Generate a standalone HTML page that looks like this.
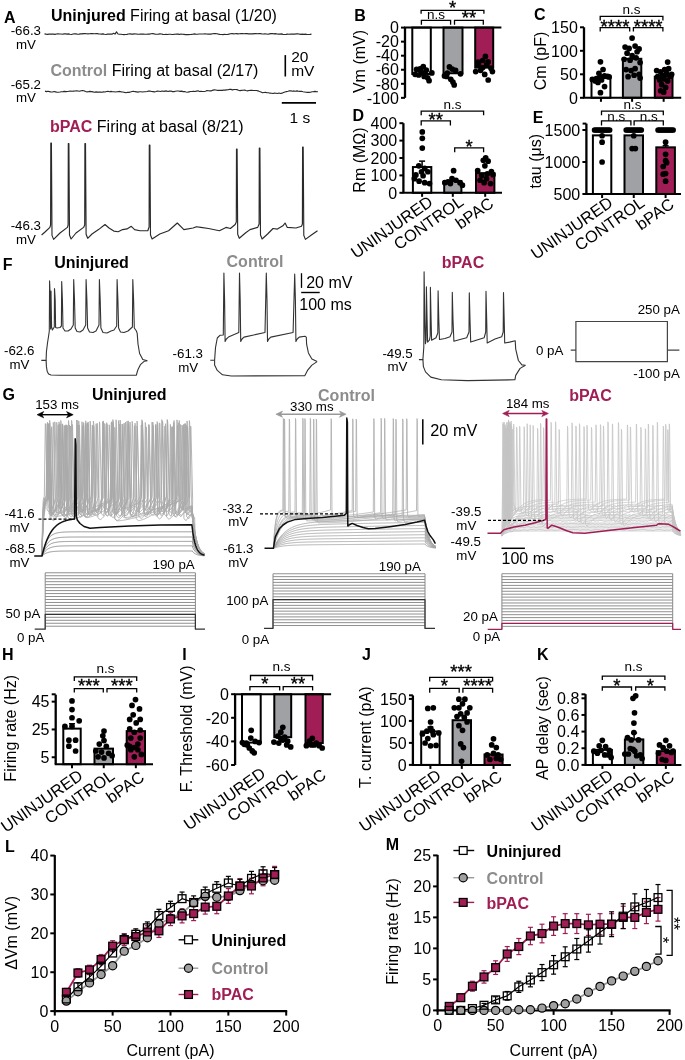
<!DOCTYPE html>
<html><head><meta charset="utf-8"><style>
html,body{margin:0;padding:0;background:#fff;width:685px;height:1060px;overflow:hidden}
svg{display:block;font-family:"Liberation Sans", sans-serif;will-change:transform}
</style></head><body>
<svg width="685" height="1060" viewBox="0 0 685 1060">
<text x="4" y="22.6" font-size="16" font-weight="bold" fill="#000" text-anchor="start">A</text>
<text x="51" y="20.9" font-size="16"><tspan font-weight="bold">Uninjured</tspan> Firing at basal (1/20)</text>
<text x="50.4" y="75.9" font-size="16"><tspan font-weight="bold" fill="#8c8c8c">Control</tspan> Firing at basal (2/17)</text>
<text x="50" y="131.8" font-size="16"><tspan font-weight="bold" fill="#a01e55">bPAC</tspan> Firing at basal (8/21)</text>
<text x="41" y="35" font-size="13.3" fill="#000" text-anchor="end">-66.3</text>
<text x="36" y="48.8" font-size="13.3" fill="#000" text-anchor="end">mV</text>
<text x="41" y="88.8" font-size="13.3" fill="#000" text-anchor="end">-65.2</text>
<text x="36" y="102.4" font-size="13.3" fill="#000" text-anchor="end">mV</text>
<text x="41" y="230.3" font-size="13.3" fill="#000" text-anchor="end">-46.3</text>
<text x="36" y="243.8" font-size="13.3" fill="#000" text-anchor="end">mV</text>
<path d="M44.5 33.84 L46 34.16 L47.5 34.33 L49 34.09 L50.5 34.09 L52 34.06 L53.5 34.18 L55 34.36 L56.5 33.99 L58 33.7 L59.5 34.05 L61 34.02 L62.5 34.23 L64 33.84 L65.5 33.88 L67 34.1 L68.5 33.91 L70 34.28 L71.5 34.51 L73 34.06 L74.5 33.74 L76 33.87 L77.5 34.25 L79 34.12 L80.5 33.92 L82 33.92 L83.5 33.64 L85 33.58 L86.5 33.7 L88 33.81 L89.5 33.71 L91 33.64 L92.5 33.58 L94 33.71 L95.5 33.68 L97 33.47 L98.5 33.9 L100 34 L101.5 34.13 L103 33.9 L104.5 34.3 L106 34.49 L107.5 34.11 L109 33.99 L110.5 34.18 L112 34.18 L113.5 33.35 L115 34.08 L116.5 31.82 L118 33.99 L119.5 34.25 L121 34.26 L122.5 34.48 L124 34.61 L125.5 34.46 L127 34.42 L128.5 33.99 L130 33.85 L131.5 34.13 L133 34.06 L134.5 33.84 L136 33.96 L137.5 34.14 L139 34.25 L140.5 34.12 L142 34.07 L143.5 34.08 L145 34.28 L146.5 34.24 L148 34.13 L149.5 34.11 L151 33.78 L152.5 33.56 L154 33.86 L155.5 34.27 L157 34.28 L158.5 34.15 L160 33.91 L161.5 33.97 L163 34.34 L164.5 34.46 L166 34.38 L167.5 34.55 L169 34.23 L170.5 34.2 L172 34.49 L173.5 34.42 L175 34.3 L176.5 34.08 L178 34.12 L179.5 34.43 L181 33.99 L182.5 34.22 L184 34.41 L185.5 34.59 L187 34.61 L188.5 34.67 L190 34.51 L191.5 34.43 L193 34.28 L194.5 33.92 L196 34.23 L197.5 34.24 L199 33.99 L200.5 34.02 L202 34.04 L203.5 33.96 L205 33.89 L206.5 33.98 L208 34.1 L209.5 34.18 L211 34.13 L212.5 33.79 L214 33.69 L215.5 33.59 L217 33.8 L218.5 34.14 L220 34.34 L221.5 34.48 L223 34.58 L224.5 34.27 L226 34.46 L227.5 34.47 L229 34.07 L230.5 33.74 L232 33.51 L233.5 33.86 L235 33.76 L236.5 33.59 L238 33.83 L239.5 33.8 L241 33.59 L242.5 33.5 L244 33.7 L245.5 33.59 L247 33.58 L248.5 33.89 L250 33.92 L251.5 33.85 L253 33.91 L254.5 33.63 L256 33.69 L257.5 33.76 L259 33.64 L260.5 33.51 L262 33.96 L263.5 34.01 L265 33.83 L266.5 33.99 L268 34.24 L269.5 33.87 L271 33.6 L272.5 33.5 L274 33.83 L275.5 33.68 L277 33.95 L278.5 34.12 L280 34.14 L281.5 33.93 L283 34.32 L284.5 34.46 L286 34.36 L287.5 34.09 L289 34.2 L290.5 34.09 L292 34.15 L293.5 34.01 L295 34.13 L296.5 33.81 L298 33.76 L299.5 34.19 L301 34.42 L302.5 34.19 L304 34.41 L305.5 34.19 L307 34.47 L308.5 34.53 L310 34.34 L311.5 34.1" fill="none" stroke="#2a2a2a" stroke-width="1.15" stroke-linejoin="round"/>
<path d="M45 91.16 L46.5 91.63 L48 91.21 L49.5 91.61 L51 92.02 L52.5 91.96 L54 91.56 L55.5 91.9 L57 92.24 L58.5 92.23 L60 92.05 L61.5 91.8 L63 91.61 L64.5 91.34 L66 91.57 L67.5 91.52 L69 91.26 L70.5 90.99 L72 91.28 L73.5 91.09 L75 91.05 L76.5 90.77 L78 91.02 L79.5 91.24 L81 90.7 L82.5 90.61 L84 90.77 L85.5 91.51 L87 91.85 L88.5 91.66 L90 91.4 L91.5 91.63 L93 91.92 L94.5 92.22 L96 91.89 L97.5 92.15 L99 92.15 L100.5 91.97 L102 92.3 L103.5 91.85 L105 91.98 L106.5 91.49 L108 91.23 L109.5 91.71 L111 91.42 L112.5 91.71 L114 91.76 L115.5 92.02 L117 91.78 L118.5 91.6 L120 91.44 L121.5 91.87 L123 91.98 L124.5 92.43 L126 92.73 L127.5 92.3 L129 92.37 L130.5 91.97 L132 91.56 L133.5 91.24 L135 91.68 L136.5 91.89 L138 92.07 L139.5 91.76 L141 91.8 L142.5 91.99 L144 91.76 L145.5 91.77 L147 91.47 L148.5 91.13 L150 91.05 L151.5 91.54 L153 91.56 L154.5 91.83 L156 91.53 L157.5 91.11 L159 91.26 L160.5 91.47 L162 90.97 L163.5 91.31 L165 91.06 L166.5 90.92 L168 91.5 L169.5 91.13 L171 91.05 L172.5 91.65 L174 91.57 L175.5 91.23 L177 91.04 L178.5 90.98 L180 91.38 L181.5 91.09 L183 91.61 L184.5 91.5 L186 91.95 L187.5 92.22 L189 91.85 L190.5 91.55 L192 91.54 L193.5 91.2 L195 91.46 L196.5 91.09 L198 90.8 L199.5 91.47 L201 91.33 L202.5 91.5 L204 91.48 L205.5 91.24 L207 90.57 L208.5 90.77 L210 90.86 L211.5 90.82 L213 90.14 L214.5 89.84 L216 90 L217.5 90.43 L219 90.34 L220.5 90.41 L222 90.43 L223.5 90.08 L225 90.1 L226.5 89.89 L228 89.7 L229.5 89.41 L231 89.39 L232.5 89.89 L234 89.53 L235.5 89.52 L237 89.65 L238.5 90.21 L240 90.68 L241.5 90.42 L243 90.26 L244.5 90.14 L246 90.53 L247.5 90.84 L249 90.53 L250.5 90.34 L252 90.4 L253.5 90.47 L255 90.54 L256.5 90.51 L258 90.84 L259.5 91.49 L261 92.01 L262.5 92.78 L264 92.55 L265.5 92.39 L267 92.79 L268.5 92.75 L270 93.18 L271.5 93.21 L273 93.56 L274.5 93.17 L276 93.21 L277.5 93.5 L279 93.06 L280.5 93.54 L282 93.17 L283.5 92.56 L285 92.05 L286.5 91.57 L288 91.21 L289.5 90.76 L291 90.82 L292.5 91.22 L294 90.94 L295.5 91.28 L297 90.84 L298.5 91.23 L300 91.41 L301.5 91.3 L303 91.75 L304.5 91.98 L306 92.23 L307.5 92.35 L309 92.35 L310.5 92.29 L312 91.8 L313.5 91.68 L315 91.35 L316.5 91.62 L318 91.76" fill="none" stroke="#2a2a2a" stroke-width="1.15" stroke-linejoin="round"/>
<line x1="285.3" y1="55.1" x2="285.3" y2="76.5" stroke="#000" stroke-width="1.6"/>
<text x="291.2" y="62.1" font-size="15.5" fill="#000" text-anchor="start">20</text>
<text x="291.2" y="75.6" font-size="15.5" fill="#000" text-anchor="start">mV</text>
<line x1="281.8" y1="102.8" x2="316" y2="102.8" stroke="#000" stroke-width="1.8"/>
<text x="289.6" y="122.9" font-size="15.5" fill="#000" text-anchor="start">1 s</text>
<path d="M41.6 235 L45 232 L49.9 227.4 L50.6 225 L50.8 143 L51.4 143 L52 235.4 L53.6 239.4 L60 233 L67.4 227.4 L68.1 225 L68.3 143.5 L68.9 143.5 L69.5 235 L71.1 239 L76 233 L83.6 227.4 L84.7 225 L84.9 143.5 L85.5 143.5 L86.1 234.3 L87.7 238.3 L92 234 L98.5 229.6 L105 224.5 L109 228 L113.8 231.1 L118.2 231.7 L122.6 229.6 L127 228.9 L131.3 226.3 L134.6 229.6 L140 230.7 L147.8 230.7 L149.1 227 L149.3 145 L149.9 145 L150.5 235 L152.1 239 L159.8 234 L168.6 230.7 L177.3 223 L183.9 229.6 L193.1 228 L196.4 226.7 L200.8 227.4 L208.5 228.5 L219.4 230.7 L226 227.4 L230.4 228.5 L235.2 224.5 L236.3 222 L236.5 149 L237.1 149 L237.7 234.3 L239.3 238.3 L245.7 232.8 L250 229.6 L257.7 227.4 L259.1 224 L259.3 148 L259.9 148 L260.5 235 L262.1 239 L267.6 234 L273 228.5 L277.4 229.1 L282.9 225.8 L285.1 223 L287.3 227.4 L296 228 L301.5 226.3 L302.4 224 L302.6 147 L303.2 147 L303.8 235.4 L305.4 239.4 L311.4 235 L317.5 230.7" fill="none" stroke="#2a2a2a" stroke-width="1.15" stroke-linejoin="round"/>
<text x="354.2" y="20.8" font-size="16" font-weight="bold" fill="#000" text-anchor="start">B</text>
<rect x="412.3" y="27.6" width="18.5" height="46.37" fill="#fff" stroke="#000" stroke-width="2"/>
<circle cx="416.55" cy="69.47" r="2.85" fill="#000" stroke="none" stroke-width="0"/>
<circle cx="420.05" cy="68.77" r="2.85" fill="#000" stroke="none" stroke-width="0"/>
<circle cx="423.25" cy="66.66" r="2.85" fill="#000" stroke="none" stroke-width="0"/>
<circle cx="426.25" cy="70.17" r="2.85" fill="#000" stroke="none" stroke-width="0"/>
<circle cx="431.85" cy="72.91" r="2.85" fill="#000" stroke="none" stroke-width="0"/>
<circle cx="415.15" cy="74.32" r="2.85" fill="#000" stroke="none" stroke-width="0"/>
<circle cx="418.65" cy="75.02" r="2.85" fill="#000" stroke="none" stroke-width="0"/>
<circle cx="422.15" cy="72.91" r="2.85" fill="#000" stroke="none" stroke-width="0"/>
<circle cx="424.15" cy="76.42" r="2.85" fill="#000" stroke="none" stroke-width="0"/>
<circle cx="427.65" cy="77.83" r="2.85" fill="#000" stroke="none" stroke-width="0"/>
<circle cx="429.05" cy="80.64" r="2.85" fill="#000" stroke="none" stroke-width="0"/>
<circle cx="420.75" cy="70.87" r="2.85" fill="#000" stroke="none" stroke-width="0"/>
<rect x="443.5" y="27.6" width="19" height="45.66" fill="#a0a1a5" stroke="#000" stroke-width="2"/>
<circle cx="444.5" cy="75.93" r="2.85" fill="#000" stroke="none" stroke-width="0"/>
<circle cx="447.3" cy="73.12" r="2.85" fill="#000" stroke="none" stroke-width="0"/>
<circle cx="449.4" cy="66.94" r="2.85" fill="#000" stroke="none" stroke-width="0"/>
<circle cx="452.2" cy="69.05" r="2.85" fill="#000" stroke="none" stroke-width="0"/>
<circle cx="455.6" cy="70.45" r="2.85" fill="#000" stroke="none" stroke-width="0"/>
<circle cx="460.5" cy="73.82" r="2.85" fill="#000" stroke="none" stroke-width="0"/>
<circle cx="450.8" cy="79.37" r="2.85" fill="#000" stroke="none" stroke-width="0"/>
<circle cx="454.2" cy="84.92" r="2.85" fill="#000" stroke="none" stroke-width="0"/>
<circle cx="452.9" cy="82.11" r="2.85" fill="#000" stroke="none" stroke-width="0"/>
<circle cx="446.6" cy="76.42" r="2.85" fill="#000" stroke="none" stroke-width="0"/>
<rect x="475.2" y="27.6" width="18" height="40.04" fill="#a01e55" stroke="#000" stroke-width="2"/>
<circle cx="485.4" cy="56.4" r="2.85" fill="#000" stroke="none" stroke-width="0"/>
<circle cx="482.7" cy="60.48" r="2.85" fill="#000" stroke="none" stroke-width="0"/>
<circle cx="488.2" cy="61.88" r="2.85" fill="#000" stroke="none" stroke-width="0"/>
<circle cx="478.5" cy="64.69" r="2.85" fill="#000" stroke="none" stroke-width="0"/>
<circle cx="491" cy="68.2" r="2.85" fill="#000" stroke="none" stroke-width="0"/>
<circle cx="475.7" cy="71.58" r="2.85" fill="#000" stroke="none" stroke-width="0"/>
<circle cx="480.6" cy="70.31" r="2.85" fill="#000" stroke="none" stroke-width="0"/>
<circle cx="484.7" cy="74.39" r="2.85" fill="#000" stroke="none" stroke-width="0"/>
<circle cx="488.2" cy="80.01" r="2.85" fill="#000" stroke="none" stroke-width="0"/>
<circle cx="492.4" cy="71.58" r="2.85" fill="#000" stroke="none" stroke-width="0"/>
<circle cx="482.7" cy="67.5" r="2.85" fill="#000" stroke="none" stroke-width="0"/>
<circle cx="478.2" cy="62.02" r="2.85" fill="#000" stroke="none" stroke-width="0"/>
<circle cx="486.7" cy="64.83" r="2.85" fill="#000" stroke="none" stroke-width="0"/>
<line x1="405" y1="27.6" x2="405" y2="97.85" stroke="#000" stroke-width="2.3"/>
<line x1="401" y1="27.6" x2="405" y2="27.6" stroke="#000" stroke-width="2"/>
<text x="398.8" y="33.3" font-size="16" fill="#000" text-anchor="end">0</text>
<line x1="401" y1="41.65" x2="405" y2="41.65" stroke="#000" stroke-width="2"/>
<text x="398.8" y="47.35" font-size="16" fill="#000" text-anchor="end">-20</text>
<line x1="401" y1="55.7" x2="405" y2="55.7" stroke="#000" stroke-width="2"/>
<text x="398.8" y="61.4" font-size="16" fill="#000" text-anchor="end">-40</text>
<line x1="401" y1="69.75" x2="405" y2="69.75" stroke="#000" stroke-width="2"/>
<text x="398.8" y="75.45" font-size="16" fill="#000" text-anchor="end">-60</text>
<line x1="401" y1="83.8" x2="405" y2="83.8" stroke="#000" stroke-width="2"/>
<text x="398.8" y="89.5" font-size="16" fill="#000" text-anchor="end">-80</text>
<line x1="401" y1="97.85" x2="405" y2="97.85" stroke="#000" stroke-width="2"/>
<text x="398.8" y="103.55" font-size="16" fill="#000" text-anchor="end">-100</text>
<line x1="404" y1="27.6" x2="501.4" y2="27.6" stroke="#000" stroke-width="2"/>
<text x="364.5" y="61.5" font-size="16" fill="#000" text-anchor="middle" transform="rotate(-90 364.5 61.5)">Vm (mV)</text>
<path d="M421.1 13.8 L421.1 10.3 L483.9 10.3 L483.9 13.8" fill="none" stroke="#000" stroke-width="1.3"/>
<text x="452.5" y="14" font-size="18.5" fill="#000" text-anchor="middle" stroke="#000" stroke-width="0.35">*</text>
<path d="M421.4 24.8 L421.4 20.4 L450.6 20.4 L450.6 24.8" fill="none" stroke="#000" stroke-width="1.3"/>
<text x="436" y="18.5" font-size="13.5" fill="#000" text-anchor="middle">n.s</text>
<path d="M454.5 24.8 L454.5 20.4 L483.3 20.4 L483.3 24.8" fill="none" stroke="#000" stroke-width="1.3"/>
<text x="468.9" y="24.1" font-size="18.5" fill="#000" text-anchor="middle" stroke="#000" stroke-width="0.35">**</text>
<text x="534.1" y="20.3" font-size="16" font-weight="bold" fill="#000" text-anchor="start">C</text>
<rect x="591.5" y="78.06" width="18.9" height="19.74" fill="#fff" stroke="#000" stroke-width="2"/>
<circle cx="600.45" cy="61.8" r="2.85" fill="#000" stroke="none" stroke-width="0"/>
<circle cx="603.05" cy="69.51" r="2.85" fill="#000" stroke="none" stroke-width="0"/>
<circle cx="598.95" cy="73.36" r="2.85" fill="#000" stroke="none" stroke-width="0"/>
<circle cx="592.35" cy="79.47" r="2.85" fill="#000" stroke="none" stroke-width="0"/>
<circle cx="596.35" cy="78.53" r="2.85" fill="#000" stroke="none" stroke-width="0"/>
<circle cx="600.45" cy="76.88" r="2.85" fill="#000" stroke="none" stroke-width="0"/>
<circle cx="604.55" cy="75.8" r="2.85" fill="#000" stroke="none" stroke-width="0"/>
<circle cx="609.15" cy="76.88" r="2.85" fill="#000" stroke="none" stroke-width="0"/>
<circle cx="607.65" cy="76.41" r="2.85" fill="#000" stroke="none" stroke-width="0"/>
<circle cx="597.95" cy="82.48" r="2.85" fill="#000" stroke="none" stroke-width="0"/>
<circle cx="604.55" cy="86.61" r="2.85" fill="#000" stroke="none" stroke-width="0"/>
<circle cx="600.45" cy="92.68" r="2.85" fill="#000" stroke="none" stroke-width="0"/>
<circle cx="595.35" cy="80.88" r="2.85" fill="#000" stroke="none" stroke-width="0"/>
<circle cx="601.55" cy="79.94" r="2.85" fill="#000" stroke="none" stroke-width="0"/>
<rect x="622.9" y="58.79" width="18.4" height="39.01" fill="#a0a1a5" stroke="#000" stroke-width="2"/>
<circle cx="632.1" cy="38.11" r="2.85" fill="#000" stroke="none" stroke-width="0"/>
<circle cx="625.1" cy="47.04" r="2.85" fill="#000" stroke="none" stroke-width="0"/>
<circle cx="629.1" cy="48.45" r="2.85" fill="#000" stroke="none" stroke-width="0"/>
<circle cx="635.1" cy="46.1" r="2.85" fill="#000" stroke="none" stroke-width="0"/>
<circle cx="639.1" cy="48.92" r="2.85" fill="#000" stroke="none" stroke-width="0"/>
<circle cx="627.1" cy="53.15" r="2.85" fill="#000" stroke="none" stroke-width="0"/>
<circle cx="632.1" cy="55.5" r="2.85" fill="#000" stroke="none" stroke-width="0"/>
<circle cx="637.1" cy="51.74" r="2.85" fill="#000" stroke="none" stroke-width="0"/>
<circle cx="624.1" cy="59.26" r="2.85" fill="#000" stroke="none" stroke-width="0"/>
<circle cx="630.1" cy="60.2" r="2.85" fill="#000" stroke="none" stroke-width="0"/>
<circle cx="636.1" cy="57.85" r="2.85" fill="#000" stroke="none" stroke-width="0"/>
<circle cx="640.1" cy="62.55" r="2.85" fill="#000" stroke="none" stroke-width="0"/>
<circle cx="626.1" cy="69.6" r="2.85" fill="#000" stroke="none" stroke-width="0"/>
<circle cx="631.1" cy="70.54" r="2.85" fill="#000" stroke="none" stroke-width="0"/>
<circle cx="635.1" cy="68.66" r="2.85" fill="#000" stroke="none" stroke-width="0"/>
<circle cx="639.1" cy="74.3" r="2.85" fill="#000" stroke="none" stroke-width="0"/>
<circle cx="628.1" cy="76.65" r="2.85" fill="#000" stroke="none" stroke-width="0"/>
<circle cx="634.1" cy="75.24" r="2.85" fill="#000" stroke="none" stroke-width="0"/>
<circle cx="640.1" cy="78.06" r="2.85" fill="#000" stroke="none" stroke-width="0"/>
<rect x="654.8" y="76.65" width="17.7" height="21.15" fill="#a01e55" stroke="#000" stroke-width="2"/>
<circle cx="656.65" cy="70.54" r="2.85" fill="#000" stroke="none" stroke-width="0"/>
<circle cx="660.65" cy="71.95" r="2.85" fill="#000" stroke="none" stroke-width="0"/>
<circle cx="664.65" cy="69.6" r="2.85" fill="#000" stroke="none" stroke-width="0"/>
<circle cx="668.65" cy="68.66" r="2.85" fill="#000" stroke="none" stroke-width="0"/>
<circle cx="671.65" cy="74.3" r="2.85" fill="#000" stroke="none" stroke-width="0"/>
<circle cx="657.65" cy="76.65" r="2.85" fill="#000" stroke="none" stroke-width="0"/>
<circle cx="662.65" cy="75.24" r="2.85" fill="#000" stroke="none" stroke-width="0"/>
<circle cx="666.65" cy="73.36" r="2.85" fill="#000" stroke="none" stroke-width="0"/>
<circle cx="670.65" cy="76.18" r="2.85" fill="#000" stroke="none" stroke-width="0"/>
<circle cx="659.65" cy="79.94" r="2.85" fill="#000" stroke="none" stroke-width="0"/>
<circle cx="663.65" cy="79" r="2.85" fill="#000" stroke="none" stroke-width="0"/>
<circle cx="667.65" cy="80.88" r="2.85" fill="#000" stroke="none" stroke-width="0"/>
<circle cx="661.65" cy="84.64" r="2.85" fill="#000" stroke="none" stroke-width="0"/>
<circle cx="665.65" cy="87.46" r="2.85" fill="#000" stroke="none" stroke-width="0"/>
<circle cx="660.65" cy="90.75" r="2.85" fill="#000" stroke="none" stroke-width="0"/>
<circle cx="663.65" cy="92.16" r="2.85" fill="#000" stroke="none" stroke-width="0"/>
<circle cx="667.65" cy="62.08" r="2.85" fill="#000" stroke="none" stroke-width="0"/>
<line x1="584" y1="27.3" x2="584" y2="97.8" stroke="#000" stroke-width="2.3"/>
<line x1="580" y1="97.8" x2="584" y2="97.8" stroke="#000" stroke-width="2"/>
<text x="577.8" y="103.5" font-size="16" fill="#000" text-anchor="end">0</text>
<line x1="580" y1="74.3" x2="584" y2="74.3" stroke="#000" stroke-width="2"/>
<text x="577.8" y="80" font-size="16" fill="#000" text-anchor="end">50</text>
<line x1="580" y1="50.8" x2="584" y2="50.8" stroke="#000" stroke-width="2"/>
<text x="577.8" y="56.5" font-size="16" fill="#000" text-anchor="end">100</text>
<line x1="580" y1="27.3" x2="584" y2="27.3" stroke="#000" stroke-width="2"/>
<text x="577.8" y="33" font-size="16" fill="#000" text-anchor="end">150</text>
<line x1="583" y1="97.8" x2="681.2" y2="97.8" stroke="#000" stroke-width="2"/>
<line x1="600.95" y1="97.8" x2="600.95" y2="101.8" stroke="#000" stroke-width="2"/>
<line x1="632.1" y1="97.8" x2="632.1" y2="101.8" stroke="#000" stroke-width="2"/>
<line x1="663.65" y1="97.8" x2="663.65" y2="101.8" stroke="#000" stroke-width="2"/>
<text x="546" y="61" font-size="16" fill="#000" text-anchor="middle" transform="rotate(-90 546 61)">Cm (pF)</text>
<path d="M600.2 20.4 L600.2 16.4 L662.9 16.4 L662.9 20.4" fill="none" stroke="#000" stroke-width="1.3"/>
<text x="631.55" y="14.2" font-size="13.5" fill="#000" text-anchor="middle">n.s</text>
<path d="M600.2 31.6 L600.2 27.6 L629.7 27.6 L629.7 31.6" fill="none" stroke="#000" stroke-width="1.3"/>
<text x="614.95" y="32.7" font-size="18.5" fill="#000" text-anchor="middle" stroke="#000" stroke-width="0.35">****</text>
<path d="M633.4 31.6 L633.4 27.6 L662.9 27.6 L662.9 31.6" fill="none" stroke="#000" stroke-width="1.3"/>
<text x="648.15" y="32.7" font-size="18.5" fill="#000" text-anchor="middle" stroke="#000" stroke-width="0.35">****</text>
<text x="352.6" y="120.8" font-size="16" font-weight="bold" fill="#000" text-anchor="start">D</text>
<rect x="412.9" y="167.05" width="18.4" height="25.75" fill="#fff" stroke="#000" stroke-width="2"/>
<line x1="422.1" y1="167.05" x2="422.1" y2="161.13" stroke="#000" stroke-width="1.5"/>
<line x1="419.1" y1="161.13" x2="425.1" y2="161.13" stroke="#000" stroke-width="1.5"/>
<circle cx="422.3" cy="131.9" r="2.85" fill="#000" stroke="none" stroke-width="0"/>
<circle cx="422.3" cy="138.34" r="2.85" fill="#000" stroke="none" stroke-width="0"/>
<circle cx="422.3" cy="148.08" r="2.85" fill="#000" stroke="none" stroke-width="0"/>
<circle cx="418.8" cy="165.83" r="2.85" fill="#000" stroke="none" stroke-width="0"/>
<circle cx="424.7" cy="168.44" r="2.85" fill="#000" stroke="none" stroke-width="0"/>
<circle cx="427.9" cy="171.75" r="2.85" fill="#000" stroke="none" stroke-width="0"/>
<circle cx="415.9" cy="174.88" r="2.85" fill="#000" stroke="none" stroke-width="0"/>
<circle cx="414.3" cy="178.71" r="2.85" fill="#000" stroke="none" stroke-width="0"/>
<circle cx="419.1" cy="181.14" r="2.85" fill="#000" stroke="none" stroke-width="0"/>
<circle cx="424.7" cy="182.71" r="2.85" fill="#000" stroke="none" stroke-width="0"/>
<circle cx="429.5" cy="183.58" r="2.85" fill="#000" stroke="none" stroke-width="0"/>
<circle cx="421.5" cy="171.75" r="2.85" fill="#000" stroke="none" stroke-width="0"/>
<circle cx="423.1" cy="175.75" r="2.85" fill="#000" stroke="none" stroke-width="0"/>
<rect x="444.2" y="181.14" width="17.2" height="11.66" fill="#a0a1a5" stroke="#000" stroke-width="2"/>
<circle cx="453.6" cy="170.7" r="2.85" fill="#000" stroke="none" stroke-width="0"/>
<circle cx="448" cy="181.84" r="2.85" fill="#000" stroke="none" stroke-width="0"/>
<circle cx="452" cy="178.71" r="2.85" fill="#000" stroke="none" stroke-width="0"/>
<circle cx="456" cy="180.27" r="2.85" fill="#000" stroke="none" stroke-width="0"/>
<circle cx="460" cy="182.71" r="2.85" fill="#000" stroke="none" stroke-width="0"/>
<circle cx="462.4" cy="185.14" r="2.85" fill="#000" stroke="none" stroke-width="0"/>
<circle cx="444.8" cy="182.71" r="2.85" fill="#000" stroke="none" stroke-width="0"/>
<circle cx="450.4" cy="183.58" r="2.85" fill="#000" stroke="none" stroke-width="0"/>
<rect x="476" y="173.14" width="18.4" height="19.66" fill="#a01e55" stroke="#000" stroke-width="2"/>
<circle cx="485.7" cy="157.83" r="2.85" fill="#000" stroke="none" stroke-width="0"/>
<circle cx="483.3" cy="160.26" r="2.85" fill="#000" stroke="none" stroke-width="0"/>
<circle cx="488.1" cy="161.13" r="2.85" fill="#000" stroke="none" stroke-width="0"/>
<circle cx="477.7" cy="170.7" r="2.85" fill="#000" stroke="none" stroke-width="0"/>
<circle cx="484.9" cy="165.83" r="2.85" fill="#000" stroke="none" stroke-width="0"/>
<circle cx="491.4" cy="171.57" r="2.85" fill="#000" stroke="none" stroke-width="0"/>
<circle cx="493" cy="174.7" r="2.85" fill="#000" stroke="none" stroke-width="0"/>
<circle cx="481.7" cy="175.57" r="2.85" fill="#000" stroke="none" stroke-width="0"/>
<circle cx="486.5" cy="178.71" r="2.85" fill="#000" stroke="none" stroke-width="0"/>
<circle cx="490.5" cy="183.58" r="2.85" fill="#000" stroke="none" stroke-width="0"/>
<circle cx="484.1" cy="182.71" r="2.85" fill="#000" stroke="none" stroke-width="0"/>
<circle cx="480.1" cy="180.27" r="2.85" fill="#000" stroke="none" stroke-width="0"/>
<circle cx="487.3" cy="173.83" r="2.85" fill="#000" stroke="none" stroke-width="0"/>
<line x1="403.4" y1="123.2" x2="403.4" y2="192.8" stroke="#000" stroke-width="2.3"/>
<line x1="399.4" y1="192.8" x2="403.4" y2="192.8" stroke="#000" stroke-width="2"/>
<text x="397.2" y="198.5" font-size="16" fill="#000" text-anchor="end">0</text>
<line x1="399.4" y1="175.4" x2="403.4" y2="175.4" stroke="#000" stroke-width="2"/>
<text x="397.2" y="181.1" font-size="16" fill="#000" text-anchor="end">100</text>
<line x1="399.4" y1="158" x2="403.4" y2="158" stroke="#000" stroke-width="2"/>
<text x="397.2" y="163.7" font-size="16" fill="#000" text-anchor="end">200</text>
<line x1="399.4" y1="140.6" x2="403.4" y2="140.6" stroke="#000" stroke-width="2"/>
<text x="397.2" y="146.3" font-size="16" fill="#000" text-anchor="end">300</text>
<line x1="399.4" y1="123.2" x2="403.4" y2="123.2" stroke="#000" stroke-width="2"/>
<text x="397.2" y="128.9" font-size="16" fill="#000" text-anchor="end">400</text>
<line x1="402.4" y1="192.8" x2="502" y2="192.8" stroke="#000" stroke-width="2"/>
<line x1="422.1" y1="192.8" x2="422.1" y2="196.8" stroke="#000" stroke-width="2"/>
<line x1="452.8" y1="192.8" x2="452.8" y2="196.8" stroke="#000" stroke-width="2"/>
<line x1="485.2" y1="192.8" x2="485.2" y2="196.8" stroke="#000" stroke-width="2"/>
<text x="434.1" y="204.3" font-size="16.5" fill="#000" text-anchor="end" transform="rotate(-35 434.1 204.3)">UNINJURED</text>
<text x="464.8" y="204.3" font-size="16.5" fill="#000" text-anchor="end" transform="rotate(-35 464.8 204.3)">CONTROL</text>
<text x="494.9" y="205.8" font-size="16.5" fill="#000" text-anchor="end" transform="rotate(-35 494.9 205.8)">bPAC</text>
<text x="364.5" y="160" font-size="16" fill="#000" text-anchor="middle" transform="rotate(-90 364.5 160)">Rm (MΩ)</text>
<path d="M421.2 115.2 L421.2 111.2 L483.6 111.2 L483.6 115.2" fill="none" stroke="#000" stroke-width="1.3"/>
<text x="452.4" y="108.8" font-size="13.5" fill="#000" text-anchor="middle">n.s</text>
<path d="M421.2 125.4 L421.2 120.9 L450.4 120.9 L450.4 125.4" fill="none" stroke="#000" stroke-width="1.3"/>
<text x="435.8" y="126.4" font-size="18.5" fill="#000" text-anchor="middle" stroke="#000" stroke-width="0.35">**</text>
<path d="M454.7 152.2 L454.7 147.9 L483.6 147.9 L483.6 152.2" fill="none" stroke="#000" stroke-width="1.3"/>
<text x="469.15" y="153.3" font-size="18.5" fill="#000" text-anchor="middle" stroke="#000" stroke-width="0.35">*</text>
<text x="532.8" y="122.5" font-size="16" font-weight="bold" fill="#000" text-anchor="start">E</text>
<rect x="592.9" y="135.38" width="18.4" height="58.62" fill="#fff" stroke="#000" stroke-width="2"/>
<circle cx="594.6" cy="130" r="2.85" fill="#000" stroke="none" stroke-width="0"/>
<circle cx="596.27" cy="130" r="2.85" fill="#000" stroke="none" stroke-width="0"/>
<circle cx="597.93" cy="130" r="2.85" fill="#000" stroke="none" stroke-width="0"/>
<circle cx="599.6" cy="130" r="2.85" fill="#000" stroke="none" stroke-width="0"/>
<circle cx="601.27" cy="130" r="2.85" fill="#000" stroke="none" stroke-width="0"/>
<circle cx="602.93" cy="130" r="2.85" fill="#000" stroke="none" stroke-width="0"/>
<circle cx="604.6" cy="130" r="2.85" fill="#000" stroke="none" stroke-width="0"/>
<circle cx="606.27" cy="130" r="2.85" fill="#000" stroke="none" stroke-width="0"/>
<circle cx="607.93" cy="130" r="2.85" fill="#000" stroke="none" stroke-width="0"/>
<circle cx="609.6" cy="130" r="2.85" fill="#000" stroke="none" stroke-width="0"/>
<circle cx="602.1" cy="135.76" r="2.85" fill="#000" stroke="none" stroke-width="0"/>
<circle cx="602.1" cy="142.16" r="2.85" fill="#000" stroke="none" stroke-width="0"/>
<circle cx="602.1" cy="162" r="2.85" fill="#000" stroke="none" stroke-width="0"/>
<rect x="624.5" y="135.38" width="18.5" height="58.62" fill="#a0a1a5" stroke="#000" stroke-width="2"/>
<circle cx="626.25" cy="130" r="2.85" fill="#000" stroke="none" stroke-width="0"/>
<circle cx="627.92" cy="130" r="2.85" fill="#000" stroke="none" stroke-width="0"/>
<circle cx="629.58" cy="130" r="2.85" fill="#000" stroke="none" stroke-width="0"/>
<circle cx="631.25" cy="130" r="2.85" fill="#000" stroke="none" stroke-width="0"/>
<circle cx="632.92" cy="130" r="2.85" fill="#000" stroke="none" stroke-width="0"/>
<circle cx="634.58" cy="130" r="2.85" fill="#000" stroke="none" stroke-width="0"/>
<circle cx="636.25" cy="130" r="2.85" fill="#000" stroke="none" stroke-width="0"/>
<circle cx="637.92" cy="130" r="2.85" fill="#000" stroke="none" stroke-width="0"/>
<circle cx="639.58" cy="130" r="2.85" fill="#000" stroke="none" stroke-width="0"/>
<circle cx="641.25" cy="130" r="2.85" fill="#000" stroke="none" stroke-width="0"/>
<circle cx="633.75" cy="135.76" r="2.85" fill="#000" stroke="none" stroke-width="0"/>
<circle cx="632.15" cy="148.56" r="2.85" fill="#000" stroke="none" stroke-width="0"/>
<circle cx="635.35" cy="148.56" r="2.85" fill="#000" stroke="none" stroke-width="0"/>
<rect x="656.3" y="147.34" width="18.6" height="46.66" fill="#a01e55" stroke="#000" stroke-width="2"/>
<line x1="665.6" y1="147.34" x2="665.6" y2="145.74" stroke="#000" stroke-width="1.5"/>
<line x1="662.6" y1="145.74" x2="668.6" y2="145.74" stroke="#000" stroke-width="1.5"/>
<circle cx="658.1" cy="130" r="2.85" fill="#000" stroke="none" stroke-width="0"/>
<circle cx="659.77" cy="130" r="2.85" fill="#000" stroke="none" stroke-width="0"/>
<circle cx="661.43" cy="130" r="2.85" fill="#000" stroke="none" stroke-width="0"/>
<circle cx="663.1" cy="130" r="2.85" fill="#000" stroke="none" stroke-width="0"/>
<circle cx="664.77" cy="130" r="2.85" fill="#000" stroke="none" stroke-width="0"/>
<circle cx="666.43" cy="130" r="2.85" fill="#000" stroke="none" stroke-width="0"/>
<circle cx="668.1" cy="130" r="2.85" fill="#000" stroke="none" stroke-width="0"/>
<circle cx="669.77" cy="130" r="2.85" fill="#000" stroke="none" stroke-width="0"/>
<circle cx="671.43" cy="130" r="2.85" fill="#000" stroke="none" stroke-width="0"/>
<circle cx="673.1" cy="130" r="2.85" fill="#000" stroke="none" stroke-width="0"/>
<circle cx="665.6" cy="142.16" r="2.85" fill="#000" stroke="none" stroke-width="0"/>
<circle cx="665.6" cy="154.32" r="2.85" fill="#000" stroke="none" stroke-width="0"/>
<circle cx="665.6" cy="160.72" r="2.85" fill="#000" stroke="none" stroke-width="0"/>
<circle cx="663.2" cy="166.48" r="2.85" fill="#000" stroke="none" stroke-width="0"/>
<circle cx="665.6" cy="173.52" r="2.85" fill="#000" stroke="none" stroke-width="0"/>
<circle cx="663.2" cy="174.16" r="2.85" fill="#000" stroke="none" stroke-width="0"/>
<circle cx="665.6" cy="181.2" r="2.85" fill="#000" stroke="none" stroke-width="0"/>
<circle cx="666.6" cy="162.64" r="2.85" fill="#000" stroke="none" stroke-width="0"/>
<line x1="586.4" y1="123.6" x2="586.4" y2="194" stroke="#000" stroke-width="2.3"/>
<line x1="582.4" y1="194" x2="586.4" y2="194" stroke="#000" stroke-width="2"/>
<text x="580.2" y="199.7" font-size="16" fill="#000" text-anchor="end">500</text>
<line x1="582.4" y1="162" x2="586.4" y2="162" stroke="#000" stroke-width="2"/>
<text x="580.2" y="167.7" font-size="16" fill="#000" text-anchor="end">1000</text>
<line x1="582.4" y1="130" x2="586.4" y2="130" stroke="#000" stroke-width="2"/>
<text x="580.2" y="135.7" font-size="16" fill="#000" text-anchor="end">1500</text>
<line x1="585.4" y1="194" x2="681" y2="194" stroke="#000" stroke-width="2"/>
<line x1="602.1" y1="194" x2="602.1" y2="198" stroke="#000" stroke-width="2"/>
<line x1="633.75" y1="194" x2="633.75" y2="198" stroke="#000" stroke-width="2"/>
<line x1="665.6" y1="194" x2="665.6" y2="198" stroke="#000" stroke-width="2"/>
<text x="614.1" y="205.2" font-size="16.5" fill="#000" text-anchor="end" transform="rotate(-35 614.1 205.2)">UNINJURED</text>
<text x="645.75" y="205.2" font-size="16.5" fill="#000" text-anchor="end" transform="rotate(-35 645.75 205.2)">CONTROL</text>
<text x="675.3" y="206.7" font-size="16.5" fill="#000" text-anchor="end" transform="rotate(-35 675.3 206.7)">bPAC</text>
<text x="541" y="161.2" font-size="16" fill="#000" text-anchor="middle" transform="rotate(-90 541 161.2)">tau (μs)</text>
<path d="M601.5 115.2 L601.5 111.2 L663.3 111.2 L663.3 115.2" fill="none" stroke="#000" stroke-width="1.3"/>
<text x="632.4" y="108.8" font-size="13.5" fill="#000" text-anchor="middle">n.s</text>
<path d="M601.5 125.4 L601.5 120.9 L630.9 120.9 L630.9 125.4" fill="none" stroke="#000" stroke-width="1.3"/>
<text x="616.2" y="120.5" font-size="13.5" fill="#000" text-anchor="middle">n.s</text>
<path d="M634.1 125.4 L634.1 120.9 L663.3 120.9 L663.3 125.4" fill="none" stroke="#000" stroke-width="1.3"/>
<text x="648.7" y="120.5" font-size="13.5" fill="#000" text-anchor="middle">n.s</text>
<text x="2.7" y="269.5" font-size="16" font-weight="bold" fill="#000" text-anchor="start">F</text>
<text x="91.5" y="268.2" font-size="16" font-weight="bold" fill="#000" text-anchor="middle">Uninjured</text>
<text x="255" y="266.8" font-size="16" font-weight="bold" fill="#8c8c8c" text-anchor="middle">Control</text>
<text x="463" y="267.8" font-size="16" font-weight="bold" fill="#a01e55" text-anchor="middle">bPAC</text>
<text x="34.3" y="355.1" font-size="13.3" fill="#000" text-anchor="end">-62.6</text>
<text x="29.4" y="368.5" font-size="13.3" fill="#000" text-anchor="end">mV</text>
<text x="202.9" y="358.2" font-size="13.3" fill="#000" text-anchor="end">-61.3</text>
<text x="198.1" y="371.6" font-size="13.3" fill="#000" text-anchor="end">mV</text>
<text x="412.7" y="357.6" font-size="13.3" fill="#000" text-anchor="end">-49.5</text>
<text x="407.5" y="370.9" font-size="13.3" fill="#000" text-anchor="end">mV</text>
<path d="M41.3 360.4 L46.1 360.4 L46.4 352 L47.5 343 L48.6 336 L49.3 331 L49.6 280.9 L50.3 300 L50.6 329 L51 291 L51.6 327 L52.4 330 L54.3 327 L54.5 288.5 L55.2 300 L55.6 327.5 L57 328 L60 327.5 L61.4 326 L61.7 281.6 L62.4 300 L63 328 L65 331 L68 331 L71 329 L73.3 325 L73.7 279.6 L74.5 300 L75.2 328 L77 331.5 L80 332 L83 330 L85.7 325 L86.1 279.6 L86.9 300 L87.6 328 L89.5 332 L93 332.5 L96 331 L99 325 L99.4 279.6 L100.2 300 L100.9 328 L103 332.5 L107 333 L111 331 L114 330 L116.7 326 L117.1 279.6 L117.9 300 L118.6 328 L120.5 332 L124 332.5 L128 331 L132.4 327 L132.8 279.6 L133.6 300 L134.3 328 L136.4 331 L137.2 333.4 L138 344 L139.6 353.5 L142.8 359.5 L147.3 360.7" fill="none" stroke="#333" stroke-width="1.1" stroke-linejoin="round"/>
<path d="M46.1 360.4 L46.4 366.4 L47.2 371.5 L48.6 374 L51 375 L60 375.2 L136.4 375.2 L137.2 372 L138 369.6 L140.4 364.7 L144.4 361.2 L147.3 360.7" fill="none" stroke="#333" stroke-width="1.1" stroke-linejoin="round"/>
<path d="M210.3 360.2 L214.6 360.2 L215.5 347.6 L217.3 338 L219.9 335.3 L223.3 335 L223.9 273.1 L224.6 300 L225.1 341.5 L226.4 339 L228.4 337.1 L238.8 332.5 L239.5 273.1 L240.2 300 L240.7 341.5 L242 339 L244 337.1 L265 332.5 L266.3 273.1 L267 300 L267.5 341.5 L268.8 339 L270.8 337.1 L293.1 332.5 L294.7 274 L295.4 300 L295.9 341.5 L297.2 339 L299.2 337.1 L304.9 336.2 L306.3 337.1 L306.6 344.1 L308.4 352.9 L311.9 359 L317.1 361.6" fill="none" stroke="#333" stroke-width="1.1" stroke-linejoin="round"/>
<path d="M214.6 360.2 L214.6 365.1 L217.3 370.4 L222.5 374.8 L231.3 376 L304.9 375.6 L307.5 370.4 L311.9 365.1 L317.1 361.6" fill="none" stroke="#333" stroke-width="1.1" stroke-linejoin="round"/>
<line x1="301.5" y1="273.2" x2="301.5" y2="287.9" stroke="#000" stroke-width="1.3"/>
<text x="306.2" y="287.9" font-size="16" fill="#000" text-anchor="start">20 mV</text>
<line x1="301.2" y1="292.5" x2="319.7" y2="292.5" stroke="#000" stroke-width="1.4"/>
<text x="299.3" y="310.2" font-size="16" fill="#000" text-anchor="start">100 ms</text>
<path d="M418.9 359.6 L422.9 359.6 L423.8 347.3 L424.1 271.7 L424.8 320 L425.4 343.8 L426.1 340 L426.4 286.9 L427.1 320 L427.6 342.1 L429.5 340 L430.2 336 L430.4 287.4 L431.1 320 L431.6 340.3 L436 337.7 L437.8 333 L438.1 290.9 L438.8 320 L439.5 339.5 L445 338.5 L450 336.8 L452 332 L452.3 292.2 L453 320 L453.9 341.2 L460 339.5 L466.7 337.7 L469 332 L469.3 292.7 L470 320 L470.7 342.1 L477 340 L484.2 337.7 L485.7 332 L486 291.3 L486.7 320 L487.2 343 L495 339 L501.7 336.8 L503.2 332 L503.5 292.5 L504.2 320 L504.7 343 L509.6 342.1 L515.2 340.7 L515.7 349.1 L518.4 360.5 L521.9 364.9 L525.4 365.2" fill="none" stroke="#333" stroke-width="1.1" stroke-linejoin="round"/>
<path d="M422.9 359.6 L423.4 366.6 L425.5 371.9 L430.8 377.1 L441.3 379.8 L467.6 380.6 L514.9 379.8 L515.7 375.4 L520.1 368.4 L525.4 365.2" fill="none" stroke="#333" stroke-width="1.1" stroke-linejoin="round"/>
<path d="M570.7 350.2 L575.9 350.2 L575.9 321.5 L667.4 321.5 L667.4 350.2 L679.4 350.2 M575.9 350.2 L575.9 361.6 L667.4 361.6 L667.4 350.2" fill="none" stroke="#444" stroke-width="1.2"/>
<text x="679.8" y="313.6" font-size="13.3" fill="#000" text-anchor="end">250 pA</text>
<text x="536" y="355.4" font-size="13.3" fill="#000" text-anchor="start">0 pA</text>
<text x="679.8" y="378.1" font-size="13.3" fill="#000" text-anchor="end">-100 pA</text>
<text x="2.4" y="400.4" font-size="16" font-weight="bold" fill="#000" text-anchor="start">G</text>
<text x="129.3" y="400.1" font-size="16" font-weight="bold" fill="#000" text-anchor="middle">Uninjured</text>
<text x="346.5" y="400.9" font-size="16" font-weight="bold" fill="#8c8c8c" text-anchor="middle">Control</text>
<text x="590.5" y="400.5" font-size="16" font-weight="bold" fill="#a01e55" text-anchor="middle">bPAC</text>
<line x1="40.1" y1="414.7" x2="70.2" y2="414.7" stroke="#000" stroke-width="1.4"/>
<path d="M37.1 414.7 L43.7 411.6 L41.85 414.7 L43.7 417.8 Z" fill="#000" stroke="#000" stroke-width="0.6"/>
<path d="M73.2 414.7 L66.6 411.6 L68.45 414.7 L66.6 417.8 Z" fill="#000" stroke="#000" stroke-width="0.6"/>
<text x="57" y="408.9" font-size="13.3" fill="#000" text-anchor="middle">153 ms</text>
<line x1="278.9" y1="414.2" x2="343.1" y2="414.2" stroke="#999" stroke-width="1.4"/>
<path d="M275.9 414.2 L282.5 411.1 L280.65 414.2 L282.5 417.3 Z" fill="#999" stroke="#999" stroke-width="0.6"/>
<path d="M346.1 414.2 L339.5 411.1 L341.35 414.2 L339.5 417.3 Z" fill="#999" stroke="#999" stroke-width="0.6"/>
<text x="311.8" y="411.1" font-size="13.3" fill="#000" text-anchor="middle">330 ms</text>
<line x1="505.6" y1="413.5" x2="545.4" y2="413.5" stroke="#a01e55" stroke-width="1.4"/>
<path d="M502.6 413.5 L509.2 410.4 L507.35 413.5 L509.2 416.6 Z" fill="#a01e55" stroke="#a01e55" stroke-width="0.6"/>
<path d="M548.4 413.5 L541.8 410.4 L543.65 413.5 L541.8 416.6 Z" fill="#a01e55" stroke="#a01e55" stroke-width="0.6"/>
<text x="527.7" y="407.9" font-size="13.3" fill="#000" text-anchor="middle">184 ms</text>
<path d="M42 556 L42.6 539.35 L43.2 527.61 L43.8 519.34 L44.4 513.52 L45 509.41 L45.6 506.52 L46.2 504.48 L46.8 503.05 L47.4 502.03 L48 501.32 L48.6 500.82 L49.2 500.46 L49.8 500.22 L50.4 500.04 L50.57 500 L51.57 426.75 L51.87 428.75 L53.57 502 L53.32 514.3 L55.57 516.3 L56.17 516.28 L56.77 516.25 L57.37 516.21 L57.97 516.16 L58.57 516.1 L59.17 516.04 L59.77 515.97 L60.37 515.89 L60.97 515.82 L61.57 515.73 L62.17 515.65 L62.77 515.56 L63.37 515.46 L63.97 515.36 L64.57 515.26 L65.17 515.15 L65.77 515.05 L66.37 514.93 L66.97 514.82 L67.57 514.7 L68.17 514.58 L68.77 514.45 L69.37 514.33 L69.97 514.2 L70.57 514.06 L71.17 513.93 L71.77 513.79 L72.37 513.65 L72.97 513.51 L73.57 513.36 L74.17 513.21 L74.77 513.06 L75.37 512.91 L75.97 512.75 L76.57 512.6 L77.17 512.44 L77.77 512.27 L78.37 512.11 L78.97 511.94 L79.57 511.77 L80.17 511.6 L80.77 511.43 L81.37 511.26 L81.97 511.08 L82.57 510.9 L83.17 510.72 L83.77 510.54 L84.37 510.35 L84.97 510.16 L85.57 509.97 L86.17 509.78 L86.77 509.59 L87.37 509.4 L87.97 509.2 L88.57 509 L89.17 508.8 L89.77 508.6 L90.37 508.4 L90.97 508.19 L91.57 507.99 L92.17 507.78 L92.77 507.57 L93.37 507.35 L93.97 507.14 L94.57 506.92 L95.17 506.71 L95.77 506.49 L96.37 506.27 L96.97 506.05 L97.57 505.82 L98.17 505.6 L98.77 505.37 L99.37 505.14 L99.97 504.91 L100.57 504.68 L101.17 504.45 L101.77 504.21 L102.37 503.98 L102.97 503.74 L103.57 503.5 L104.17 503.26 L104.77 503.02 L105.37 502.77 L105.97 502.53 L106.57 502.28 L107.17 502.03 L107.77 501.78 L108.37 501.53 L108.97 501.28 L109.57 501.02 L110.17 500.77 L110.77 500.51 L111.37 500.25 L111.96 500 L112.96 424.01 L113.26 426.01 L114.96 502 L114.71 518.87 L116.96 520.87 L117.56 520.85 L118.16 520.82 L118.76 520.77 L119.36 520.72 L119.96 520.66 L120.56 520.59 L121.16 520.52 L121.76 520.44 L122.36 520.36 L122.96 520.27 L123.56 520.18 L124.16 520.09 L124.76 519.99 L125.36 519.88 L125.96 519.78 L126.56 519.66 L127.16 519.55 L127.76 519.43 L128.36 519.31 L128.96 519.18 L129.56 519.06 L130.16 518.92 L130.76 518.79 L131.36 518.65 L131.96 518.51 L132.56 518.37 L133.16 518.22 L133.76 518.08 L134.36 517.92 L134.96 517.77 L135.56 517.61 L136.16 517.46 L136.76 517.29 L137.36 517.13 L137.96 516.96 L138.56 516.8 L139.16 516.63 L139.76 516.45 L140.36 516.28 L140.96 516.1 L141.56 515.92 L142.16 515.74 L142.76 515.55 L143.36 515.36 L143.96 515.18 L144.56 514.99 L145.16 514.79 L145.76 514.6 L146.36 514.4 L146.96 514.2 L147.56 514 L148.16 513.8 L148.76 513.59 L149.36 513.38 L149.96 513.18 L150.56 512.96 L151.16 512.75 L151.76 512.54 L152.36 512.32 L152.96 512.1 L153.56 511.88 L154.16 511.66 L154.76 511.44 L155.36 511.21 L155.96 510.98 L156.56 510.75 L157.16 510.52 L157.76 510.29 L158.36 510.06 L158.96 509.82 L159.56 509.58 L160.16 509.34 L160.76 509.1 L161.36 508.86 L161.96 508.62 L162.56 508.37 L163.16 508.12 L163.76 507.87 L164.36 507.62 L164.96 507.37 L165.56 507.12 L166.16 506.86 L166.76 506.6 L167.36 506.35 L167.96 506.09 L168.56 505.82 L169.16 505.56 L169.76 505.3 L170.36 505.03 L170.96 504.76 L171.56 504.49 L172.16 504.22 L172.76 503.95 L173.36 503.68 L173.96 503.4 L174.56 503.12 L175.16 502.85 L175.76 502.57 L176.36 502.29 L176.96 502 L177.56 501.72 L178.16 501.44 L178.76 501.15 L179.36 500.86 L179.96 500.57 L180.56 500.28 L181.13 500 L182.13 425.11 L182.43 427.11 L184.13 502 L183.88 518.66 L186.13 520.66 L186.73 519.58 L187.33 518.58 L187.93 517.64 L188.53 516.76 L189.13 515.94 L189.73 515.17 L190.33 514.45 L190.93 513.77 L191.53 513.14 L192.6 519.11 L193.2 524.25 L193.8 528.67 L194.4 532.48 L195 535.76 L195.6 538.58 L196.2 541 L196.8 543.09 L197.4 544.89 L198 546.44 L198.6 547.77 L199.2 548.92 L199.8 549.9 L200.4 550.75 L201 551.48 L201.6 552.11 L202.2 552.65 L202.8 553.12 L203.4 553.52 L204 553.87 L204.6 554.16" fill="none" stroke="#a9a9a9" stroke-width="0.85" stroke-linejoin="round"/>
<path d="M42 556 L42.6 535.39 L43.2 522.28 L43.8 513.93 L44.4 508.62 L45 505.24 L45.6 503.09 L46.2 501.72 L46.8 500.84 L47.4 500.29 L48 499.94 L48.6 499.71 L48.64 499.7 L49.64 420.34 L49.94 422.34 L51.64 501.7 L51.39 513.04 L53.64 515.04 L54.24 514.99 L54.84 514.91 L55.44 514.8 L56.04 514.67 L56.64 514.52 L57.24 514.36 L57.84 514.19 L58.44 514 L59.04 513.79 L59.64 513.58 L60.24 513.36 L60.84 513.12 L61.44 512.87 L62.04 512.62 L62.64 512.36 L63.24 512.08 L63.84 511.8 L64.44 511.51 L65.04 511.21 L65.64 510.91 L66.24 510.59 L66.84 510.27 L67.44 509.94 L68.04 509.61 L68.64 509.26 L69.24 508.91 L69.84 508.56 L70.44 508.19 L71.04 507.82 L71.64 507.45 L72.24 507.06 L72.84 506.68 L73.44 506.28 L74.04 505.88 L74.64 505.47 L75.24 505.06 L75.84 504.64 L76.44 504.22 L77.04 503.79 L77.64 503.35 L78.24 502.91 L78.84 502.46 L79.44 502.01 L80.04 501.55 L80.64 501.09 L81.24 500.62 L81.84 500.15 L82.41 499.7 L83.41 424.54 L83.71 426.54 L85.41 501.7 L85.16 515.47 L87.41 517.47 L88.01 517.43 L88.61 517.34 L89.21 517.23 L89.81 517.1 L90.41 516.95 L91.01 516.79 L91.61 516.61 L92.21 516.42 L92.81 516.22 L93.41 516.01 L94.01 515.78 L94.61 515.55 L95.21 515.3 L95.81 515.05 L96.41 514.78 L97.01 514.51 L97.61 514.23 L98.21 513.94 L98.81 513.64 L99.41 513.33 L100.01 513.02 L100.61 512.7 L101.21 512.37 L101.81 512.03 L102.41 511.69 L103.01 511.34 L103.61 510.98 L104.21 510.61 L104.81 510.24 L105.41 509.87 L106.01 509.48 L106.61 509.09 L107.21 508.7 L107.81 508.3 L108.41 507.89 L109.01 507.47 L109.61 507.05 L110.21 506.63 L110.81 506.2 L111.41 505.76 L112.01 505.32 L112.61 504.87 L113.21 504.42 L113.81 503.96 L114.41 503.5 L115.01 503.03 L115.61 502.56 L116.21 502.08 L116.81 501.59 L117.41 501.11 L118.01 500.61 L118.61 500.11 L119.1 499.7 L120.1 420 L120.4 422 L122.1 501.7 L121.85 515.63 L124.1 517.63 L124.7 517.61 L125.3 517.57 L125.9 517.51 L126.5 517.45 L127.1 517.38 L127.7 517.3 L128.3 517.22 L128.9 517.12 L129.5 517.03 L130.1 516.92 L130.7 516.81 L131.3 516.7 L131.9 516.58 L132.5 516.46 L133.1 516.33 L133.7 516.2 L134.3 516.06 L134.9 515.92 L135.5 515.78 L136.1 515.63 L136.7 515.48 L137.3 515.32 L137.9 515.17 L138.5 515 L139.1 514.84 L139.7 514.67 L140.3 514.5 L140.9 514.32 L141.5 514.14 L142.1 513.96 L142.7 513.77 L143.3 513.59 L143.9 513.39 L144.5 513.2 L145.1 513 L145.7 512.8 L146.3 512.6 L146.9 512.4 L147.5 512.19 L148.1 511.98 L148.7 511.76 L149.3 511.55 L149.9 511.33 L150.5 511.11 L151.1 510.89 L151.7 510.66 L152.3 510.43 L152.9 510.2 L153.5 509.97 L154.1 509.73 L154.7 509.49 L155.3 509.25 L155.9 509.01 L156.5 508.76 L157.1 508.52 L157.7 508.27 L158.3 508.02 L158.9 507.76 L159.5 507.51 L160.1 507.25 L160.7 506.99 L161.3 506.72 L161.9 506.46 L162.5 506.19 L163.1 505.92 L163.7 505.65 L164.3 505.38 L164.9 505.1 L165.5 504.83 L166.1 504.55 L166.7 504.26 L167.3 503.98 L167.9 503.7 L168.5 503.41 L169.1 503.12 L169.7 502.83 L170.3 502.54 L170.9 502.24 L171.5 501.94 L172.1 501.64 L172.7 501.34 L173.3 501.04 L173.9 500.74 L174.5 500.43 L175.1 500.12 L175.7 499.81 L175.92 499.7 L176.92 419.87 L177.22 421.87 L178.92 501.7 L178.67 514.73 L180.92 516.73 L181.52 515.89 L182.12 515.1 L182.72 514.37 L183.32 513.68 L183.92 513.04 L184.52 512.43 L185.12 511.87 L185.72 511.34 L186.32 510.85 L186.92 510.39 L187.52 509.96 L188.12 509.56 L188.72 509.18 L189.32 508.82 L189.92 508.49 L190.52 508.18 L191.12 507.9 L191.72 507.62 L192.6 514.36 L193.2 520.16 L193.8 525.15 L194.4 529.45 L195 533.15 L195.6 536.33 L196.2 539.07 L196.8 541.43 L197.4 543.46 L198 545.21 L198.6 546.71 L199.2 548 L199.8 549.12 L200.4 550.08 L201 550.9 L201.6 551.61 L202.2 552.22 L202.8 552.75 L203.4 553.2 L204 553.59 L204.6 553.93" fill="none" stroke="#a9a9a9" stroke-width="0.85" stroke-linejoin="round"/>
<path d="M42 556 L42.6 534.36 L43.2 520.94 L43.8 512.61 L44.4 507.45 L45 504.25 L45.6 502.26 L46.2 501.03 L46.8 500.26 L47.4 499.79 L48 499.5 L48.28 499.4 L49.28 423.35 L49.58 425.35 L51.28 501.4 L51.03 518.6 L53.28 520.6 L53.88 520.36 L54.48 519.92 L55.08 519.35 L55.68 518.67 L56.28 517.9 L56.88 517.05 L57.48 516.13 L58.08 515.14 L58.68 514.08 L59.28 512.97 L59.88 511.79 L60.48 510.57 L61.08 509.29 L61.68 507.95 L62.28 506.58 L62.88 505.15 L63.48 503.68 L64.08 502.16 L64.68 500.61 L65.13 499.4 L66.13 424.85 L66.43 426.85 L68.13 501.4 L67.88 517.18 L70.13 519.18 L70.73 519.15 L71.33 519.09 L71.93 519.01 L72.53 518.91 L73.13 518.8 L73.73 518.69 L74.33 518.56 L74.93 518.42 L75.53 518.27 L76.13 518.11 L76.73 517.95 L77.33 517.78 L77.93 517.6 L78.53 517.41 L79.13 517.22 L79.73 517.02 L80.33 516.81 L80.93 516.6 L81.53 516.38 L82.13 516.15 L82.73 515.92 L83.33 515.69 L83.93 515.45 L84.53 515.2 L85.13 514.95 L85.73 514.69 L86.33 514.43 L86.93 514.16 L87.53 513.89 L88.13 513.62 L88.73 513.34 L89.33 513.05 L89.93 512.76 L90.53 512.47 L91.13 512.17 L91.73 511.87 L92.33 511.56 L92.93 511.25 L93.53 510.93 L94.13 510.61 L94.73 510.29 L95.33 509.96 L95.93 509.63 L96.53 509.3 L97.13 508.96 L97.73 508.61 L98.33 508.27 L98.93 507.92 L99.53 507.56 L100.13 507.21 L100.73 506.85 L101.33 506.48 L101.93 506.11 L102.53 505.74 L103.13 505.37 L103.73 504.99 L104.33 504.6 L104.93 504.22 L105.53 503.83 L106.13 503.44 L106.73 503.04 L107.33 502.65 L107.93 502.24 L108.53 501.84 L109.13 501.43 L109.73 501.02 L110.33 500.6 L110.93 500.19 L111.53 499.77 L112.05 499.4 L113.05 422.85 L113.35 424.85 L115.05 501.4 L114.8 518.5 L117.05 520.5 L117.65 520.35 L118.25 520.08 L118.85 519.73 L119.45 519.31 L120.05 518.84 L120.65 518.31 L121.25 517.74 L121.85 517.13 L122.45 516.48 L123.05 515.8 L123.65 515.07 L124.25 514.32 L124.85 513.53 L125.45 512.71 L126.05 511.86 L126.65 510.98 L127.25 510.07 L127.85 509.14 L128.45 508.18 L129.05 507.2 L129.65 506.19 L130.25 505.15 L130.85 504.09 L131.45 503.01 L132.05 501.91 L132.65 500.78 L133.25 499.63 L133.37 499.4 L134.37 425.76 L134.67 427.76 L136.37 501.4 L136.12 518.63 L138.37 520.63 L138.97 520.58 L139.57 520.48 L140.17 520.36 L140.77 520.21 L141.37 520.04 L141.97 519.86 L142.57 519.66 L143.17 519.45 L143.77 519.22 L144.37 518.98 L144.97 518.72 L145.57 518.46 L146.17 518.18 L146.77 517.89 L147.37 517.6 L147.97 517.29 L148.57 516.97 L149.17 516.64 L149.77 516.3 L150.37 515.96 L150.97 515.6 L151.57 515.24 L152.17 514.87 L152.77 514.49 L153.37 514.1 L153.97 513.71 L154.57 513.3 L155.17 512.89 L155.77 512.48 L156.37 512.05 L156.97 511.62 L157.57 511.18 L158.17 510.73 L158.77 510.28 L159.37 509.82 L159.97 509.35 L160.57 508.88 L161.17 508.4 L161.77 507.91 L162.37 507.42 L162.97 506.92 L163.57 506.42 L164.17 505.91 L164.77 505.39 L165.37 504.87 L165.97 504.34 L166.57 503.81 L167.17 503.27 L167.77 502.72 L168.37 502.17 L168.97 501.62 L169.57 501.06 L170.17 500.49 L170.77 499.92 L171.31 499.4 L172.31 426.98 L172.61 428.98 L174.31 501.4 L174.06 515.29 L176.31 517.29 L176.91 516.39 L177.51 515.55 L178.11 514.77 L178.71 514.04 L179.31 513.35 L179.91 512.71 L180.51 512.11 L181.11 511.55 L181.71 511.02 L182.31 510.53 L182.91 510.07 L183.51 509.64 L184.11 509.24 L184.71 508.86 L185.31 508.51 L185.91 508.18 L186.51 507.87 L187.11 507.58 L187.71 507.31 L188.31 507.06 L188.91 506.82 L189.51 506.6 L190.11 506.4 L190.71 506.2 L191.31 506.02 L191.91 505.85 L192.6 512.84 L193.2 518.85 L193.8 524.03 L194.4 528.48 L195 532.31 L195.6 535.61 L196.2 538.45 L196.8 540.9 L197.4 543 L198 544.81 L198.6 546.37 L199.2 547.71 L199.8 548.87 L200.4 549.86 L201 550.71 L201.6 551.45 L202.2 552.08 L202.8 552.63 L203.4 553.1 L204 553.5 L204.6 553.85" fill="none" stroke="#a9a9a9" stroke-width="0.85" stroke-linejoin="round"/>
<path d="M42 556 L42.6 535.03 L43.2 521.74 L43.8 513.31 L44.4 507.97 L45 504.58 L45.6 502.43 L46.2 501.07 L46.8 500.21 L47.4 499.66 L48 499.32 L48.58 499.1 L49.58 423.06 L49.88 425.06 L51.58 501.1 L51.33 509.17 L53.58 511.17 L54.18 510.99 L54.78 510.67 L55.38 510.26 L55.98 509.76 L56.58 509.2 L57.18 508.58 L57.78 507.91 L58.38 507.19 L58.98 506.42 L59.58 505.6 L60.18 504.75 L60.78 503.85 L61.38 502.92 L61.98 501.95 L62.58 500.94 L63.18 499.9 L63.63 499.1 L64.63 425.94 L64.93 427.94 L66.63 501.1 L66.38 510.02 L68.63 512.02 L69.23 511.95 L69.83 511.8 L70.43 511.61 L71.03 511.39 L71.63 511.14 L72.23 510.86 L72.83 510.56 L73.43 510.24 L74.03 509.89 L74.63 509.53 L75.23 509.14 L75.83 508.74 L76.43 508.32 L77.03 507.89 L77.63 507.44 L78.23 506.97 L78.83 506.49 L79.43 505.99 L80.03 505.49 L80.63 504.96 L81.23 504.43 L81.83 503.88 L82.43 503.32 L83.03 502.74 L83.63 502.16 L84.23 501.56 L84.83 500.95 L85.43 500.33 L86.03 499.69 L86.59 499.1 L87.59 422.93 L87.89 424.93 L89.59 501.1 L89.34 510.03 L91.59 512.03 L92.19 511.96 L92.79 511.84 L93.39 511.69 L93.99 511.5 L94.59 511.29 L95.19 511.06 L95.79 510.81 L96.39 510.54 L96.99 510.25 L97.59 509.95 L98.19 509.63 L98.79 509.3 L99.39 508.95 L99.99 508.59 L100.59 508.21 L101.19 507.82 L101.79 507.42 L102.39 507.01 L102.99 506.59 L103.59 506.15 L104.19 505.71 L104.79 505.25 L105.39 504.78 L105.99 504.31 L106.59 503.82 L107.19 503.32 L107.79 502.82 L108.39 502.3 L108.99 501.77 L109.59 501.24 L110.19 500.69 L110.79 500.14 L111.39 499.58 L111.89 499.1 L112.89 425.26 L113.19 427.26 L114.89 501.1 L114.64 507.91 L116.89 509.91 L117.49 509.87 L118.09 509.81 L118.69 509.73 L119.29 509.64 L119.89 509.53 L120.49 509.41 L121.09 509.29 L121.69 509.15 L122.29 509 L122.89 508.85 L123.49 508.69 L124.09 508.52 L124.69 508.34 L125.29 508.16 L125.89 507.97 L126.49 507.77 L127.09 507.57 L127.69 507.36 L128.29 507.14 L128.89 506.92 L129.49 506.69 L130.09 506.46 L130.69 506.22 L131.29 505.98 L131.89 505.73 L132.49 505.48 L133.09 505.22 L133.69 504.96 L134.29 504.69 L134.89 504.42 L135.49 504.14 L136.09 503.86 L136.69 503.58 L137.29 503.29 L137.89 502.99 L138.49 502.7 L139.09 502.39 L139.69 502.09 L140.29 501.78 L140.89 501.46 L141.49 501.14 L142.09 500.82 L142.69 500.49 L143.29 500.16 L143.89 499.83 L144.49 499.49 L145.09 499.15 L145.18 499.1 L146.18 426.88 L146.48 428.88 L148.18 501.1 L147.93 507.73 L150.18 509.73 L150.78 509.71 L151.38 509.66 L151.98 509.59 L152.58 509.52 L153.18 509.43 L153.78 509.33 L154.38 509.23 L154.98 509.12 L155.58 509 L156.18 508.87 L156.78 508.74 L157.38 508.6 L157.98 508.46 L158.58 508.31 L159.18 508.15 L159.78 507.99 L160.38 507.83 L160.98 507.66 L161.58 507.48 L162.18 507.3 L162.78 507.12 L163.38 506.93 L163.98 506.73 L164.58 506.53 L165.18 506.33 L165.78 506.13 L166.38 505.92 L166.98 505.7 L167.58 505.48 L168.18 505.26 L168.78 505.04 L169.38 504.81 L169.98 504.57 L170.58 504.34 L171.18 504.1 L171.78 503.86 L172.38 503.61 L172.98 503.36 L173.58 503.1 L174.18 502.85 L174.78 502.59 L175.38 502.33 L175.98 502.06 L176.58 501.79 L177.18 501.52 L177.78 501.24 L178.38 500.96 L178.98 500.68 L179.58 500.4 L180.18 500.11 L180.78 499.82 L181.38 499.53 L181.98 499.23 L182.25 499.1 L183.25 425.53 L183.55 427.53 L185.25 501.1 L185 511.84 L187.25 513.84 L187.85 513.15 L188.45 512.5 L189.05 511.9 L189.65 511.33 L190.25 510.8 L190.85 510.3 L191.45 509.84 L192.6 516.27 L193.2 521.8 L193.8 526.57 L194.4 530.67 L195 534.19 L195.6 537.23 L196.2 539.85 L196.8 542.1 L197.4 544.03 L198 545.7 L198.6 547.13 L199.2 548.37 L199.8 549.43 L200.4 550.35 L201 551.13 L201.6 551.81 L202.2 552.4 L202.8 552.9 L203.4 553.33 L204 553.7 L204.6 554.02" fill="none" stroke="#a9a9a9" stroke-width="0.85" stroke-linejoin="round"/>
<path d="M42 556 L42.6 530.59 L43.2 516.39 L43.8 508.46 L44.4 504.03 L45 501.55 L45.6 500.16 L46.2 499.39 L46.8 498.96 L47.15 498.8 L48.15 424.12 L48.45 426.12 L50.15 500.8 L49.9 517.68 L52.15 519.68 L52.75 519.49 L53.35 519.15 L53.95 518.71 L54.55 518.19 L55.15 517.6 L55.75 516.95 L56.35 516.24 L56.95 515.47 L57.55 514.66 L58.15 513.8 L58.75 512.9 L59.35 511.95 L59.95 510.97 L60.55 509.94 L61.15 508.88 L61.75 507.78 L62.35 506.65 L62.95 505.48 L63.55 504.28 L64.15 503.05 L64.75 501.79 L65.35 500.5 L65.95 499.18 L66.12 498.8 L67.12 425.24 L67.42 427.24 L69.12 500.8 L68.87 514.75 L71.12 516.75 L71.72 516.48 L72.32 515.99 L72.92 515.34 L73.52 514.58 L74.12 513.72 L74.72 512.77 L75.32 511.73 L75.92 510.62 L76.52 509.43 L77.12 508.18 L77.72 506.86 L78.32 505.48 L78.92 504.04 L79.52 502.55 L80.12 501 L80.72 499.4 L80.94 498.8 L81.94 421.72 L82.24 423.72 L83.94 500.8 L83.69 515.65 L85.94 517.65 L86.54 517.56 L87.14 517.38 L87.74 517.15 L88.34 516.87 L88.94 516.56 L89.54 516.22 L90.14 515.84 L90.74 515.44 L91.34 515.02 L91.94 514.56 L92.54 514.09 L93.14 513.59 L93.74 513.07 L94.34 512.54 L94.94 511.98 L95.54 511.4 L96.14 510.8 L96.74 510.19 L97.34 509.56 L97.94 508.91 L98.54 508.25 L99.14 507.57 L99.74 506.88 L100.34 506.16 L100.94 505.44 L101.54 504.7 L102.14 503.94 L102.74 503.18 L103.34 502.39 L103.94 501.6 L104.54 500.79 L105.14 499.96 L105.74 499.13 L105.98 498.8 L106.98 424.24 L107.28 426.24 L108.98 500.8 L108.73 513.57 L110.98 515.57 L111.58 515.35 L112.18 514.95 L112.78 514.42 L113.38 513.81 L113.98 513.1 L114.58 512.33 L115.18 511.48 L115.78 510.58 L116.38 509.61 L116.98 508.59 L117.58 507.52 L118.18 506.4 L118.78 505.23 L119.38 504.01 L119.98 502.75 L120.58 501.44 L121.18 500.1 L121.74 498.8 L122.74 424.08 L123.04 426.08 L124.74 500.8 L124.49 517.02 L126.74 519.02 L127.34 518.92 L127.94 518.74 L128.54 518.5 L129.14 518.23 L129.74 517.91 L130.34 517.57 L130.94 517.19 L131.54 516.78 L132.14 516.35 L132.74 515.89 L133.34 515.41 L133.94 514.91 L134.54 514.39 L135.14 513.84 L135.74 513.28 L136.34 512.7 L136.94 512.1 L137.54 511.48 L138.14 510.84 L138.74 510.19 L139.34 509.52 L139.94 508.83 L140.54 508.13 L141.14 507.41 L141.74 506.67 L142.34 505.93 L142.94 505.16 L143.54 504.39 L144.14 503.6 L144.74 502.79 L145.34 501.97 L145.94 501.14 L146.54 500.3 L147.14 499.44 L147.58 498.8 L148.58 424.75 L148.88 426.75 L150.58 500.8 L150.33 513.21 L152.58 515.21 L153.18 515.15 L153.78 515.03 L154.38 514.87 L154.98 514.69 L155.58 514.48 L156.18 514.25 L156.78 514 L157.38 513.73 L157.98 513.44 L158.58 513.14 L159.18 512.82 L159.78 512.49 L160.38 512.14 L160.98 511.78 L161.58 511.41 L162.18 511.02 L162.78 510.62 L163.38 510.21 L163.98 509.79 L164.58 509.35 L165.18 508.91 L165.78 508.45 L166.38 507.99 L166.98 507.51 L167.58 507.02 L168.18 506.53 L168.78 506.02 L169.38 505.5 L169.98 504.98 L170.58 504.45 L171.18 503.9 L171.78 503.35 L172.38 502.79 L172.98 502.22 L173.58 501.64 L174.18 501.06 L174.78 500.46 L175.38 499.86 L175.98 499.25 L176.42 498.8 L177.42 425.26 L177.72 427.26 L179.42 500.8 L179.17 513.49 L181.42 515.49 L182.02 514.67 L182.62 513.9 L183.22 513.19 L183.82 512.52 L184.42 511.89 L185.02 511.3 L185.62 510.76 L186.22 510.24 L186.82 509.76 L187.42 509.31 L188.02 508.89 L188.62 508.5 L189.22 508.13 L189.82 507.79 L190.42 507.47 L191.02 507.17 L191.62 506.88 L192.6 513.73 L193.2 519.61 L193.8 524.68 L194.4 529.04 L195 532.8 L195.6 536.03 L196.2 538.81 L196.8 541.21 L197.4 543.27 L198 545.04 L198.6 546.57 L199.2 547.88 L199.8 549.01 L200.4 549.99 L201 550.82 L201.6 551.54 L202.2 552.16 L202.8 552.7 L203.4 553.16 L204 553.55 L204.6 553.9" fill="none" stroke="#a9a9a9" stroke-width="0.85" stroke-linejoin="round"/>
<path d="M42 556 L42.6 532.38 L43.2 518.4 L43.8 510.12 L44.4 505.22 L45 502.32 L45.6 500.6 L46.2 499.58 L46.8 498.98 L47.4 498.63 L47.72 498.5 L48.72 423.58 L49.02 425.58 L50.72 500.5 L50.47 512.45 L52.72 514.45 L53.32 514.06 L53.92 513.34 L54.52 512.4 L55.12 511.29 L55.72 510.04 L56.32 508.65 L56.92 507.13 L57.52 505.51 L58.12 503.78 L58.72 501.96 L59.32 500.04 L59.78 498.5 L60.78 420.42 L61.08 422.42 L62.78 500.5 L62.53 507.71 L64.78 509.71 L65.38 509.59 L65.98 509.35 L66.58 509.05 L67.18 508.7 L67.78 508.29 L68.38 507.85 L68.98 507.36 L69.58 506.84 L70.18 506.28 L70.78 505.7 L71.38 505.08 L71.98 504.44 L72.58 503.76 L73.18 503.06 L73.78 502.34 L74.38 501.59 L74.98 500.81 L75.58 500.02 L76.18 499.2 L76.68 498.5 L77.68 425.37 L77.98 427.37 L79.68 500.5 L79.43 510.14 L81.68 512.14 L82.28 511.63 L82.88 510.7 L83.48 509.5 L84.08 508.08 L84.68 506.47 L85.28 504.68 L85.88 502.74 L86.48 500.66 L87.07 498.5 L88.07 421.88 L88.37 423.88 L90.07 500.5 L89.82 508.66 L92.07 510.66 L92.67 510.58 L93.27 510.45 L93.87 510.28 L94.47 510.08 L95.07 509.84 L95.67 509.59 L96.27 509.31 L96.87 509.01 L97.47 508.7 L98.07 508.36 L98.67 508.01 L99.27 507.64 L99.87 507.26 L100.47 506.86 L101.07 506.44 L101.67 506.01 L102.27 505.57 L102.87 505.12 L103.47 504.65 L104.07 504.17 L104.67 503.68 L105.27 503.17 L105.87 502.65 L106.47 502.13 L107.07 501.59 L107.67 501.04 L108.27 500.48 L108.87 499.91 L109.47 499.33 L110.07 498.74 L110.31 498.5 L111.31 423.01 L111.61 425.01 L113.31 500.5 L113.06 511.6 L115.31 513.6 L115.91 513.35 L116.51 512.89 L117.11 512.29 L117.71 511.58 L118.31 510.78 L118.91 509.89 L119.51 508.92 L120.11 507.89 L120.71 506.78 L121.31 505.61 L121.91 504.39 L122.51 503.1 L123.11 501.76 L123.71 500.37 L124.31 498.93 L124.48 498.5 L125.48 422.18 L125.78 424.18 L127.48 500.5 L127.23 509.58 L129.48 511.58 L130.08 511.42 L130.68 511.13 L131.28 510.76 L131.88 510.32 L132.48 509.82 L133.08 509.27 L133.68 508.66 L134.28 508.02 L134.88 507.33 L135.48 506.6 L136.08 505.84 L136.68 505.04 L137.28 504.2 L137.88 503.33 L138.48 502.44 L139.08 501.51 L139.68 500.55 L140.28 499.56 L140.88 498.54 L140.91 498.5 L141.91 419.78 L142.21 421.78 L143.91 500.5 L143.66 512.05 L145.91 514.05 L146.51 513.92 L147.11 513.69 L147.71 513.4 L148.31 513.04 L148.91 512.64 L149.51 512.2 L150.11 511.72 L150.71 511.21 L151.31 510.66 L151.91 510.07 L152.51 509.46 L153.11 508.82 L153.71 508.16 L154.31 507.47 L154.91 506.75 L155.51 506.01 L156.11 505.24 L156.71 504.45 L157.31 503.64 L157.91 502.81 L158.51 501.95 L159.11 501.08 L159.71 500.19 L160.31 499.27 L160.8 498.5 L161.8 419.64 L162.1 421.64 L163.8 500.5 L163.55 509.94 L165.8 511.94 L166.4 511.82 L167 511.59 L167.6 511.31 L168.2 510.97 L168.8 510.58 L169.4 510.15 L170 509.69 L170.6 509.19 L171.2 508.66 L171.8 508.1 L172.4 507.51 L173 506.89 L173.6 506.24 L174.2 505.57 L174.8 504.88 L175.4 504.16 L176 503.42 L176.6 502.66 L177.2 501.88 L177.8 501.07 L178.4 500.25 L179 499.4 L179.6 498.54 L179.63 498.5 L180.63 424.48 L180.93 426.48 L182.63 500.5 L182.38 508.12 L184.63 510.12 L185.23 509.63 L185.83 509.17 L186.43 508.74 L187.03 508.34 L187.63 507.96 L188.23 507.61 L188.83 507.28 L189.43 506.97 L190.03 506.68 L190.63 506.41 L191.23 506.16 L191.83 505.92 L192.6 512.9 L193.2 518.9 L193.8 524.07 L194.4 528.52 L195 532.35 L195.6 535.64 L196.2 538.48 L196.8 540.92 L197.4 543.02 L198 544.83 L198.6 546.38 L199.2 547.72 L199.8 548.88 L200.4 549.87 L201 550.72 L201.6 551.46 L202.2 552.09 L202.8 552.63 L203.4 553.1 L204 553.51 L204.6 553.85" fill="none" stroke="#a9a9a9" stroke-width="0.85" stroke-linejoin="round"/>
<path d="M42 556 L42.6 534.47 L43.2 520.91 L43.8 512.36 L44.4 506.98 L45 503.59 L45.6 501.45 L46.2 500.1 L46.8 499.25 L47.4 498.72 L48 498.38 L48.49 498.2 L49.49 427.41 L49.79 429.41 L51.49 500.2 L51.24 514.96 L53.49 516.96 L54.09 516.56 L54.69 515.82 L55.29 514.86 L55.89 513.72 L56.49 512.44 L57.09 511.01 L57.69 509.47 L58.29 507.8 L58.89 506.03 L59.49 504.16 L60.09 502.19 L60.69 500.13 L61.24 498.2 L62.24 424.49 L62.54 426.49 L64.24 500.2 L63.99 516.34 L66.24 518.34 L66.84 517.51 L67.44 515.98 L68.04 514 L68.64 511.66 L69.24 509.01 L69.84 506.07 L70.44 502.88 L71.04 499.45 L71.25 498.2 L72.25 424.43 L72.55 426.43 L74.25 500.2 L74 514.15 L76.25 516.15 L76.85 515.89 L77.45 515.42 L78.05 514.8 L78.65 514.07 L79.25 513.24 L79.85 512.33 L80.45 511.33 L81.05 510.27 L81.65 509.13 L82.25 507.93 L82.85 506.66 L83.45 505.34 L84.05 503.96 L84.65 502.52 L85.25 501.04 L85.85 499.5 L86.34 498.2 L87.34 423.98 L87.64 425.98 L89.34 500.2 L89.09 513.43 L91.34 515.43 L91.94 514.32 L92.54 512.28 L93.14 509.65 L93.74 506.54 L94.34 503 L94.94 499.09 L95.07 498.2 L96.07 423.82 L96.37 425.82 L98.07 500.2 L97.82 517.64 L100.07 519.64 L100.67 519.44 L101.27 519.08 L101.87 518.61 L102.47 518.06 L103.07 517.44 L103.67 516.74 L104.27 515.99 L104.87 515.18 L105.47 514.32 L106.07 513.41 L106.67 512.46 L107.27 511.45 L107.87 510.41 L108.47 509.32 L109.07 508.2 L109.67 507.04 L110.27 505.84 L110.87 504.6 L111.47 503.33 L112.07 502.03 L112.67 500.69 L113.27 499.32 L113.75 498.2 L114.75 427.32 L115.05 429.32 L116.75 500.2 L116.5 515.83 L118.75 517.83 L119.35 517.47 L119.95 516.81 L120.55 515.96 L121.15 514.95 L121.75 513.8 L122.35 512.53 L122.95 511.16 L123.55 509.68 L124.15 508.1 L124.75 506.44 L125.35 504.68 L125.95 502.85 L126.55 500.94 L127.15 498.95 L127.37 498.2 L128.37 424.55 L128.67 426.55 L130.37 500.2 L130.12 514.39 L132.37 516.39 L132.97 516.29 L133.57 516.11 L134.17 515.87 L134.77 515.6 L135.37 515.28 L135.97 514.93 L136.57 514.56 L137.17 514.15 L137.77 513.72 L138.37 513.26 L138.97 512.78 L139.57 512.28 L140.17 511.75 L140.77 511.21 L141.37 510.64 L141.97 510.06 L142.57 509.46 L143.17 508.83 L143.77 508.2 L144.37 507.54 L144.97 506.87 L145.57 506.18 L146.17 505.48 L146.77 504.76 L147.37 504.02 L147.97 503.28 L148.57 502.51 L149.17 501.73 L149.77 500.94 L150.37 500.14 L150.97 499.32 L151.57 498.48 L151.78 498.2 L152.78 422.09 L153.08 424.09 L154.78 500.2 L154.53 514.06 L156.78 516.06 L157.38 515.61 L157.98 514.78 L158.58 513.71 L159.18 512.45 L159.78 511.02 L160.38 509.43 L160.98 507.71 L161.58 505.86 L162.18 503.88 L162.78 501.8 L163.38 499.61 L163.75 498.2 L164.75 426.25 L165.05 428.25 L166.75 500.2 L166.5 517.03 L168.75 519.03 L169.35 518.87 L169.95 518.57 L170.55 518.18 L171.15 517.71 L171.75 517.19 L172.35 516.61 L172.95 515.98 L173.55 515.3 L174.15 514.58 L174.75 513.82 L175.35 513.02 L175.95 512.18 L176.55 511.3 L177.15 510.39 L177.75 509.45 L178.35 508.48 L178.95 507.47 L179.55 506.44 L180.15 505.37 L180.75 504.28 L181.35 503.16 L181.95 502.01 L182.55 500.84 L183.15 499.64 L183.75 498.42 L183.85 498.2 L184.85 423.72 L185.15 425.72 L186.85 500.2 L186.6 516.63 L188.85 518.63 L189.45 517.57 L190.05 516.58 L190.65 515.65 L191.25 514.78 L191.85 513.97 L192.6 519.82 L193.2 524.86 L193.8 529.2 L194.4 532.93 L195 536.15 L195.6 538.91 L196.2 541.29 L196.8 543.34 L197.4 545.1 L198 546.62 L198.6 547.93 L199.2 549.05 L199.8 550.02 L200.4 550.85 L201 551.57 L201.6 552.19 L202.2 552.72 L202.8 553.18 L203.4 553.57 L204 553.91 L204.6 554.2" fill="none" stroke="#a9a9a9" stroke-width="0.85" stroke-linejoin="round"/>
<path d="M42 556 L42.6 533.63 L43.2 519.82 L43.8 511.28 L44.4 506.01 L45 502.76 L45.6 500.75 L46.2 499.51 L46.8 498.74 L47.4 498.27 L48 497.98 L48.22 497.9 L49.22 424.43 L49.52 426.43 L51.22 499.9 L50.97 512.13 L53.22 514.13 L53.82 513.39 L54.42 512.04 L55.02 510.29 L55.62 508.21 L56.22 505.86 L56.82 503.25 L57.42 500.42 L57.93 497.9 L58.93 424.23 L59.23 426.23 L60.93 499.9 L60.68 513.33 L62.93 515.33 L63.53 514.72 L64.13 513.61 L64.73 512.17 L65.33 510.46 L65.93 508.53 L66.53 506.39 L67.13 504.07 L67.73 501.57 L68.33 498.91 L68.55 497.9 L69.55 424.98 L69.85 426.98 L71.55 499.9 L71.3 514.39 L73.55 516.39 L74.15 516 L74.75 515.29 L75.35 514.37 L75.95 513.28 L76.55 512.04 L77.15 510.68 L77.75 509.19 L78.35 507.6 L78.95 505.9 L79.55 504.1 L80.15 502.21 L80.75 500.24 L81.35 498.17 L81.42 497.9 L82.42 425.85 L82.72 427.85 L84.42 499.9 L84.17 515.31 L86.42 517.31 L87.02 516.5 L87.62 515.02 L88.22 513.1 L88.82 510.83 L89.42 508.25 L90.02 505.4 L90.62 502.3 L91.22 498.97 L91.41 497.9 L92.41 425.73 L92.71 427.73 L94.41 499.9 L94.16 513.81 L96.41 515.81 L97.01 515.61 L97.61 515.23 L98.21 514.74 L98.81 514.16 L99.41 513.5 L100.01 512.77 L100.61 511.98 L101.21 511.14 L101.81 510.23 L102.41 509.28 L103.01 508.27 L103.61 507.22 L104.21 506.12 L104.81 504.98 L105.41 503.8 L106.01 502.58 L106.61 501.32 L107.21 500.03 L107.81 498.69 L108.16 497.9 L109.16 424.81 L109.46 426.81 L111.16 499.9 L110.91 515.76 L113.16 517.76 L113.76 517.12 L114.36 515.93 L114.96 514.4 L115.56 512.59 L116.16 510.53 L116.76 508.26 L117.36 505.78 L117.96 503.12 L118.56 500.3 L119.04 497.9 L120.04 425.92 L120.34 427.92 L122.04 499.9 L121.79 513.82 L124.04 515.82 L124.64 515.62 L125.24 515.26 L125.84 514.79 L126.44 514.23 L127.04 513.59 L127.64 512.89 L128.24 512.13 L128.84 511.31 L129.44 510.43 L130.04 509.51 L130.64 508.54 L131.24 507.52 L131.84 506.46 L132.44 505.36 L133.04 504.22 L133.64 503.04 L134.24 501.83 L134.84 500.58 L135.44 499.29 L136.04 497.96 L136.07 497.9 L137.07 426.01 L137.37 428.01 L139.07 499.9 L138.82 516.42 L141.07 518.42 L141.67 518.23 L142.27 517.88 L142.87 517.42 L143.47 516.88 L144.07 516.27 L144.67 515.59 L145.27 514.85 L145.87 514.06 L146.47 513.22 L147.07 512.33 L147.67 511.39 L148.27 510.41 L148.87 509.39 L149.47 508.33 L150.07 507.23 L150.67 506.09 L151.27 504.92 L151.87 503.71 L152.47 502.47 L153.07 501.19 L153.67 499.88 L154.27 498.54 L154.55 497.9 L155.55 425.08 L155.85 427.08 L157.55 499.9 L157.3 516.95 L159.55 518.95 L160.15 518.67 L160.75 518.15 L161.35 517.47 L161.95 516.67 L162.55 515.76 L163.15 514.75 L163.75 513.66 L164.35 512.48 L164.95 511.23 L165.55 509.91 L166.15 508.52 L166.75 507.07 L167.35 505.55 L167.95 503.98 L168.55 502.34 L169.15 500.66 L169.75 498.91 L170.1 497.9 L171.1 426.69 L171.4 428.69 L173.1 499.9 L172.85 514.66 L175.1 516.66 L175.7 516.26 L176.3 515.51 L176.9 514.55 L177.5 513.41 L178.1 512.12 L178.7 510.69 L179.3 509.14 L179.9 507.47 L180.5 505.69 L181.1 503.81 L181.7 501.84 L182.3 499.77 L182.82 497.9 L183.82 424.13 L184.12 426.13 L185.82 499.9 L185.57 512.9 L187.82 514.9 L188.42 514.07 L189.02 513.28 L189.62 512.55 L190.22 511.86 L190.82 511.22 L191.42 510.62 L192.6 516.94 L193.2 522.38 L193.8 527.06 L194.4 531.09 L195 534.56 L195.6 537.55 L196.2 540.12 L196.8 542.33 L197.4 544.23 L198 545.87 L198.6 547.28 L199.2 548.5 L199.8 549.54 L200.4 550.44 L201 551.22 L201.6 551.88 L202.2 552.46 L202.8 552.95 L203.4 553.37 L204 553.74 L204.6 554.06" fill="none" stroke="#a9a9a9" stroke-width="0.85" stroke-linejoin="round"/>
<path d="M42 556 L42.6 532.89 L43.2 518.87 L43.8 510.36 L44.4 505.19 L45 502.05 L45.6 500.15 L46.2 498.99 L46.8 498.29 L47.4 497.86 L48 497.6 L48.01 497.6 L49.01 425.23 L49.31 427.23 L51.01 499.6 L50.76 510.89 L53.01 512.89 L53.61 512.25 L54.21 511.08 L54.81 509.56 L55.41 507.77 L56.01 505.73 L56.61 503.48 L57.21 501.04 L57.81 498.41 L57.99 497.6 L58.99 421.87 L59.29 423.87 L60.99 499.6 L60.74 512.95 L62.99 514.95 L63.59 512.14 L64.19 507 L64.79 500.35 L65.01 497.6 L66.01 424.81 L66.31 426.81 L68.01 499.6 L67.76 511.84 L70.01 513.84 L70.61 513.45 L71.21 512.73 L71.81 511.81 L72.41 510.71 L73.01 509.46 L73.61 508.08 L74.21 506.58 L74.81 504.97 L75.41 503.26 L76.01 501.44 L76.61 499.54 L77.19 497.6 L78.19 425.03 L78.49 427.03 L80.19 499.6 L79.94 513.9 L82.19 515.9 L82.79 515.44 L83.39 514.59 L83.99 513.5 L84.59 512.2 L85.19 510.73 L85.79 509.1 L86.39 507.33 L86.99 505.43 L87.59 503.4 L88.19 501.26 L88.79 499.01 L89.15 497.6 L90.15 421.16 L90.45 423.16 L92.15 499.6 L91.9 513.11 L94.15 515.11 L94.75 514.72 L95.35 514 L95.95 513.08 L96.55 511.98 L97.15 510.74 L97.75 509.37 L98.35 507.88 L98.95 506.27 L99.55 504.57 L100.15 502.76 L100.75 500.87 L101.35 498.88 L101.73 497.6 L102.73 422.27 L103.03 424.27 L104.73 499.6 L104.48 511.02 L106.73 513.02 L107.33 511.99 L107.93 510.12 L108.53 507.69 L109.13 504.81 L109.73 501.55 L110.33 497.94 L110.38 497.6 L111.38 421.71 L111.68 423.71 L113.38 499.6 L113.13 512.33 L115.38 514.33 L115.98 514.18 L116.58 513.89 L117.18 513.52 L117.78 513.08 L118.38 512.59 L118.98 512.04 L119.58 511.44 L120.18 510.8 L120.78 510.11 L121.38 509.39 L121.98 508.63 L122.58 507.83 L123.18 507 L123.78 506.14 L124.38 505.25 L124.98 504.33 L125.58 503.37 L126.18 502.39 L126.78 501.38 L127.38 500.35 L127.98 499.28 L128.58 498.2 L128.9 497.6 L129.9 422 L130.2 424 L131.9 499.6 L131.65 511.72 L133.9 513.72 L134.5 513.34 L135.1 512.67 L135.7 511.79 L136.3 510.75 L136.9 509.58 L137.5 508.28 L138.1 506.86 L138.7 505.34 L139.3 503.72 L139.9 502.01 L140.5 500.21 L141.1 498.33 L141.33 497.6 L142.33 421.12 L142.63 423.12 L144.33 499.6 L144.08 513.07 L146.33 515.07 L146.93 514.83 L147.53 514.38 L148.13 513.79 L148.73 513.1 L149.33 512.32 L149.93 511.45 L150.53 510.51 L151.13 509.5 L151.73 508.42 L152.33 507.28 L152.93 506.08 L153.53 504.83 L154.13 503.52 L154.73 502.16 L155.33 500.76 L155.93 499.3 L156.53 497.8 L156.61 497.6 L157.61 423.19 L157.91 425.19 L159.61 499.6 L159.36 513.81 L161.61 515.81 L162.21 515.41 L162.81 514.69 L163.41 513.76 L164.01 512.66 L164.61 511.41 L165.21 510.02 L165.81 508.52 L166.41 506.9 L167.01 505.18 L167.61 503.36 L168.21 501.45 L168.81 499.45 L169.34 497.6 L170.34 424.45 L170.64 426.45 L172.34 499.6 L172.09 511.94 L174.34 513.94 L174.94 513.76 L175.54 513.43 L176.14 513.01 L176.74 512.5 L177.34 511.93 L177.94 511.3 L178.54 510.62 L179.14 509.88 L179.74 509.1 L180.34 508.27 L180.94 507.4 L181.54 506.49 L182.14 505.54 L182.74 504.55 L183.34 503.53 L183.94 502.47 L184.54 501.38 L185.14 500.25 L185.74 499.1 L186.34 497.91 L186.49 497.6 L187.49 426.33 L187.79 428.33 L189.49 499.6 L189.24 510.75 L191.49 512.75 L192.6 518.78 L193.2 523.96 L193.8 528.42 L194.4 532.26 L195 535.57 L195.6 538.42 L196.2 540.87 L196.8 542.97 L197.4 544.79 L198 546.35 L198.6 547.69 L199.2 548.85 L199.8 549.85 L200.4 550.7 L201 551.44 L201.6 552.08 L202.2 552.62 L202.8 553.09 L203.4 553.5 L204 553.85 L204.6 554.15" fill="none" stroke="#a9a9a9" stroke-width="0.85" stroke-linejoin="round"/>
<path d="M42 556 L42.6 526.39 L43.2 511.62 L43.8 504.25 L44.4 500.57 L45 498.73 L45.6 497.81 L46.2 497.36 L46.32 497.3 L47.32 425.14 L47.62 427.14 L49.32 499.3 L49.07 513.92 L51.32 515.92 L51.92 506.15 L52.24 497.3 L53.24 422.47 L53.54 424.47 L55.24 499.3 L54.99 511.42 L57.24 513.42 L57.84 512.55 L58.44 510.95 L59.04 508.88 L59.64 506.43 L60.24 503.65 L60.84 500.57 L61.43 497.3 L62.43 423.83 L62.73 425.83 L64.43 499.3 L64.18 513.53 L66.43 515.53 L67.03 513.86 L67.63 510.79 L68.23 506.83 L68.83 502.13 L69.37 497.3 L70.37 426 L70.67 428 L72.37 499.3 L72.12 515.55 L74.37 517.55 L74.97 517.26 L75.57 516.73 L76.17 516.04 L76.77 515.23 L77.37 514.3 L77.97 513.28 L78.57 512.17 L79.17 510.98 L79.77 509.71 L80.37 508.37 L80.97 506.96 L81.57 505.48 L82.17 503.94 L82.77 502.34 L83.37 500.68 L83.97 498.97 L84.54 497.3 L85.54 423.91 L85.84 425.91 L87.54 499.3 L87.29 512.47 L89.54 514.47 L90.14 513.09 L90.74 510.57 L91.34 507.31 L91.94 503.46 L92.54 499.08 L92.77 497.3 L93.77 425.62 L94.07 427.62 L95.77 499.3 L95.52 510.72 L97.77 512.72 L98.37 511.94 L98.97 510.51 L99.57 508.67 L100.17 506.48 L100.77 504.01 L101.37 501.27 L101.97 498.29 L102.16 497.3 L103.16 420.9 L103.46 422.9 L105.16 499.3 L104.91 513.54 L107.16 515.54 L107.76 515.33 L108.36 514.93 L108.96 514.42 L109.56 513.82 L110.16 513.14 L110.76 512.38 L111.36 511.56 L111.96 510.68 L112.56 509.74 L113.16 508.74 L113.76 507.7 L114.36 506.6 L114.96 505.46 L115.56 504.28 L116.16 503.05 L116.76 501.78 L117.36 500.47 L117.96 499.12 L118.56 497.74 L118.74 497.3 L119.74 423.95 L120.04 425.95 L121.74 499.3 L121.49 511.41 L123.74 513.41 L124.34 512.4 L124.94 510.56 L125.54 508.16 L126.14 505.33 L126.74 502.11 L127.34 498.56 L127.54 497.3 L128.54 424.03 L128.84 426.03 L130.54 499.3 L130.29 515.17 L132.54 517.17 L133.14 516.94 L133.74 516.52 L134.34 515.97 L134.94 515.33 L135.54 514.6 L136.14 513.79 L136.74 512.91 L137.34 511.97 L137.94 510.97 L138.54 509.9 L139.14 508.79 L139.74 507.62 L140.34 506.4 L140.94 505.13 L141.54 503.82 L142.14 502.47 L142.74 501.07 L143.34 499.62 L143.94 498.14 L144.28 497.3 L145.28 422.51 L145.58 424.51 L147.28 499.3 L147.03 512.87 L149.28 514.87 L149.88 514.42 L150.48 513.59 L151.08 512.53 L151.68 511.26 L152.28 509.83 L152.88 508.24 L153.48 506.52 L154.08 504.67 L154.68 502.7 L155.28 500.61 L155.88 498.42 L156.17 497.3 L157.17 421.62 L157.47 423.62 L159.17 499.3 L158.92 512.17 L161.17 514.17 L161.77 513.95 L162.37 513.56 L162.97 513.04 L163.57 512.43 L164.17 511.74 L164.77 510.98 L165.37 510.15 L165.97 509.26 L166.57 508.31 L167.17 507.31 L167.77 506.26 L168.37 505.16 L168.97 504.01 L169.57 502.81 L170.17 501.57 L170.77 500.29 L171.37 498.97 L171.97 497.61 L172.11 497.3 L173.11 426.09 L173.41 428.09 L175.11 499.3 L174.86 512.61 L177.11 514.61 L177.71 514.43 L178.31 514.1 L178.91 513.67 L179.51 513.16 L180.11 512.58 L180.71 511.94 L181.31 511.25 L181.91 510.51 L182.51 509.71 L183.11 508.87 L183.71 507.99 L184.31 507.07 L184.91 506.11 L185.51 505.11 L186.11 504.07 L186.71 503 L187.31 501.9 L187.91 500.76 L188.51 499.59 L189.11 498.39 L189.64 497.3 L190.64 426.02 L190.94 428.02 L192.64 499.3 L192.39 515.28 L194.64 517.28 L195.24 538.77 L195.84 541.17 L196.44 543.23 L197.04 545.01 L197.64 546.54 L198.24 547.86 L198.84 548.99 L199.44 549.97 L200.04 550.81 L200.64 551.53 L201.24 552.15 L201.84 552.69 L202.44 553.15 L203.04 553.55 L203.64 553.89 L204.24 554.18" fill="none" stroke="#a9a9a9" stroke-width="0.85" stroke-linejoin="round"/>
<path d="M42 556 L42.6 527.04 L43.2 512.2 L43.8 504.59 L44.4 500.7 L45 498.7 L45.6 497.68 L46.2 497.15 L46.49 497 L47.49 422.23 L47.79 424.23 L49.49 499 L49.24 511.83 L51.49 513.83 L52.09 513.59 L52.69 513.15 L53.29 512.58 L53.89 511.91 L54.49 511.14 L55.09 510.3 L55.69 509.38 L56.29 508.39 L56.89 507.34 L57.49 506.23 L58.09 505.06 L58.69 503.84 L59.29 502.56 L59.89 501.24 L60.49 499.86 L61.09 498.44 L61.68 497 L62.68 424.65 L62.98 426.65 L64.68 499 L64.43 514.37 L66.68 516.37 L67.28 504.55 L67.51 497 L68.51 420.51 L68.81 422.51 L70.51 499 L70.26 511.8 L72.51 513.8 L73.11 512.53 L73.71 510.22 L74.31 507.22 L74.91 503.67 L75.51 499.64 L75.87 497 L76.87 419.97 L77.17 421.97 L78.87 499 L78.62 515.4 L80.87 517.4 L81.47 516.12 L82.07 513.76 L82.67 510.71 L83.27 507.09 L83.87 502.99 L84.47 498.46 L84.66 497 L85.66 420.8 L85.96 422.8 L87.66 499 L87.41 513.5 L89.66 515.5 L90.26 515.17 L90.86 514.57 L91.46 513.79 L92.06 512.87 L92.66 511.83 L93.26 510.67 L93.86 509.41 L94.46 508.06 L95.06 506.63 L95.66 505.11 L96.26 503.51 L96.86 501.84 L97.46 500.1 L98.06 498.28 L98.47 497 L99.47 421.89 L99.77 423.89 L101.47 499 L101.22 513.69 L103.47 515.69 L104.07 513.13 L104.67 508.45 L105.27 502.4 L105.73 497 L106.73 422.66 L107.03 424.66 L108.73 499 L108.48 514.18 L110.73 516.18 L111.33 515.17 L111.93 513.34 L112.53 510.96 L113.13 508.15 L113.73 504.96 L114.33 501.43 L114.93 497.59 L115.02 497 L116.02 419.75 L116.32 421.75 L118.02 499 L117.77 514.26 L120.02 516.26 L120.62 515.8 L121.22 514.95 L121.82 513.84 L122.42 512.54 L123.02 511.06 L123.62 509.42 L124.22 507.64 L124.82 505.73 L125.42 503.69 L126.02 501.54 L126.62 499.27 L127.19 497 L128.19 420.84 L128.49 422.84 L130.19 499 L129.94 513.13 L132.19 515.13 L132.79 514 L133.39 511.95 L133.99 509.29 L134.59 506.14 L135.19 502.56 L135.79 498.61 L136.03 497 L137.03 421.06 L137.33 423.06 L139.03 499 L138.78 511.94 L141.03 513.94 L141.63 513.69 L142.23 513.24 L142.83 512.65 L143.43 511.94 L144.03 511.15 L144.63 510.27 L145.23 509.31 L145.83 508.28 L146.43 507.19 L147.03 506.03 L147.63 504.82 L148.23 503.55 L148.83 502.22 L149.43 500.84 L150.03 499.41 L150.63 497.94 L151 497 L152 422.22 L152.3 424.22 L154 499 L153.75 512.78 L156 514.78 L156.6 514.15 L157.2 512.99 L157.8 511.49 L158.4 509.72 L159 507.7 L159.6 505.48 L160.2 503.06 L160.8 500.46 L161.4 497.69 L161.54 497 L162.54 421.21 L162.84 423.21 L164.54 499 L164.29 514.19 L166.54 516.19 L167.14 515.57 L167.74 514.45 L168.34 512.99 L168.94 511.26 L169.54 509.31 L170.14 507.14 L170.74 504.79 L171.34 502.26 L171.94 499.57 L172.48 497 L173.48 422.58 L173.78 424.58 L175.48 499 L175.23 510.64 L177.48 512.64 L178.08 512.44 L178.68 512.07 L179.28 511.59 L179.88 511.02 L180.48 510.38 L181.08 509.67 L181.68 508.89 L182.28 508.06 L182.88 507.18 L183.48 506.24 L184.08 505.26 L184.68 504.23 L185.28 503.16 L185.88 502.04 L186.48 500.88 L187.08 499.69 L187.68 498.46 L188.28 497.19 L188.37 497 L189.37 420.55 L189.67 422.55 L191.37 499 L191.12 512.74 L193.37 514.74 L193.97 530.79 L194.57 534.3 L195.17 537.32 L195.77 539.92 L196.37 542.16 L196.97 544.09 L197.57 545.75 L198.17 547.18 L198.77 548.41 L199.37 549.46 L199.97 550.37 L200.57 551.16 L201.17 551.83 L201.77 552.41 L202.37 552.91 L202.97 553.34 L203.57 553.71 L204.17 554.03" fill="none" stroke="#a9a9a9" stroke-width="0.85" stroke-linejoin="round"/>
<path d="M42 556 L42.6 529.26 L43.2 514.49 L43.8 506.34 L44.4 501.84 L45 499.36 L45.6 497.99 L46.2 497.23 L46.8 496.81 L47.05 496.7 L48.05 424.22 L48.35 426.22 L50.05 498.7 L49.8 513.65 L52.05 515.65 L52.65 511.71 L53.25 504.51 L53.76 496.7 L54.76 421.8 L55.06 423.8 L56.76 498.7 L56.51 511.61 L58.76 513.61 L59.09 496.7 L60.09 423.88 L60.39 425.88 L62.09 498.7 L61.84 514.73 L64.09 516.73 L64.69 516.5 L65.29 516.08 L65.89 515.52 L66.49 514.87 L67.09 514.13 L67.69 513.31 L68.29 512.42 L68.89 511.47 L69.49 510.45 L70.09 509.37 L70.69 508.24 L71.29 507.06 L71.89 505.83 L72.49 504.54 L73.09 503.21 L73.69 501.84 L74.29 500.42 L74.89 498.96 L75.49 497.46 L75.79 496.7 L76.79 420.05 L77.09 422.05 L78.79 498.7 L78.54 512.57 L80.79 514.57 L81.39 511.12 L81.99 504.8 L82.58 496.7 L83.58 422.49 L83.88 424.49 L85.58 498.7 L85.33 512.67 L87.58 514.67 L88.18 513.88 L88.78 512.43 L89.38 510.55 L89.98 508.33 L90.58 505.81 L91.18 503.02 L91.78 500 L92.38 496.74 L92.39 496.7 L93.39 421.18 L93.69 423.18 L95.39 498.7 L95.14 510.95 L97.39 512.95 L97.99 512.3 L98.59 511.13 L99.19 509.61 L99.79 507.8 L100.39 505.76 L100.99 503.49 L101.59 501.03 L102.19 498.39 L102.55 496.7 L103.55 422.71 L103.85 424.71 L105.55 498.7 L105.3 514.24 L107.55 516.24 L108.15 515.23 L108.75 513.37 L109.35 510.97 L109.95 508.13 L110.55 504.9 L111.15 501.33 L111.75 497.46 L111.87 496.7 L112.87 419.61 L113.17 421.61 L114.87 498.7 L114.62 511.33 L116.87 513.33 L117.47 512.41 L118.07 510.73 L118.67 508.55 L119.27 505.97 L119.87 503.05 L120.47 499.81 L121 496.7 L122 424.12 L122.3 426.12 L124 498.7 L123.75 514.14 L126 516.14 L126.6 515.74 L127.2 515.01 L127.8 514.07 L128.4 512.95 L129 511.68 L129.6 510.28 L130.2 508.75 L130.8 507.12 L131.4 505.37 L132 503.53 L132.6 501.59 L133.2 499.56 L133.8 497.45 L134.01 496.7 L135.01 423.18 L135.31 425.18 L137.01 498.7 L136.76 510.31 L139.01 512.31 L139.61 510.15 L140.21 506.21 L140.81 501.11 L141.25 496.7 L142.25 423.53 L142.55 425.53 L144.25 498.7 L144 515.07 L146.25 517.07 L146.85 516.4 L147.45 515.17 L148.05 513.58 L148.65 511.7 L149.25 509.56 L149.85 507.2 L150.45 504.63 L151.05 501.87 L151.65 498.93 L152.09 496.7 L153.09 425.19 L153.39 427.19 L155.09 498.7 L154.84 513.69 L157.09 515.69 L157.69 515.36 L158.29 514.78 L158.89 514.02 L159.49 513.12 L160.09 512.09 L160.69 510.96 L161.29 509.73 L161.89 508.41 L162.49 507.01 L163.09 505.52 L163.69 503.96 L164.29 502.33 L164.89 500.62 L165.49 498.85 L166.09 497.01 L166.19 496.7 L167.19 419.49 L167.49 421.49 L169.19 498.7 L168.94 514.39 L171.19 516.39 L171.79 512.68 L172.39 505.9 L172.99 497.13 L173.01 496.7 L174.01 420.51 L174.31 422.51 L176.01 498.7 L175.76 513.41 L178.01 515.41 L178.61 514.95 L179.21 514.11 L179.81 513.02 L180.41 511.74 L181.01 510.27 L181.61 508.66 L182.21 506.9 L182.81 505.02 L183.41 503.01 L184.01 500.89 L184.61 498.66 L185.12 496.7 L186.12 424.91 L186.42 426.91 L188.12 498.7 L187.87 513.74 L190.12 515.74 L190.72 514.77 L191.32 513.86 L191.92 513.02 L192.6 519 L193.2 524.16 L193.8 528.59 L194.4 532.41 L195 535.7 L195.6 538.52 L196.2 540.96 L196.8 543.05 L197.4 544.86 L198 546.41 L198.6 547.74 L199.2 548.89 L199.8 549.88 L200.4 550.74 L201 551.47 L201.6 552.1 L202.2 552.64 L202.8 553.11 L203.4 553.51 L204 553.86 L204.6 554.16" fill="none" stroke="#a9a9a9" stroke-width="0.85" stroke-linejoin="round"/>
<path d="M42 556 L42.6 512.31 L43.2 500.43 L43.8 497.2 L44.3 496.4 L45.3 423.55 L45.6 425.55 L47.3 498.4 L47.05 509.94 L49.3 511.94 L49.9 511.61 L50.5 511.01 L51.1 510.23 L51.7 509.31 L52.3 508.27 L52.9 507.11 L53.5 505.86 L54.1 504.51 L54.7 503.07 L55.3 501.56 L55.9 499.96 L56.5 498.29 L57.1 496.55 L57.15 496.4 L58.15 425.57 L58.45 427.57 L60.15 498.4 L59.9 509.36 L62.15 511.36 L62.75 511.08 L63.35 510.56 L63.95 509.88 L64.55 509.09 L65.15 508.18 L65.75 507.18 L66.35 506.1 L66.95 504.93 L67.55 503.69 L68.15 502.37 L68.75 500.99 L69.35 499.55 L69.95 498.04 L70.55 496.47 L70.58 496.4 L71.58 420.28 L71.88 422.28 L73.58 498.4 L73.33 510.98 L75.58 512.98 L76.18 510.5 L76.78 505.96 L77.38 500.09 L77.71 496.4 L78.71 420.85 L79.01 422.85 L80.71 498.4 L80.46 510.65 L82.71 512.65 L83.31 510.27 L83.91 505.91 L84.51 500.28 L84.87 496.4 L85.87 422.98 L86.17 424.98 L87.87 498.4 L87.62 512.04 L89.87 514.04 L90.47 513.52 L91.07 512.56 L91.67 511.32 L92.27 509.86 L92.87 508.19 L93.47 506.35 L94.07 504.35 L94.67 502.2 L95.27 499.91 L95.87 497.49 L96.13 496.4 L97.13 423.27 L97.43 425.27 L99.13 498.4 L98.88 510.59 L101.13 512.59 L101.73 504.59 L102.09 496.4 L103.09 421.52 L103.39 423.52 L105.09 498.4 L104.84 510.25 L107.09 512.25 L107.69 511.54 L108.29 510.23 L108.89 508.54 L109.49 506.54 L110.09 504.27 L110.69 501.76 L111.29 499.04 L111.83 496.4 L112.83 421.47 L113.13 423.47 L114.83 498.4 L114.58 511.24 L116.83 513.24 L117.43 512.74 L118.03 511.82 L118.63 510.64 L119.23 509.23 L119.83 507.64 L120.43 505.87 L121.03 503.96 L121.63 501.9 L122.23 499.7 L122.83 497.38 L123.08 496.4 L124.08 423.05 L124.38 425.05 L126.08 498.4 L125.83 508.16 L128.08 510.16 L128.68 508.98 L129.28 506.83 L129.88 504.04 L130.48 500.74 L131.08 496.99 L131.17 496.4 L132.17 421.35 L132.47 423.35 L134.17 498.4 L133.92 509.35 L136.17 511.35 L136.77 510.73 L137.37 509.61 L137.97 508.15 L138.57 506.43 L139.17 504.48 L139.77 502.32 L140.37 499.97 L140.97 497.45 L141.21 496.4 L142.21 424.36 L142.51 426.36 L144.21 498.4 L143.96 508.39 L146.21 510.39 L146.81 510.13 L147.41 509.66 L148.01 509.05 L148.61 508.32 L149.21 507.5 L149.81 506.6 L150.41 505.61 L151.01 504.55 L151.61 503.42 L152.21 502.23 L152.81 500.98 L153.41 499.66 L154.01 498.3 L154.61 496.87 L154.8 496.4 L155.8 424.22 L156.1 426.22 L157.8 498.4 L157.55 510.77 L159.8 512.77 L160.4 512.32 L161 511.52 L161.6 510.48 L162.2 509.24 L162.8 507.84 L163.4 506.29 L164 504.6 L164.6 502.8 L165.2 500.87 L165.8 498.83 L166.4 496.69 L166.48 496.4 L167.48 420.46 L167.78 422.46 L169.48 498.4 L169.23 510.83 L171.48 512.83 L172.08 512.39 L172.68 511.59 L173.28 510.54 L173.88 509.31 L174.48 507.91 L175.08 506.36 L175.68 504.68 L176.28 502.88 L176.88 500.95 L177.48 498.92 L178.08 496.78 L178.18 496.4 L179.18 420.49 L179.48 422.49 L181.18 498.4 L180.93 508.11 L183.18 510.11 L183.78 504.36 L184.26 496.4 L185.26 423.51 L185.56 425.51 L187.26 498.4 L187.01 508.68 L189.26 510.68 L189.86 510.02 L190.46 509.4 L191.06 508.82 L191.66 508.28 L192.6 514.92 L193.2 520.65 L193.8 525.57 L194.4 529.81 L195 533.46 L195.6 536.6 L196.2 539.3 L196.8 541.63 L197.4 543.63 L198 545.35 L198.6 546.83 L199.2 548.11 L199.8 549.21 L200.4 550.16 L201 550.97 L201.6 551.67 L202.2 552.27 L202.8 552.79 L203.4 553.24 L204 553.62 L204.6 553.95" fill="none" stroke="#a9a9a9" stroke-width="0.85" stroke-linejoin="round"/>
<path d="M42 556 L42.6 524.86 L43.2 509.8 L43.8 502.52 L44.4 499 L45 497.29 L45.6 496.47 L46.13 496.1 L47.13 423.68 L47.43 425.68 L49.13 498.1 L48.88 507.75 L51.13 509.75 L51.73 509.11 L52.33 507.93 L52.93 506.4 L53.53 504.6 L54.13 502.54 L54.73 500.28 L55.33 497.81 L55.72 496.1 L56.72 422.31 L57.02 424.31 L58.72 498.1 L58.47 506.69 L60.72 508.69 L61.32 507.7 L61.92 505.88 L62.52 503.53 L63.12 500.75 L63.72 497.59 L63.99 496.1 L64.99 424.99 L65.29 426.99 L66.99 498.1 L66.74 509.25 L68.99 511.25 L69.59 511 L70.19 510.54 L70.79 509.94 L71.39 509.23 L71.99 508.43 L72.59 507.54 L73.19 506.58 L73.79 505.54 L74.39 504.44 L74.99 503.27 L75.59 502.05 L76.19 500.76 L76.79 499.43 L77.39 498.04 L77.99 496.6 L78.19 496.1 L79.19 424.83 L79.49 426.83 L81.19 498.1 L80.94 508.18 L83.19 510.18 L83.79 509.9 L84.39 509.38 L84.99 508.71 L85.59 507.92 L86.19 507.03 L86.79 506.04 L87.39 504.96 L87.99 503.8 L88.59 502.57 L89.19 501.27 L89.79 499.9 L90.39 498.46 L90.99 496.97 L91.33 496.1 L92.33 425.11 L92.63 427.11 L94.33 498.1 L94.08 508.6 L96.33 510.6 L96.93 510.27 L97.53 509.66 L98.13 508.88 L98.73 507.95 L99.33 506.89 L99.93 505.73 L100.53 504.46 L101.13 503.1 L101.73 501.65 L102.33 500.12 L102.93 498.51 L103.53 496.82 L103.78 496.1 L104.78 423.56 L105.08 425.56 L106.78 498.1 L106.53 508.88 L108.78 510.88 L109.38 508.9 L109.98 505.29 L110.58 500.62 L111.07 496.1 L112.07 424.44 L112.37 426.44 L114.07 498.1 L113.82 507.99 L116.07 509.99 L116.67 506.31 L117.27 499.58 L117.53 496.1 L118.53 420.58 L118.83 422.58 L120.53 498.1 L120.28 506.18 L122.53 508.18 L123.13 507.32 L123.73 505.76 L124.33 503.73 L124.93 501.33 L125.53 498.61 L126.03 496.1 L127.03 421.21 L127.33 423.21 L129.03 498.1 L128.78 506.21 L131.03 508.21 L131.63 508 L132.23 507.63 L132.83 507.15 L133.43 506.58 L134.03 505.93 L134.63 505.22 L135.23 504.44 L135.83 503.6 L136.43 502.71 L137.03 501.77 L137.63 500.78 L138.23 499.75 L138.83 498.67 L139.43 497.55 L140.03 496.39 L140.18 496.1 L141.18 425.34 L141.48 427.34 L143.18 498.1 L142.93 508.42 L145.18 510.42 L145.78 509 L146.38 506.41 L146.98 503.05 L147.58 499.08 L147.98 496.1 L148.98 424.56 L149.28 426.56 L150.98 498.1 L150.73 506.01 L152.98 508.01 L153.58 507.6 L154.18 506.85 L154.78 505.87 L155.38 504.72 L155.98 503.41 L156.58 501.96 L157.18 500.38 L157.78 498.69 L158.38 496.89 L158.63 496.1 L159.63 422.82 L159.93 424.82 L161.63 498.1 L161.38 510.46 L163.63 512.46 L164.23 502.75 L164.48 496.1 L165.48 423.72 L165.78 425.72 L167.48 498.1 L167.23 508.15 L169.48 510.15 L170.08 509.86 L170.68 509.33 L171.28 508.64 L171.88 507.83 L172.48 506.91 L173.08 505.89 L173.68 504.78 L174.28 503.58 L174.88 502.31 L175.48 500.97 L176.08 499.56 L176.68 498.08 L177.28 496.54 L177.45 496.1 L178.45 422.79 L178.75 424.79 L180.45 498.1 L180.2 506.51 L182.45 508.51 L183.05 507.65 L183.65 506.08 L184.25 504.04 L184.85 501.63 L185.45 498.89 L186.01 496.1 L187.01 420.93 L187.31 422.93 L189.01 498.1 L188.76 506.81 L191.01 508.81 L191.61 508.24 L192.6 514.9 L193.2 520.62 L193.8 525.55 L194.4 529.79 L195 533.44 L195.6 536.58 L196.2 539.29 L196.8 541.62 L197.4 543.62 L198 545.34 L198.6 546.83 L199.2 548.11 L199.8 549.21 L200.4 550.15 L201 550.97 L201.6 551.67 L202.2 552.27 L202.8 552.79 L203.4 553.24 L204 553.62 L204.6 553.95" fill="none" stroke="#a9a9a9" stroke-width="0.85" stroke-linejoin="round"/>
<path d="M42 556 L42.7 555.35 L43.4 554.78 L44.1 554.29 L44.8 553.86 L45.5 553.48 L46.2 553.16 L46.9 552.88 L47.6 552.63 L48.3 552.42 L49 552.23 L49.7 552.07 L50.4 551.93 L51.1 551.81 L51.8 551.7 L52.5 551.61 L53.2 551.53 L53.9 551.46 L54.6 551.4 L55.3 551.35 L56 551.3 L56.7 551.26 L57.4 551.23 L58.1 551.2 L58.8 551.17 L59.5 551.15 L60.2 551.13 L60.9 551.11 L61.6 551.1 L62.3 551.09 L63 551.07 L63.7 551.07 L64.4 551.06 L65.1 551.05 L65.8 551.04 L66.5 551.04 L67.2 551.03 L67.9 551.03 L68.6 551.02 L69.3 551.02 L70 551.02 L70.7 551.02 L71.4 551.01 L72.1 551.01 L72.8 551.01 L73.5 551.01 L74.2 551.01 L74.9 551.01 L75.6 551.01 L76.3 551.01 L77 551 L77.7 551 L78.4 551 L79.1 551 L79.8 551 L80.5 551 L81.2 551 L81.9 551 L82.6 551 L83.3 551 L84 551 L84.7 551 L85.4 551 L86.1 551 L86.8 551 L87.5 551 L88.2 551 L88.9 551 L89.6 551 L90.3 551 L91 551 L91.7 551 L92.4 551 L93.1 551 L93.8 551 L94.5 551 L95.2 551 L95.9 551 L96.6 551 L97.3 551 L98 551 L98.7 551 L99.4 551 L100.1 551 L100.8 551 L101.5 551 L102.2 551 L102.9 551 L103.6 551 L104.3 551 L105 551 L105.7 551 L106.4 551 L107.1 551 L107.8 551 L108.5 551 L109.2 551 L109.9 551 L110.6 551 L111.3 551 L112 551 L112.7 551 L113.4 551 L114.1 551 L114.8 551 L115.5 551 L116.2 551 L116.9 551 L117.6 551 L118.3 551 L119 551 L119.7 551 L120.4 551 L121.1 551 L121.8 551 L122.5 551 L123.2 551 L123.9 551 L124.6 551 L125.3 551 L126 551 L126.7 551 L127.4 551 L128.1 551 L128.8 551 L129.5 551 L130.2 551 L130.9 551 L131.6 551 L132.3 551 L133 551 L133.7 551 L134.4 551 L135.1 551 L135.8 551 L136.5 551 L137.2 551 L137.9 551 L138.6 551 L139.3 551 L140 551 L140.7 551 L141.4 551 L142.1 551 L142.8 551 L143.5 551 L144.2 551 L144.9 551 L145.6 551 L146.3 551 L147 551 L147.7 551 L148.4 551 L149.1 551 L149.8 551 L150.5 551 L151.2 551 L151.9 551 L152.6 551 L153.3 551 L154 551 L154.7 551 L155.4 551 L156.1 551 L156.8 551 L157.5 551 L158.2 551 L158.9 551 L159.6 551 L160.3 551 L161 551 L161.7 551 L162.4 551 L163.1 551 L163.8 551 L164.5 551 L165.2 551 L165.9 551 L166.6 551 L167.3 551 L168 551 L168.7 551 L169.4 551 L170.1 551 L170.8 551 L171.5 551 L172.2 551 L172.9 551 L173.6 551 L174.3 551 L175 551 L175.7 551 L176.4 551 L177.1 551 L177.8 551 L178.5 551 L179.2 551 L179.9 551 L180.6 551 L181.3 551 L182 551 L182.7 551 L183.4 551 L184.1 551 L184.8 551 L185.5 551 L186.2 551 L186.9 551 L187.6 551 L188.3 551 L189 551 L189.7 551 L190.4 551 L191.1 551 L191.8 551 L192.5 551 L192.7 551.8 L193.4 552.48 L194.1 553.04 L194.8 553.52 L195.5 553.92 L196.2 554.25 L196.9 554.53 L197.6 554.77 L198.3 554.96 L199 555.13 L199.7 555.27 L200.4 555.39 L201.1 555.49 L201.8 555.57 L202.5 555.64 L203.2 555.7 L203.9 555.74 L204.6 555.79" fill="none" stroke="#8a8a8a" stroke-width="0.9" stroke-linejoin="round"/>
<path d="M42 556 L42.7 554.67 L43.4 553.51 L44.1 552.5 L44.8 551.63 L45.5 550.87 L46.2 550.2 L46.9 549.63 L47.6 549.13 L48.3 548.69 L49 548.32 L49.7 547.99 L50.4 547.7 L51.1 547.45 L51.8 547.24 L52.5 547.05 L53.2 546.89 L53.9 546.74 L54.6 546.62 L55.3 546.51 L56 546.42 L56.7 546.34 L57.4 546.27 L58.1 546.21 L58.8 546.15 L59.5 546.11 L60.2 546.07 L60.9 546.03 L61.6 546 L62.3 545.98 L63 545.95 L63.7 545.93 L64.4 545.92 L65.1 545.9 L65.8 545.89 L66.5 545.88 L67.2 545.87 L67.9 545.86 L68.6 545.85 L69.3 545.84 L70 545.84 L70.7 545.83 L71.4 545.83 L72.1 545.82 L72.8 545.82 L73.5 545.82 L74.2 545.82 L74.9 545.81 L75.6 545.81 L76.3 545.81 L77 545.81 L77.7 545.81 L78.4 545.81 L79.1 545.81 L79.8 545.81 L80.5 545.8 L81.2 545.8 L81.9 545.8 L82.6 545.8 L83.3 545.8 L84 545.8 L84.7 545.8 L85.4 545.8 L86.1 545.8 L86.8 545.8 L87.5 545.8 L88.2 545.8 L88.9 545.8 L89.6 545.8 L90.3 545.8 L91 545.8 L91.7 545.8 L92.4 545.8 L93.1 545.8 L93.8 545.8 L94.5 545.8 L95.2 545.8 L95.9 545.8 L96.6 545.8 L97.3 545.8 L98 545.8 L98.7 545.8 L99.4 545.8 L100.1 545.8 L100.8 545.8 L101.5 545.8 L102.2 545.8 L102.9 545.8 L103.6 545.8 L104.3 545.8 L105 545.8 L105.7 545.8 L106.4 545.8 L107.1 545.8 L107.8 545.8 L108.5 545.8 L109.2 545.8 L109.9 545.8 L110.6 545.8 L111.3 545.8 L112 545.8 L112.7 545.8 L113.4 545.8 L114.1 545.8 L114.8 545.8 L115.5 545.8 L116.2 545.8 L116.9 545.8 L117.6 545.8 L118.3 545.8 L119 545.8 L119.7 545.8 L120.4 545.8 L121.1 545.8 L121.8 545.8 L122.5 545.8 L123.2 545.8 L123.9 545.8 L124.6 545.8 L125.3 545.8 L126 545.8 L126.7 545.8 L127.4 545.8 L128.1 545.8 L128.8 545.8 L129.5 545.8 L130.2 545.8 L130.9 545.8 L131.6 545.8 L132.3 545.8 L133 545.8 L133.7 545.8 L134.4 545.8 L135.1 545.8 L135.8 545.8 L136.5 545.8 L137.2 545.8 L137.9 545.8 L138.6 545.8 L139.3 545.8 L140 545.8 L140.7 545.8 L141.4 545.8 L142.1 545.8 L142.8 545.8 L143.5 545.8 L144.2 545.8 L144.9 545.8 L145.6 545.8 L146.3 545.8 L147 545.8 L147.7 545.8 L148.4 545.8 L149.1 545.8 L149.8 545.8 L150.5 545.8 L151.2 545.8 L151.9 545.8 L152.6 545.8 L153.3 545.8 L154 545.8 L154.7 545.8 L155.4 545.8 L156.1 545.8 L156.8 545.8 L157.5 545.8 L158.2 545.8 L158.9 545.8 L159.6 545.8 L160.3 545.8 L161 545.8 L161.7 545.8 L162.4 545.8 L163.1 545.8 L163.8 545.8 L164.5 545.8 L165.2 545.8 L165.9 545.8 L166.6 545.8 L167.3 545.8 L168 545.8 L168.7 545.8 L169.4 545.8 L170.1 545.8 L170.8 545.8 L171.5 545.8 L172.2 545.8 L172.9 545.8 L173.6 545.8 L174.3 545.8 L175 545.8 L175.7 545.8 L176.4 545.8 L177.1 545.8 L177.8 545.8 L178.5 545.8 L179.2 545.8 L179.9 545.8 L180.6 545.8 L181.3 545.8 L182 545.8 L182.7 545.8 L183.4 545.8 L184.1 545.8 L184.8 545.8 L185.5 545.8 L186.2 545.8 L186.9 545.8 L187.6 545.8 L188.3 545.8 L189 545.8 L189.7 545.8 L190.4 545.8 L191.1 545.8 L191.8 545.8 L192.5 545.8 L192.7 547.44 L193.4 548.81 L194.1 549.97 L194.8 550.93 L195.5 551.75 L196.2 552.43 L196.9 553 L197.6 553.48 L198.3 553.89 L199 554.23 L199.7 554.51 L200.4 554.75 L201.1 554.95 L201.8 555.12 L202.5 555.26 L203.2 555.38 L203.9 555.48 L204.6 555.56" fill="none" stroke="#8a8a8a" stroke-width="0.9" stroke-linejoin="round"/>
<path d="M42 556 L42.7 554.09 L43.4 552.43 L44.1 550.99 L44.8 549.74 L45.5 548.65 L46.2 547.7 L46.9 546.88 L47.6 546.16 L48.3 545.54 L49 545 L49.7 544.53 L50.4 544.12 L51.1 543.77 L51.8 543.46 L52.5 543.19 L53.2 542.95 L53.9 542.75 L54.6 542.57 L55.3 542.42 L56 542.29 L56.7 542.17 L57.4 542.07 L58.1 541.98 L58.8 541.91 L59.5 541.84 L60.2 541.78 L60.9 541.73 L61.6 541.69 L62.3 541.65 L63 541.62 L63.7 541.59 L64.4 541.57 L65.1 541.54 L65.8 541.53 L66.5 541.51 L67.2 541.49 L67.9 541.48 L68.6 541.47 L69.3 541.46 L70 541.45 L70.7 541.45 L71.4 541.44 L72.1 541.44 L72.8 541.43 L73.5 541.43 L74.2 541.42 L74.9 541.42 L75.6 541.42 L76.3 541.42 L77 541.41 L77.7 541.41 L78.4 541.41 L79.1 541.41 L79.8 541.41 L80.5 541.41 L81.2 541.41 L81.9 541.4 L82.6 541.4 L83.3 541.4 L84 541.4 L84.7 541.4 L85.4 541.4 L86.1 541.4 L86.8 541.4 L87.5 541.4 L88.2 541.4 L88.9 541.4 L89.6 541.4 L90.3 541.4 L91 541.4 L91.7 541.4 L92.4 541.4 L93.1 541.4 L93.8 541.4 L94.5 541.4 L95.2 541.4 L95.9 541.4 L96.6 541.4 L97.3 541.4 L98 541.4 L98.7 541.4 L99.4 541.4 L100.1 541.4 L100.8 541.4 L101.5 541.4 L102.2 541.4 L102.9 541.4 L103.6 541.4 L104.3 541.4 L105 541.4 L105.7 541.4 L106.4 541.4 L107.1 541.4 L107.8 541.4 L108.5 541.4 L109.2 541.4 L109.9 541.4 L110.6 541.4 L111.3 541.4 L112 541.4 L112.7 541.4 L113.4 541.4 L114.1 541.4 L114.8 541.4 L115.5 541.4 L116.2 541.4 L116.9 541.4 L117.6 541.4 L118.3 541.4 L119 541.4 L119.7 541.4 L120.4 541.4 L121.1 541.4 L121.8 541.4 L122.5 541.4 L123.2 541.4 L123.9 541.4 L124.6 541.4 L125.3 541.4 L126 541.4 L126.7 541.4 L127.4 541.4 L128.1 541.4 L128.8 541.4 L129.5 541.4 L130.2 541.4 L130.9 541.4 L131.6 541.4 L132.3 541.4 L133 541.4 L133.7 541.4 L134.4 541.4 L135.1 541.4 L135.8 541.4 L136.5 541.4 L137.2 541.4 L137.9 541.4 L138.6 541.4 L139.3 541.4 L140 541.4 L140.7 541.4 L141.4 541.4 L142.1 541.4 L142.8 541.4 L143.5 541.4 L144.2 541.4 L144.9 541.4 L145.6 541.4 L146.3 541.4 L147 541.4 L147.7 541.4 L148.4 541.4 L149.1 541.4 L149.8 541.4 L150.5 541.4 L151.2 541.4 L151.9 541.4 L152.6 541.4 L153.3 541.4 L154 541.4 L154.7 541.4 L155.4 541.4 L156.1 541.4 L156.8 541.4 L157.5 541.4 L158.2 541.4 L158.9 541.4 L159.6 541.4 L160.3 541.4 L161 541.4 L161.7 541.4 L162.4 541.4 L163.1 541.4 L163.8 541.4 L164.5 541.4 L165.2 541.4 L165.9 541.4 L166.6 541.4 L167.3 541.4 L168 541.4 L168.7 541.4 L169.4 541.4 L170.1 541.4 L170.8 541.4 L171.5 541.4 L172.2 541.4 L172.9 541.4 L173.6 541.4 L174.3 541.4 L175 541.4 L175.7 541.4 L176.4 541.4 L177.1 541.4 L177.8 541.4 L178.5 541.4 L179.2 541.4 L179.9 541.4 L180.6 541.4 L181.3 541.4 L182 541.4 L182.7 541.4 L183.4 541.4 L184.1 541.4 L184.8 541.4 L185.5 541.4 L186.2 541.4 L186.9 541.4 L187.6 541.4 L188.3 541.4 L189 541.4 L189.7 541.4 L190.4 541.4 L191.1 541.4 L191.8 541.4 L192.5 541.4 L192.7 543.74 L193.4 545.71 L194.1 547.36 L194.8 548.75 L195.5 549.91 L196.2 550.89 L196.9 551.71 L197.6 552.4 L198.3 552.98 L199 553.46 L199.7 553.87 L200.4 554.21 L201.1 554.5 L201.8 554.74 L202.5 554.94 L203.2 555.11 L203.9 555.25 L204.6 555.37" fill="none" stroke="#8a8a8a" stroke-width="0.9" stroke-linejoin="round"/>
<path d="M42 556 L42.7 553.52 L43.4 551.36 L44.1 549.48 L44.8 547.85 L45.5 546.44 L46.2 545.2 L46.9 544.13 L47.6 543.2 L48.3 542.39 L49 541.69 L49.7 541.07 L50.4 540.54 L51.1 540.08 L51.8 539.68 L52.5 539.33 L53.2 539.02 L53.9 538.76 L54.6 538.53 L55.3 538.33 L56 538.16 L56.7 538 L57.4 537.87 L58.1 537.76 L58.8 537.66 L59.5 537.57 L60.2 537.5 L60.9 537.43 L61.6 537.38 L62.3 537.33 L63 537.28 L63.7 537.25 L64.4 537.22 L65.1 537.19 L65.8 537.16 L66.5 537.14 L67.2 537.12 L67.9 537.11 L68.6 537.09 L69.3 537.08 L70 537.07 L70.7 537.06 L71.4 537.05 L72.1 537.05 L72.8 537.04 L73.5 537.03 L74.2 537.03 L74.9 537.03 L75.6 537.02 L76.3 537.02 L77 537.02 L77.7 537.02 L78.4 537.01 L79.1 537.01 L79.8 537.01 L80.5 537.01 L81.2 537.01 L81.9 537.01 L82.6 537.01 L83.3 537 L84 537 L84.7 537 L85.4 537 L86.1 537 L86.8 537 L87.5 537 L88.2 537 L88.9 537 L89.6 537 L90.3 537 L91 537 L91.7 537 L92.4 537 L93.1 537 L93.8 537 L94.5 537 L95.2 537 L95.9 537 L96.6 537 L97.3 537 L98 537 L98.7 537 L99.4 537 L100.1 537 L100.8 537 L101.5 537 L102.2 537 L102.9 537 L103.6 537 L104.3 537 L105 537 L105.7 537 L106.4 537 L107.1 537 L107.8 537 L108.5 537 L109.2 537 L109.9 537 L110.6 537 L111.3 537 L112 537 L112.7 537 L113.4 537 L114.1 537 L114.8 537 L115.5 537 L116.2 537 L116.9 537 L117.6 537 L118.3 537 L119 537 L119.7 537 L120.4 537 L121.1 537 L121.8 537 L122.5 537 L123.2 537 L123.9 537 L124.6 537 L125.3 537 L126 537 L126.7 537 L127.4 537 L128.1 537 L128.8 537 L129.5 537 L130.2 537 L130.9 537 L131.6 537 L132.3 537 L133 537 L133.7 537 L134.4 537 L135.1 537 L135.8 537 L136.5 537 L137.2 537 L137.9 537 L138.6 537 L139.3 537 L140 537 L140.7 537 L141.4 537 L142.1 537 L142.8 537 L143.5 537 L144.2 537 L144.9 537 L145.6 537 L146.3 537 L147 537 L147.7 537 L148.4 537 L149.1 537 L149.8 537 L150.5 537 L151.2 537 L151.9 537 L152.6 537 L153.3 537 L154 537 L154.7 537 L155.4 537 L156.1 537 L156.8 537 L157.5 537 L158.2 537 L158.9 537 L159.6 537 L160.3 537 L161 537 L161.7 537 L162.4 537 L163.1 537 L163.8 537 L164.5 537 L165.2 537 L165.9 537 L166.6 537 L167.3 537 L168 537 L168.7 537 L169.4 537 L170.1 537 L170.8 537 L171.5 537 L172.2 537 L172.9 537 L173.6 537 L174.3 537 L175 537 L175.7 537 L176.4 537 L177.1 537 L177.8 537 L178.5 537 L179.2 537 L179.9 537 L180.6 537 L181.3 537 L182 537 L182.7 537 L183.4 537 L184.1 537 L184.8 537 L185.5 537 L186.2 537 L186.9 537 L187.6 537 L188.3 537 L189 537 L189.7 537 L190.4 537 L191.1 537 L191.8 537 L192.5 537 L192.7 540.05 L193.4 542.61 L194.1 544.76 L194.8 546.56 L195.5 548.08 L196.2 549.35 L196.9 550.42 L197.6 551.31 L198.3 552.07 L199 552.7 L199.7 553.23 L200.4 553.67 L201.1 554.05 L201.8 554.36 L202.5 554.62 L203.2 554.84 L203.9 555.03 L204.6 555.19" fill="none" stroke="#8a8a8a" stroke-width="0.9" stroke-linejoin="round"/>
<path d="M42 556 L42.7 552.84 L43.4 550.09 L44.1 547.7 L44.8 545.62 L45.5 543.82 L46.2 542.25 L46.9 540.88 L47.6 539.7 L48.3 538.66 L49 537.77 L49.7 536.99 L50.4 536.31 L51.1 535.72 L51.8 535.21 L52.5 534.76 L53.2 534.38 L53.9 534.04 L54.6 533.75 L55.3 533.49 L56 533.27 L56.7 533.08 L57.4 532.91 L58.1 532.77 L58.8 532.64 L59.5 532.53 L60.2 532.44 L60.9 532.35 L61.6 532.28 L62.3 532.22 L63 532.16 L63.7 532.12 L64.4 532.07 L65.1 532.04 L65.8 532.01 L66.5 531.98 L67.2 531.96 L67.9 531.94 L68.6 531.92 L69.3 531.9 L70 531.89 L70.7 531.88 L71.4 531.87 L72.1 531.86 L72.8 531.85 L73.5 531.84 L74.2 531.84 L74.9 531.83 L75.6 531.83 L76.3 531.83 L77 531.82 L77.7 531.82 L78.4 531.82 L79.1 531.81 L79.8 531.81 L80.5 531.81 L81.2 531.81 L81.9 531.81 L82.6 531.81 L83.3 531.81 L84 531.81 L84.7 531.8 L85.4 531.8 L86.1 531.8 L86.8 531.8 L87.5 531.8 L88.2 531.8 L88.9 531.8 L89.6 531.8 L90.3 531.8 L91 531.8 L91.7 531.8 L92.4 531.8 L93.1 531.8 L93.8 531.8 L94.5 531.8 L95.2 531.8 L95.9 531.8 L96.6 531.8 L97.3 531.8 L98 531.8 L98.7 531.8 L99.4 531.8 L100.1 531.8 L100.8 531.8 L101.5 531.8 L102.2 531.8 L102.9 531.8 L103.6 531.8 L104.3 531.8 L105 531.8 L105.7 531.8 L106.4 531.8 L107.1 531.8 L107.8 531.8 L108.5 531.8 L109.2 531.8 L109.9 531.8 L110.6 531.8 L111.3 531.8 L112 531.8 L112.7 531.8 L113.4 531.8 L114.1 531.8 L114.8 531.8 L115.5 531.8 L116.2 531.8 L116.9 531.8 L117.6 531.8 L118.3 531.8 L119 531.8 L119.7 531.8 L120.4 531.8 L121.1 531.8 L121.8 531.8 L122.5 531.8 L123.2 531.8 L123.9 531.8 L124.6 531.8 L125.3 531.8 L126 531.8 L126.7 531.8 L127.4 531.8 L128.1 531.8 L128.8 531.8 L129.5 531.8 L130.2 531.8 L130.9 531.8 L131.6 531.8 L132.3 531.8 L133 531.8 L133.7 531.8 L134.4 531.8 L135.1 531.8 L135.8 531.8 L136.5 531.8 L137.2 531.8 L137.9 531.8 L138.6 531.8 L139.3 531.8 L140 531.8 L140.7 531.8 L141.4 531.8 L142.1 531.8 L142.8 531.8 L143.5 531.8 L144.2 531.8 L144.9 531.8 L145.6 531.8 L146.3 531.8 L147 531.8 L147.7 531.8 L148.4 531.8 L149.1 531.8 L149.8 531.8 L150.5 531.8 L151.2 531.8 L151.9 531.8 L152.6 531.8 L153.3 531.8 L154 531.8 L154.7 531.8 L155.4 531.8 L156.1 531.8 L156.8 531.8 L157.5 531.8 L158.2 531.8 L158.9 531.8 L159.6 531.8 L160.3 531.8 L161 531.8 L161.7 531.8 L162.4 531.8 L163.1 531.8 L163.8 531.8 L164.5 531.8 L165.2 531.8 L165.9 531.8 L166.6 531.8 L167.3 531.8 L168 531.8 L168.7 531.8 L169.4 531.8 L170.1 531.8 L170.8 531.8 L171.5 531.8 L172.2 531.8 L172.9 531.8 L173.6 531.8 L174.3 531.8 L175 531.8 L175.7 531.8 L176.4 531.8 L177.1 531.8 L177.8 531.8 L178.5 531.8 L179.2 531.8 L179.9 531.8 L180.6 531.8 L181.3 531.8 L182 531.8 L182.7 531.8 L183.4 531.8 L184.1 531.8 L184.8 531.8 L185.5 531.8 L186.2 531.8 L186.9 531.8 L187.6 531.8 L188.3 531.8 L189 531.8 L189.7 531.8 L190.4 531.8 L191.1 531.8 L191.8 531.8 L192.5 531.8 L192.7 535.69 L193.4 538.95 L194.1 541.68 L194.8 543.98 L195.5 545.91 L196.2 547.53 L196.9 548.89 L197.6 550.03 L198.3 550.99 L199 551.79 L199.7 552.47 L200.4 553.04 L201.1 553.51 L201.8 553.91 L202.5 554.25 L203.2 554.53 L203.9 554.76 L204.6 554.96" fill="none" stroke="#8a8a8a" stroke-width="0.9" stroke-linejoin="round"/>
<path d="M34.2 556 L42 556 L42.5 553.94 L43 552 L43.5 550.16 L44 548.42 L44.5 546.78 L45 545.22 L45.5 543.75 L46 542.35 L46.5 541.04 L47 539.79 L47.5 538.61 L48 537.5 L48.5 536.44 L49 535.44 L49.5 534.5 L50 533.61 L50.5 532.76 L51 531.96 L51.5 531.21 L52 530.49 L52.5 529.81 L53 529.17 L53.5 528.57 L54 528 L54.5 527.45 L55 526.94 L55.5 526.46 L56 526 L56.5 525.57 L57 525.15 L57.5 524.77 L58 524.4 L58.5 524.05 L59 523.72 L59.5 523.41 L60 523.12 L60.5 522.84 L61 522.58 L61.5 522.33 L62 522.09 L62.5 521.87 L63 521.66 L63.5 521.46 L64 521.27 L64.5 521.09 L65 520.93 L65.5 520.77 L66 520.61 L66.5 520.47 L67 520.34 L67.5 520.21 L68 520.09 L68.5 519.97 L69 519.87 L69.5 519.76 L70 519.67 L70.5 519.58 L71 519.49 L71.5 519.41 L72 519.33 L72.5 519.26 L73 519.19 L73.5 519.12 L74 519.06 L74.5 519 L74.6 519 L75.2 438.7 L75.8 445 L76.3 516 L77.3 520 L80 523.5 L84 526.5 L90 528.3 L100 527.5 L130 526 L160 525 L191.9 524.8 L192.4 528.95 L192.9 532.55 L193.4 535.68 L193.9 538.38 L194.4 540.73 L194.9 542.76 L195.4 544.52 L195.9 546.05 L196.4 547.37 L196.9 548.52 L197.4 549.52 L197.9 550.38 L198.4 551.13 L198.9 551.78 L199.4 552.34 L199.9 552.83 L200.4 553.25 L200.9 553.62 L201.4 553.93 L201.9 554.21 L202.4 554.45 L202.9 554.65 L203.4 554.83 L203.9 554.99 L204.4 555.12" fill="none" stroke="#111" stroke-width="1.5" stroke-linejoin="round"/>
<line x1="38.5" y1="519.2" x2="74.4" y2="519.2" stroke="#000" stroke-width="1.2" stroke-dasharray="3 2"/>
<text x="34.7" y="518.4" font-size="13.3" fill="#000" text-anchor="end">-41.6</text>
<text x="29.4" y="531.5" font-size="13.3" fill="#000" text-anchor="end">mV</text>
<text x="35.5" y="553" font-size="13.3" fill="#000" text-anchor="end">-68.5</text>
<text x="29.4" y="567" font-size="13.3" fill="#000" text-anchor="end">mV</text>
<path d="M273.4 548.3 L274.1 548.05 L274.8 547.82 L275.5 547.6 L276.2 547.4 L276.9 547.21 L277.6 547.04 L278.3 546.88 L279 546.73 L279.7 546.6 L280.4 546.47 L281.1 546.35 L281.8 546.24 L282.5 546.14 L283.2 546.05 L283.9 545.96 L284.6 545.88 L285.3 545.8 L286 545.73 L286.7 545.66 L287.4 545.6 L288.1 545.55 L288.8 545.49 L289.5 545.45 L290.2 545.4 L290.9 545.36 L291.6 545.32 L292.3 545.28 L293 545.24 L293.7 545.21 L294.4 545.18 L295.1 545.15 L295.8 545.13 L296.5 545.1 L297.2 545.08 L297.9 545.05 L298.6 545.03 L299.3 545.01 L300 545 L300.7 544.98 L301.4 544.96 L302.1 544.95 L302.8 544.93 L303.5 544.92 L304.2 544.9 L304.9 544.89 L305.6 544.88 L306.3 544.87 L307 544.86 L307.7 544.85 L308.4 544.84 L309.1 544.83 L309.8 544.82 L310.5 544.81 L311.2 544.8 L311.9 544.79 L312.6 544.78 L313.3 544.78 L314 544.77 L314.7 544.76 L315.4 544.75 L316.1 544.75 L316.8 544.74 L317.5 544.73 L318.2 544.73 L318.9 544.72 L319.6 544.71 L320.3 544.71 L321 544.7 L321.7 544.7 L322.4 544.69 L323.1 544.68 L323.8 544.68 L324.5 544.67 L325.2 544.67 L325.9 544.66 L326.6 544.66 L327.3 544.65 L328 544.65 L328.7 544.64 L329.4 544.64 L330.1 544.63 L330.8 544.63 L331.5 544.62 L332.2 544.62 L332.9 544.61 L333.6 544.61 L334.3 544.6 L335 544.6 L335.7 544.59 L336.4 544.59 L337.1 544.58 L337.8 544.58 L338.5 544.57 L339.2 544.57 L339.9 544.56 L340.6 544.56 L341.3 544.55 L342 544.55 L342.7 544.54 L343.4 544.54 L344.1 544.53 L344.8 544.53 L345.5 544.52 L346.2 544.52 L346.9 544.51 L347.6 544.51 L348.3 544.51 L349 544.5 L349.7 544.5 L350.4 544.49 L351.1 544.49 L351.8 544.48 L352.5 544.48 L353.2 544.47 L353.9 544.47 L354.6 544.46 L355.3 544.46 L356 544.45 L356.7 544.45 L357.4 544.44 L358.1 544.44 L358.8 544.44 L359.5 544.43 L360.2 544.43 L360.9 544.42 L361.6 544.42 L362.3 544.41 L363 544.41 L363.7 544.4 L364.4 544.4 L365.1 544.39 L365.8 544.39 L366.5 544.38 L367.2 544.38 L367.9 544.38 L368.6 544.37 L369.3 544.37 L370 544.36 L370.7 544.36 L371.4 544.35 L372.1 544.35 L372.8 544.34 L373.5 544.34 L374.2 544.33 L374.9 544.33 L375.6 544.32 L376.3 544.32 L377 544.31 L377.7 544.31 L378.4 544.31 L379.1 544.3 L379.8 544.3 L380.5 544.29 L381.2 544.29 L381.9 544.28 L382.6 544.28 L383.3 544.27 L384 544.27 L384.7 544.26 L385.4 544.26 L386.1 544.25 L386.8 544.25 L387.5 544.25 L388.2 544.24 L388.9 544.24 L389.6 544.23 L390.3 544.23 L391 544.22 L391.7 544.22 L392.4 544.21 L393.1 544.21 L393.8 544.2 L394.5 544.2 L395.2 544.19 L395.9 544.19 L396.6 544.19 L397.3 544.18 L398 544.18 L398.7 544.17 L399.4 544.17 L400.1 544.16 L400.8 544.16 L401.5 544.15 L402.2 544.15 L402.9 544.14 L403.6 544.14 L404.3 544.13 L405 544.13 L405.7 544.13 L406.4 544.12 L407.1 544.12 L407.8 544.11 L408.5 544.11 L409.2 544.1 L409.9 544.1 L410.6 544.09 L411.3 544.09 L412 544.08 L412.7 544.08 L413.4 544.07 L414.1 544.07 L414.8 544.06 L415.5 544.06 L416.2 544.06 L416.9 544.05 L417.6 544.05 L418.3 544.04 L419 544.04 L419.7 544.03 L420.4 544.03 L421.1 544.02 L421.8 544.02 L422.5 544.01 L423.2 544.01 L423.9 544 L424.6 544 L425.3 544 L425.3 544.69 L426 545.27 L426.7 545.75 L427.4 546.16 L428.1 546.51 L428.8 546.79 L429.5 547.04 L430.2 547.24 L430.9 547.41 L431.6 547.55 L432.3 547.67 L433 547.77 L433.7 547.86 L434.4 547.93 L435.1 547.99 L435.8 548.04" fill="none" stroke="#9e9e9e" stroke-width="0.8" stroke-linejoin="round"/>
<path d="M273.4 548.3 L274.1 547.85 L274.8 547.44 L275.5 547.05 L276.2 546.69 L276.9 546.36 L277.6 546.05 L278.3 545.76 L279 545.49 L279.7 545.24 L280.4 545.01 L281.1 544.8 L281.8 544.6 L282.5 544.41 L283.2 544.24 L283.9 544.08 L284.6 543.93 L285.3 543.79 L286 543.66 L286.7 543.53 L287.4 543.42 L288.1 543.32 L288.8 543.22 L289.5 543.13 L290.2 543.04 L290.9 542.96 L291.6 542.89 L292.3 542.82 L293 542.75 L293.7 542.69 L294.4 542.64 L295.1 542.58 L295.8 542.53 L296.5 542.49 L297.2 542.44 L297.9 542.4 L298.6 542.36 L299.3 542.33 L300 542.29 L300.7 542.26 L301.4 542.23 L302.1 542.2 L302.8 542.18 L303.5 542.15 L304.2 542.13 L304.9 542.11 L305.6 542.08 L306.3 542.06 L307 542.04 L307.7 542.03 L308.4 542.01 L309.1 541.99 L309.8 541.98 L310.5 541.96 L311.2 541.95 L311.9 541.93 L312.6 541.92 L313.3 541.91 L314 541.9 L314.7 541.88 L315.4 541.87 L316.1 541.86 L316.8 541.85 L317.5 541.84 L318.2 541.83 L318.9 541.82 L319.6 541.81 L320.3 541.8 L321 541.8 L321.7 541.79 L322.4 541.78 L323.1 541.77 L323.8 541.76 L324.5 541.75 L325.2 541.75 L325.9 541.74 L326.6 541.73 L327.3 541.72 L328 541.72 L328.7 541.71 L329.4 541.7 L330.1 541.7 L330.8 541.69 L331.5 541.68 L332.2 541.68 L332.9 541.67 L333.6 541.66 L334.3 541.66 L335 541.65 L335.7 541.64 L336.4 541.64 L337.1 541.63 L337.8 541.62 L338.5 541.62 L339.2 541.61 L339.9 541.61 L340.6 541.6 L341.3 541.59 L342 541.59 L342.7 541.58 L343.4 541.57 L344.1 541.57 L344.8 541.56 L345.5 541.56 L346.2 541.55 L346.9 541.54 L347.6 541.54 L348.3 541.53 L349 541.53 L349.7 541.52 L350.4 541.52 L351.1 541.51 L351.8 541.5 L352.5 541.5 L353.2 541.49 L353.9 541.49 L354.6 541.48 L355.3 541.47 L356 541.47 L356.7 541.46 L357.4 541.46 L358.1 541.45 L358.8 541.44 L359.5 541.44 L360.2 541.43 L360.9 541.43 L361.6 541.42 L362.3 541.42 L363 541.41 L363.7 541.4 L364.4 541.4 L365.1 541.39 L365.8 541.39 L366.5 541.38 L367.2 541.37 L367.9 541.37 L368.6 541.36 L369.3 541.36 L370 541.35 L370.7 541.35 L371.4 541.34 L372.1 541.33 L372.8 541.33 L373.5 541.32 L374.2 541.32 L374.9 541.31 L375.6 541.31 L376.3 541.3 L377 541.29 L377.7 541.29 L378.4 541.28 L379.1 541.28 L379.8 541.27 L380.5 541.26 L381.2 541.26 L381.9 541.25 L382.6 541.25 L383.3 541.24 L384 541.24 L384.7 541.23 L385.4 541.22 L386.1 541.22 L386.8 541.21 L387.5 541.21 L388.2 541.2 L388.9 541.2 L389.6 541.19 L390.3 541.18 L391 541.18 L391.7 541.17 L392.4 541.17 L393.1 541.16 L393.8 541.15 L394.5 541.15 L395.2 541.14 L395.9 541.14 L396.6 541.13 L397.3 541.13 L398 541.12 L398.7 541.11 L399.4 541.11 L400.1 541.1 L400.8 541.1 L401.5 541.09 L402.2 541.09 L402.9 541.08 L403.6 541.07 L404.3 541.07 L405 541.06 L405.7 541.06 L406.4 541.05 L407.1 541.04 L407.8 541.04 L408.5 541.03 L409.2 541.03 L409.9 541.02 L410.6 541.02 L411.3 541.01 L412 541 L412.7 541 L413.4 540.99 L414.1 540.99 L414.8 540.98 L415.5 540.98 L416.2 540.97 L416.9 540.96 L417.6 540.96 L418.3 540.95 L419 540.95 L419.7 540.94 L420.4 540.93 L421.1 540.93 L421.8 540.92 L422.5 540.92 L423.2 540.91 L423.9 540.91 L424.6 540.9 L425.3 540.89 L425.3 542.08 L426 543.08 L426.7 543.92 L427.4 544.62 L428.1 545.21 L428.8 545.71 L429.5 546.12 L430.2 546.47 L430.9 546.77 L431.6 547.01 L432.3 547.22 L433 547.39 L433.7 547.54 L434.4 547.66 L435.1 547.76 L435.8 547.85" fill="none" stroke="#9e9e9e" stroke-width="0.8" stroke-linejoin="round"/>
<path d="M273.4 548.3 L274.1 547.67 L274.8 547.09 L275.5 546.54 L276.2 546.04 L276.9 545.56 L277.6 545.12 L278.3 544.71 L279 544.33 L279.7 543.97 L280.4 543.64 L281.1 543.33 L281.8 543.04 L282.5 542.77 L283.2 542.51 L283.9 542.28 L284.6 542.06 L285.3 541.85 L286 541.66 L286.7 541.48 L287.4 541.32 L288.1 541.16 L288.8 541.02 L289.5 540.88 L290.2 540.75 L290.9 540.64 L291.6 540.52 L292.3 540.42 L293 540.32 L293.7 540.23 L294.4 540.15 L295.1 540.07 L295.8 539.99 L296.5 539.92 L297.2 539.86 L297.9 539.8 L298.6 539.74 L299.3 539.68 L300 539.63 L300.7 539.58 L301.4 539.54 L302.1 539.5 L302.8 539.46 L303.5 539.42 L304.2 539.38 L304.9 539.35 L305.6 539.32 L306.3 539.29 L307 539.26 L307.7 539.23 L308.4 539.21 L309.1 539.18 L309.8 539.16 L310.5 539.14 L311.2 539.12 L311.9 539.1 L312.6 539.08 L313.3 539.06 L314 539.04 L314.7 539.02 L315.4 539.01 L316.1 538.99 L316.8 538.98 L317.5 538.96 L318.2 538.95 L318.9 538.94 L319.6 538.92 L320.3 538.91 L321 538.9 L321.7 538.89 L322.4 538.87 L323.1 538.86 L323.8 538.85 L324.5 538.84 L325.2 538.83 L325.9 538.82 L326.6 538.81 L327.3 538.8 L328 538.79 L328.7 538.78 L329.4 538.77 L330.1 538.77 L330.8 538.76 L331.5 538.75 L332.2 538.74 L332.9 538.73 L333.6 538.72 L334.3 538.71 L335 538.71 L335.7 538.7 L336.4 538.69 L337.1 538.68 L337.8 538.67 L338.5 538.67 L339.2 538.66 L339.9 538.65 L340.6 538.64 L341.3 538.64 L342 538.63 L342.7 538.62 L343.4 538.61 L344.1 538.61 L344.8 538.6 L345.5 538.59 L346.2 538.58 L346.9 538.58 L347.6 538.57 L348.3 538.56 L349 538.55 L349.7 538.55 L350.4 538.54 L351.1 538.53 L351.8 538.53 L352.5 538.52 L353.2 538.51 L353.9 538.5 L354.6 538.5 L355.3 538.49 L356 538.48 L356.7 538.48 L357.4 538.47 L358.1 538.46 L358.8 538.45 L359.5 538.45 L360.2 538.44 L360.9 538.43 L361.6 538.43 L362.3 538.42 L363 538.41 L363.7 538.41 L364.4 538.4 L365.1 538.39 L365.8 538.38 L366.5 538.38 L367.2 538.37 L367.9 538.36 L368.6 538.36 L369.3 538.35 L370 538.34 L370.7 538.34 L371.4 538.33 L372.1 538.32 L372.8 538.31 L373.5 538.31 L374.2 538.3 L374.9 538.29 L375.6 538.29 L376.3 538.28 L377 538.27 L377.7 538.27 L378.4 538.26 L379.1 538.25 L379.8 538.24 L380.5 538.24 L381.2 538.23 L381.9 538.22 L382.6 538.22 L383.3 538.21 L384 538.2 L384.7 538.2 L385.4 538.19 L386.1 538.18 L386.8 538.18 L387.5 538.17 L388.2 538.16 L388.9 538.15 L389.6 538.15 L390.3 538.14 L391 538.13 L391.7 538.13 L392.4 538.12 L393.1 538.11 L393.8 538.11 L394.5 538.1 L395.2 538.09 L395.9 538.08 L396.6 538.08 L397.3 538.07 L398 538.06 L398.7 538.06 L399.4 538.05 L400.1 538.04 L400.8 538.04 L401.5 538.03 L402.2 538.02 L402.9 538.02 L403.6 538.01 L404.3 538 L405 537.99 L405.7 537.99 L406.4 537.98 L407.1 537.97 L407.8 537.97 L408.5 537.96 L409.2 537.95 L409.9 537.95 L410.6 537.94 L411.3 537.93 L412 537.93 L412.7 537.92 L413.4 537.91 L414.1 537.9 L414.8 537.9 L415.5 537.89 L416.2 537.88 L416.9 537.88 L417.6 537.87 L418.3 537.86 L419 537.86 L419.7 537.85 L420.4 537.84 L421.1 537.83 L421.8 537.83 L422.5 537.82 L423.2 537.81 L423.9 537.81 L424.6 537.8 L425.3 537.79 L425.3 539.48 L426 540.9 L426.7 542.08 L427.4 543.08 L428.1 543.92 L428.8 544.62 L429.5 545.21 L430.2 545.71 L430.9 546.12 L431.6 546.47 L432.3 546.77 L433 547.01 L433.7 547.22 L434.4 547.39 L435.1 547.54 L435.8 547.66" fill="none" stroke="#9e9e9e" stroke-width="0.8" stroke-linejoin="round"/>
<path d="M273.4 548.3 L274.1 547.51 L274.8 546.76 L275.5 546.07 L276.2 545.42 L276.9 544.82 L277.6 544.25 L278.3 543.72 L279 543.23 L279.7 542.77 L280.4 542.33 L281.1 541.93 L281.8 541.55 L282.5 541.2 L283.2 540.87 L283.9 540.56 L284.6 540.27 L285.3 540 L286 539.75 L286.7 539.51 L287.4 539.29 L288.1 539.08 L288.8 538.89 L289.5 538.71 L290.2 538.54 L290.9 538.38 L291.6 538.23 L292.3 538.09 L293 537.96 L293.7 537.83 L294.4 537.72 L295.1 537.61 L295.8 537.51 L296.5 537.41 L297.2 537.32 L297.9 537.24 L298.6 537.16 L299.3 537.09 L300 537.02 L300.7 536.95 L301.4 536.89 L302.1 536.83 L302.8 536.77 L303.5 536.72 L304.2 536.67 L304.9 536.63 L305.6 536.58 L306.3 536.54 L307 536.5 L307.7 536.46 L308.4 536.43 L309.1 536.39 L309.8 536.36 L310.5 536.33 L311.2 536.3 L311.9 536.28 L312.6 536.25 L313.3 536.23 L314 536.2 L314.7 536.18 L315.4 536.16 L316.1 536.14 L316.8 536.12 L317.5 536.1 L318.2 536.08 L318.9 536.06 L319.6 536.04 L320.3 536.03 L321 536.01 L321.7 536 L322.4 535.98 L323.1 535.97 L323.8 535.95 L324.5 535.94 L325.2 535.92 L325.9 535.91 L326.6 535.9 L327.3 535.89 L328 535.87 L328.7 535.86 L329.4 535.85 L330.1 535.84 L330.8 535.83 L331.5 535.82 L332.2 535.81 L332.9 535.8 L333.6 535.79 L334.3 535.78 L335 535.77 L335.7 535.76 L336.4 535.75 L337.1 535.74 L337.8 535.73 L338.5 535.72 L339.2 535.71 L339.9 535.7 L340.6 535.69 L341.3 535.68 L342 535.67 L342.7 535.66 L343.4 535.65 L344.1 535.64 L344.8 535.63 L345.5 535.63 L346.2 535.62 L346.9 535.61 L347.6 535.6 L348.3 535.59 L349 535.58 L349.7 535.57 L350.4 535.57 L351.1 535.56 L351.8 535.55 L352.5 535.54 L353.2 535.53 L353.9 535.52 L354.6 535.51 L355.3 535.51 L356 535.5 L356.7 535.49 L357.4 535.48 L358.1 535.47 L358.8 535.46 L359.5 535.46 L360.2 535.45 L360.9 535.44 L361.6 535.43 L362.3 535.42 L363 535.41 L363.7 535.41 L364.4 535.4 L365.1 535.39 L365.8 535.38 L366.5 535.37 L367.2 535.37 L367.9 535.36 L368.6 535.35 L369.3 535.34 L370 535.33 L370.7 535.32 L371.4 535.32 L372.1 535.31 L372.8 535.3 L373.5 535.29 L374.2 535.28 L374.9 535.28 L375.6 535.27 L376.3 535.26 L377 535.25 L377.7 535.24 L378.4 535.24 L379.1 535.23 L379.8 535.22 L380.5 535.21 L381.2 535.2 L381.9 535.19 L382.6 535.19 L383.3 535.18 L384 535.17 L384.7 535.16 L385.4 535.15 L386.1 535.15 L386.8 535.14 L387.5 535.13 L388.2 535.12 L388.9 535.11 L389.6 535.11 L390.3 535.1 L391 535.09 L391.7 535.08 L392.4 535.07 L393.1 535.06 L393.8 535.06 L394.5 535.05 L395.2 535.04 L395.9 535.03 L396.6 535.02 L397.3 535.02 L398 535.01 L398.7 535 L399.4 534.99 L400.1 534.98 L400.8 534.98 L401.5 534.97 L402.2 534.96 L402.9 534.95 L403.6 534.94 L404.3 534.93 L405 534.93 L405.7 534.92 L406.4 534.91 L407.1 534.9 L407.8 534.89 L408.5 534.89 L409.2 534.88 L409.9 534.87 L410.6 534.86 L411.3 534.85 L412 534.85 L412.7 534.84 L413.4 534.83 L414.1 534.82 L414.8 534.81 L415.5 534.81 L416.2 534.8 L416.9 534.79 L417.6 534.78 L418.3 534.77 L419 534.76 L419.7 534.76 L420.4 534.75 L421.1 534.74 L421.8 534.73 L422.5 534.72 L423.2 534.72 L423.9 534.71 L424.6 534.7 L425.3 534.69 L425.3 536.88 L426 538.71 L426.7 540.25 L427.4 541.54 L428.1 542.63 L428.8 543.54 L429.5 544.3 L430.2 544.94 L430.9 545.48 L431.6 545.94 L432.3 546.31 L433 546.63 L433.7 546.9 L434.4 547.13 L435.1 547.31 L435.8 547.47" fill="none" stroke="#9e9e9e" stroke-width="0.8" stroke-linejoin="round"/>
<path d="M273.4 548.3 L274.1 547.35 L274.8 546.46 L275.5 545.63 L276.2 544.85 L276.9 544.12 L277.6 543.44 L278.3 542.79 L279 542.19 L279.7 541.63 L280.4 541.1 L281.1 540.61 L281.8 540.14 L282.5 539.71 L283.2 539.3 L283.9 538.92 L284.6 538.56 L285.3 538.23 L286 537.91 L286.7 537.62 L287.4 537.34 L288.1 537.08 L288.8 536.83 L289.5 536.61 L290.2 536.39 L290.9 536.19 L291.6 536 L292.3 535.82 L293 535.65 L293.7 535.5 L294.4 535.35 L295.1 535.21 L295.8 535.08 L296.5 534.96 L297.2 534.84 L297.9 534.73 L298.6 534.63 L299.3 534.53 L300 534.44 L300.7 534.36 L301.4 534.28 L302.1 534.2 L302.8 534.13 L303.5 534.06 L304.2 534 L304.9 533.94 L305.6 533.88 L306.3 533.82 L307 533.77 L307.7 533.72 L308.4 533.68 L309.1 533.63 L309.8 533.59 L310.5 533.55 L311.2 533.52 L311.9 533.48 L312.6 533.45 L313.3 533.41 L314 533.38 L314.7 533.35 L315.4 533.32 L316.1 533.3 L316.8 533.27 L317.5 533.25 L318.2 533.22 L318.9 533.2 L319.6 533.18 L320.3 533.16 L321 533.14 L321.7 533.12 L322.4 533.1 L323.1 533.08 L323.8 533.06 L324.5 533.04 L325.2 533.03 L325.9 533.01 L326.6 532.99 L327.3 532.98 L328 532.96 L328.7 532.95 L329.4 532.93 L330.1 532.92 L330.8 532.91 L331.5 532.89 L332.2 532.88 L332.9 532.87 L333.6 532.85 L334.3 532.84 L335 532.83 L335.7 532.82 L336.4 532.81 L337.1 532.79 L337.8 532.78 L338.5 532.77 L339.2 532.76 L339.9 532.75 L340.6 532.74 L341.3 532.73 L342 532.72 L342.7 532.7 L343.4 532.69 L344.1 532.68 L344.8 532.67 L345.5 532.66 L346.2 532.65 L346.9 532.64 L347.6 532.63 L348.3 532.62 L349 532.61 L349.7 532.6 L350.4 532.59 L351.1 532.58 L351.8 532.57 L352.5 532.56 L353.2 532.55 L353.9 532.54 L354.6 532.53 L355.3 532.52 L356 532.51 L356.7 532.5 L357.4 532.49 L358.1 532.48 L358.8 532.48 L359.5 532.47 L360.2 532.46 L360.9 532.45 L361.6 532.44 L362.3 532.43 L363 532.42 L363.7 532.41 L364.4 532.4 L365.1 532.39 L365.8 532.38 L366.5 532.37 L367.2 532.36 L367.9 532.35 L368.6 532.34 L369.3 532.33 L370 532.32 L370.7 532.31 L371.4 532.31 L372.1 532.3 L372.8 532.29 L373.5 532.28 L374.2 532.27 L374.9 532.26 L375.6 532.25 L376.3 532.24 L377 532.23 L377.7 532.22 L378.4 532.21 L379.1 532.2 L379.8 532.19 L380.5 532.18 L381.2 532.17 L381.9 532.17 L382.6 532.16 L383.3 532.15 L384 532.14 L384.7 532.13 L385.4 532.12 L386.1 532.11 L386.8 532.1 L387.5 532.09 L388.2 532.08 L388.9 532.07 L389.6 532.06 L390.3 532.05 L391 532.04 L391.7 532.04 L392.4 532.03 L393.1 532.02 L393.8 532.01 L394.5 532 L395.2 531.99 L395.9 531.98 L396.6 531.97 L397.3 531.96 L398 531.95 L398.7 531.94 L399.4 531.93 L400.1 531.92 L400.8 531.91 L401.5 531.91 L402.2 531.9 L402.9 531.89 L403.6 531.88 L404.3 531.87 L405 531.86 L405.7 531.85 L406.4 531.84 L407.1 531.83 L407.8 531.82 L408.5 531.81 L409.2 531.8 L409.9 531.79 L410.6 531.79 L411.3 531.78 L412 531.77 L412.7 531.76 L413.4 531.75 L414.1 531.74 L414.8 531.73 L415.5 531.72 L416.2 531.71 L416.9 531.7 L417.6 531.69 L418.3 531.68 L419 531.67 L419.7 531.66 L420.4 531.66 L421.1 531.65 L421.8 531.64 L422.5 531.63 L423.2 531.62 L423.9 531.61 L424.6 531.6 L425.3 531.59 L425.3 534.27 L426 536.53 L426.7 538.42 L427.4 540 L428.1 541.33 L428.8 542.45 L429.5 543.39 L430.2 544.18 L430.9 544.84 L431.6 545.4 L432.3 545.86 L433 546.25 L433.7 546.58 L434.4 546.86 L435.1 547.09 L435.8 547.28" fill="none" stroke="#9e9e9e" stroke-width="0.8" stroke-linejoin="round"/>
<path d="M273.4 548.3 L274.1 547.21 L274.8 546.18 L275.5 545.22 L276.2 544.31 L276.9 543.47 L277.6 542.67 L278.3 541.92 L279 541.21 L279.7 540.55 L280.4 539.93 L281.1 539.35 L281.8 538.8 L282.5 538.29 L283.2 537.8 L283.9 537.35 L284.6 536.92 L285.3 536.52 L286 536.14 L286.7 535.79 L287.4 535.46 L288.1 535.14 L288.8 534.85 L289.5 534.57 L290.2 534.31 L290.9 534.07 L291.6 533.83 L292.3 533.62 L293 533.41 L293.7 533.22 L294.4 533.04 L295.1 532.87 L295.8 532.71 L296.5 532.56 L297.2 532.41 L297.9 532.28 L298.6 532.15 L299.3 532.03 L300 531.92 L300.7 531.81 L301.4 531.71 L302.1 531.61 L302.8 531.52 L303.5 531.44 L304.2 531.36 L304.9 531.28 L305.6 531.21 L306.3 531.14 L307 531.08 L307.7 531.02 L308.4 530.96 L309.1 530.9 L309.8 530.85 L310.5 530.8 L311.2 530.75 L311.9 530.71 L312.6 530.66 L313.3 530.62 L314 530.58 L314.7 530.55 L315.4 530.51 L316.1 530.48 L316.8 530.44 L317.5 530.41 L318.2 530.38 L318.9 530.35 L319.6 530.33 L320.3 530.3 L321 530.27 L321.7 530.25 L322.4 530.22 L323.1 530.2 L323.8 530.18 L324.5 530.16 L325.2 530.14 L325.9 530.12 L326.6 530.1 L327.3 530.08 L328 530.06 L328.7 530.04 L329.4 530.02 L330.1 530.01 L330.8 529.99 L331.5 529.97 L332.2 529.96 L332.9 529.94 L333.6 529.93 L334.3 529.91 L335 529.9 L335.7 529.88 L336.4 529.87 L337.1 529.86 L337.8 529.84 L338.5 529.83 L339.2 529.82 L339.9 529.8 L340.6 529.79 L341.3 529.78 L342 529.76 L342.7 529.75 L343.4 529.74 L344.1 529.73 L344.8 529.71 L345.5 529.7 L346.2 529.69 L346.9 529.68 L347.6 529.67 L348.3 529.65 L349 529.64 L349.7 529.63 L350.4 529.62 L351.1 529.61 L351.8 529.6 L352.5 529.59 L353.2 529.57 L353.9 529.56 L354.6 529.55 L355.3 529.54 L356 529.53 L356.7 529.52 L357.4 529.51 L358.1 529.5 L358.8 529.49 L359.5 529.48 L360.2 529.46 L360.9 529.45 L361.6 529.44 L362.3 529.43 L363 529.42 L363.7 529.41 L364.4 529.4 L365.1 529.39 L365.8 529.38 L366.5 529.37 L367.2 529.36 L367.9 529.35 L368.6 529.34 L369.3 529.33 L370 529.32 L370.7 529.3 L371.4 529.29 L372.1 529.28 L372.8 529.27 L373.5 529.26 L374.2 529.25 L374.9 529.24 L375.6 529.23 L376.3 529.22 L377 529.21 L377.7 529.2 L378.4 529.19 L379.1 529.18 L379.8 529.17 L380.5 529.16 L381.2 529.15 L381.9 529.14 L382.6 529.13 L383.3 529.12 L384 529.1 L384.7 529.09 L385.4 529.08 L386.1 529.07 L386.8 529.06 L387.5 529.05 L388.2 529.04 L388.9 529.03 L389.6 529.02 L390.3 529.01 L391 529 L391.7 528.99 L392.4 528.98 L393.1 528.97 L393.8 528.96 L394.5 528.95 L395.2 528.94 L395.9 528.93 L396.6 528.92 L397.3 528.91 L398 528.9 L398.7 528.89 L399.4 528.88 L400.1 528.86 L400.8 528.85 L401.5 528.84 L402.2 528.83 L402.9 528.82 L403.6 528.81 L404.3 528.8 L405 528.79 L405.7 528.78 L406.4 528.77 L407.1 528.76 L407.8 528.75 L408.5 528.74 L409.2 528.73 L409.9 528.72 L410.6 528.71 L411.3 528.7 L412 528.69 L412.7 528.68 L413.4 528.67 L414.1 528.66 L414.8 528.65 L415.5 528.64 L416.2 528.63 L416.9 528.61 L417.6 528.6 L418.3 528.59 L419 528.58 L419.7 528.57 L420.4 528.56 L421.1 528.55 L421.8 528.54 L422.5 528.53 L423.2 528.52 L423.9 528.51 L424.6 528.5 L425.3 528.49 L425.3 531.67 L426 534.34 L426.7 536.58 L427.4 538.46 L428.1 540.04 L428.8 541.37 L429.5 542.48 L430.2 543.41 L430.9 544.2 L431.6 544.86 L432.3 545.41 L433 545.87 L433.7 546.26 L434.4 546.59 L435.1 546.86 L435.8 547.1" fill="none" stroke="#9e9e9e" stroke-width="0.8" stroke-linejoin="round"/>
<path d="M273.4 548.3 L274.1 547.07 L274.8 545.92 L275.5 544.83 L276.2 543.81 L276.9 542.85 L277.6 541.94 L278.3 541.09 L279 540.29 L279.7 539.53 L280.4 538.82 L281.1 538.15 L281.8 537.53 L282.5 536.93 L283.2 536.37 L283.9 535.85 L284.6 535.35 L285.3 534.89 L286 534.45 L286.7 534.03 L287.4 533.64 L288.1 533.28 L288.8 532.93 L289.5 532.6 L290.2 532.3 L290.9 532.01 L291.6 531.73 L292.3 531.47 L293 531.23 L293.7 531 L294.4 530.79 L295.1 530.58 L295.8 530.39 L296.5 530.21 L297.2 530.04 L297.9 529.87 L298.6 529.72 L299.3 529.58 L300 529.44 L300.7 529.31 L301.4 529.19 L302.1 529.07 L302.8 528.96 L303.5 528.86 L304.2 528.76 L304.9 528.67 L305.6 528.58 L306.3 528.49 L307 528.41 L307.7 528.34 L308.4 528.27 L309.1 528.2 L309.8 528.14 L310.5 528.07 L311.2 528.02 L311.9 527.96 L312.6 527.91 L313.3 527.86 L314 527.81 L314.7 527.76 L315.4 527.72 L316.1 527.68 L316.8 527.64 L317.5 527.6 L318.2 527.56 L318.9 527.52 L319.6 527.49 L320.3 527.46 L321 527.43 L321.7 527.4 L322.4 527.37 L323.1 527.34 L323.8 527.31 L324.5 527.29 L325.2 527.26 L325.9 527.24 L326.6 527.21 L327.3 527.19 L328 527.17 L328.7 527.15 L329.4 527.12 L330.1 527.1 L330.8 527.08 L331.5 527.06 L332.2 527.05 L332.9 527.03 L333.6 527.01 L334.3 526.99 L335 526.97 L335.7 526.96 L336.4 526.94 L337.1 526.92 L337.8 526.91 L338.5 526.89 L339.2 526.88 L339.9 526.86 L340.6 526.85 L341.3 526.83 L342 526.82 L342.7 526.8 L343.4 526.79 L344.1 526.77 L344.8 526.76 L345.5 526.74 L346.2 526.73 L346.9 526.72 L347.6 526.7 L348.3 526.69 L349 526.68 L349.7 526.66 L350.4 526.65 L351.1 526.64 L351.8 526.62 L352.5 526.61 L353.2 526.6 L353.9 526.59 L354.6 526.57 L355.3 526.56 L356 526.55 L356.7 526.54 L357.4 526.52 L358.1 526.51 L358.8 526.5 L359.5 526.49 L360.2 526.47 L360.9 526.46 L361.6 526.45 L362.3 526.44 L363 526.43 L363.7 526.41 L364.4 526.4 L365.1 526.39 L365.8 526.38 L366.5 526.37 L367.2 526.35 L367.9 526.34 L368.6 526.33 L369.3 526.32 L370 526.31 L370.7 526.3 L371.4 526.28 L372.1 526.27 L372.8 526.26 L373.5 526.25 L374.2 526.24 L374.9 526.22 L375.6 526.21 L376.3 526.2 L377 526.19 L377.7 526.18 L378.4 526.17 L379.1 526.15 L379.8 526.14 L380.5 526.13 L381.2 526.12 L381.9 526.11 L382.6 526.1 L383.3 526.08 L384 526.07 L384.7 526.06 L385.4 526.05 L386.1 526.04 L386.8 526.03 L387.5 526.01 L388.2 526 L388.9 525.99 L389.6 525.98 L390.3 525.97 L391 525.96 L391.7 525.94 L392.4 525.93 L393.1 525.92 L393.8 525.91 L394.5 525.9 L395.2 525.89 L395.9 525.87 L396.6 525.86 L397.3 525.85 L398 525.84 L398.7 525.83 L399.4 525.82 L400.1 525.81 L400.8 525.79 L401.5 525.78 L402.2 525.77 L402.9 525.76 L403.6 525.75 L404.3 525.74 L405 525.72 L405.7 525.71 L406.4 525.7 L407.1 525.69 L407.8 525.68 L408.5 525.67 L409.2 525.65 L409.9 525.64 L410.6 525.63 L411.3 525.62 L412 525.61 L412.7 525.6 L413.4 525.59 L414.1 525.57 L414.8 525.56 L415.5 525.55 L416.2 525.54 L416.9 525.53 L417.6 525.52 L418.3 525.5 L419 525.49 L419.7 525.48 L420.4 525.47 L421.1 525.46 L421.8 525.45 L422.5 525.43 L423.2 525.42 L423.9 525.41 L424.6 525.4 L425.3 525.39 L425.3 529.07 L426 532.15 L426.7 534.75 L427.4 536.92 L428.1 538.75 L428.8 540.28 L429.5 541.57 L430.2 542.65 L430.9 543.56 L431.6 544.32 L432.3 544.96 L433 545.49 L433.7 545.94 L434.4 546.32 L435.1 546.64 L435.8 546.91" fill="none" stroke="#9e9e9e" stroke-width="0.8" stroke-linejoin="round"/>
<path d="M273.4 548.3 L274.1 546.95 L274.8 545.67 L275.5 544.47 L276.2 543.34 L276.9 542.27 L277.6 541.26 L278.3 540.31 L279 539.41 L279.7 538.57 L280.4 537.77 L281.1 537.02 L281.8 536.31 L282.5 535.64 L283.2 535 L283.9 534.41 L284.6 533.85 L285.3 533.31 L286 532.81 L286.7 532.34 L287.4 531.89 L288.1 531.47 L288.8 531.07 L289.5 530.7 L290.2 530.34 L290.9 530.01 L291.6 529.69 L292.3 529.39 L293 529.11 L293.7 528.84 L294.4 528.59 L295.1 528.35 L295.8 528.13 L296.5 527.91 L297.2 527.71 L297.9 527.52 L298.6 527.34 L299.3 527.17 L300 527.01 L300.7 526.85 L301.4 526.71 L302.1 526.57 L302.8 526.44 L303.5 526.32 L304.2 526.2 L304.9 526.09 L305.6 525.98 L306.3 525.88 L307 525.79 L307.7 525.7 L308.4 525.61 L309.1 525.53 L309.8 525.45 L310.5 525.38 L311.2 525.31 L311.9 525.24 L312.6 525.18 L313.3 525.11 L314 525.06 L314.7 525 L315.4 524.95 L316.1 524.9 L316.8 524.85 L317.5 524.8 L318.2 524.76 L318.9 524.71 L319.6 524.67 L320.3 524.63 L321 524.6 L321.7 524.56 L322.4 524.52 L323.1 524.49 L323.8 524.46 L324.5 524.43 L325.2 524.4 L325.9 524.37 L326.6 524.34 L327.3 524.31 L328 524.28 L328.7 524.26 L329.4 524.23 L330.1 524.21 L330.8 524.19 L331.5 524.16 L332.2 524.14 L332.9 524.12 L333.6 524.1 L334.3 524.08 L335 524.06 L335.7 524.04 L336.4 524.02 L337.1 524 L337.8 523.98 L338.5 523.96 L339.2 523.94 L339.9 523.92 L340.6 523.91 L341.3 523.89 L342 523.87 L342.7 523.86 L343.4 523.84 L344.1 523.82 L344.8 523.81 L345.5 523.79 L346.2 523.77 L346.9 523.76 L347.6 523.74 L348.3 523.73 L349 523.71 L349.7 523.7 L350.4 523.68 L351.1 523.67 L351.8 523.65 L352.5 523.64 L353.2 523.63 L353.9 523.61 L354.6 523.6 L355.3 523.58 L356 523.57 L356.7 523.55 L357.4 523.54 L358.1 523.53 L358.8 523.51 L359.5 523.5 L360.2 523.49 L360.9 523.47 L361.6 523.46 L362.3 523.45 L363 523.43 L363.7 523.42 L364.4 523.41 L365.1 523.39 L365.8 523.38 L366.5 523.37 L367.2 523.35 L367.9 523.34 L368.6 523.33 L369.3 523.31 L370 523.3 L370.7 523.29 L371.4 523.27 L372.1 523.26 L372.8 523.25 L373.5 523.23 L374.2 523.22 L374.9 523.21 L375.6 523.2 L376.3 523.18 L377 523.17 L377.7 523.16 L378.4 523.14 L379.1 523.13 L379.8 523.12 L380.5 523.1 L381.2 523.09 L381.9 523.08 L382.6 523.07 L383.3 523.05 L384 523.04 L384.7 523.03 L385.4 523.01 L386.1 523 L386.8 522.99 L387.5 522.98 L388.2 522.96 L388.9 522.95 L389.6 522.94 L390.3 522.93 L391 522.91 L391.7 522.9 L392.4 522.89 L393.1 522.87 L393.8 522.86 L394.5 522.85 L395.2 522.84 L395.9 522.82 L396.6 522.81 L397.3 522.8 L398 522.78 L398.7 522.77 L399.4 522.76 L400.1 522.75 L400.8 522.73 L401.5 522.72 L402.2 522.71 L402.9 522.7 L403.6 522.68 L404.3 522.67 L405 522.66 L405.7 522.64 L406.4 522.63 L407.1 522.62 L407.8 522.61 L408.5 522.59 L409.2 522.58 L409.9 522.57 L410.6 522.55 L411.3 522.54 L412 522.53 L412.7 522.52 L413.4 522.5 L414.1 522.49 L414.8 522.48 L415.5 522.47 L416.2 522.45 L416.9 522.44 L417.6 522.43 L418.3 522.41 L419 522.4 L419.7 522.39 L420.4 522.38 L421.1 522.36 L421.8 522.35 L422.5 522.34 L423.2 522.33 L423.9 522.31 L424.6 522.3 L425.3 522.29 L425.3 526.46 L426 529.97 L426.7 532.91 L427.4 535.38 L428.1 537.46 L428.8 539.2 L429.5 540.66 L430.2 541.89 L430.9 542.92 L431.6 543.78 L432.3 544.51 L433 545.11 L433.7 545.63 L434.4 546.06 L435.1 546.42 L435.8 546.72" fill="none" stroke="#9e9e9e" stroke-width="0.8" stroke-linejoin="round"/>
<path d="M273.4 548.3 L274.1 546.83 L274.8 545.44 L275.5 544.13 L276.2 542.89 L276.9 541.72 L277.6 540.61 L278.3 539.57 L279 538.58 L279.7 537.65 L280.4 536.77 L281.1 535.93 L281.8 535.14 L282.5 534.4 L283.2 533.69 L283.9 533.03 L284.6 532.4 L285.3 531.8 L286 531.24 L286.7 530.71 L287.4 530.21 L288.1 529.73 L288.8 529.28 L289.5 528.86 L290.2 528.45 L290.9 528.07 L291.6 527.71 L292.3 527.37 L293 527.05 L293.7 526.74 L294.4 526.45 L295.1 526.18 L295.8 525.92 L296.5 525.67 L297.2 525.44 L297.9 525.22 L298.6 525.01 L299.3 524.81 L300 524.62 L300.7 524.44 L301.4 524.27 L302.1 524.11 L302.8 523.96 L303.5 523.82 L304.2 523.68 L304.9 523.55 L305.6 523.42 L306.3 523.31 L307 523.2 L307.7 523.09 L308.4 522.99 L309.1 522.89 L309.8 522.8 L310.5 522.71 L311.2 522.63 L311.9 522.55 L312.6 522.47 L313.3 522.4 L314 522.33 L314.7 522.26 L315.4 522.2 L316.1 522.14 L316.8 522.08 L317.5 522.03 L318.2 521.97 L318.9 521.92 L319.6 521.87 L320.3 521.83 L321 521.78 L321.7 521.74 L322.4 521.7 L323.1 521.66 L323.8 521.62 L324.5 521.58 L325.2 521.55 L325.9 521.51 L326.6 521.48 L327.3 521.45 L328 521.41 L328.7 521.38 L329.4 521.35 L330.1 521.33 L330.8 521.3 L331.5 521.27 L332.2 521.24 L332.9 521.22 L333.6 521.19 L334.3 521.17 L335 521.15 L335.7 521.12 L336.4 521.1 L337.1 521.08 L337.8 521.06 L338.5 521.03 L339.2 521.01 L339.9 520.99 L340.6 520.97 L341.3 520.95 L342 520.93 L342.7 520.91 L343.4 520.9 L344.1 520.88 L344.8 520.86 L345.5 520.84 L346.2 520.82 L346.9 520.8 L347.6 520.79 L348.3 520.77 L349 520.75 L349.7 520.74 L350.4 520.72 L351.1 520.7 L351.8 520.69 L352.5 520.67 L353.2 520.65 L353.9 520.64 L354.6 520.62 L355.3 520.61 L356 520.59 L356.7 520.58 L357.4 520.56 L358.1 520.54 L358.8 520.53 L359.5 520.51 L360.2 520.5 L360.9 520.48 L361.6 520.47 L362.3 520.45 L363 520.44 L363.7 520.42 L364.4 520.41 L365.1 520.39 L365.8 520.38 L366.5 520.37 L367.2 520.35 L367.9 520.34 L368.6 520.32 L369.3 520.31 L370 520.29 L370.7 520.28 L371.4 520.26 L372.1 520.25 L372.8 520.24 L373.5 520.22 L374.2 520.21 L374.9 520.19 L375.6 520.18 L376.3 520.16 L377 520.15 L377.7 520.14 L378.4 520.12 L379.1 520.11 L379.8 520.09 L380.5 520.08 L381.2 520.06 L381.9 520.05 L382.6 520.04 L383.3 520.02 L384 520.01 L384.7 519.99 L385.4 519.98 L386.1 519.97 L386.8 519.95 L387.5 519.94 L388.2 519.92 L388.9 519.91 L389.6 519.9 L390.3 519.88 L391 519.87 L391.7 519.85 L392.4 519.84 L393.1 519.83 L393.8 519.81 L394.5 519.8 L395.2 519.78 L395.9 519.77 L396.6 519.76 L397.3 519.74 L398 519.73 L398.7 519.71 L399.4 519.7 L400.1 519.69 L400.8 519.67 L401.5 519.66 L402.2 519.65 L402.9 519.63 L403.6 519.62 L404.3 519.6 L405 519.59 L405.7 519.58 L406.4 519.56 L407.1 519.55 L407.8 519.53 L408.5 519.52 L409.2 519.51 L409.9 519.49 L410.6 519.48 L411.3 519.46 L412 519.45 L412.7 519.44 L413.4 519.42 L414.1 519.41 L414.8 519.39 L415.5 519.38 L416.2 519.37 L416.9 519.35 L417.6 519.34 L418.3 519.33 L419 519.31 L419.7 519.3 L420.4 519.28 L421.1 519.27 L421.8 519.26 L422.5 519.24 L423.2 519.23 L423.9 519.21 L424.6 519.2 L425.3 519.19 L425.3 523.86 L426 527.78 L426.7 531.08 L427.4 533.84 L428.1 536.16 L428.8 538.11 L429.5 539.75 L430.2 541.12 L430.9 542.27 L431.6 543.24 L432.3 544.05 L433 544.73 L433.7 545.31 L434.4 545.79 L435.1 546.19 L435.8 546.53" fill="none" stroke="#9e9e9e" stroke-width="0.8" stroke-linejoin="round"/>
<path d="M273.4 548.3 L274 546.04 L274.6 543.94 L275.2 541.98 L275.8 540.16 L276.4 538.46 L277 536.88 L277.6 535.4 L278.2 534.03 L278.8 532.75 L279.4 531.55 L280 530.44 L280.6 529.41 L281.2 528.44 L281.8 527.54 L282.4 526.7 L283 525.92 L283.6 525.2 L284.2 524.52 L284.8 523.89 L285.4 523.3 L286 522.75 L286.6 522.24 L287.2 521.76 L287.8 521.32 L288.4 520.91 L289 520.52 L289.6 520.17 L290.2 519.83 L290.8 519.52 L291.4 519.23 L292 518.96 L292.6 518.71 L293.2 518.47 L293.8 518.26 L294.4 518.05 L295 517.86 L295.6 517.69 L296.2 517.52 L296.8 517.37 L297.4 517.23 L298 517.09 L298.6 516.97 L299.2 516.85 L299.8 516.75 L300.4 516.65 L301 516.55 L301.6 516.46 L302.2 516.38 L302.8 516.31 L303.4 516.24 L304 516.17 L304.6 516.11 L305.2 516.05 L305.8 516 L306.4 515.95 L307 515.91 L307.6 515.86 L308.2 515.82 L308.8 515.79 L309.4 515.75 L310 515.72 L310.6 515.69 L311.2 515.66 L311.8 515.63 L312.4 515.61 L313 515.59 L313.6 515.57 L314.2 515.55 L314.8 515.53 L315.4 515.51 L315.8 515.5 L316.3 418.96 L316.6 420.96 L317.2 517.5 L317.18 520.85 L318.3 522.85 L318.9 522.85 L319.5 522.84 L320.1 522.84 L320.7 522.84 L321.3 522.83 L321.9 522.82 L322.5 522.81 L323.1 522.81 L323.7 522.8 L324.3 522.78 L324.9 522.77 L325.5 522.76 L326.1 522.75 L326.7 522.73 L327.3 522.72 L327.9 522.7 L328.5 522.68 L329.1 522.66 L329.7 522.65 L330.3 522.63 L330.9 522.61 L331.5 522.59 L332.1 522.56 L332.7 522.54 L333.3 522.52 L333.9 522.49 L334.5 522.47 L335.1 522.44 L335.7 522.42 L336.3 522.39 L336.9 522.36 L337.5 522.33 L338.1 522.3 L338.7 522.27 L339.3 522.24 L339.9 522.21 L340.5 522.18 L341.1 522.14 L341.7 522.11 L342.3 522.08 L342.9 522.04 L343.5 522.01 L344.1 521.97 L344.7 521.93 L345.3 521.89 L345.9 521.86 L346.5 521.82 L347.1 521.78 L347.7 521.74 L348.3 521.69 L348.9 521.65 L349.5 521.61 L350.1 521.57 L350.7 521.52 L351.3 521.48 L351.9 521.43 L352.5 521.39 L353.1 521.34 L353.7 521.29 L354.3 521.25 L354.9 521.2 L355.5 521.15 L356.1 521.1 L356.7 521.05 L357.3 521 L357.9 520.95 L358.5 520.89 L359.1 520.84 L359.7 520.79 L360.3 520.73 L360.9 520.68 L361.5 520.62 L362.1 520.57 L362.7 520.51 L363.3 520.45 L363.9 520.4 L364.5 520.34 L365.1 520.28 L365.7 520.22 L366.3 520.16 L366.9 520.1 L367.5 520.04 L368.1 519.97 L368.7 519.91 L369.3 519.85 L369.9 519.79 L370.5 519.72 L371.1 519.66 L371.7 519.59 L372.3 519.52 L372.9 519.46 L373.5 519.39 L374.1 519.32 L374.7 519.25 L375.3 519.18 L375.9 519.11 L376.5 519.04 L377.1 518.97 L377.7 518.9 L378.3 518.83 L378.9 518.76 L379.5 518.68 L380.1 518.61 L380.7 518.54 L381.3 518.46 L381.9 518.39 L382.5 518.31 L383.1 518.23 L383.7 518.16 L384.3 518.08 L384.9 518 L385.5 517.92 L386.1 517.84 L386.7 517.76 L387.3 517.68 L387.9 517.6 L388.5 517.52 L389.1 517.43 L389.7 517.35 L390.3 517.27 L390.9 517.18 L391.5 517.1 L392.1 517.01 L392.7 516.93 L393.3 516.84 L393.9 516.76 L394.5 516.67 L395.1 516.58 L395.7 516.49 L396.3 516.4 L396.9 516.31 L397.5 516.22 L398.1 516.13 L398.7 516.04 L399.3 515.95 L399.9 515.86 L400.5 515.77 L401.1 515.67 L401.7 515.58 L402.2 515.5 L402.7 418.91 L403 420.91 L403.6 517.5 L403.57 520.02 L404.7 522.02 L405.3 521.85 L405.9 521.7 L406.5 521.56 L407.1 521.43 L407.7 521.3 L408.3 521.19 L408.9 521.08 L409.5 520.98 L410.1 520.88 L410.7 520.79 L411.3 520.71 L411.9 520.63 L412.5 520.56 L413.1 520.49 L413.7 520.43 L414.3 520.37 L414.9 520.31 L415.5 520.26 L416.1 520.21 L416.7 520.16 L417.3 520.12 L417.9 520.08 L418.5 520.04 L419.1 520.01 L419.7 519.98 L420.3 519.94 L420.9 519.92 L421.5 519.89 L422.1 519.86 L422.7 519.84 L423.3 519.82 L423.9 519.8 L424.5 519.78 L425.2 523.75 L425.8 527.17 L426.4 530.11 L427 532.65 L427.6 534.83 L428.2 536.7 L428.8 538.32 L429.4 539.71 L430 540.91 L430.6 541.94 L431.2 542.82 L431.8 543.59 L432.4 544.24 L433 544.81 L433.6 545.29 L434.2 545.71 L434.8 546.07 L435.4 546.38" fill="none" stroke="#ababab" stroke-width="0.8" stroke-linejoin="round"/>
<path d="M273.4 548.3 L274 545.85 L274.6 543.57 L275.2 541.46 L275.8 539.5 L276.4 537.69 L277 536.01 L277.6 534.45 L278.2 533 L278.8 531.66 L279.4 530.41 L280 529.26 L280.6 528.19 L281.2 527.2 L281.8 526.28 L282.4 525.43 L283 524.64 L283.6 523.91 L284.2 523.23 L284.8 522.6 L285.4 522.01 L286 521.47 L286.6 520.97 L287.2 520.5 L287.8 520.07 L288.4 519.67 L289 519.3 L289.6 518.96 L290.2 518.64 L290.8 518.34 L291.4 518.07 L292 517.81 L292.6 517.58 L293.2 517.36 L293.8 517.16 L294.4 516.97 L295 516.79 L295.6 516.63 L296.2 516.48 L296.8 516.34 L297.4 516.21 L298 516.09 L298.6 515.98 L299.2 515.88 L299.8 515.79 L300.4 515.7 L301 515.62 L301.6 515.54 L302.2 515.47 L302.8 515.4 L303.4 515.34 L304 515.29 L304.6 515.24 L305.2 515.19 L305.8 515.14 L306.4 515.1 L307 515.06 L307.6 515.03 L308.2 514.99 L308.8 514.96 L309.4 514.93 L310 514.91 L310.6 514.88 L311.2 514.86 L311.8 514.84 L312.4 514.82 L313 514.8 L313.1 514.8 L313.6 418.97 L313.9 420.97 L314.5 516.8 L314.48 519.32 L315.6 521.32 L316.2 521.32 L316.8 521.32 L317.4 521.32 L318 521.31 L318.6 521.31 L319.2 521.3 L319.8 521.29 L320.4 521.28 L321 521.27 L321.6 521.26 L322.2 521.25 L322.8 521.24 L323.4 521.22 L324 521.21 L324.6 521.2 L325.2 521.18 L325.8 521.16 L326.4 521.15 L327 521.13 L327.6 521.11 L328.2 521.09 L328.8 521.07 L329.4 521.05 L330 521.02 L330.6 521 L331.2 520.98 L331.8 520.95 L332.4 520.93 L333 520.9 L333.6 520.88 L334.2 520.85 L334.8 520.82 L335.4 520.79 L336 520.76 L336.6 520.73 L337.2 520.7 L337.8 520.67 L338.4 520.64 L339 520.61 L339.6 520.57 L340.2 520.54 L340.8 520.5 L341.4 520.47 L342 520.43 L342.6 520.4 L343.2 520.36 L343.8 520.32 L344.4 520.28 L345 520.24 L345.6 520.2 L346.2 520.16 L346.8 520.12 L347.4 520.08 L348 520.04 L348.6 519.99 L349.2 519.95 L349.8 519.9 L350.4 519.86 L351 519.81 L351.6 519.77 L352.2 519.72 L352.8 519.67 L353.4 519.62 L354 519.58 L354.6 519.53 L355.2 519.48 L355.8 519.42 L356.4 519.37 L357 519.32 L357.6 519.27 L358.2 519.22 L358.8 519.16 L359.4 519.11 L360 519.05 L360.6 519 L361.2 518.94 L361.8 518.88 L362.4 518.83 L363 518.77 L363.6 518.71 L364.2 518.65 L364.8 518.59 L365.4 518.53 L366 518.47 L366.6 518.41 L367.2 518.35 L367.8 518.29 L368.4 518.22 L369 518.16 L369.6 518.09 L370.2 518.03 L370.8 517.96 L371.4 517.9 L372 517.83 L372.6 517.76 L373.2 517.7 L373.8 517.63 L374.4 517.56 L375 517.49 L375.6 517.42 L376.2 517.35 L376.8 517.28 L377.4 517.21 L378 517.13 L378.6 517.06 L379.2 516.99 L379.8 516.91 L380.4 516.84 L381 516.76 L381.6 516.69 L382.2 516.61 L382.8 516.54 L383.4 516.46 L384 516.38 L384.6 516.3 L385.2 516.22 L385.8 516.14 L386.4 516.06 L387 515.98 L387.6 515.9 L388.2 515.82 L388.8 515.74 L389.4 515.66 L390 515.57 L390.6 515.49 L391.2 515.4 L391.8 515.32 L392.4 515.23 L393 515.15 L393.6 515.06 L394.2 514.98 L394.8 514.89 L395.4 514.8 L395.9 419.2 L396.2 421.2 L396.8 516.8 L396.77 519.89 L397.9 521.89 L398.5 521.69 L399.1 521.5 L399.7 521.33 L400.3 521.16 L400.9 521.01 L401.5 520.87 L402.1 520.74 L402.7 520.61 L403.3 520.49 L403.9 520.38 L404.5 520.28 L405.1 520.19 L405.7 520.1 L406.3 520.01 L406.9 519.94 L407.5 519.86 L408.1 519.79 L408.7 519.73 L409.3 519.67 L409.9 519.61 L410.5 519.56 L411.1 519.51 L411.7 519.47 L412.3 519.42 L412.9 519.38 L413.5 519.35 L414.1 519.31 L414.7 519.28 L415.3 519.25 L415.9 519.22 L416.5 519.19 L417.1 519.17 L417.7 519.14 L418.3 519.12 L418.9 519.1 L419.5 519.08 L420.1 519.06 L420.7 519.05 L421.3 519.03 L421.9 519.01 L422.5 519 L423.1 518.99 L423.7 518.98 L424.3 518.96 L425.2 523.05 L425.8 526.57 L426.4 529.59 L427 532.2 L427.6 534.44 L428.2 536.37 L428.8 538.03 L429.4 539.46 L430 540.69 L430.6 541.75 L431.2 542.67 L431.8 543.45 L432.4 544.13 L433 544.71 L433.6 545.21 L434.2 545.64 L434.8 546.01 L435.4 546.33" fill="none" stroke="#ababab" stroke-width="0.8" stroke-linejoin="round"/>
<path d="M273.4 548.3 L274 545.58 L274.6 543.07 L275.2 540.76 L275.8 538.63 L276.4 536.67 L277 534.87 L277.6 533.21 L278.2 531.68 L278.8 530.27 L279.4 528.97 L280 527.78 L280.6 526.67 L281.2 525.66 L281.8 524.73 L282.4 523.87 L283 523.08 L283.6 522.35 L284.2 521.68 L284.8 521.06 L285.4 520.49 L286 519.97 L286.6 519.49 L287.2 519.04 L287.8 518.63 L288.4 518.25 L289 517.91 L289.6 517.59 L290.2 517.29 L290.8 517.02 L291.4 516.77 L292 516.54 L292.6 516.33 L293.2 516.14 L293.8 515.96 L294.4 515.79 L295 515.64 L295.6 515.5 L296.2 515.37 L296.8 515.25 L297.4 515.14 L298 515.04 L298.6 514.95 L299.2 514.86 L299.8 514.78 L300.4 514.71 L301 514.65 L301.6 514.58 L302.2 514.53 L302.8 514.47 L303.4 514.43 L304 514.38 L304.6 514.34 L305.2 514.3 L305.8 514.27 L306.4 514.24 L307 514.21 L307.6 514.18 L308.2 514.16 L308.8 514.13 L309.4 514.11 L309.8 514.1 L310.3 418.29 L310.6 420.29 L311.2 516.1 L311.18 517.78 L312.3 519.78 L312.9 519.78 L313.5 519.78 L314.1 519.78 L314.7 519.77 L315.3 519.77 L315.9 519.76 L316.5 519.75 L317.1 519.75 L317.7 519.74 L318.3 519.73 L318.9 519.72 L319.5 519.71 L320.1 519.7 L320.7 519.68 L321.3 519.67 L321.9 519.66 L322.5 519.64 L323.1 519.63 L323.7 519.61 L324.3 519.6 L324.9 519.58 L325.5 519.56 L326.1 519.54 L326.7 519.52 L327.3 519.5 L327.9 519.48 L328.5 519.46 L329.1 519.44 L329.7 519.42 L330.3 519.4 L330.9 519.37 L331.5 519.35 L332.1 519.33 L332.7 519.3 L333.3 519.27 L333.9 519.25 L334.5 519.22 L335.1 519.19 L335.7 519.17 L336.3 519.14 L336.9 519.11 L337.5 519.08 L338.1 519.05 L338.7 519.02 L339.3 518.98 L339.9 518.95 L340.5 518.92 L341.1 518.89 L341.7 518.85 L342.3 518.82 L342.9 518.78 L343.5 518.75 L344.1 518.71 L344.7 518.67 L345.3 518.64 L345.9 518.6 L346.5 518.56 L347.1 518.52 L347.7 518.48 L348.3 518.44 L348.9 518.4 L349.5 518.36 L350.1 518.32 L350.7 518.28 L351.3 518.24 L351.9 518.19 L352.5 518.15 L353.1 518.11 L353.7 518.06 L354.3 518.02 L354.9 517.97 L355.5 517.92 L356.1 517.88 L356.7 517.83 L357.3 517.78 L357.9 517.73 L358.5 517.69 L359.1 517.64 L359.7 517.59 L360.3 517.54 L360.9 517.49 L361.5 517.43 L362.1 517.38 L362.7 517.33 L363.3 517.28 L363.9 517.22 L364.5 517.17 L365.1 517.12 L365.7 517.06 L366.3 517.01 L366.9 516.95 L367.5 516.89 L368.1 516.84 L368.7 516.78 L369.3 516.72 L369.9 516.66 L370.5 516.61 L371.1 516.55 L371.7 516.49 L372.3 516.43 L372.9 516.37 L373.5 516.3 L374.1 516.24 L374.7 516.18 L375.3 516.12 L375.9 516.06 L376.5 515.99 L377.1 515.93 L377.7 515.86 L378.3 515.8 L378.9 515.73 L379.5 515.67 L380.1 515.6 L380.7 515.53 L381.3 515.47 L381.9 515.4 L382.5 515.33 L383.1 515.26 L383.7 515.19 L384.3 515.12 L384.9 515.05 L385.5 514.98 L386.1 514.91 L386.7 514.84 L387.3 514.77 L387.9 514.7 L388.5 514.62 L389.1 514.55 L389.7 514.48 L390.3 514.4 L390.9 514.33 L391.5 514.25 L392.1 514.18 L392.7 514.1 L393.2 418.55 L393.5 420.55 L394.1 516.1 L394.07 518.99 L395.2 520.99 L395.8 520.8 L396.4 520.63 L397 520.46 L397.6 520.31 L398.2 520.17 L398.8 520.04 L399.4 519.91 L400 519.79 L400.6 519.68 L401.2 519.58 L401.8 519.49 L402.4 519.4 L403 519.31 L403.6 519.24 L404.2 519.16 L404.8 519.09 L405.4 519.03 L406 518.97 L406.6 518.91 L407.2 518.86 L407.8 518.81 L408.4 518.77 L409 518.72 L409.6 518.68 L410.2 518.65 L410.8 518.61 L411.4 518.58 L412 518.55 L412.6 518.52 L413.2 518.49 L413.8 518.47 L414.4 518.44 L415 518.42 L415.6 518.4 L416.2 518.38 L416.8 518.36 L417.4 518.35 L418 518.33 L418.6 518.31 L419.2 518.3 L419.8 518.29 L420.4 518.28 L421 518.26 L421.6 518.25 L422.2 518.24 L422.8 518.23 L423.4 518.23 L424 518.22 L425.2 522.41 L425.8 526.01 L426.4 529.12 L427 531.79 L427.6 534.09 L428.2 536.07 L428.8 537.77 L429.4 539.24 L430 540.5 L430.6 541.59 L431.2 542.52 L431.8 543.33 L432.4 544.02 L433 544.62 L433.6 545.13 L434.2 545.57 L434.8 545.95 L435.4 546.28" fill="none" stroke="#ababab" stroke-width="0.8" stroke-linejoin="round"/>
<path d="M273.4 548.3 L274 545.06 L274.6 542.12 L275.2 539.45 L275.8 537.02 L276.4 534.82 L277 532.82 L277.6 531.01 L278.2 529.36 L278.8 527.87 L279.4 526.51 L280 525.28 L280.6 524.16 L281.2 523.15 L281.8 522.23 L282.4 521.39 L283 520.63 L283.6 519.94 L284.2 519.32 L284.8 518.75 L285.4 518.24 L286 517.77 L286.6 517.34 L287.2 516.96 L287.8 516.61 L288.4 516.29 L289 516 L289.6 515.74 L290.2 515.5 L290.8 515.29 L291.4 515.09 L292 514.91 L292.6 514.75 L293.2 514.6 L293.8 514.47 L294.4 514.35 L295 514.24 L295.6 514.14 L296.2 514.05 L296.8 513.97 L297.4 513.9 L298 513.83 L298.6 513.77 L299.2 513.71 L299.8 513.66 L300.4 513.61 L301 513.57 L301.6 513.54 L302.2 513.5 L302.8 513.47 L303.4 513.44 L304 513.42 L304.4 513.4 L304.9 418.55 L305.2 420.55 L305.8 515.4 L305.77 518.83 L306.9 520.83 L307.5 520.83 L308.1 520.83 L308.7 520.82 L309.3 520.82 L309.9 520.81 L310.5 520.8 L311.1 520.79 L311.7 520.78 L312.3 520.77 L312.9 520.75 L313.5 520.74 L314.1 520.73 L314.7 520.71 L315.3 520.69 L315.9 520.67 L316.5 520.66 L317.1 520.64 L317.7 520.61 L318.3 520.59 L318.9 520.57 L319.5 520.55 L320.1 520.52 L320.7 520.49 L321.3 520.47 L321.9 520.44 L322.5 520.41 L323.1 520.38 L323.7 520.35 L324.3 520.32 L324.9 520.29 L325.5 520.26 L326.1 520.22 L326.7 520.19 L327.3 520.15 L327.9 520.12 L328.5 520.08 L329.1 520.04 L329.7 520 L330.3 519.96 L330.9 519.92 L331.5 519.88 L332.1 519.84 L332.7 519.8 L333.3 519.75 L333.9 519.71 L334.5 519.66 L335.1 519.62 L335.7 519.57 L336.3 519.52 L336.9 519.47 L337.5 519.42 L338.1 519.37 L338.7 519.32 L339.3 519.27 L339.9 519.22 L340.5 519.17 L341.1 519.11 L341.7 519.06 L342.3 519 L342.9 518.95 L343.5 518.89 L344.1 518.83 L344.7 518.77 L345.3 518.72 L345.9 518.66 L346.5 518.6 L347.1 518.53 L347.7 518.47 L348.3 518.41 L348.9 518.35 L349.5 518.28 L350.1 518.22 L350.7 518.15 L351.3 518.08 L351.9 518.02 L352.5 517.95 L353.1 517.88 L353.7 517.81 L354.3 517.74 L354.9 517.67 L355.5 517.6 L356.1 517.53 L356.7 517.45 L357.3 517.38 L357.9 517.31 L358.5 517.23 L359.1 517.16 L359.7 517.08 L360.3 517 L360.9 516.93 L361.5 516.85 L362.1 516.77 L362.7 516.69 L363.3 516.61 L363.9 516.53 L364.5 516.44 L365.1 516.36 L365.7 516.28 L366.3 516.19 L366.9 516.11 L367.5 516.02 L368.1 515.94 L368.7 515.85 L369.3 515.76 L369.9 515.68 L370.5 515.59 L371.1 515.5 L371.7 515.41 L372.3 515.32 L372.9 515.23 L373.5 515.13 L374.1 515.04 L374.7 514.95 L375.3 514.85 L375.9 514.76 L376.5 514.66 L377.1 514.57 L377.7 514.47 L378.3 514.37 L378.9 514.28 L379.5 514.18 L380.1 514.08 L380.7 513.98 L381.3 513.88 L381.9 513.78 L382.5 513.67 L383.1 513.57 L383.7 513.47 L384.1 513.4 L384.6 418.39 L384.9 420.39 L385.5 515.4 L385.48 518.13 L386.6 520.13 L387.2 519.95 L387.8 519.79 L388.4 519.64 L389 519.49 L389.6 519.36 L390.2 519.23 L390.8 519.11 L391.4 519 L392 518.9 L392.6 518.8 L393.2 518.71 L393.8 518.63 L394.4 518.55 L395 518.47 L395.6 518.4 L396.2 518.34 L396.8 518.28 L397.4 518.22 L398 518.17 L398.6 518.12 L399.2 518.07 L399.8 518.03 L400.4 517.99 L401 517.95 L401.6 517.92 L402.2 517.88 L402.8 517.85 L403.4 517.82 L404 517.8 L404.6 517.77 L405.2 517.75 L405.8 517.72 L406.4 517.7 L407 517.68 L407.6 517.66 L408.2 517.65 L408.8 517.63 L409.4 517.62 L410 517.6 L410.6 517.59 L411.2 517.58 L411.8 517.57 L412.4 517.56 L413 517.55 L413.6 517.54 L414.2 517.53 L414.8 517.52 L415.4 517.51 L416 517.5 L416.6 517.5 L417.2 517.49 L417.8 517.49 L418.4 517.48 L419 517.47 L419.6 517.47 L420.2 517.47 L420.8 517.46 L421.4 517.46 L422 517.45 L422.6 517.45 L423.2 517.45 L423.8 517.44 L424.4 517.44 L425.2 521.74 L425.8 525.44 L426.4 528.62 L427 531.36 L427.6 533.72 L428.2 535.75 L428.8 537.5 L429.4 539.01 L430 540.3 L430.6 541.41 L431.2 542.37 L431.8 543.2 L432.4 543.91 L433 544.52 L433.6 545.05 L434.2 545.5 L434.8 545.89 L435.4 546.23" fill="none" stroke="#ababab" stroke-width="0.8" stroke-linejoin="round"/>
<path d="M273.4 548.3 L274 544.77 L274.6 541.58 L275.2 538.71 L275.8 536.12 L276.4 533.79 L277 531.68 L277.6 529.79 L278.2 528.08 L278.8 526.54 L279.4 525.15 L280 523.9 L280.6 522.77 L281.2 521.75 L281.8 520.84 L282.4 520.01 L283 519.27 L283.6 518.6 L284.2 517.99 L284.8 517.45 L285.4 516.95 L286 516.51 L286.6 516.11 L287.2 515.75 L287.8 515.43 L288.4 515.13 L289 514.87 L289.6 514.63 L290.2 514.42 L290.8 514.22 L291.4 514.05 L292 513.89 L292.6 513.75 L293.2 513.62 L293.8 513.51 L294.4 513.41 L295 513.31 L295.6 513.23 L296.2 513.15 L296.8 513.08 L297.4 513.02 L298 512.97 L298.6 512.92 L299.2 512.87 L299.8 512.83 L300.4 512.79 L301 512.76 L301.6 512.73 L302.2 512.7 L302.3 512.7 L302.8 418.24 L303.1 420.24 L303.7 514.7 L303.68 517.26 L304.8 519.26 L305.4 519.26 L306 519.25 L306.6 519.25 L307.2 519.24 L307.8 519.24 L308.4 519.23 L309 519.22 L309.6 519.21 L310.2 519.2 L310.8 519.19 L311.4 519.18 L312 519.16 L312.6 519.15 L313.2 519.13 L313.8 519.12 L314.4 519.1 L315 519.08 L315.6 519.06 L316.2 519.04 L316.8 519.02 L317.4 519 L318 518.97 L318.6 518.95 L319.2 518.93 L319.8 518.9 L320.4 518.88 L321 518.85 L321.6 518.82 L322.2 518.79 L322.8 518.76 L323.4 518.73 L324 518.7 L324.6 518.67 L325.2 518.64 L325.8 518.61 L326.4 518.57 L327 518.54 L327.6 518.5 L328.2 518.47 L328.8 518.43 L329.4 518.39 L330 518.35 L330.6 518.31 L331.2 518.27 L331.8 518.23 L332.4 518.19 L333 518.15 L333.6 518.11 L334.2 518.06 L334.8 518.02 L335.4 517.98 L336 517.93 L336.6 517.88 L337.2 517.84 L337.8 517.79 L338.4 517.74 L339 517.69 L339.6 517.64 L340.2 517.59 L340.8 517.54 L341.4 517.49 L342 517.44 L342.6 517.38 L343.2 517.33 L343.8 517.27 L344.4 517.22 L345 517.16 L345.6 517.11 L346.2 517.05 L346.8 516.99 L347.4 516.93 L348 516.87 L348.6 516.81 L349.2 516.75 L349.8 516.69 L350.4 516.63 L351 516.57 L351.6 516.5 L352.2 516.44 L352.8 516.38 L353.4 516.31 L354 516.24 L354.6 516.18 L355.2 516.11 L355.8 516.04 L356.4 515.98 L357 515.91 L357.6 515.84 L358.2 515.77 L358.8 515.7 L359.4 515.62 L360 515.55 L360.6 515.48 L361.2 515.41 L361.8 515.33 L362.4 515.26 L363 515.18 L363.6 515.11 L364.2 515.03 L364.8 514.95 L365.4 514.87 L366 514.8 L366.6 514.72 L367.2 514.64 L367.8 514.56 L368.4 514.48 L369 514.39 L369.6 514.31 L370.2 514.23 L370.8 514.15 L371.4 514.06 L372 513.98 L372.6 513.89 L373.2 513.81 L373.8 513.72 L374.4 513.63 L375 513.55 L375.6 513.46 L376.2 513.37 L376.8 513.28 L377.4 513.19 L378 513.1 L378.6 513.01 L379.2 512.92 L379.8 512.82 L380.4 512.73 L380.6 512.7 L381.1 418.27 L381.4 420.27 L382 514.7 L381.98 516.58 L383.1 518.58 L383.7 518.46 L384.3 518.35 L384.9 518.24 L385.5 518.14 L386.1 518.05 L386.7 517.96 L387.3 517.88 L387.9 517.8 L388.5 517.73 L389.1 517.67 L389.7 517.6 L390.3 517.54 L390.9 517.49 L391.5 517.44 L392.1 517.39 L392.7 517.35 L393.3 517.31 L393.9 517.27 L394.5 517.23 L395.1 517.2 L395.7 517.16 L396.3 517.13 L396.9 517.11 L397.5 517.08 L398.1 517.06 L398.7 517.03 L399.3 517.01 L399.9 516.99 L400.5 516.97 L401.1 516.95 L401.7 516.94 L402.3 516.92 L402.9 516.91 L403.5 516.89 L404.1 516.88 L404.7 516.87 L405.3 516.86 L405.9 516.85 L406.5 516.84 L407.1 516.83 L407.7 516.82 L408.3 516.81 L408.9 516.81 L409.5 516.8 L410.1 516.79 L410.7 516.79 L411.3 516.78 L411.9 516.78 L412.5 516.77 L413.1 516.77 L413.7 516.76 L414.3 516.76 L414.9 516.75 L415.5 516.75 L416.1 516.75 L416.7 516.74 L417.3 516.74 L417.9 516.74 L418.5 516.74 L419.1 516.73 L419.7 516.73 L420.3 516.73 L420.9 516.73 L421.5 516.73 L422.1 516.72 L422.7 516.72 L423.3 516.72 L423.9 516.72 L424.5 516.72 L425.2 521.12 L425.8 524.9 L426.4 528.16 L427 530.97 L427.6 533.38 L428.2 535.46 L428.8 537.25 L429.4 538.79 L430 540.11 L430.6 541.25 L431.2 542.23 L431.8 543.08 L432.4 543.81 L433 544.43 L433.6 544.97 L434.2 545.44 L434.8 545.83 L435.4 546.18" fill="none" stroke="#ababab" stroke-width="0.8" stroke-linejoin="round"/>
<path d="M273.4 548.3 L274 543.56 L274.6 539.44 L275.2 535.85 L275.8 532.72 L276.4 530 L277 527.64 L277.6 525.58 L278.2 523.78 L278.8 522.22 L279.4 520.87 L280 519.68 L280.6 518.66 L281.2 517.76 L281.8 516.98 L282.4 516.3 L283 515.71 L283.6 515.2 L284.2 514.75 L284.8 514.36 L285.4 514.03 L286 513.73 L286.6 513.47 L287.2 513.25 L287.8 513.06 L288.4 512.89 L289 512.74 L289.6 512.61 L290.2 512.5 L290.8 512.4 L291.4 512.32 L292 512.25 L292.6 512.18 L293.2 512.13 L293.8 512.08 L294.4 512.04 L295 512 L295.5 418.38 L295.8 420.38 L296.4 514 L296.38 516.43 L297.5 518.43 L298.1 518.43 L298.7 518.42 L299.3 518.42 L299.9 518.42 L300.5 518.41 L301.1 518.4 L301.7 518.39 L302.3 518.38 L302.9 518.37 L303.5 518.36 L304.1 518.35 L304.7 518.34 L305.3 518.32 L305.9 518.31 L306.5 518.29 L307.1 518.27 L307.7 518.25 L308.3 518.24 L308.9 518.22 L309.5 518.19 L310.1 518.17 L310.7 518.15 L311.3 518.13 L311.9 518.1 L312.5 518.08 L313.1 518.05 L313.7 518.03 L314.3 518 L314.9 517.97 L315.5 517.94 L316.1 517.92 L316.7 517.89 L317.3 517.85 L317.9 517.82 L318.5 517.79 L319.1 517.76 L319.7 517.72 L320.3 517.69 L320.9 517.65 L321.5 517.62 L322.1 517.58 L322.7 517.54 L323.3 517.5 L323.9 517.47 L324.5 517.43 L325.1 517.38 L325.7 517.34 L326.3 517.3 L326.9 517.26 L327.5 517.22 L328.1 517.17 L328.7 517.13 L329.3 517.08 L329.9 517.04 L330.5 516.99 L331.1 516.94 L331.7 516.89 L332.3 516.84 L332.9 516.8 L333.5 516.75 L334.1 516.69 L334.7 516.64 L335.3 516.59 L335.9 516.54 L336.5 516.48 L337.1 516.43 L337.7 516.38 L338.3 516.32 L338.9 516.26 L339.5 516.21 L340.1 516.15 L340.7 516.09 L341.3 516.03 L341.9 515.97 L342.5 515.91 L343.1 515.85 L343.7 515.79 L344.3 515.73 L344.9 515.67 L345.5 515.6 L346.1 515.54 L346.7 515.48 L347.3 515.41 L347.9 515.34 L348.5 515.28 L349.1 515.21 L349.7 515.14 L350.3 515.08 L350.9 515.01 L351.5 514.94 L352.1 514.87 L352.7 514.8 L353.3 514.72 L353.9 514.65 L354.5 514.58 L355.1 514.51 L355.7 514.43 L356.3 514.36 L356.9 514.28 L357.5 514.21 L358.1 514.13 L358.7 514.05 L359.3 513.98 L359.9 513.9 L360.5 513.82 L361.1 513.74 L361.7 513.66 L362.3 513.58 L362.9 513.5 L363.5 513.42 L364.1 513.34 L364.7 513.25 L365.3 513.17 L365.9 513.09 L366.5 513 L367.1 512.92 L367.7 512.83 L368.3 512.74 L368.9 512.66 L369.5 512.57 L370.1 512.48 L370.7 512.39 L371.3 512.3 L371.9 512.21 L372.5 512.12 L373.1 512.03 L373.3 512 L373.8 418.58 L374.1 420.58 L374.7 514 L374.68 517.18 L375.8 519.18 L376.4 518.98 L377 518.79 L377.6 518.61 L378.2 518.44 L378.8 518.28 L379.4 518.13 L380 518 L380.6 517.87 L381.2 517.75 L381.8 517.64 L382.4 517.53 L383 517.43 L383.6 517.34 L384.2 517.25 L384.8 517.17 L385.4 517.1 L386 517.03 L386.6 516.96 L387.2 516.9 L387.8 516.84 L388.4 516.79 L389 516.73 L389.6 516.69 L390.2 516.64 L390.8 516.6 L391.4 516.56 L392 516.53 L392.6 516.49 L393.2 516.46 L393.8 516.43 L394.4 516.4 L395 516.38 L395.6 516.35 L396.2 516.33 L396.8 516.31 L397.4 516.29 L398 516.27 L398.6 516.25 L399.2 516.24 L399.8 516.22 L400.4 516.21 L401 516.19 L401.6 516.18 L402.2 516.17 L402.8 516.16 L403.4 516.15 L404 516.14 L404.6 516.13 L405.2 516.12 L405.8 516.11 L406.4 516.11 L407 516.1 L407.6 516.09 L408.2 516.09 L408.8 516.08 L409.4 516.08 L410 516.07 L410.6 516.07 L411.2 516.06 L411.8 516.06 L412.4 516.05 L413 516.05 L413.6 516.05 L414.2 516.04 L414.8 516.04 L415.4 516.04 L416 516.04 L416.6 516.03 L417.2 516.03 L417.8 516.03 L418.4 516.03 L419 516.03 L419.6 516.02 L420.2 516.02 L420.8 516.02 L421.4 516.02 L422 516.02 L422.6 516.02 L423.2 516.02 L423.8 516.02 L424.4 516.01 L425.2 520.51 L425.8 524.38 L426.4 527.71 L427 530.58 L427.6 533.05 L428.2 535.17 L428.8 537 L429.4 538.58 L430 539.93 L430.6 541.1 L431.2 542.1 L431.8 542.96 L432.4 543.71 L433 544.35 L433.6 544.9 L434.2 545.37 L434.8 545.78 L435.4 546.13" fill="none" stroke="#ababab" stroke-width="0.8" stroke-linejoin="round"/>
<path d="M273.4 548.3 L274 541.71 L274.6 536.28 L275.2 531.81 L275.8 528.14 L276.4 525.11 L277 522.62 L277.6 520.58 L278.2 518.89 L278.8 517.5 L279.4 516.36 L280 515.42 L280.6 514.65 L281.2 514.01 L281.8 513.49 L282.4 513.05 L283 512.7 L283.6 512.41 L284.2 512.17 L284.8 511.97 L285.4 511.81 L286 511.67 L286.6 511.56 L287.2 511.47 L287.8 511.4 L288.4 511.33 L288.8 511.3 L289.3 419.1 L289.6 421.1 L290.2 513.3 L290.18 515.8 L291.3 517.8 L291.9 517.8 L292.5 517.79 L293.1 517.79 L293.7 517.78 L294.3 517.77 L294.9 517.76 L295.5 517.75 L296.1 517.74 L296.7 517.72 L297.3 517.71 L297.9 517.69 L298.5 517.67 L299.1 517.65 L299.7 517.63 L300.3 517.61 L300.9 517.59 L301.5 517.56 L302.1 517.54 L302.7 517.51 L303.3 517.48 L303.9 517.45 L304.5 517.42 L305.1 517.39 L305.7 517.36 L306.3 517.33 L306.9 517.29 L307.5 517.26 L308.1 517.22 L308.7 517.18 L309.3 517.14 L309.9 517.1 L310.5 517.06 L311.1 517.02 L311.7 516.98 L312.3 516.93 L312.9 516.89 L313.5 516.84 L314.1 516.8 L314.7 516.75 L315.3 516.7 L315.9 516.65 L316.5 516.6 L317.1 516.55 L317.7 516.49 L318.3 516.44 L318.9 516.39 L319.5 516.33 L320.1 516.27 L320.7 516.21 L321.3 516.16 L321.9 516.1 L322.5 516.04 L323.1 515.97 L323.7 515.91 L324.3 515.85 L324.9 515.78 L325.5 515.72 L326.1 515.65 L326.7 515.59 L327.3 515.52 L327.9 515.45 L328.5 515.38 L329.1 515.31 L329.7 515.24 L330.3 515.16 L330.9 515.09 L331.5 515.02 L332.1 514.94 L332.7 514.87 L333.3 514.79 L333.9 514.71 L334.5 514.63 L335.1 514.55 L335.7 514.47 L336.3 514.39 L336.9 514.31 L337.5 514.22 L338.1 514.14 L338.7 514.06 L339.3 513.97 L339.9 513.88 L340.5 513.8 L341.1 513.71 L341.7 513.62 L342.3 513.53 L342.9 513.44 L343.5 513.35 L344.1 513.25 L344.7 513.16 L345.3 513.07 L345.9 512.97 L346.5 512.87 L347.1 512.78 L347.7 512.68 L348.3 512.58 L348.9 512.48 L349.5 512.38 L350.1 512.28 L350.7 512.18 L351.3 512.08 L351.9 511.97 L352.5 511.87 L353.1 511.76 L353.7 511.66 L354.3 511.55 L354.9 511.44 L355.5 511.34 L355.7 511.3 L356.2 419.11 L356.5 421.11 L357.1 513.3 L357.07 515.71 L358.2 517.71 L358.8 517.56 L359.4 517.41 L360 517.28 L360.6 517.15 L361.2 517.03 L361.8 516.92 L362.4 516.81 L363 516.72 L363.6 516.63 L364.2 516.54 L364.8 516.46 L365.4 516.38 L366 516.32 L366.6 516.25 L367.2 516.19 L367.8 516.13 L368.4 516.08 L369 516.03 L369.6 515.98 L370.2 515.94 L370.8 515.9 L371.4 515.86 L372 515.82 L372.6 515.79 L373.2 515.76 L373.8 515.73 L374.4 515.7 L375 515.67 L375.6 515.65 L376.2 515.63 L376.8 515.61 L377.4 515.59 L378 515.57 L378.6 515.55 L379.2 515.53 L379.8 515.52 L380.4 515.5 L381 515.49 L381.6 515.48 L382.2 515.47 L382.8 515.46 L383.4 515.45 L384 515.44 L384.6 515.43 L385.2 515.42 L385.8 515.41 L386.4 515.41 L387 515.4 L387.6 515.39 L388.2 515.39 L388.8 515.38 L389.4 515.38 L390 515.37 L390.6 515.37 L391.2 515.36 L391.8 515.36 L392.4 515.35 L393 515.35 L393.6 515.35 L394.2 515.34 L394.8 515.34 L395.4 515.34 L396 515.34 L396.6 515.33 L397.2 515.33 L397.8 515.33 L398.4 515.33 L399 515.33 L399.6 515.32 L400.2 515.32 L400.8 515.32 L401.4 515.32 L402 515.32 L402.6 515.32 L403.2 515.32 L403.8 515.32 L404.4 515.31 L405 515.31 L405.6 515.31 L406.2 515.31 L406.8 515.31 L407.4 515.31 L408 515.31 L408.6 515.31 L409.2 515.31 L409.8 515.31 L410.4 515.31 L411 515.31 L411.6 515.31 L412.2 515.31 L412.8 515.31 L413.4 515.31 L414 515.3 L414.6 515.3 L415.2 515.3 L415.8 515.3 L416.4 515.3 L417 515.3 L417.6 515.3 L418.2 515.3 L418.8 515.3 L419.4 515.3 L420 515.3 L420.6 515.3 L421.2 515.3 L421.8 515.3 L422.4 515.3 L423 515.3 L423.6 515.3 L424.2 515.3 L425.2 519.9 L425.8 523.85 L426.4 527.26 L427 530.19 L427.6 532.71 L428.2 534.88 L428.8 536.75 L429.4 538.36 L430 539.75 L430.6 540.94 L431.2 541.96 L431.8 542.85 L432.4 543.61 L433 544.26 L433.6 544.82 L434.2 545.31 L434.8 545.72 L435.4 546.08" fill="none" stroke="#ababab" stroke-width="0.8" stroke-linejoin="round"/>
<path d="M273.4 548.3 L274 538.87 L274.6 531.78 L275.2 526.45 L275.8 522.45 L276.4 519.44 L277 517.18 L277.6 515.48 L278.2 514.2 L278.8 513.25 L279.4 512.52 L280 511.98 L280.6 511.58 L281.2 511.27 L281.8 511.04 L282.4 510.87 L283 510.74 L283.6 510.64 L283.9 510.6 L284.4 418.92 L284.7 420.92 L285.3 512.6 L285.27 516.09 L286.4 518.09 L287 518.09 L287.6 518.09 L288.2 518.08 L288.8 518.07 L289.4 518.06 L290 518.05 L290.6 518.04 L291.2 518.02 L291.8 518.01 L292.4 517.99 L293 517.97 L293.6 517.95 L294.2 517.93 L294.8 517.91 L295.4 517.88 L296 517.86 L296.6 517.83 L297.2 517.8 L297.8 517.77 L298.4 517.74 L299 517.71 L299.6 517.68 L300.2 517.64 L300.8 517.61 L301.4 517.57 L302 517.53 L302.6 517.49 L303.2 517.45 L303.8 517.41 L304.4 517.36 L305 517.32 L305.6 517.28 L306.2 517.23 L306.8 517.18 L307.4 517.13 L308 517.08 L308.6 517.03 L309.2 516.98 L309.8 516.93 L310.4 516.87 L311 516.82 L311.6 516.76 L312.2 516.7 L312.8 516.64 L313.4 516.58 L314 516.52 L314.6 516.46 L315.2 516.4 L315.8 516.33 L316.4 516.27 L317 516.2 L317.6 516.14 L318.2 516.07 L318.8 516 L319.4 515.93 L320 515.86 L320.6 515.78 L321.2 515.71 L321.8 515.64 L322.4 515.56 L323 515.49 L323.6 515.41 L324.2 515.33 L324.8 515.25 L325.4 515.17 L326 515.09 L326.6 515.01 L327.2 514.92 L327.8 514.84 L328.4 514.75 L329 514.67 L329.6 514.58 L330.2 514.49 L330.8 514.4 L331.4 514.31 L332 514.22 L332.6 514.13 L333.2 514.03 L333.8 513.94 L334.4 513.85 L335 513.75 L335.6 513.65 L336.2 513.55 L336.8 513.46 L337.4 513.36 L338 513.25 L338.6 513.15 L339.2 513.05 L339.8 512.95 L340.4 512.84 L341 512.74 L341.6 512.63 L342.2 512.52 L342.8 512.42 L343.4 512.31 L344 512.2 L344.6 512.08 L345.2 511.97 L345.8 511.86 L346.4 511.75 L347 511.63 L347.6 511.52 L348.2 511.4 L348.8 511.28 L349.4 511.16 L350 511.04 L350.6 510.92 L351.2 510.8 L351.8 510.68 L352.2 510.6 L352.7 418.84 L353 420.84 L353.6 512.6 L353.57 515.52 L354.7 517.52 L355.3 517.51 L355.9 517.51 L356.5 517.5 L357.1 517.5 L357.7 517.49 L358.3 517.47 L358.9 517.46 L359.5 517.45 L360.1 517.43 L360.7 517.41 L361.3 517.39 L361.9 517.37 L362.5 517.35 L363.1 517.33 L363.7 517.3 L364.3 517.27 L364.9 517.25 L365.5 517.22 L366.1 517.19 L366.7 517.15 L367.3 517.12 L367.9 517.09 L368.5 517.05 L369.1 517.01 L369.7 516.97 L370.3 516.94 L370.9 516.89 L371.5 516.85 L372.1 516.81 L372.7 516.76 L373.3 516.72 L373.9 516.67 L374.5 516.62 L375.1 516.58 L375.7 516.52 L376.3 516.47 L376.9 516.42 L377.5 516.37 L378.1 516.31 L378.7 516.26 L379.3 516.2 L379.9 516.14 L380.5 516.08 L381.1 516.02 L381.7 515.96 L382.3 515.89 L382.9 515.83 L383.5 515.77 L384.1 515.7 L384.7 515.63 L385.3 515.56 L385.9 515.49 L386.5 515.42 L387.1 515.35 L387.7 515.28 L388.3 515.21 L388.9 515.13 L389.5 515.06 L390.1 514.98 L390.7 514.9 L391.3 514.82 L391.9 514.74 L392.5 514.66 L393.1 514.58 L393.7 514.5 L394.3 514.41 L394.9 514.33 L395.5 514.24 L396.1 514.15 L396.7 514.06 L397.3 513.98 L397.9 513.89 L398.5 513.79 L399.1 513.7 L399.7 513.61 L400.3 513.51 L400.9 513.42 L401.5 513.32 L402.1 513.23 L402.7 513.13 L403.3 513.03 L403.9 512.93 L404.5 512.83 L405.1 512.72 L405.7 512.62 L406.3 512.52 L406.9 512.41 L407.5 512.31 L408.1 512.2 L408.7 512.09 L409.3 511.98 L409.9 511.87 L410.5 511.76 L411.1 511.65 L411.7 511.54 L412.3 511.42 L412.9 511.31 L413.5 511.19 L414.1 511.08 L414.7 510.96 L415.3 510.84 L415.9 510.72 L416.5 510.6 L417 418.57 L417.3 420.57 L417.9 512.6 L417.88 514.56 L419 516.56 L419.6 516.43 L420.2 516.31 L420.8 516.2 L421.4 516.1 L422 516 L422.6 515.91 L423.2 515.83 L423.8 515.75 L424.4 515.68 L425.2 520.22 L425.8 524.13 L426.4 527.5 L427 530.4 L427.6 532.89 L428.2 535.04 L428.8 536.88 L429.4 538.47 L430 539.84 L430.6 541.02 L431.2 542.03 L431.8 542.91 L432.4 543.66 L433 544.3 L433.6 544.86 L434.2 545.34 L434.8 545.75 L435.4 546.11" fill="none" stroke="#ababab" stroke-width="0.8" stroke-linejoin="round"/>
<path d="M273.4 548.3 L274 537.74 L274.6 530.06 L275.2 524.48 L275.8 520.43 L276.4 517.48 L277 515.34 L277.6 513.78 L278.2 512.65 L278.8 511.83 L279.4 511.23 L280 510.79 L280.6 510.48 L281.2 510.25 L281.8 510.08 L282.4 509.96 L282.8 509.9 L283.3 418.47 L283.6 420.47 L284.2 511.9 L284.18 514.93 L285.3 516.93 L285.9 516.93 L286.5 516.92 L287.1 516.91 L287.7 516.9 L288.3 516.88 L288.9 516.86 L289.5 516.84 L290.1 516.81 L290.7 516.78 L291.3 516.75 L291.9 516.71 L292.5 516.68 L293.1 516.64 L293.7 516.59 L294.3 516.55 L294.9 516.5 L295.5 516.45 L296.1 516.4 L296.7 516.35 L297.3 516.29 L297.9 516.23 L298.5 516.17 L299.1 516.1 L299.7 516.04 L300.3 515.97 L300.9 515.9 L301.5 515.83 L302.1 515.75 L302.7 515.68 L303.3 515.6 L303.9 515.52 L304.5 515.43 L305.1 515.35 L305.7 515.26 L306.3 515.17 L306.9 515.08 L307.5 514.98 L308.1 514.89 L308.7 514.79 L309.3 514.69 L309.9 514.59 L310.5 514.49 L311.1 514.38 L311.7 514.27 L312.3 514.16 L312.9 514.05 L313.5 513.94 L314.1 513.82 L314.7 513.7 L315.3 513.58 L315.9 513.46 L316.5 513.34 L317.1 513.21 L317.7 513.09 L318.3 512.96 L318.9 512.83 L319.5 512.69 L320.1 512.56 L320.7 512.42 L321.3 512.28 L321.9 512.14 L322.5 512 L323.1 511.86 L323.7 511.71 L324.3 511.56 L324.9 511.41 L325.5 511.26 L326.1 511.11 L326.7 510.95 L327.3 510.8 L327.9 510.64 L328.5 510.48 L329.1 510.31 L329.7 510.15 L330.3 509.98 L330.6 509.9 L331.1 418.63 L331.4 420.63 L332 511.9 L331.98 515.09 L333.1 517.09 L333.7 517.09 L334.3 517.09 L334.9 517.08 L335.5 517.08 L336.1 517.07 L336.7 517.06 L337.3 517.05 L337.9 517.04 L338.5 517.03 L339.1 517.01 L339.7 517 L340.3 516.98 L340.9 516.97 L341.5 516.95 L342.1 516.93 L342.7 516.91 L343.3 516.89 L343.9 516.86 L344.5 516.84 L345.1 516.81 L345.7 516.79 L346.3 516.76 L346.9 516.74 L347.5 516.71 L348.1 516.68 L348.7 516.65 L349.3 516.62 L349.9 516.58 L350.5 516.55 L351.1 516.52 L351.7 516.48 L352.3 516.44 L352.9 516.41 L353.5 516.37 L354.1 516.33 L354.7 516.29 L355.3 516.25 L355.9 516.21 L356.5 516.17 L357.1 516.12 L357.7 516.08 L358.3 516.04 L358.9 515.99 L359.5 515.94 L360.1 515.9 L360.7 515.85 L361.3 515.8 L361.9 515.75 L362.5 515.7 L363.1 515.65 L363.7 515.59 L364.3 515.54 L364.9 515.49 L365.5 515.43 L366.1 515.37 L366.7 515.32 L367.3 515.26 L367.9 515.2 L368.5 515.14 L369.1 515.08 L369.7 515.02 L370.3 514.96 L370.9 514.9 L371.5 514.84 L372.1 514.77 L372.7 514.71 L373.3 514.64 L373.9 514.58 L374.5 514.51 L375.1 514.44 L375.7 514.37 L376.3 514.3 L376.9 514.23 L377.5 514.16 L378.1 514.09 L378.7 514.02 L379.3 513.94 L379.9 513.87 L380.5 513.8 L381.1 513.72 L381.7 513.64 L382.3 513.57 L382.9 513.49 L383.5 513.41 L384.1 513.33 L384.7 513.25 L385.3 513.17 L385.9 513.09 L386.5 513.01 L387.1 512.92 L387.7 512.84 L388.3 512.75 L388.9 512.67 L389.5 512.58 L390.1 512.5 L390.7 512.41 L391.3 512.32 L391.9 512.23 L392.5 512.14 L393.1 512.05 L393.7 511.96 L394.3 511.87 L394.9 511.78 L395.5 511.68 L396.1 511.59 L396.7 511.49 L397.3 511.4 L397.9 511.3 L398.5 511.21 L399.1 511.11 L399.7 511.01 L400.3 510.91 L400.9 510.81 L401.5 510.71 L402.1 510.61 L402.7 510.51 L403.3 510.41 L403.9 510.3 L404.5 510.2 L405.1 510.09 L405.7 509.99 L406.2 509.9 L406.7 418.63 L407 420.63 L407.6 511.9 L407.57 515.32 L408.7 517.32 L409.3 517.1 L409.9 516.89 L410.5 516.7 L411.1 516.52 L411.7 516.35 L412.3 516.19 L412.9 516.04 L413.5 515.9 L414.1 515.77 L414.7 515.65 L415.3 515.54 L415.9 515.43 L416.5 515.34 L417.1 515.24 L417.7 515.16 L418.3 515.08 L418.9 515 L419.5 514.93 L420.1 514.86 L420.7 514.8 L421.3 514.74 L421.9 514.69 L422.5 514.64 L423.1 514.59 L423.7 514.55 L424.3 514.5 L425.2 519.21 L425.8 523.26 L426.4 526.75 L427 529.75 L427.6 532.34 L428.2 534.56 L428.8 536.47 L429.4 538.12 L430 539.54 L430.6 540.76 L431.2 541.81 L431.8 542.71 L432.4 543.49 L433 544.16 L433.6 544.74 L434.2 545.23 L434.8 545.66 L435.4 546.03" fill="none" stroke="#ababab" stroke-width="0.8" stroke-linejoin="round"/>
<path d="M264.5 548.3 L273.4 548.3 L275.3 536.9 L279.3 528.8 L283 525 L287.4 522.1 L295.5 519.4 L310 518.3 L322.5 517.5 L335 516.3 L344.1 515.3 L346.3 513.6 L346.8 418 L347.4 422 L347.8 526.1 L349 525 L352.2 523.4 L357 525.5 L363 527.5 L368.4 528.8 L375 528.6 L390 526.7 L405 524.5 L417 522.1 L424.6 520.2 L426 526 L427.8 531.5 L430 535.5 L433.2 539.6 L435.4 543.7" fill="none" stroke="#111" stroke-width="1.5" stroke-linejoin="round"/>
<line x1="260" y1="513.9" x2="344" y2="513.9" stroke="#000" stroke-width="1.2" stroke-dasharray="3 2"/>
<text x="252.8" y="512.9" font-size="13.3" fill="#000" text-anchor="end">-33.2</text>
<text x="248.2" y="526.2" font-size="13.3" fill="#000" text-anchor="end">mV</text>
<text x="253.5" y="553.2" font-size="13.3" fill="#000" text-anchor="end">-61.3</text>
<text x="248.2" y="566.5" font-size="13.3" fill="#000" text-anchor="end">mV</text>
<line x1="422.8" y1="419.3" x2="422.8" y2="444.5" stroke="#000" stroke-width="1.5"/>
<text x="430.3" y="435.6" font-size="16.3" fill="#000" text-anchor="start">20 mV</text>
<path d="M501.5 536 L502.2 535.35 L502.9 534.78 L503.6 534.29 L504.3 533.86 L505 533.48 L505.7 533.16 L506.4 532.88 L507.1 532.63 L507.8 532.42 L508.5 532.23 L509.2 532.07 L509.9 531.93 L510.6 531.81 L511.3 531.7 L512 531.61 L512.7 531.53 L513.4 531.46 L514.1 531.4 L514.8 531.35 L515.5 531.3 L516.2 531.26 L516.9 531.23 L517.6 531.2 L518.3 531.17 L519 531.15 L519.7 531.13 L520.4 531.11 L521.1 531.1 L521.8 531.09 L522.5 531.07 L523.2 531.07 L523.9 531.06 L524.6 531.05 L525.3 531.04 L526 531.04 L526.7 531.03 L527.4 531.03 L528.1 531.02 L528.8 531.02 L529.5 531.02 L530.2 531.02 L530.9 531.01 L531.6 531.01 L532.3 531.01 L533 531.01 L533.7 531.01 L534.4 531.01 L535.1 531.01 L535.8 531.01 L536.5 531 L537.2 531 L537.9 531 L538.6 531 L539.3 531 L540 531 L540.7 531 L541.4 531 L542.1 531 L542.8 531 L543.5 531 L544.2 531 L544.9 531 L545.6 531 L546.3 531 L547 531 L547.7 531 L548.4 531 L549.1 531 L549.8 531 L550.5 531 L551.2 531 L551.9 531 L552.6 531 L553.3 531 L554 531 L554.7 531 L555.4 531 L556.1 531 L556.8 531 L557.5 531 L558.2 531 L558.9 531 L559.6 531 L560.3 531 L561 531 L561.7 531 L562.4 531 L563.1 531 L563.8 531 L564.5 531 L565.2 531 L565.9 531 L566.6 531 L567.3 531 L568 531 L568.7 531 L569.4 531 L570.1 531 L570.8 531 L571.5 531 L572.2 531 L572.9 531 L573.6 531 L574.3 531 L575 531 L575.7 531 L576.4 531 L577.1 531 L577.8 531 L578.5 531 L579.2 531 L579.9 531 L580.6 531 L581.3 531 L582 531 L582.7 531 L583.4 531 L584.1 531 L584.8 531 L585.5 531 L586.2 531 L586.9 531 L587.6 531 L588.3 531 L589 531 L589.7 531 L590.4 531 L591.1 531 L591.8 531 L592.5 531 L593.2 531 L593.9 531 L594.6 531 L595.3 531 L596 531 L596.7 531 L597.4 531 L598.1 531 L598.8 531 L599.5 531 L600.2 531 L600.9 531 L601.6 531 L602.3 531 L603 531 L603.7 531 L604.4 531 L605.1 531 L605.8 531 L606.5 531 L607.2 531 L607.9 531 L608.6 531 L609.3 531 L610 531 L610.7 531 L611.4 531 L612.1 531 L612.8 531 L613.5 531 L614.2 531 L614.9 531 L615.6 531 L616.3 531 L617 531 L617.7 531 L618.4 531 L619.1 531 L619.8 531 L620.5 531 L621.2 531 L621.9 531 L622.6 531 L623.3 531 L624 531 L624.7 531 L625.4 531 L626.1 531 L626.8 531 L627.5 531 L628.2 531 L628.9 531 L629.6 531 L630.3 531 L631 531 L631.7 531 L632.4 531 L633.1 531 L633.8 531 L634.5 531 L635.2 531 L635.9 531 L636.6 531 L637.3 531 L638 531 L638.7 531 L639.4 531 L640.1 531 L640.8 531 L641.5 531 L642.2 531 L642.9 531 L643.6 531 L644.3 531 L645 531 L645.7 531 L646.4 531 L647.1 531 L647.8 531 L648.5 531 L649.2 531 L649.9 531 L650.6 531 L651.3 531 L652 531 L652.7 531 L653.4 531 L654.1 531 L654.8 531 L655.5 531 L656.2 531 L656.9 531 L657.6 531 L658.3 531 L659 531 L659.7 531 L660.4 531 L661.1 531 L661.8 531 L662.5 531 L663.2 531 L663.9 531 L664.6 531 L665.3 531 L666 531 L666.7 531 L667.4 531 L668.1 531 L668.8 531 L669.5 531 L670.2 531 L670.9 531 L671.6 531 L672.3 531 L672.7 531.8 L673.4 532.48 L674.1 533.04 L674.8 533.52 L675.5 533.92 L676.2 534.25 L676.9 534.53 L677.6 534.77 L678.3 534.96 L679 535.13 L679.7 535.27 L680.4 535.39 L681.1 535.49" fill="none" stroke="#c4c4c4" stroke-width="0.8" stroke-linejoin="round"/>
<path d="M501.5 536 L502.2 535.09 L502.9 534.29 L503.6 533.6 L504.3 533 L505 532.48 L505.7 532.02 L506.4 531.63 L507.1 531.28 L507.8 530.99 L508.5 530.73 L509.2 530.5 L509.9 530.3 L510.6 530.13 L511.3 529.99 L512 529.86 L512.7 529.75 L513.4 529.65 L514.1 529.56 L514.8 529.49 L515.5 529.43 L516.2 529.37 L516.9 529.32 L517.6 529.28 L518.3 529.24 L519 529.21 L519.7 529.18 L520.4 529.16 L521.1 529.14 L521.8 529.12 L522.5 529.1 L523.2 529.09 L523.9 529.08 L524.6 529.07 L525.3 529.06 L526 529.05 L526.7 529.05 L527.4 529.04 L528.1 529.03 L528.8 529.03 L529.5 529.03 L530.2 529.02 L530.9 529.02 L531.6 529.02 L532.3 529.01 L533 529.01 L533.7 529.01 L534.4 529.01 L535.1 529.01 L535.8 529.01 L536.5 529.01 L537.2 529.01 L537.9 529 L538.6 529 L539.3 529 L540 529 L540.7 529 L541.4 529 L542.1 529 L542.8 529 L543.5 529 L544.2 529 L544.9 529 L545.6 529 L546.3 529 L547 529 L547.7 529 L548.4 529 L549.1 529 L549.8 529 L550.5 529 L551.2 529 L551.9 529 L552.6 529 L553.3 529 L554 529 L554.7 529 L555.4 529 L556.1 529 L556.8 529 L557.5 529 L558.2 529 L558.9 529 L559.6 529 L560.3 529 L561 529 L561.7 529 L562.4 529 L563.1 529 L563.8 529 L564.5 529 L565.2 529 L565.9 529 L566.6 529 L567.3 529 L568 529 L568.7 529 L569.4 529 L570.1 529 L570.8 529 L571.5 529 L572.2 529 L572.9 529 L573.6 529 L574.3 529 L575 529 L575.7 529 L576.4 529 L577.1 529 L577.8 529 L578.5 529 L579.2 529 L579.9 529 L580.6 529 L581.3 529 L582 529 L582.7 529 L583.4 529 L584.1 529 L584.8 529 L585.5 529 L586.2 529 L586.9 529 L587.6 529 L588.3 529 L589 529 L589.7 529 L590.4 529 L591.1 529 L591.8 529 L592.5 529 L593.2 529 L593.9 529 L594.6 529 L595.3 529 L596 529 L596.7 529 L597.4 529 L598.1 529 L598.8 529 L599.5 529 L600.2 529 L600.9 529 L601.6 529 L602.3 529 L603 529 L603.7 529 L604.4 529 L605.1 529 L605.8 529 L606.5 529 L607.2 529 L607.9 529 L608.6 529 L609.3 529 L610 529 L610.7 529 L611.4 529 L612.1 529 L612.8 529 L613.5 529 L614.2 529 L614.9 529 L615.6 529 L616.3 529 L617 529 L617.7 529 L618.4 529 L619.1 529 L619.8 529 L620.5 529 L621.2 529 L621.9 529 L622.6 529 L623.3 529 L624 529 L624.7 529 L625.4 529 L626.1 529 L626.8 529 L627.5 529 L628.2 529 L628.9 529 L629.6 529 L630.3 529 L631 529 L631.7 529 L632.4 529 L633.1 529 L633.8 529 L634.5 529 L635.2 529 L635.9 529 L636.6 529 L637.3 529 L638 529 L638.7 529 L639.4 529 L640.1 529 L640.8 529 L641.5 529 L642.2 529 L642.9 529 L643.6 529 L644.3 529 L645 529 L645.7 529 L646.4 529 L647.1 529 L647.8 529 L648.5 529 L649.2 529 L649.9 529 L650.6 529 L651.3 529 L652 529 L652.7 529 L653.4 529 L654.1 529 L654.8 529 L655.5 529 L656.2 529 L656.9 529 L657.6 529 L658.3 529 L659 529 L659.7 529 L660.4 529 L661.1 529 L661.8 529 L662.5 529 L663.2 529 L663.9 529 L664.6 529 L665.3 529 L666 529 L666.7 529 L667.4 529 L668.1 529 L668.8 529 L669.5 529 L670.2 529 L670.9 529 L671.6 529 L672.3 529 L672.7 530.12 L673.4 531.07 L674.1 531.86 L674.8 532.52 L675.5 533.08 L676.2 533.55 L676.9 533.94 L677.6 534.27 L678.3 534.55 L679 534.78 L679.7 534.98 L680.4 535.14 L681.1 535.28" fill="none" stroke="#c4c4c4" stroke-width="0.8" stroke-linejoin="round"/>
<path d="M501.5 536 L502.2 534.82 L502.9 533.8 L503.6 532.91 L504.3 532.14 L505 531.47 L505.7 530.89 L506.4 530.38 L507.1 529.94 L507.8 529.55 L508.5 529.22 L509.2 528.93 L509.9 528.68 L510.6 528.46 L511.3 528.27 L512 528.1 L512.7 527.96 L513.4 527.83 L514.1 527.72 L514.8 527.63 L515.5 527.55 L516.2 527.48 L516.9 527.41 L517.6 527.36 L518.3 527.31 L519 527.27 L519.7 527.24 L520.4 527.21 L521.1 527.18 L521.8 527.16 L522.5 527.13 L523.2 527.12 L523.9 527.1 L524.6 527.09 L525.3 527.08 L526 527.07 L526.7 527.06 L527.4 527.05 L528.1 527.04 L528.8 527.04 L529.5 527.03 L530.2 527.03 L530.9 527.03 L531.6 527.02 L532.3 527.02 L533 527.02 L533.7 527.01 L534.4 527.01 L535.1 527.01 L535.8 527.01 L536.5 527.01 L537.2 527.01 L537.9 527.01 L538.6 527.01 L539.3 527 L540 527 L540.7 527 L541.4 527 L542.1 527 L542.8 527 L543.5 527 L544.2 527 L544.9 527 L545.6 527 L546.3 527 L547 527 L547.7 527 L548.4 527 L549.1 527 L549.8 527 L550.5 527 L551.2 527 L551.9 527 L552.6 527 L553.3 527 L554 527 L554.7 527 L555.4 527 L556.1 527 L556.8 527 L557.5 527 L558.2 527 L558.9 527 L559.6 527 L560.3 527 L561 527 L561.7 527 L562.4 527 L563.1 527 L563.8 527 L564.5 527 L565.2 527 L565.9 527 L566.6 527 L567.3 527 L568 527 L568.7 527 L569.4 527 L570.1 527 L570.8 527 L571.5 527 L572.2 527 L572.9 527 L573.6 527 L574.3 527 L575 527 L575.7 527 L576.4 527 L577.1 527 L577.8 527 L578.5 527 L579.2 527 L579.9 527 L580.6 527 L581.3 527 L582 527 L582.7 527 L583.4 527 L584.1 527 L584.8 527 L585.5 527 L586.2 527 L586.9 527 L587.6 527 L588.3 527 L589 527 L589.7 527 L590.4 527 L591.1 527 L591.8 527 L592.5 527 L593.2 527 L593.9 527 L594.6 527 L595.3 527 L596 527 L596.7 527 L597.4 527 L598.1 527 L598.8 527 L599.5 527 L600.2 527 L600.9 527 L601.6 527 L602.3 527 L603 527 L603.7 527 L604.4 527 L605.1 527 L605.8 527 L606.5 527 L607.2 527 L607.9 527 L608.6 527 L609.3 527 L610 527 L610.7 527 L611.4 527 L612.1 527 L612.8 527 L613.5 527 L614.2 527 L614.9 527 L615.6 527 L616.3 527 L617 527 L617.7 527 L618.4 527 L619.1 527 L619.8 527 L620.5 527 L621.2 527 L621.9 527 L622.6 527 L623.3 527 L624 527 L624.7 527 L625.4 527 L626.1 527 L626.8 527 L627.5 527 L628.2 527 L628.9 527 L629.6 527 L630.3 527 L631 527 L631.7 527 L632.4 527 L633.1 527 L633.8 527 L634.5 527 L635.2 527 L635.9 527 L636.6 527 L637.3 527 L638 527 L638.7 527 L639.4 527 L640.1 527 L640.8 527 L641.5 527 L642.2 527 L642.9 527 L643.6 527 L644.3 527 L645 527 L645.7 527 L646.4 527 L647.1 527 L647.8 527 L648.5 527 L649.2 527 L649.9 527 L650.6 527 L651.3 527 L652 527 L652.7 527 L653.4 527 L654.1 527 L654.8 527 L655.5 527 L656.2 527 L656.9 527 L657.6 527 L658.3 527 L659 527 L659.7 527 L660.4 527 L661.1 527 L661.8 527 L662.5 527 L663.2 527 L663.9 527 L664.6 527 L665.3 527 L666 527 L666.7 527 L667.4 527 L668.1 527 L668.8 527 L669.5 527 L670.2 527 L670.9 527 L671.6 527 L672.3 527 L672.7 528.44 L673.4 529.66 L674.1 530.68 L674.8 531.53 L675.5 532.25 L676.2 532.85 L676.9 533.36 L677.6 533.78 L678.3 534.14 L679 534.44 L679.7 534.69 L680.4 534.9 L681.1 535.07" fill="none" stroke="#c4c4c4" stroke-width="0.8" stroke-linejoin="round"/>
<path d="M501.5 536 L502.2 534.56 L502.9 533.31 L503.6 532.23 L504.3 531.28 L505 530.46 L505.7 529.75 L506.4 529.13 L507.1 528.59 L507.8 528.12 L508.5 527.71 L509.2 527.36 L509.9 527.05 L510.6 526.78 L511.3 526.55 L512 526.35 L512.7 526.17 L513.4 526.02 L514.1 525.89 L514.8 525.77 L515.5 525.67 L516.2 525.58 L516.9 525.51 L517.6 525.44 L518.3 525.38 L519 525.33 L519.7 525.29 L520.4 525.25 L521.1 525.22 L521.8 525.19 L522.5 525.16 L523.2 525.14 L523.9 525.12 L524.6 525.11 L525.3 525.09 L526 525.08 L526.7 525.07 L527.4 525.06 L528.1 525.05 L528.8 525.05 L529.5 525.04 L530.2 525.04 L530.9 525.03 L531.6 525.03 L532.3 525.02 L533 525.02 L533.7 525.02 L534.4 525.02 L535.1 525.01 L535.8 525.01 L536.5 525.01 L537.2 525.01 L537.9 525.01 L538.6 525.01 L539.3 525.01 L540 525 L540.7 525 L541.4 525 L542.1 525 L542.8 525 L543.5 525 L544.2 525 L544.9 525 L545.6 525 L546.3 525 L547 525 L547.7 525 L548.4 525 L549.1 525 L549.8 525 L550.5 525 L551.2 525 L551.9 525 L552.6 525 L553.3 525 L554 525 L554.7 525 L555.4 525 L556.1 525 L556.8 525 L557.5 525 L558.2 525 L558.9 525 L559.6 525 L560.3 525 L561 525 L561.7 525 L562.4 525 L563.1 525 L563.8 525 L564.5 525 L565.2 525 L565.9 525 L566.6 525 L567.3 525 L568 525 L568.7 525 L569.4 525 L570.1 525 L570.8 525 L571.5 525 L572.2 525 L572.9 525 L573.6 525 L574.3 525 L575 525 L575.7 525 L576.4 525 L577.1 525 L577.8 525 L578.5 525 L579.2 525 L579.9 525 L580.6 525 L581.3 525 L582 525 L582.7 525 L583.4 525 L584.1 525 L584.8 525 L585.5 525 L586.2 525 L586.9 525 L587.6 525 L588.3 525 L589 525 L589.7 525 L590.4 525 L591.1 525 L591.8 525 L592.5 525 L593.2 525 L593.9 525 L594.6 525 L595.3 525 L596 525 L596.7 525 L597.4 525 L598.1 525 L598.8 525 L599.5 525 L600.2 525 L600.9 525 L601.6 525 L602.3 525 L603 525 L603.7 525 L604.4 525 L605.1 525 L605.8 525 L606.5 525 L607.2 525 L607.9 525 L608.6 525 L609.3 525 L610 525 L610.7 525 L611.4 525 L612.1 525 L612.8 525 L613.5 525 L614.2 525 L614.9 525 L615.6 525 L616.3 525 L617 525 L617.7 525 L618.4 525 L619.1 525 L619.8 525 L620.5 525 L621.2 525 L621.9 525 L622.6 525 L623.3 525 L624 525 L624.7 525 L625.4 525 L626.1 525 L626.8 525 L627.5 525 L628.2 525 L628.9 525 L629.6 525 L630.3 525 L631 525 L631.7 525 L632.4 525 L633.1 525 L633.8 525 L634.5 525 L635.2 525 L635.9 525 L636.6 525 L637.3 525 L638 525 L638.7 525 L639.4 525 L640.1 525 L640.8 525 L641.5 525 L642.2 525 L642.9 525 L643.6 525 L644.3 525 L645 525 L645.7 525 L646.4 525 L647.1 525 L647.8 525 L648.5 525 L649.2 525 L649.9 525 L650.6 525 L651.3 525 L652 525 L652.7 525 L653.4 525 L654.1 525 L654.8 525 L655.5 525 L656.2 525 L656.9 525 L657.6 525 L658.3 525 L659 525 L659.7 525 L660.4 525 L661.1 525 L661.8 525 L662.5 525 L663.2 525 L663.9 525 L664.6 525 L665.3 525 L666 525 L666.7 525 L667.4 525 L668.1 525 L668.8 525 L669.5 525 L670.2 525 L670.9 525 L671.6 525 L672.3 525 L672.7 526.77 L673.4 528.25 L674.1 529.49 L674.8 530.54 L675.5 531.41 L676.2 532.15 L676.9 532.77 L677.6 533.29 L678.3 533.72 L679 534.09 L679.7 534.4 L680.4 534.65 L681.1 534.87" fill="none" stroke="#c4c4c4" stroke-width="0.8" stroke-linejoin="round"/>
<path d="M501.5 536 L502.2 534.3 L502.9 532.83 L503.6 531.54 L504.3 530.43 L505 529.46 L505.7 528.61 L506.4 527.88 L507.1 527.24 L507.8 526.69 L508.5 526.21 L509.2 525.79 L509.9 525.42 L510.6 525.11 L511.3 524.83 L512 524.59 L512.7 524.38 L513.4 524.2 L514.1 524.05 L514.8 523.91 L515.5 523.79 L516.2 523.69 L516.9 523.6 L517.6 523.52 L518.3 523.45 L519 523.39 L519.7 523.34 L520.4 523.3 L521.1 523.26 L521.8 523.22 L522.5 523.19 L523.2 523.17 L523.9 523.15 L524.6 523.13 L525.3 523.11 L526 523.1 L526.7 523.08 L527.4 523.07 L528.1 523.06 L528.8 523.06 L529.5 523.05 L530.2 523.04 L530.9 523.04 L531.6 523.03 L532.3 523.03 L533 523.02 L533.7 523.02 L534.4 523.02 L535.1 523.02 L535.8 523.01 L536.5 523.01 L537.2 523.01 L537.9 523.01 L538.6 523.01 L539.3 523.01 L540 523.01 L540.7 523.01 L541.4 523 L542.1 523 L542.8 523 L543.5 523 L544.2 523 L544.9 523 L545.6 523 L546.3 523 L547 523 L547.7 523 L548.4 523 L549.1 523 L549.8 523 L550.5 523 L551.2 523 L551.9 523 L552.6 523 L553.3 523 L554 523 L554.7 523 L555.4 523 L556.1 523 L556.8 523 L557.5 523 L558.2 523 L558.9 523 L559.6 523 L560.3 523 L561 523 L561.7 523 L562.4 523 L563.1 523 L563.8 523 L564.5 523 L565.2 523 L565.9 523 L566.6 523 L567.3 523 L568 523 L568.7 523 L569.4 523 L570.1 523 L570.8 523 L571.5 523 L572.2 523 L572.9 523 L573.6 523 L574.3 523 L575 523 L575.7 523 L576.4 523 L577.1 523 L577.8 523 L578.5 523 L579.2 523 L579.9 523 L580.6 523 L581.3 523 L582 523 L582.7 523 L583.4 523 L584.1 523 L584.8 523 L585.5 523 L586.2 523 L586.9 523 L587.6 523 L588.3 523 L589 523 L589.7 523 L590.4 523 L591.1 523 L591.8 523 L592.5 523 L593.2 523 L593.9 523 L594.6 523 L595.3 523 L596 523 L596.7 523 L597.4 523 L598.1 523 L598.8 523 L599.5 523 L600.2 523 L600.9 523 L601.6 523 L602.3 523 L603 523 L603.7 523 L604.4 523 L605.1 523 L605.8 523 L606.5 523 L607.2 523 L607.9 523 L608.6 523 L609.3 523 L610 523 L610.7 523 L611.4 523 L612.1 523 L612.8 523 L613.5 523 L614.2 523 L614.9 523 L615.6 523 L616.3 523 L617 523 L617.7 523 L618.4 523 L619.1 523 L619.8 523 L620.5 523 L621.2 523 L621.9 523 L622.6 523 L623.3 523 L624 523 L624.7 523 L625.4 523 L626.1 523 L626.8 523 L627.5 523 L628.2 523 L628.9 523 L629.6 523 L630.3 523 L631 523 L631.7 523 L632.4 523 L633.1 523 L633.8 523 L634.5 523 L635.2 523 L635.9 523 L636.6 523 L637.3 523 L638 523 L638.7 523 L639.4 523 L640.1 523 L640.8 523 L641.5 523 L642.2 523 L642.9 523 L643.6 523 L644.3 523 L645 523 L645.7 523 L646.4 523 L647.1 523 L647.8 523 L648.5 523 L649.2 523 L649.9 523 L650.6 523 L651.3 523 L652 523 L652.7 523 L653.4 523 L654.1 523 L654.8 523 L655.5 523 L656.2 523 L656.9 523 L657.6 523 L658.3 523 L659 523 L659.7 523 L660.4 523 L661.1 523 L661.8 523 L662.5 523 L663.2 523 L663.9 523 L664.6 523 L665.3 523 L666 523 L666.7 523 L667.4 523 L668.1 523 L668.8 523 L669.5 523 L670.2 523 L670.9 523 L671.6 523 L672.3 523 L672.7 525.09 L673.4 526.84 L674.1 528.31 L674.8 529.54 L675.5 530.58 L676.2 531.45 L676.9 532.18 L677.6 532.79 L678.3 533.31 L679 533.74 L679.7 534.1 L680.4 534.41 L681.1 534.66" fill="none" stroke="#c4c4c4" stroke-width="0.8" stroke-linejoin="round"/>
<path d="M501.5 536 L502 534.94 L502.5 534.01 L503 533.19 L503.5 532.46 L504 531.82 L504.5 531.25 L505 530.75 L505.5 530.31 L506 529.92 L506.5 529.58 L507 529.28 L507.5 529.01 L507.8 523 L508.5 421.66 L508.8 423.66 L509.8 525 L510.2 530.5 L511.8 532 L512.3 531.27 L512.8 530.59 L513.3 529.95 L513.8 529.35 L514.3 528.78 L514.8 528.25 L515.3 527.75 L515.8 527.28 L516.3 526.84 L516.8 526.42 L517.3 526.03 L517.8 525.67 L518.3 525.32 L518.8 525 L519.3 524.7 L519.8 524.41 L520.3 524.15 L520.8 523.9 L521.3 523.66 L521.8 523.44 L522.3 523.23 L522.8 523.03 L523.3 522.85 L523.8 522.68 L524.3 522.52 L524.8 522.36 L525.3 522.22 L525.8 522.09 L526.3 521.96 L526.8 521.84 L527.3 521.73 L527.8 521.62 L528.3 521.53 L528.8 521.43 L529.3 521.35 L529.8 521.26 L530.3 521.19 L530.8 521.12 L531.3 521.05 L531.8 520.99 L532.3 520.93 L532.8 520.87 L533.3 520.82 L533.8 520.77 L534.3 520.72 L534.8 520.68 L535.3 520.64 L535.8 520.6 L536.3 520.56 L536.8 520.53 L537.3 520.5 L537.8 520.47 L538.3 520.44 L538.8 520.41 L539.3 520.39 L539.8 520.36 L540.3 520.34 L540.8 520.32 L541.3 520.3 L541.8 520.28 L542.3 520.27 L542.8 520.25 L543.3 520.23 L543.8 520.22 L544.3 520.21 L544.8 520.19 L545.3 520.18 L545.8 520.17 L546.3 520.16 L546.8 520.15 L547.3 520.14 L547.8 520.13 L548.3 520.13 L548.8 520.12 L549.3 520.11 L549.8 520.1 L550.3 520.1 L550.8 520.09 L551.3 520.09 L551.8 520.08 L552.3 520.08 L552.8 520.07 L553.3 520.07 L553.8 520.06 L554.3 520.06 L554.8 520.06 L555.3 520.05 L555.8 520.05 L556.3 520.05 L556.8 520.04 L557.3 520.04 L557.8 520.04 L558.3 520.04 L558.8 520.03 L559.3 520.03 L559.8 520.03 L560.3 520.03 L560.8 520.03 L561.3 520.02 L561.8 520.02 L562.3 520.02 L562.8 520.02 L563.3 520.02 L563.8 520.02 L564.3 520.02 L564.8 520.02 L565.3 520.01 L565.8 520.01 L566.3 520.01 L566.8 520.01 L567.3 520.01 L567.8 520.01 L568.3 520.01 L568.8 520.01 L569.3 520.01 L569.8 520.01 L570.3 520.01 L570.8 520.01 L571.3 520.01 L571.8 520.01 L572.3 520.01 L572.8 520.01 L573.3 520.01 L573.8 520.01 L574.3 520 L574.8 520 L575.3 520 L575.8 520 L576.3 520 L576.8 520 L577.3 520 L577.8 520 L578.3 520 L578.8 520 L579.3 520 L579.8 520 L580.3 520 L580.8 520 L581.3 520 L581.8 520 L582.3 520 L582.8 520 L583.3 520 L583.8 520 L584.3 520 L584.8 520 L585.3 520 L585.8 520 L586.3 520 L586.8 520 L587.3 520 L587.8 520 L588.3 520 L588.8 520 L589.3 520 L589.8 520 L590.3 520 L590.8 520 L591.3 520 L591.8 520 L592.3 520 L592.8 520 L593.3 520 L593.8 520 L594.3 520 L594.8 520 L595.3 520 L595.8 520 L596.3 520 L596.8 520 L597.3 520 L597.8 520 L598.3 520 L598.8 520 L599.3 520 L599.8 520 L600.3 520 L600.8 520 L601.3 520 L601.8 520 L602.3 520 L602.8 520 L603.3 520 L603.8 520 L604.3 520 L604.8 520 L605.3 520 L605.8 520 L606.3 520 L606.8 520 L607.3 520 L607.8 520 L608.3 520 L608.8 520 L609.3 520 L609.8 520 L610.3 520 L610.8 520 L611.3 520 L611.8 520 L612.3 520 L612.8 520 L613.3 520 L613.8 520 L614.3 520 L614.8 520 L615.3 520 L615.8 520 L616.3 520 L616.8 520 L617.3 520 L617.8 520 L618.3 520 L618.8 520 L619.3 520 L619.8 520 L620.3 520 L620.8 520 L621.3 520 L621.8 520 L622.3 520 L622.8 520 L623.3 520 L623.8 520 L624.3 520 L624.8 520 L625.3 520 L625.8 520 L626.3 520 L626.8 520 L627.3 520 L627.8 520 L628.3 520 L628.8 520 L629.3 520 L629.8 520 L630.3 520 L630.8 520 L631.3 520 L631.8 520 L632.3 520 L632.8 520 L633.3 520 L633.8 520 L634.3 520 L634.8 520 L635.3 520 L635.8 520 L636.3 520 L636.8 520 L637.3 520 L637.8 520 L638.3 520 L638.8 520 L639.3 520 L639.8 520 L640.3 520 L640.8 520 L641.3 520 L641.8 520 L642.3 520 L642.8 520 L643.3 520 L643.8 520 L644.3 520 L644.8 520 L645.3 520 L645.8 520 L646.3 520 L646.8 520 L647.3 520 L647.8 520 L648.3 520 L648.8 520 L649.3 520 L649.8 520 L650.3 520 L650.8 520 L651.3 520 L651.8 520 L652.3 520 L652.8 520 L653.3 520 L653.8 520 L654.3 520 L654.8 520 L655.3 520 L655.8 520 L656.3 520 L656.8 520 L657.3 520 L657.8 520 L658.3 520 L658.8 520 L659.3 520 L659.8 520 L660.3 520 L660.8 520 L661.3 520 L661.8 520 L662.3 520 L662.8 520 L663.3 520 L663.8 520 L664.3 520 L664.8 520 L665.3 520 L665.8 520 L666.3 520 L666.8 520 L667.3 520 L667.8 520 L668.3 520 L668.8 520 L669.3 520 L669.8 520 L670.3 520 L670.8 520 L671.3 520 L671.8 520 L672.3 520 L672.5 521.88 L673 523.54 L673.5 525 L674 526.3 L674.5 527.44 L675 528.44 L675.5 529.33 L676 530.11 L676.5 530.81 L677 531.42 L677.5 531.95 L678 532.43 L678.5 532.85 L679 533.22 L679.5 533.55 L680 533.83 L680.5 534.09" fill="none" stroke="#c4c4c4" stroke-width="0.8" stroke-linejoin="round"/>
<path d="M501.5 536 L502 534.71 L502.3 521 L503 422.34 L503.3 424.34 L504.3 523 L504.7 528.5 L506.3 530 L506.8 529.27 L507.3 528.59 L507.8 527.95 L508.3 527.35 L508.8 526.78 L509.3 526.25 L509.8 525.75 L510.3 525.28 L510.8 524.84 L511.3 524.42 L511.8 524.03 L512.3 523.67 L512.8 523.32 L513.3 523 L513.8 522.7 L514.3 522.41 L514.8 522.15 L515.3 521.9 L515.8 521.66 L516.3 521.44 L516.8 521.23 L517.3 521.03 L517.8 520.85 L518.3 520.68 L518.8 520.52 L519.3 520.36 L519.8 520.22 L520.3 520.09 L520.8 519.96 L521.3 519.84 L521.8 519.73 L522.3 519.62 L522.8 519.53 L523.3 519.43 L523.8 519.35 L524.3 519.26 L524.8 519.19 L525.3 519.12 L525.8 519.05 L526.3 518.99 L526.8 518.93 L527.3 518.87 L527.8 518.82 L528.3 518.77 L528.8 518.72 L529.3 518.68 L529.8 518.64 L530.3 518.6 L530.8 518.56 L531.3 518.53 L531.8 518.5 L532.3 518.47 L532.8 518.44 L533.3 518.41 L533.8 518.39 L534.3 518.36 L534.8 518.34 L535.3 518.32 L535.8 518.3 L536.3 518.28 L536.8 518.27 L537.3 518.25 L537.8 518.23 L538.3 518.22 L538.8 518.21 L539.3 518.19 L539.8 518.18 L540.3 518.17 L540.8 518.16 L541.3 518.15 L541.8 518.14 L542.3 518.13 L542.8 518.13 L543.3 518.12 L543.8 518.11 L544.3 518.1 L544.8 518.1 L545.3 518.09 L545.8 518.09 L546.3 518.08 L546.8 518.08 L547.3 518.07 L547.8 518.07 L548.3 518.06 L548.8 518.06 L549.3 518.06 L549.8 518.05 L550.3 518.05 L550.8 518.05 L551.3 518.04 L551.8 518.04 L552.3 518.04 L552.8 518.04 L553.3 518.03 L553.8 518.03 L554.3 518.03 L554.8 518.03 L555.3 518.03 L555.8 518.02 L556.3 518.02 L556.8 518.02 L557.3 518.02 L557.8 518.02 L558.3 518.02 L558.8 518.02 L559.3 518.02 L559.8 518.01 L560.3 518.01 L560.8 518.01 L561.3 518.01 L561.8 518.01 L562.3 518.01 L562.8 518.01 L563.3 518.01 L563.8 518.01 L564.3 518.01 L564.8 518.01 L565.3 518.01 L565.8 518.01 L566.3 518.01 L566.8 518.01 L567.3 518.01 L567.8 518.01 L568.3 518.01 L568.8 518 L569.3 518 L569.8 518 L570.3 518 L570.8 518 L571.3 518 L571.8 518 L572.3 518 L572.8 518 L573.3 518 L573.8 518 L574.3 518 L574.8 518 L575.3 518 L575.8 518 L576.3 518 L576.8 518 L577.3 518 L577.8 518 L578.3 518 L578.8 518 L579.3 518 L579.8 518 L580.3 518 L580.8 518 L581.3 518 L581.8 518 L582.3 518 L582.8 518 L583.3 518 L583.8 518 L584.3 518 L584.8 518 L585.3 518 L585.8 518 L586.3 518 L586.8 518 L587.3 518 L587.8 518 L588.3 518 L588.8 518 L589.3 518 L589.8 518 L590.3 518 L590.8 518 L591.3 518 L591.8 518 L592.3 518 L592.8 518 L593.3 518 L593.8 518 L594.3 518 L594.8 518 L595.3 518 L595.8 518 L596.3 518 L596.8 518 L597.3 518 L597.8 518 L598.3 518 L598.8 518 L599.3 518 L599.8 518 L600.3 518 L600.8 518 L601.3 518 L601.8 518 L602.3 518 L602.8 518 L603.3 518 L603.8 518 L604.3 518 L604.8 518 L605.3 518 L605.8 518 L606.3 518 L606.8 518 L607.3 518 L607.8 518 L608.3 518 L608.8 518 L609.3 518 L609.8 518 L610.3 518 L610.8 518 L611.3 518 L611.8 518 L612.3 518 L612.8 518 L613.3 518 L613.8 518 L614.3 518 L614.8 518 L615.3 518 L615.8 518 L616.3 518 L616.8 518 L617.3 518 L617.8 518 L618.3 518 L618.8 518 L619.3 518 L619.8 518 L620.3 518 L620.8 518 L621.3 518 L621.8 518 L622.3 518 L622.8 518 L623.3 518 L623.8 518 L624.3 518 L624.8 518 L625.3 518 L625.8 518 L626.3 518 L626.8 518 L627.3 518 L627.8 518 L628.3 518 L628.8 518 L629.3 518 L629.8 518 L630.3 518 L630.8 518 L631.3 518 L631.8 518 L632.3 518 L632.8 518 L633.3 518 L633.8 518 L634.3 518 L634.8 518 L635.3 518 L635.8 518 L636.3 518 L636.8 518 L637.3 518 L637.8 518 L638.3 518 L638.8 518 L639.3 518 L639.8 518 L640.3 518 L640.8 518 L641.3 518 L641.8 518 L642.3 518 L642.8 518 L643.3 518 L643.8 518 L644.3 518 L644.8 518 L645.3 518 L645.8 518 L646.3 518 L646.8 518 L647.3 518 L647.8 518 L648.3 518 L648.8 518 L649.3 518 L649.8 518 L650.3 518 L650.8 518 L651.3 518 L651.8 518 L652.3 518 L652.8 518 L653.3 518 L653.8 518 L654.3 518 L654.8 518 L655.3 518 L655.8 518 L656.3 518 L656.8 518 L657.3 518 L657.8 518 L658.3 518 L658.8 518 L659.3 518 L659.8 518 L660.3 518 L660.8 518 L661.3 518 L661.8 518 L662.3 518 L662.8 518 L663.3 518 L663.8 518 L664.3 518 L664.8 518 L665.3 518 L665.8 518 L666.3 518 L666.8 518 L667.3 518 L667.8 518 L668.3 518 L668.8 518 L669.3 518 L669.8 518 L670.3 518 L670.8 518 L671.3 518 L671.8 518 L672.3 518 L672.5 520.12 L673 521.98 L673.5 523.63 L674 525.08 L674.5 526.37 L675 527.5 L675.5 528.5 L676 529.38 L676.5 530.16 L677 530.84 L677.5 531.45 L678 531.98 L678.5 532.46 L679 532.87 L679.5 533.24 L680 533.56 L680.5 533.85" fill="none" stroke="#c4c4c4" stroke-width="0.8" stroke-linejoin="round"/>
<path d="M501.5 536 L502 534.47 L502.5 533.12 L503 531.93 L503.4 519 L504.1 422.16 L504.4 424.16 L505.4 521 L505.8 526.5 L507.4 528 L506 519 L506.7 422.33 L507 424.33 L508 521 L508.4 526.5 L510 528 L510.5 527.27 L511 526.59 L511.5 525.95 L512 525.35 L512.5 524.78 L513 524.25 L513.5 523.75 L514 523.28 L514.5 522.84 L515 522.42 L515.5 522.03 L516 521.67 L516.5 521.32 L517 521 L517.5 520.7 L518 520.41 L518.5 520.15 L519 519.9 L519.5 519.66 L520 519.44 L520.5 519.23 L521 519.03 L521.5 518.85 L522 518.68 L522.5 518.52 L523 518.36 L523.5 518.22 L524 518.09 L524.5 517.96 L525 517.84 L525.5 517.73 L526 517.62 L526.5 517.53 L527 517.43 L527.5 517.35 L528 517.26 L528.5 517.19 L529 517.12 L529.5 517.05 L530 516.99 L530.5 516.93 L531 516.87 L531.5 516.82 L532 516.77 L532.5 516.72 L533 516.68 L533.5 516.64 L534 516.6 L534.5 516.56 L535 516.53 L535.5 516.5 L536 516.47 L536.5 516.44 L537 516.41 L537.5 516.39 L538 516.36 L538.5 516.34 L539 516.32 L539.5 516.3 L540 516.28 L540.5 516.27 L541 516.25 L541.5 516.23 L542 516.22 L542.5 516.21 L543 516.19 L543.5 516.18 L544 516.17 L544.5 516.16 L545 516.15 L545.5 516.14 L546 516.13 L546.5 516.13 L547 516.12 L547.5 516.11 L548 516.1 L548.5 516.1 L549 516.09 L549.5 516.09 L550 516.08 L550.5 516.08 L551 516.07 L551.5 516.07 L552 516.06 L552.5 516.06 L553 516.06 L553.5 516.05 L554 516.05 L554.5 516.05 L555 516.04 L555.5 516.04 L556 516.04 L556.5 516.04 L557 516.03 L557.5 516.03 L558 516.03 L558.5 516.03 L559 516.03 L559.5 516.02 L560 516.02 L560.5 516.02 L561 516.02 L561.5 516.02 L562 516.02 L562.5 516.02 L563 516.02 L563.5 516.01 L564 516.01 L564.5 516.01 L565 516.01 L565.5 516.01 L566 516.01 L566.5 516.01 L567 516.01 L567.5 516.01 L568 516.01 L568.5 516.01 L569 516.01 L569.5 516.01 L570 516.01 L570.5 516.01 L571 516.01 L571.5 516.01 L572 516.01 L572.5 516 L573 516 L573.5 516 L574 516 L574.5 516 L575 516 L575.5 516 L576 516 L576.5 516 L577 516 L577.5 516 L578 516 L578.5 516 L579 516 L579.5 516 L580 516 L580.5 516 L581 516 L581.5 516 L582 516 L582.5 516 L583 516 L583.5 516 L584 516 L584.5 516 L585 516 L585.5 516 L586 516 L586.5 516 L587 516 L587.5 516 L588 516 L588.5 516 L589 516 L589.5 516 L590 516 L590.5 516 L591 516 L591.5 516 L592 516 L592.5 516 L593 516 L593.5 516 L594 516 L594.5 516 L595 516 L595.5 516 L596 516 L596.5 516 L597 516 L597.5 516 L598 516 L598.5 516 L599 516 L599.5 516 L600 516 L600.5 516 L601 516 L601.5 516 L602 516 L602.5 516 L603 516 L603.5 516 L604 516 L604.5 516 L605 516 L605.5 516 L606 516 L606.5 516 L607 516 L607.5 516 L608 516 L608.5 516 L609 516 L609.5 516 L610 516 L610.5 516 L611 516 L611.5 516 L612 516 L612.5 516 L613 516 L613.5 516 L614 516 L614.5 516 L615 516 L615.5 516 L616 516 L616.5 516 L617 516 L617.5 516 L618 516 L618.5 516 L619 516 L619.5 516 L620 516 L620.5 516 L621 516 L621.5 516 L622 516 L622.5 516 L623 516 L623.5 516 L624 516 L624.5 516 L625 516 L625.5 516 L626 516 L626.5 516 L627 516 L627.5 516 L628 516 L628.5 516 L629 516 L629.5 516 L630 516 L630.5 516 L631 516 L631.5 516 L632 516 L632.5 516 L633 516 L633.5 516 L634 516 L634.5 516 L635 516 L635.5 516 L636 516 L636.5 516 L637 516 L637.5 516 L638 516 L638.5 516 L639 516 L639.5 516 L640 516 L640.5 516 L641 516 L641.5 516 L642 516 L642.5 516 L643 516 L643.5 516 L644 516 L644.5 516 L645 516 L645.5 516 L646 516 L646.5 516 L647 516 L647.5 516 L648 516 L648.5 516 L649 516 L649.5 516 L650 516 L650.5 516 L651 516 L651.5 516 L652 516 L652.5 516 L653 516 L653.5 516 L654 516 L654.5 516 L655 516 L655.5 516 L656 516 L656.5 516 L657 516 L657.5 516 L658 516 L658.5 516 L659 516 L659.5 516 L660 516 L660.5 516 L661 516 L661.5 516 L662 516 L662.5 516 L663 516 L663.5 516 L664 516 L664.5 516 L665 516 L665.5 516 L666 516 L666.5 516 L667 516 L667.5 516 L668 516 L668.5 516 L669 516 L669.5 516 L670 516 L670.5 516 L671 516 L671.5 516 L672 516 L672.5 518.35 L673 520.42 L673.5 522.25 L674 523.87 L674.5 525.29 L675 526.55 L675.5 527.66 L676 528.64 L676.5 529.51 L677 530.27 L677.5 530.94 L678 531.54 L678.5 532.06 L679 532.52 L679.5 532.93 L680 533.29 L680.5 533.61" fill="none" stroke="#c4c4c4" stroke-width="0.8" stroke-linejoin="round"/>
<path d="M501.5 536 L502 534.24 L502.5 532.68 L503 531.31 L503.5 530.1 L504 529.03 L504.5 517 L505.2 428.16 L505.5 430.16 L506.5 519 L506.9 524.5 L508.5 526 L507.1 517 L507.8 422.54 L508.1 424.54 L509.1 519 L509.5 524.5 L511.1 526 L511.6 525.27 L512.1 524.59 L512.6 523.95 L513.1 523.35 L513.6 522.78 L514.1 522.25 L514.6 521.75 L515.1 521.28 L515.6 520.84 L516.1 520.42 L516.6 520.03 L517.1 519.67 L517.6 519.32 L518.1 519 L518.6 518.7 L519.1 518.41 L519.6 518.15 L520.1 517.9 L520.6 517.66 L521.1 517.44 L521.6 517.23 L522.1 517.03 L522.6 516.85 L523.1 516.68 L523.6 516.52 L524.1 516.36 L524.6 516.22 L525.1 516.09 L525.6 515.96 L526.1 515.84 L526.6 515.73 L527.1 515.62 L527.6 515.53 L528.1 515.43 L528.6 515.35 L529.1 515.26 L529.6 515.19 L530.1 515.12 L530.6 515.05 L531.1 514.99 L531.6 514.93 L532.1 514.87 L532.6 514.82 L533.1 514.77 L533.6 514.72 L534.1 514.68 L534.6 514.64 L535.1 514.6 L535.6 514.56 L536.1 514.53 L536.6 514.5 L537.1 514.47 L537.6 514.44 L538.1 514.41 L538.6 514.39 L539.1 514.36 L539.6 514.34 L539.86 514.34 L540.56 423.33 L540.86 425.33 L541.86 519 L542.26 524.5 L543.86 526 L544.36 525.27 L544.86 524.59 L545.36 523.95 L545.86 523.35 L546.36 522.78 L546.86 522.25 L547.36 521.75 L547.86 521.28 L548.36 520.84 L548.86 520.42 L549.36 520.03 L549.86 519.67 L550.36 519.32 L550.86 519 L551.36 518.7 L551.86 518.41 L552.36 518.15 L552.86 517.9 L553.36 517.66 L553.86 517.44 L554.36 517.23 L554.86 517.03 L555.36 516.85 L555.86 516.68 L556.36 516.52 L556.86 516.36 L557.36 516.22 L557.86 516.09 L558.36 515.96 L558.86 515.84 L559.36 515.73 L559.86 515.62 L560.36 515.53 L560.86 515.43 L561.36 515.35 L561.86 515.26 L562.36 515.19 L562.86 515.12 L563.36 515.05 L563.86 514.99 L564.36 514.93 L564.86 514.87 L565.36 514.82 L565.86 514.77 L566.36 514.72 L566.86 514.68 L567.36 514.64 L567.86 514.6 L568.36 514.56 L568.86 514.53 L569.36 514.5 L569.86 514.47 L570.36 514.44 L570.86 514.41 L571.36 514.39 L571.86 514.36 L572.36 514.34 L572.86 514.32 L573.36 514.3 L573.86 514.28 L574.36 514.27 L574.86 514.25 L575.36 514.23 L575.86 514.22 L576.36 514.21 L576.86 514.19 L577.36 514.18 L577.86 514.17 L578.36 514.16 L578.86 514.15 L579.36 514.14 L579.86 514.13 L580.36 514.13 L580.86 514.12 L581.36 514.11 L581.86 514.1 L582.36 514.1 L582.86 514.09 L583.26 514.09 L583.96 426.57 L584.26 428.57 L585.26 519 L585.66 524.5 L587.26 526 L587.76 525.27 L588.26 524.59 L588.76 523.95 L589.26 523.35 L589.76 522.78 L590.26 522.25 L590.76 521.75 L591.26 521.28 L591.76 520.84 L592.26 520.42 L592.76 520.03 L593.26 519.67 L593.76 519.32 L594.26 519 L594.76 518.7 L595.26 518.41 L595.76 518.15 L596.26 517.9 L596.76 517.66 L597.26 517.44 L597.76 517.23 L598.26 517.03 L598.76 516.85 L599.26 516.68 L599.76 516.52 L600.26 516.36 L600.76 516.22 L601.26 516.09 L601.76 515.96 L602.26 515.84 L602.76 515.73 L603.26 515.62 L603.76 515.53 L604.26 515.43 L604.76 515.35 L605.26 515.26 L605.76 515.19 L606.26 515.12 L606.76 515.05 L607.26 514.99 L607.76 514.93 L608.26 514.87 L608.76 514.82 L609.26 514.77 L609.76 514.72 L610.26 514.68 L610.76 514.64 L611.26 514.6 L611.76 514.56 L612.26 514.53 L612.76 514.5 L613.26 514.47 L613.76 514.44 L614.26 514.41 L614.76 514.39 L615.26 514.36 L615.76 514.34 L616.26 514.32 L616.76 514.3 L617.26 514.28 L617.76 514.27 L618.26 514.25 L618.76 514.23 L619.26 514.22 L619.76 514.21 L620.26 514.19 L620.68 514.19 L621.38 429.13 L621.68 431.13 L622.68 519 L623.08 524.5 L624.68 526 L625.18 525.27 L625.68 524.59 L626.18 523.95 L626.68 523.35 L627.18 522.78 L627.68 522.25 L628.18 521.75 L628.68 521.28 L629.18 520.84 L629.68 520.42 L630.18 520.03 L630.68 519.67 L631.18 519.32 L631.68 519 L632.18 518.7 L632.68 518.41 L633.18 518.15 L633.68 517.9 L634.18 517.66 L634.68 517.44 L635.18 517.23 L635.68 517.03 L636.18 516.85 L636.68 516.68 L637.18 516.52 L637.68 516.36 L638.18 516.22 L638.68 516.09 L639.18 515.96 L639.68 515.84 L640.18 515.73 L640.68 515.62 L641.18 515.53 L641.68 515.43 L642.18 515.35 L642.68 515.26 L643.18 515.19 L643.68 515.12 L644.18 515.05 L644.68 514.99 L645.18 514.93 L645.68 514.87 L646.18 514.82 L646.68 514.77 L647.18 514.72 L647.68 514.68 L648.18 514.64 L648.68 514.6 L649.18 514.56 L649.68 514.53 L650.18 514.5 L650.68 514.47 L651.18 514.44 L651.68 514.41 L652.18 514.39 L652.68 514.36 L653.18 514.34 L653.68 514.32 L654.18 514.3 L654.68 514.28 L655.18 514.27 L655.68 514.25 L656.18 514.23 L656.68 514.22 L657.18 514.21 L657.68 514.19 L658.18 514.18 L658.68 514.17 L659.18 514.16 L659.68 514.15 L660.18 514.14 L660.68 514.13 L661.18 514.13 L661.68 514.12 L662.18 514.11 L662.58 514.11 L663.28 426.16 L663.58 428.16 L664.58 519 L664.98 524.5 L666.58 526 L667.08 525.27 L667.58 524.59 L668.08 523.95 L668.58 523.35 L669.08 522.78 L669.58 522.25 L670.08 521.75 L670.58 521.28 L671.08 520.84 L671.58 520.42 L672.08 520.03 L672.5 521.91 L673 523.57 L673.5 525.03 L674 526.32 L674.5 527.45 L675 528.46 L675.5 529.34 L676 530.13 L676.5 530.82 L677 531.43 L677.5 531.96 L678 532.44 L678.5 532.86 L679 533.23 L679.5 533.55 L680 533.84 L680.5 534.09" fill="none" stroke="#c4c4c4" stroke-width="0.8" stroke-linejoin="round"/>
<path d="M501.5 536 L502 534 L502.5 532.24 L503 530.68 L503.5 529.31 L504 528.1 L504.5 527.03 L505 526.09 L505.5 525.25 L505.6 515 L506.3 429.19 L506.6 431.19 L507.6 517 L508 522.5 L509.6 524 L508.2 515 L508.9 421.75 L509.2 423.75 L510.2 517 L510.6 522.5 L512.2 524 L512.7 523.27 L513.2 522.59 L513.7 521.95 L514.2 521.35 L514.7 520.78 L515.2 520.25 L515.7 519.75 L516.2 519.28 L516.7 518.84 L517.2 518.42 L517.7 518.03 L518.2 517.67 L518.7 517.32 L519.2 517 L519.7 516.7 L520.2 516.41 L520.7 516.15 L521.2 515.9 L521.7 515.66 L522.2 515.44 L522.7 515.23 L523.2 515.03 L523.7 514.85 L524.2 514.68 L524.7 514.52 L525.2 514.36 L525.7 514.22 L526.2 514.09 L526.7 513.96 L527.2 513.84 L527.7 513.73 L528.2 513.62 L528.7 513.53 L529.2 513.43 L529.7 513.35 L530.2 513.26 L530.7 513.19 L531.2 513.12 L531.7 513.05 L532.2 512.99 L532.7 512.93 L533.2 512.87 L533.7 512.82 L534.2 512.77 L534.7 512.72 L535.2 512.68 L535.7 512.64 L536.2 512.6 L536.7 512.56 L536.87 512.56 L537.57 428.25 L537.87 430.25 L538.87 517 L539.27 522.5 L540.87 524 L541.37 523.27 L541.87 522.59 L542.37 521.95 L542.87 521.35 L543.37 520.78 L543.87 520.25 L544.37 519.75 L544.87 519.28 L545.37 518.84 L545.87 518.42 L546.37 518.03 L546.87 517.67 L547.37 517.32 L547.87 517 L548.37 516.7 L548.87 516.41 L549.37 516.15 L549.87 515.9 L550.37 515.66 L550.87 515.44 L551.37 515.23 L551.87 515.03 L552.37 514.85 L552.87 514.68 L553.37 514.52 L553.87 514.36 L554.37 514.22 L554.87 514.09 L555.37 513.96 L555.87 513.84 L556.37 513.73 L556.87 513.62 L557.37 513.53 L557.87 513.43 L558.37 513.35 L558.87 513.26 L559.37 513.19 L559.87 513.12 L560.37 513.05 L560.87 512.99 L561.37 512.93 L561.87 512.87 L562.37 512.82 L562.87 512.77 L563.37 512.72 L563.87 512.68 L564.37 512.64 L564.87 512.6 L565.37 512.56 L565.87 512.53 L566.37 512.5 L566.87 512.47 L567.37 512.44 L567.87 512.41 L568.37 512.39 L568.87 512.36 L569.37 512.34 L569.87 512.32 L570.37 512.3 L570.87 512.28 L571.37 512.27 L571.87 512.25 L572.37 512.23 L572.87 512.22 L573.37 512.21 L573.87 512.19 L574.37 512.18 L574.87 512.17 L575.37 512.16 L575.87 512.15 L576.37 512.14 L576.87 512.13 L577.37 512.13 L577.87 512.12 L578.37 512.11 L578.77 512.11 L579.47 423.7 L579.77 425.7 L580.77 517 L581.17 522.5 L582.77 524 L583.27 523.27 L583.77 522.59 L584.27 521.95 L584.77 521.35 L585.27 520.78 L585.77 520.25 L586.27 519.75 L586.77 519.28 L587.27 518.84 L587.77 518.42 L588.27 518.03 L588.77 517.67 L589.27 517.32 L589.77 517 L590.27 516.7 L590.77 516.41 L591.27 516.15 L591.77 515.9 L592.27 515.66 L592.77 515.44 L593.27 515.23 L593.77 515.03 L594.27 514.85 L594.77 514.68 L595.27 514.52 L595.77 514.36 L596.27 514.22 L596.77 514.09 L597.27 513.96 L597.77 513.84 L598.27 513.73 L598.77 513.62 L599.27 513.53 L599.77 513.43 L600.27 513.35 L600.77 513.26 L601.27 513.19 L601.77 513.12 L602.27 513.05 L602.77 512.99 L603.27 512.93 L603.77 512.87 L604.27 512.82 L604.77 512.77 L605.27 512.72 L605.77 512.68 L606.27 512.64 L606.77 512.6 L607.27 512.56 L607.77 512.53 L608.27 512.5 L608.77 512.47 L609.27 512.44 L609.77 512.41 L610.27 512.39 L610.77 512.36 L611.27 512.34 L611.77 512.32 L612.27 512.3 L612.77 512.28 L613.27 512.27 L613.77 512.25 L614.27 512.23 L614.77 512.22 L615.27 512.21 L615.77 512.19 L616.27 512.18 L616.77 512.17 L617.27 512.16 L617.68 512.16 L618.38 422.53 L618.68 424.53 L619.68 517 L620.08 522.5 L621.68 524 L622.18 523.27 L622.68 522.59 L623.18 521.95 L623.68 521.35 L624.18 520.78 L624.68 520.25 L625.18 519.75 L625.68 519.28 L626.18 518.84 L626.68 518.42 L627.18 518.03 L627.68 517.67 L628.18 517.32 L628.68 517 L629.18 516.7 L629.68 516.41 L630.18 516.15 L630.68 515.9 L631.18 515.66 L631.68 515.44 L632.18 515.23 L632.68 515.03 L633.18 514.85 L633.68 514.68 L634.18 514.52 L634.68 514.36 L635.18 514.22 L635.68 514.09 L636.18 513.96 L636.68 513.84 L637.18 513.73 L637.68 513.62 L638.18 513.53 L638.68 513.43 L639.18 513.35 L639.68 513.26 L640.18 513.19 L640.68 513.12 L641.18 513.05 L641.68 512.99 L642.18 512.93 L642.68 512.87 L643.18 512.82 L643.68 512.77 L644.18 512.72 L644.68 512.68 L645.18 512.64 L645.68 512.6 L646.18 512.56 L646.68 512.53 L647.18 512.5 L647.68 512.47 L648.18 512.44 L648.68 512.41 L649.18 512.39 L649.68 512.36 L650.18 512.34 L650.68 512.32 L651.18 512.3 L651.68 512.28 L652.18 512.27 L652.68 512.25 L653.18 512.23 L653.68 512.22 L654.18 512.21 L654.68 512.19 L655.18 512.18 L655.68 512.17 L656.18 512.16 L656.59 512.16 L657.29 422.32 L657.59 424.32 L658.59 517 L658.99 522.5 L660.59 524 L661.09 523.27 L661.59 522.59 L662.09 521.95 L662.59 521.35 L663.09 520.78 L663.59 520.25 L664.09 519.75 L664.59 519.28 L665.09 518.84 L665.59 518.42 L666.09 518.03 L666.59 517.67 L667.09 517.32 L667.59 517 L668.09 516.7 L668.59 516.41 L669.09 516.15 L669.59 515.9 L670.09 515.66 L670.59 515.44 L671.09 515.23 L671.59 515.03 L672.09 514.85 L672.5 517.34 L673 519.53 L673.5 521.46 L674 523.17 L674.5 524.68 L675 526.01 L675.5 527.18 L676 528.22 L676.5 529.13 L677 529.94 L677.5 530.65 L678 531.28 L678.5 531.84 L679 532.32 L679.5 532.76 L680 533.14 L680.5 533.47" fill="none" stroke="#c4c4c4" stroke-width="0.8" stroke-linejoin="round"/>
<path d="M501.5 536 L502 533.77 L502.5 531.8 L503 530.06 L503.5 528.52 L504 527.17 L504.5 525.97 L505 524.92 L505.5 523.99 L506 523.17 L506.5 522.44 L506.7 513 L507.4 427.38 L507.7 429.38 L508.7 515 L509.1 520.5 L510.7 522 L509.3 513 L510 422.3 L510.3 424.3 L511.3 515 L511.7 520.5 L513.3 522 L513.8 521.27 L514.3 520.59 L514.8 519.95 L515.3 519.35 L515.8 518.78 L516.3 518.25 L516.8 517.75 L517.3 517.28 L517.8 516.84 L518.3 516.42 L518.8 516.03 L519.3 515.67 L519.8 515.32 L520.3 515 L520.8 514.7 L521.3 514.41 L521.8 514.15 L522.3 513.9 L522.8 513.66 L523.3 513.44 L523.8 513.23 L524.3 513.03 L524.8 512.85 L525.3 512.68 L525.8 512.52 L526.3 512.36 L526.8 512.22 L527.3 512.09 L527.8 511.96 L528.3 511.84 L528.8 511.73 L529.3 511.62 L529.8 511.53 L530.3 511.43 L530.8 511.35 L531.3 511.26 L531.8 511.19 L532.3 511.12 L532.38 511.12 L533.08 425.5 L533.38 427.5 L534.38 515 L534.78 520.5 L536.38 522 L536.88 521.27 L537.38 520.59 L537.88 519.95 L538.38 519.35 L538.88 518.78 L539.38 518.25 L539.88 517.75 L540.38 517.28 L540.88 516.84 L541.38 516.42 L541.88 516.03 L542.38 515.67 L542.88 515.32 L543.38 515 L543.88 514.7 L544.38 514.41 L544.88 514.15 L545.38 513.9 L545.88 513.66 L546.38 513.44 L546.88 513.23 L547.38 513.03 L547.88 512.85 L548.38 512.68 L548.88 512.52 L549.38 512.36 L549.88 512.22 L550.38 512.09 L550.88 511.96 L551.38 511.84 L551.88 511.73 L552.38 511.62 L552.88 511.53 L553.38 511.43 L553.88 511.35 L554.38 511.26 L554.88 511.19 L555.38 511.12 L555.88 511.05 L556.38 510.99 L556.88 510.93 L557.38 510.87 L557.88 510.82 L558.38 510.77 L558.88 510.72 L559.38 510.68 L559.88 510.64 L560.38 510.6 L560.88 510.56 L561.38 510.53 L561.88 510.5 L562.38 510.47 L562.88 510.44 L563.38 510.41 L563.88 510.39 L564.38 510.36 L564.88 510.34 L565.38 510.32 L565.88 510.3 L566.38 510.28 L566.88 510.27 L567.38 510.25 L567.88 510.23 L568.38 510.22 L568.88 510.21 L569.38 510.19 L569.88 510.18 L570.38 510.17 L570.88 510.16 L571.38 510.15 L571.88 510.14 L572.38 510.13 L572.88 510.13 L573.38 510.12 L573.88 510.11 L574.38 510.1 L574.88 510.1 L575.18 510.1 L575.88 425.96 L576.18 427.96 L577.18 515 L577.58 520.5 L579.18 522 L579.68 521.27 L580.18 520.59 L580.68 519.95 L581.18 519.35 L581.68 518.78 L582.18 518.25 L582.68 517.75 L583.18 517.28 L583.68 516.84 L584.18 516.42 L584.68 516.03 L585.18 515.67 L585.68 515.32 L586.18 515 L586.68 514.7 L587.18 514.41 L587.68 514.15 L588.18 513.9 L588.68 513.66 L589.18 513.44 L589.68 513.23 L590.18 513.03 L590.68 512.85 L591.18 512.68 L591.68 512.52 L592.18 512.36 L592.68 512.22 L593.18 512.09 L593.68 511.96 L594.18 511.84 L594.68 511.73 L595.18 511.62 L595.68 511.53 L596.18 511.43 L596.68 511.35 L597.18 511.26 L597.68 511.19 L598.18 511.12 L598.68 511.05 L599.18 510.99 L599.68 510.93 L600.18 510.87 L600.68 510.82 L601.18 510.77 L601.68 510.72 L602.18 510.68 L602.68 510.64 L603.18 510.6 L603.68 510.56 L604.18 510.53 L604.68 510.5 L605.18 510.47 L605.68 510.44 L606.18 510.41 L606.68 510.39 L607.18 510.36 L607.68 510.34 L608.18 510.32 L608.68 510.3 L609.18 510.28 L609.68 510.27 L610.18 510.25 L610.68 510.23 L611.18 510.22 L611.68 510.21 L611.7 510.21 L612.4 423.83 L612.7 425.83 L613.7 515 L614.1 520.5 L615.7 522 L616.2 521.27 L616.7 520.59 L617.2 519.95 L617.7 519.35 L618.2 518.78 L618.7 518.25 L619.2 517.75 L619.7 517.28 L620.2 516.84 L620.7 516.42 L621.2 516.03 L621.7 515.67 L622.2 515.32 L622.7 515 L623.2 514.7 L623.7 514.41 L624.2 514.15 L624.7 513.9 L625.2 513.66 L625.7 513.44 L626.2 513.23 L626.7 513.03 L627.2 512.85 L627.7 512.68 L628.2 512.52 L628.7 512.36 L629.2 512.22 L629.7 512.09 L630.2 511.96 L630.7 511.84 L631.2 511.73 L631.7 511.62 L632.2 511.53 L632.7 511.43 L633.2 511.35 L633.7 511.26 L634.2 511.19 L634.7 511.12 L635.2 511.05 L635.7 510.99 L636.2 510.93 L636.7 510.87 L637.2 510.82 L637.7 510.77 L638.2 510.72 L638.7 510.68 L639.2 510.64 L639.7 510.6 L640.2 510.56 L640.7 510.53 L641.2 510.5 L641.7 510.47 L642.2 510.44 L642.7 510.41 L643.2 510.39 L643.7 510.36 L644.2 510.34 L644.7 510.32 L645.2 510.3 L645.7 510.28 L646.2 510.27 L646.7 510.25 L647.2 510.23 L647.7 510.22 L648.2 510.21 L648.7 510.19 L649.2 510.18 L649.7 510.17 L650.2 510.16 L650.7 510.15 L651.2 510.14 L651.7 510.13 L652.1 510.13 L652.8 425.23 L653.1 427.23 L654.1 515 L654.5 520.5 L656.1 522 L656.6 521.27 L657.1 520.59 L657.6 519.95 L658.1 519.35 L658.6 518.78 L659.1 518.25 L659.6 517.75 L660.1 517.28 L660.6 516.84 L661.1 516.42 L661.6 516.03 L662.1 515.67 L662.6 515.32 L663.1 515 L663.6 514.7 L664.1 514.41 L664.6 514.15 L665.1 513.9 L665.6 513.66 L666.1 513.44 L666.6 513.23 L667.1 513.03 L667.6 512.85 L668.1 512.68 L668.6 512.52 L669.1 512.36 L669.6 512.22 L670.1 512.09 L670.6 511.96 L671.1 511.84 L671.6 511.73 L672.1 511.62 L672.5 514.49 L673 517.02 L673.5 519.25 L674 521.22 L674.5 522.95 L675 524.49 L675.5 525.84 L676 527.03 L676.5 528.09 L677 529.02 L677.5 529.84 L678 530.56 L678.5 531.2 L679 531.76 L679.5 532.26 L680 532.7 L680.5 533.09" fill="none" stroke="#c4c4c4" stroke-width="0.8" stroke-linejoin="round"/>
<path d="M501.5 536 L502 533.53 L502.5 531.35 L503 529.43 L503.5 527.74 L504 526.24 L504.5 524.92 L505 523.75 L505.5 522.73 L506 521.82 L506.5 521.02 L507 520.31 L507.5 519.69 L507.8 511 L508.5 419.85 L508.8 421.85 L509.8 513 L510.2 518.5 L511.8 520 L510.4 511 L511.1 421.02 L511.4 423.02 L512.4 513 L512.8 518.5 L514.4 520 L514.9 519.27 L515.4 518.59 L515.9 517.95 L516.4 517.35 L516.9 516.78 L517.4 516.25 L517.9 515.75 L518.4 515.28 L518.9 514.84 L519.4 514.42 L519.9 514.03 L520.4 513.67 L520.9 513.32 L521.4 513 L521.9 512.7 L522.4 512.41 L522.9 512.15 L523.4 511.9 L523.9 511.66 L524.4 511.44 L524.9 511.23 L525.4 511.03 L525.9 510.85 L526.4 510.68 L526.9 510.52 L527.4 510.36 L527.9 510.22 L528.4 510.09 L528.9 509.96 L529.39 509.96 L530.09 424.82 L530.39 426.82 L531.39 513 L531.79 518.5 L533.39 520 L533.89 519.27 L534.39 518.59 L534.89 517.95 L535.39 517.35 L535.89 516.78 L536.39 516.25 L536.89 515.75 L537.39 515.28 L537.89 514.84 L538.39 514.42 L538.89 514.03 L539.39 513.67 L539.89 513.32 L540.39 513 L540.89 512.7 L541.39 512.41 L541.89 512.15 L542.39 511.9 L542.89 511.66 L543.39 511.44 L543.89 511.23 L544.39 511.03 L544.89 510.85 L545.39 510.68 L545.89 510.52 L546.39 510.36 L546.89 510.22 L547.39 510.09 L547.89 509.96 L548.39 509.84 L548.89 509.73 L549.39 509.62 L549.89 509.53 L550.39 509.43 L550.89 509.35 L551.39 509.26 L551.89 509.19 L552.39 509.12 L552.89 509.05 L553.39 508.99 L553.89 508.93 L554.39 508.87 L554.89 508.82 L555.39 508.77 L555.89 508.72 L556.39 508.68 L556.89 508.64 L557.39 508.6 L557.89 508.56 L558.39 508.53 L558.89 508.5 L559.39 508.47 L559.89 508.44 L560.39 508.41 L560.89 508.39 L561.39 508.36 L561.89 508.34 L562.39 508.32 L562.89 508.3 L563.39 508.28 L563.89 508.27 L564.39 508.25 L564.89 508.23 L565.39 508.22 L565.89 508.21 L566.39 508.19 L566.89 508.18 L567.39 508.17 L567.89 508.16 L568.39 508.15 L568.89 508.14 L569.39 508.13 L569.89 508.13 L570.39 508.12 L570.89 508.11 L571.29 508.11 L571.99 422.8 L572.29 424.8 L573.29 513 L573.69 518.5 L575.29 520 L575.79 519.27 L576.29 518.59 L576.79 517.95 L577.29 517.35 L577.79 516.78 L578.29 516.25 L578.79 515.75 L579.29 515.28 L579.79 514.84 L580.29 514.42 L580.79 514.03 L581.29 513.67 L581.79 513.32 L582.29 513 L582.79 512.7 L583.29 512.41 L583.79 512.15 L584.29 511.9 L584.79 511.66 L585.29 511.44 L585.79 511.23 L586.29 511.03 L586.79 510.85 L587.29 510.68 L587.79 510.52 L588.29 510.36 L588.79 510.22 L589.29 510.09 L589.79 509.96 L590.29 509.84 L590.79 509.73 L591.29 509.62 L591.79 509.53 L592.29 509.43 L592.79 509.35 L593.29 509.26 L593.79 509.19 L594.29 509.12 L594.79 509.05 L595.29 508.99 L595.79 508.93 L596.29 508.87 L596.79 508.82 L597.29 508.77 L597.79 508.72 L598.29 508.68 L598.79 508.64 L599.29 508.6 L599.79 508.56 L600.29 508.53 L600.79 508.5 L601.29 508.47 L601.79 508.44 L602.29 508.41 L602.79 508.39 L603.29 508.36 L603.79 508.34 L604.29 508.32 L604.79 508.3 L605.29 508.28 L605.79 508.27 L606.29 508.25 L606.79 508.23 L607.21 508.23 L607.91 421.89 L608.21 423.89 L609.21 513 L609.61 518.5 L611.21 520 L611.71 519.27 L612.21 518.59 L612.71 517.95 L613.21 517.35 L613.71 516.78 L614.21 516.25 L614.71 515.75 L615.21 515.28 L615.71 514.84 L616.21 514.42 L616.71 514.03 L617.21 513.67 L617.71 513.32 L618.21 513 L618.71 512.7 L619.21 512.41 L619.71 512.15 L620.21 511.9 L620.71 511.66 L621.21 511.44 L621.71 511.23 L622.21 511.03 L622.71 510.85 L623.21 510.68 L623.71 510.52 L624.21 510.36 L624.71 510.22 L625.21 510.09 L625.71 509.96 L626.21 509.84 L626.71 509.73 L627.21 509.62 L627.71 509.53 L628.21 509.43 L628.71 509.35 L629.21 509.26 L629.71 509.19 L630.21 509.12 L630.71 509.05 L631.21 508.99 L631.71 508.93 L632.21 508.87 L632.71 508.82 L633.21 508.77 L633.71 508.72 L634.21 508.68 L634.71 508.64 L635.21 508.6 L635.71 508.56 L636.21 508.53 L636.71 508.5 L637.21 508.47 L637.71 508.44 L638.21 508.41 L638.71 508.39 L639.21 508.36 L639.71 508.34 L640.21 508.32 L640.71 508.3 L641.21 508.28 L641.71 508.27 L642.21 508.25 L642.71 508.23 L643.21 508.22 L643.71 508.21 L644.21 508.19 L644.71 508.18 L645.21 508.17 L645.71 508.16 L646.21 508.15 L646.71 508.14 L647.21 508.13 L647.61 508.13 L648.31 424.06 L648.61 426.06 L649.61 513 L650.01 518.5 L651.61 520 L652.11 519.27 L652.61 518.59 L653.11 517.95 L653.61 517.35 L654.11 516.78 L654.61 516.25 L655.11 515.75 L655.61 515.28 L656.11 514.84 L656.61 514.42 L657.11 514.03 L657.61 513.67 L658.11 513.32 L658.61 513 L659.11 512.7 L659.61 512.41 L660.11 512.15 L660.61 511.9 L661.11 511.66 L661.61 511.44 L662.11 511.23 L662.61 511.03 L663.11 510.85 L663.61 510.68 L664.11 510.52 L664.61 510.36 L665.11 510.22 L665.61 510.09 L666.11 509.96 L666.61 509.84 L667.11 509.73 L667.61 509.62 L668.11 509.53 L668.61 509.43 L669.11 509.35 L669.61 509.26 L670.11 509.19 L670.61 509.12 L671.11 509.05 L671.61 508.99 L672.11 508.93 L672.5 512.11 L673 514.91 L673.5 517.39 L674 519.58 L674.5 521.51 L675 523.21 L675.5 524.71 L676 526.04 L676.5 527.21 L677 528.24 L677.5 529.15 L678 529.96 L678.5 530.67 L679 531.3 L679.5 531.85 L680 532.34 L680.5 532.77" fill="none" stroke="#c4c4c4" stroke-width="0.8" stroke-linejoin="round"/>
<path d="M501.5 536 L502 533.3 L502.3 509 L503 424.12 L503.3 426.12 L504.3 511 L504.7 516.5 L506.3 518 L504.9 509 L505.6 428.07 L505.9 430.07 L506.9 511 L507.3 516.5 L508.9 518 L507.5 509 L508.2 427.31 L508.5 429.31 L509.5 511 L509.9 516.5 L511.5 518 L512 517.27 L512.5 516.59 L513 515.95 L513.5 515.35 L514 514.78 L514.5 514.25 L515 513.75 L515.5 513.28 L516 512.84 L516.5 512.42 L517 512.03 L517.5 511.67 L518 511.32 L518.5 511 L519 510.7 L519.5 510.41 L520 510.15 L520.5 509.9 L521 509.66 L521.5 509.44 L522 509.23 L522.5 509.03 L523 508.85 L523.5 508.68 L524 508.52 L524.5 508.36 L525 508.22 L525.5 508.09 L526 507.96 L526.39 507.96 L527.09 423.67 L527.39 425.67 L528.39 511 L528.79 516.5 L530.39 518 L530.89 517.27 L531.39 516.59 L531.89 515.95 L532.39 515.35 L532.89 514.78 L533.39 514.25 L533.89 513.75 L534.39 513.28 L534.89 512.84 L535.39 512.42 L535.89 512.03 L536.39 511.67 L536.89 511.32 L537.39 511 L537.89 510.7 L538.39 510.41 L538.89 510.15 L539.39 509.9 L539.89 509.66 L540.39 509.44 L540.89 509.23 L541.39 509.03 L541.89 508.85 L542.39 508.68 L542.89 508.52 L543.39 508.36 L543.89 508.22 L544.39 508.09 L544.89 507.96 L545.39 507.84 L545.89 507.73 L546.39 507.62 L546.89 507.53 L547.39 507.43 L547.89 507.35 L548.39 507.26 L548.89 507.19 L549.39 507.12 L549.89 507.05 L550.39 506.99 L550.89 506.93 L551.39 506.87 L551.89 506.82 L552.39 506.77 L552.89 506.72 L553.39 506.68 L553.89 506.64 L554.39 506.6 L554.89 506.56 L555.39 506.53 L555.89 506.5 L556.39 506.47 L556.89 506.44 L557.39 506.41 L557.89 506.39 L558.39 506.36 L558.89 506.34 L559.39 506.32 L559.89 506.3 L560.39 506.28 L560.89 506.27 L561.39 506.25 L561.89 506.23 L562.39 506.22 L562.89 506.21 L563.39 506.19 L563.89 506.18 L564.39 506.17 L564.89 506.16 L565.39 506.15 L565.89 506.14 L566.39 506.13 L566.8 506.13 L567.5 426.31 L567.8 428.31 L568.8 511 L569.2 516.5 L570.8 518 L571.3 517.27 L571.8 516.59 L572.3 515.95 L572.8 515.35 L573.3 514.78 L573.8 514.25 L574.3 513.75 L574.8 513.28 L575.3 512.84 L575.8 512.42 L576.3 512.03 L576.8 511.67 L577.3 511.32 L577.8 511 L578.3 510.7 L578.8 510.41 L579.3 510.15 L579.8 509.9 L580.3 509.66 L580.8 509.44 L581.3 509.23 L581.8 509.03 L582.3 508.85 L582.8 508.68 L583.3 508.52 L583.8 508.36 L584.3 508.22 L584.8 508.09 L585.3 507.96 L585.8 507.84 L586.3 507.73 L586.8 507.62 L587.3 507.53 L587.8 507.43 L588.3 507.35 L588.8 507.26 L589.3 507.19 L589.8 507.12 L590.3 507.05 L590.8 506.99 L591.3 506.93 L591.8 506.87 L592.3 506.82 L592.8 506.77 L593.3 506.72 L593.8 506.68 L594.3 506.64 L594.8 506.6 L595.3 506.56 L595.8 506.53 L596.3 506.5 L596.8 506.47 L597.3 506.44 L597.8 506.41 L598.3 506.39 L598.8 506.36 L599.3 506.34 L599.8 506.32 L600.3 506.3 L600.8 506.28 L601.3 506.27 L601.8 506.25 L602.3 506.23 L602.72 506.23 L603.42 425.92 L603.72 427.92 L604.72 511 L605.12 516.5 L606.72 518 L607.22 517.27 L607.72 516.59 L608.22 515.95 L608.72 515.35 L609.22 514.78 L609.72 514.25 L610.22 513.75 L610.72 513.28 L611.22 512.84 L611.72 512.42 L612.22 512.03 L612.72 511.67 L613.22 511.32 L613.72 511 L614.22 510.7 L614.72 510.41 L615.22 510.15 L615.72 509.9 L616.22 509.66 L616.72 509.44 L617.22 509.23 L617.72 509.03 L618.22 508.85 L618.72 508.68 L619.22 508.52 L619.72 508.36 L620.22 508.22 L620.72 508.09 L621.22 507.96 L621.72 507.84 L622.22 507.73 L622.72 507.62 L623.22 507.53 L623.72 507.43 L624.22 507.35 L624.72 507.26 L625.22 507.19 L625.72 507.12 L626.22 507.05 L626.72 506.99 L627.22 506.93 L627.72 506.87 L628.22 506.82 L628.72 506.77 L629.22 506.72 L629.72 506.68 L630.22 506.64 L630.72 506.6 L631.22 506.56 L631.72 506.53 L632.22 506.5 L632.72 506.47 L633.22 506.44 L633.72 506.41 L634.22 506.39 L634.72 506.36 L635.22 506.34 L635.72 506.32 L636.22 506.3 L636.72 506.28 L637.22 506.27 L637.72 506.25 L638.22 506.23 L638.72 506.22 L639.22 506.21 L639.72 506.19 L640.22 506.18 L640.72 506.17 L641.22 506.16 L641.72 506.15 L642.22 506.14 L642.72 506.13 L643.22 506.13 L643.72 506.12 L644.22 506.11 L644.62 506.11 L645.32 428.72 L645.62 430.72 L646.62 511 L647.02 516.5 L648.62 518 L649.12 517.27 L649.62 516.59 L650.12 515.95 L650.62 515.35 L651.12 514.78 L651.62 514.25 L652.12 513.75 L652.62 513.28 L653.12 512.84 L653.62 512.42 L654.12 512.03 L654.62 511.67 L655.12 511.32 L655.62 511 L656.12 510.7 L656.62 510.41 L657.12 510.15 L657.62 509.9 L658.12 509.66 L658.62 509.44 L659.12 509.23 L659.62 509.03 L660.12 508.85 L660.62 508.68 L661.12 508.52 L661.62 508.36 L662.12 508.22 L662.62 508.09 L663.12 507.96 L663.62 507.84 L664.12 507.73 L664.62 507.62 L665.12 507.53 L665.62 507.43 L666.12 507.35 L666.62 507.26 L667.12 507.19 L667.62 507.12 L668.12 507.05 L668.62 506.99 L669.12 506.93 L669.62 506.87 L670.12 506.82 L670.62 506.77 L671.12 506.72 L671.62 506.68 L672.12 506.64 L672.5 510.09 L673 513.13 L673.5 515.82 L674 518.19 L674.5 520.28 L675 522.13 L675.5 523.76 L676 525.2 L676.5 526.47 L677 527.59 L677.5 528.58 L678 529.45 L678.5 530.22 L679 530.9 L679.5 531.5 L680 532.03 L680.5 532.49" fill="none" stroke="#c4c4c4" stroke-width="0.8" stroke-linejoin="round"/>
<path d="M501.5 536 L502 533.06 L502.5 530.47 L503 528.18 L503.4 507 L504.1 425.68 L504.4 427.68 L505.4 509 L505.8 514.5 L507.4 516 L506 507 L506.7 431.22 L507 433.22 L508 509 L508.4 514.5 L510 516 L508.6 507 L509.3 424.32 L509.6 426.32 L510.6 509 L511 514.5 L512.6 516 L513.1 515.27 L513.6 514.59 L514.1 513.95 L514.6 513.35 L515.1 512.78 L515.6 512.25 L516.1 511.75 L516.6 511.28 L517.1 510.84 L517.6 510.42 L518.1 510.03 L518.6 509.67 L519.1 509.32 L519.6 509 L520.1 508.7 L520.6 508.41 L521.1 508.15 L521.6 507.9 L522.1 507.66 L522.6 507.44 L523.1 507.23 L523.4 507 L524.1 426.72 L524.4 428.72 L525.4 509 L525.8 514.5 L527.4 516 L527.9 515.27 L528.4 514.59 L528.9 513.95 L529.4 513.35 L529.9 512.78 L530.4 512.25 L530.9 511.75 L531.4 511.28 L531.9 510.84 L532.4 510.42 L532.9 510.03 L533.4 509.67 L533.9 509.32 L534.4 509 L534.9 508.7 L535.4 508.41 L535.9 508.15 L536.4 507.9 L536.9 507.66 L537.4 507.44 L537.9 507.23 L538.4 507.03 L538.9 506.85 L539.4 506.68 L539.9 506.52 L540.4 506.36 L540.9 506.22 L541.4 506.09 L541.9 505.96 L542.4 505.84 L542.9 505.73 L543.4 505.62 L543.9 505.53 L544.4 505.43 L544.9 505.35 L545.4 505.26 L545.9 505.19 L546.4 505.12 L546.9 505.05 L547.4 504.99 L547.9 504.93 L548.4 504.87 L548.9 504.82 L549.4 504.77 L549.9 504.72 L550.4 504.68 L550.9 504.64 L551.4 504.6 L551.9 504.56 L552.4 504.53 L552.9 504.5 L553.4 504.47 L553.9 504.44 L554.4 504.41 L554.9 504.39 L555.4 504.36 L555.9 504.34 L556.4 504.32 L556.9 504.3 L557.4 504.28 L557.9 504.27 L558.4 504.25 L558.42 504.25 L559.12 429.43 L559.42 431.43 L560.42 509 L560.82 514.5 L562.42 516 L562.92 515.27 L563.42 514.59 L563.92 513.95 L564.42 513.35 L564.92 512.78 L565.42 512.25 L565.92 511.75 L566.42 511.28 L566.92 510.84 L567.42 510.42 L567.92 510.03 L568.42 509.67 L568.92 509.32 L569.42 509 L569.92 508.7 L570.42 508.41 L570.92 508.15 L571.42 507.9 L571.92 507.66 L572.42 507.44 L572.92 507.23 L573.42 507.03 L573.92 506.85 L574.42 506.68 L574.92 506.52 L575.42 506.36 L575.92 506.22 L576.42 506.09 L576.92 505.96 L577.42 505.84 L577.92 505.73 L578.42 505.62 L578.92 505.53 L579.42 505.43 L579.92 505.35 L580.42 505.26 L580.92 505.19 L581.42 505.12 L581.92 505.05 L582.42 504.99 L582.92 504.93 L583.42 504.87 L583.92 504.82 L584.42 504.77 L584.92 504.72 L585.42 504.68 L585.92 504.64 L586.42 504.6 L586.92 504.56 L587.42 504.53 L587.92 504.5 L588.42 504.47 L588.92 504.44 L589.42 504.41 L589.92 504.39 L590.42 504.36 L590.92 504.34 L591.42 504.32 L591.92 504.3 L592.42 504.28 L592.92 504.27 L593.42 504.25 L593.92 504.23 L594.42 504.22 L594.92 504.21 L595.42 504.19 L595.92 504.18 L596.42 504.17 L596.92 504.16 L597.42 504.15 L597.92 504.14 L598.42 504.13 L598.92 504.13 L599.42 504.12 L599.72 504.12 L600.42 424.59 L600.72 426.59 L601.72 509 L602.12 514.5 L603.72 516 L604.22 515.27 L604.72 514.59 L605.22 513.95 L605.72 513.35 L606.22 512.78 L606.72 512.25 L607.22 511.75 L607.72 511.28 L608.22 510.84 L608.72 510.42 L609.22 510.03 L609.72 509.67 L610.22 509.32 L610.72 509 L611.22 508.7 L611.72 508.41 L612.22 508.15 L612.72 507.9 L613.22 507.66 L613.72 507.44 L614.22 507.23 L614.72 507.03 L615.22 506.85 L615.72 506.68 L616.22 506.52 L616.72 506.36 L617.22 506.22 L617.72 506.09 L618.22 505.96 L618.72 505.84 L619.22 505.73 L619.72 505.62 L620.22 505.53 L620.72 505.43 L621.22 505.35 L621.72 505.26 L622.22 505.19 L622.72 505.12 L623.22 505.05 L623.72 504.99 L624.22 504.93 L624.72 504.87 L625.22 504.82 L625.72 504.77 L626.22 504.72 L626.72 504.68 L627.22 504.64 L627.72 504.6 L628.22 504.56 L628.72 504.53 L629.22 504.5 L629.72 504.47 L630.22 504.44 L630.72 504.41 L631.22 504.39 L631.72 504.36 L632.22 504.34 L632.72 504.32 L633.22 504.3 L633.72 504.28 L634.22 504.27 L634.72 504.25 L635.22 504.23 L635.72 504.22 L636.22 504.21 L636.72 504.19 L637.22 504.18 L637.72 504.17 L638.22 504.16 L638.72 504.15 L639.22 504.14 L639.72 504.13 L640.13 504.13 L640.83 427.29 L641.13 429.29 L642.13 509 L642.53 514.5 L644.13 516 L644.63 515.27 L645.13 514.59 L645.63 513.95 L646.13 513.35 L646.63 512.78 L647.13 512.25 L647.63 511.75 L648.13 511.28 L648.63 510.84 L649.13 510.42 L649.63 510.03 L650.13 509.67 L650.63 509.32 L651.13 509 L651.63 508.7 L652.13 508.41 L652.63 508.15 L653.13 507.9 L653.63 507.66 L654.13 507.44 L654.63 507.23 L655.13 507.03 L655.63 506.85 L656.13 506.68 L656.63 506.52 L657.13 506.36 L657.63 506.22 L658.13 506.09 L658.63 505.96 L659.13 505.84 L659.63 505.73 L660.13 505.62 L660.63 505.53 L661.13 505.43 L661.63 505.35 L662.13 505.26 L662.63 505.19 L663.13 505.12 L663.63 505.05 L664.13 504.99 L664.63 504.93 L665.13 504.87 L665.63 504.82 L666.13 504.77 L666.63 504.72 L667.13 504.68 L667.63 504.64 L668.13 504.6 L668.63 504.56 L669.13 504.53 L669.63 504.5 L670.13 504.47 L670.63 504.44 L671.13 504.41 L671.63 504.39 L672.13 504.36 L672.5 508.08 L673 511.36 L673.5 514.26 L674 516.81 L674.5 519.07 L675 521.06 L675.5 522.81 L676 524.36 L676.5 525.73 L677 526.94 L677.5 528 L678 528.94 L678.5 529.77 L679 530.5 L679.5 531.15 L680 531.72 L680.5 532.22" fill="none" stroke="#c4c4c4" stroke-width="0.8" stroke-linejoin="round"/>
<path d="M501.5 536 L502 532.83 L502.5 530.03 L503 527.56 L503.5 525.38 L504 523.45 L504.5 505 L505.2 424.58 L505.5 426.58 L506.5 507 L506.9 512.5 L508.5 514 L507.1 505 L507.8 425.35 L508.1 427.35 L509.1 507 L509.5 512.5 L511.1 514 L509.7 505 L510.4 423.82 L510.7 425.82 L511.7 507 L512.1 512.5 L513.7 514 L514.2 513.27 L514.7 512.59 L515.2 511.95 L515.7 511.35 L516.2 510.78 L516.7 510.25 L517.2 509.75 L517.7 509.28 L518.2 508.84 L518.7 508.42 L518.91 505 L519.61 426.24 L519.91 428.24 L520.91 507 L521.31 512.5 L522.91 514 L523.41 513.27 L523.91 512.59 L524.41 511.95 L524.91 511.35 L525.41 510.78 L525.91 510.25 L526.41 509.75 L526.91 509.28 L527.41 508.84 L527.91 508.42 L528.41 508.03 L528.91 507.67 L529.41 507.32 L529.91 507 L530.41 506.7 L530.91 506.41 L531.41 506.15 L531.91 505.9 L532.41 505.66 L532.91 505.44 L533.41 505.23 L533.91 505.03 L534.41 504.85 L534.91 504.68 L535.41 504.52 L535.91 504.36 L536.41 504.22 L536.91 504.09 L537.41 503.96 L537.91 503.84 L538.41 503.73 L538.91 503.62 L539.41 503.53 L539.91 503.43 L540.41 503.35 L540.91 503.26 L541.41 503.19 L541.91 503.12 L542.41 503.05 L542.91 502.99 L543.41 502.93 L543.91 502.87 L544.41 502.82 L544.91 502.77 L545.41 502.72 L545.91 502.68 L546.41 502.64 L546.91 502.6 L547.41 502.56 L547.91 502.53 L548.41 502.5 L548.91 502.47 L549.41 502.44 L549.91 502.41 L550.41 502.39 L550.91 502.36 L551.41 502.34 L551.91 502.32 L552.41 502.3 L552.91 502.28 L553.41 502.27 L553.91 502.25 L554.41 502.23 L554.83 502.23 L555.53 421.75 L555.83 423.75 L556.83 507 L557.23 512.5 L558.83 514 L559.33 513.27 L559.83 512.59 L560.33 511.95 L560.83 511.35 L561.33 510.78 L561.83 510.25 L562.33 509.75 L562.83 509.28 L563.33 508.84 L563.83 508.42 L564.33 508.03 L564.83 507.67 L565.33 507.32 L565.83 507 L566.33 506.7 L566.83 506.41 L567.33 506.15 L567.83 505.9 L568.33 505.66 L568.83 505.44 L569.33 505.23 L569.83 505.03 L570.33 504.85 L570.83 504.68 L571.33 504.52 L571.83 504.36 L572.33 504.22 L572.83 504.09 L573.33 503.96 L573.83 503.84 L574.33 503.73 L574.83 503.62 L575.33 503.53 L575.83 503.43 L576.33 503.35 L576.83 503.26 L577.33 503.19 L577.83 503.12 L578.33 503.05 L578.83 502.99 L579.33 502.93 L579.83 502.87 L580.33 502.82 L580.83 502.77 L581.33 502.72 L581.83 502.68 L582.33 502.64 L582.83 502.6 L583.33 502.56 L583.83 502.53 L584.33 502.5 L584.83 502.47 L585.33 502.44 L585.83 502.41 L586.33 502.39 L586.83 502.36 L587.33 502.34 L587.83 502.32 L588.33 502.3 L588.83 502.28 L589.33 502.27 L589.83 502.25 L590.33 502.23 L590.83 502.22 L591.33 502.21 L591.83 502.19 L592.33 502.18 L592.83 502.17 L593.33 502.16 L593.83 502.15 L594.33 502.14 L594.83 502.13 L595.23 502.13 L595.93 424.8 L596.23 426.8 L597.23 507 L597.63 512.5 L599.23 514 L599.73 513.27 L600.23 512.59 L600.73 511.95 L601.23 511.35 L601.73 510.78 L602.23 510.25 L602.73 509.75 L603.23 509.28 L603.73 508.84 L604.23 508.42 L604.73 508.03 L605.23 507.67 L605.73 507.32 L606.23 507 L606.73 506.7 L607.23 506.41 L607.73 506.15 L608.23 505.9 L608.73 505.66 L609.23 505.44 L609.73 505.23 L610.23 505.03 L610.73 504.85 L611.23 504.68 L611.73 504.52 L612.23 504.36 L612.73 504.22 L613.23 504.09 L613.73 503.96 L614.23 503.84 L614.73 503.73 L615.23 503.62 L615.73 503.53 L616.23 503.43 L616.73 503.35 L617.23 503.26 L617.73 503.19 L618.23 503.12 L618.73 503.05 L619.23 502.99 L619.73 502.93 L620.23 502.87 L620.73 502.82 L621.23 502.77 L621.73 502.72 L622.23 502.68 L622.73 502.64 L623.23 502.6 L623.73 502.56 L624.23 502.53 L624.73 502.5 L625.23 502.47 L625.73 502.44 L626.23 502.41 L626.73 502.39 L627.23 502.36 L627.73 502.34 L628.23 502.32 L628.73 502.3 L629.23 502.28 L629.73 502.27 L630.23 502.25 L630.73 502.23 L631.23 502.22 L631.73 502.21 L632.23 502.19 L632.73 502.18 L633.23 502.17 L633.73 502.16 L634.23 502.15 L634.73 502.14 L635.23 502.13 L635.64 502.13 L636.34 423.99 L636.64 425.99 L637.64 507 L638.04 512.5 L639.64 514 L640.14 513.27 L640.64 512.59 L641.14 511.95 L641.64 511.35 L642.14 510.78 L642.64 510.25 L643.14 509.75 L643.64 509.28 L644.14 508.84 L644.64 508.42 L645.14 508.03 L645.64 507.67 L646.14 507.32 L646.64 507 L647.14 506.7 L647.64 506.41 L648.14 506.15 L648.64 505.9 L649.14 505.66 L649.64 505.44 L650.14 505.23 L650.64 505.03 L651.14 504.85 L651.64 504.68 L652.14 504.52 L652.64 504.36 L653.14 504.22 L653.64 504.09 L654.14 503.96 L654.64 503.84 L655.14 503.73 L655.64 503.62 L656.14 503.53 L656.64 503.43 L657.14 503.35 L657.64 503.26 L658.14 503.19 L658.64 503.12 L659.14 503.05 L659.64 502.99 L660.14 502.93 L660.64 502.87 L661.14 502.82 L661.64 502.77 L662.14 502.72 L662.64 502.68 L663.14 502.64 L663.64 502.6 L664.14 502.56 L664.64 502.53 L665.14 502.5 L665.64 502.47 L666.14 502.44 L666.64 502.41 L667.14 502.39 L667.64 502.36 L668.14 502.34 L668.57 502.34 L669.27 423.87 L669.57 425.87 L670.57 507 L670.97 512.5 L672.57 514 L672.5 516.59 L673 518.87 L673.5 520.88 L674 522.66 L674.5 524.22 L675 525.61 L675.5 526.83 L676 527.91 L676.5 528.86 L677 529.7 L677.5 530.44 L678 531.09 L678.5 531.67 L679 532.18 L679.5 532.63 L680 533.02 L680.5 533.37" fill="none" stroke="#c4c4c4" stroke-width="0.8" stroke-linejoin="round"/>
<path d="M501.5 536 L502 532.59 L502.5 529.59 L503 526.93 L503.5 524.59 L504 522.52 L504.5 520.7 L505 519.09 L505.5 517.67 L505.6 503 L506.3 428.46 L506.6 430.46 L507.6 505 L508 510.5 L509.6 512 L508.2 503 L508.9 429.29 L509.2 431.29 L510.2 505 L510.6 510.5 L512.2 512 L510.8 503 L511.5 425.53 L511.8 427.53 L512.8 505 L513.2 510.5 L514.8 512 L515.3 511.27 L515.8 510.59 L515.92 503 L516.62 427.05 L516.92 429.05 L517.92 505 L518.32 510.5 L519.92 512 L520.42 511.27 L520.92 510.59 L521.42 509.95 L521.92 509.35 L522.42 508.78 L522.92 508.25 L523.42 507.75 L523.92 507.28 L524.42 506.84 L524.92 506.42 L525.42 506.03 L525.92 505.67 L526.42 505.32 L526.92 505 L527.42 504.7 L527.92 504.41 L528.42 504.15 L528.92 503.9 L529.42 503.66 L529.92 503.44 L530.42 503.23 L530.92 503.03 L531.42 502.85 L531.92 502.68 L532.42 502.52 L532.92 502.36 L533.42 502.22 L533.92 502.09 L534.42 501.96 L534.92 501.84 L535.42 501.73 L535.92 501.62 L536.42 501.53 L536.92 501.43 L537.42 501.35 L537.92 501.26 L538.42 501.19 L538.92 501.12 L539.42 501.05 L539.92 500.99 L540.42 500.93 L540.92 500.87 L541.42 500.82 L541.92 500.77 L542.42 500.72 L542.92 500.68 L543.42 500.64 L543.92 500.6 L544.42 500.56 L544.92 500.53 L545.42 500.5 L545.92 500.47 L546.42 500.44 L546.92 500.41 L547.42 500.39 L547.92 500.36 L548.42 500.34 L548.92 500.32 L549.42 500.3 L549.92 500.28 L550.34 500.28 L551.04 422.22 L551.34 424.22 L552.34 505 L552.74 510.5 L554.34 512 L554.84 511.27 L555.34 510.59 L555.84 509.95 L556.34 509.35 L556.84 508.78 L557.34 508.25 L557.84 507.75 L558.34 507.28 L558.84 506.84 L559.34 506.42 L559.84 506.03 L560.34 505.67 L560.84 505.32 L561.34 505 L561.84 504.7 L562.34 504.41 L562.84 504.15 L563.34 503.9 L563.84 503.66 L564.34 503.44 L564.84 503.23 L565.34 503.03 L565.84 502.85 L566.34 502.68 L566.84 502.52 L567.34 502.36 L567.84 502.22 L568.34 502.09 L568.84 501.96 L569.34 501.84 L569.84 501.73 L570.34 501.62 L570.84 501.53 L571.34 501.43 L571.84 501.35 L572.34 501.26 L572.84 501.19 L573.34 501.12 L573.84 501.05 L574.34 500.99 L574.84 500.93 L575.34 500.87 L575.84 500.82 L576.34 500.77 L576.84 500.72 L577.34 500.68 L577.84 500.64 L578.34 500.6 L578.84 500.56 L579.34 500.53 L579.84 500.5 L580.34 500.47 L580.84 500.44 L581.34 500.41 L581.84 500.39 L582.34 500.36 L582.84 500.34 L583.34 500.32 L583.84 500.3 L584.34 500.28 L584.84 500.27 L585.34 500.25 L585.84 500.23 L586.34 500.22 L586.84 500.21 L587.34 500.19 L587.84 500.18 L588.34 500.17 L588.84 500.16 L589.34 500.15 L589.84 500.14 L590.34 500.13 L590.75 500.13 L591.45 427.35 L591.75 429.35 L592.75 505 L593.15 510.5 L594.75 512 L595.25 511.27 L595.75 510.59 L596.25 509.95 L596.75 509.35 L597.25 508.78 L597.75 508.25 L598.25 507.75 L598.75 507.28 L599.25 506.84 L599.75 506.42 L600.25 506.03 L600.75 505.67 L601.25 505.32 L601.75 505 L602.25 504.7 L602.75 504.41 L603.25 504.15 L603.75 503.9 L604.25 503.66 L604.75 503.44 L605.25 503.23 L605.75 503.03 L606.25 502.85 L606.75 502.68 L607.25 502.52 L607.75 502.36 L608.25 502.22 L608.75 502.09 L609.25 501.96 L609.75 501.84 L610.25 501.73 L610.75 501.62 L611.25 501.53 L611.75 501.43 L612.25 501.35 L612.75 501.26 L613.25 501.19 L613.75 501.12 L614.25 501.05 L614.75 500.99 L615.25 500.93 L615.75 500.87 L616.25 500.82 L616.75 500.77 L617.25 500.72 L617.75 500.68 L618.25 500.64 L618.75 500.6 L619.25 500.56 L619.75 500.53 L620.25 500.5 L620.75 500.47 L621.25 500.44 L621.75 500.41 L622.25 500.39 L622.75 500.36 L623.25 500.34 L623.75 500.32 L624.25 500.3 L624.75 500.28 L625.25 500.27 L625.75 500.25 L626.25 500.23 L626.75 500.22 L627.25 500.21 L627.75 500.19 L628.25 500.18 L628.75 500.17 L629.25 500.16 L629.66 500.16 L630.36 426.91 L630.66 428.91 L631.66 505 L632.06 510.5 L633.66 512 L634.16 511.27 L634.66 510.59 L635.16 509.95 L635.66 509.35 L636.16 508.78 L636.66 508.25 L637.16 507.75 L637.66 507.28 L638.16 506.84 L638.66 506.42 L639.16 506.03 L639.66 505.67 L640.16 505.32 L640.66 505 L641.16 504.7 L641.66 504.41 L642.16 504.15 L642.66 503.9 L643.16 503.66 L643.66 503.44 L644.16 503.23 L644.66 503.03 L645.16 502.85 L645.66 502.68 L646.16 502.52 L646.66 502.36 L647.16 502.22 L647.66 502.09 L648.16 501.96 L648.66 501.84 L649.16 501.73 L649.66 501.62 L650.16 501.53 L650.66 501.43 L651.16 501.35 L651.66 501.26 L652.16 501.19 L652.66 501.12 L653.16 501.05 L653.66 500.99 L654.16 500.93 L654.66 500.87 L655.16 500.82 L655.66 500.77 L656.16 500.72 L656.66 500.68 L657.16 500.64 L657.66 500.6 L658.16 500.56 L658.66 500.53 L659.16 500.5 L659.66 500.47 L660.16 500.44 L660.66 500.41 L661.16 500.39 L661.66 500.36 L662.16 500.34 L662.66 500.32 L663.16 500.3 L663.66 500.28 L664.16 500.27 L664.66 500.25 L665.16 500.23 L665.66 500.22 L666.16 500.21 L666.66 500.19 L667.07 500.19 L667.77 429.68 L668.07 431.68 L669.07 505 L669.47 510.5 L671.07 512 L671.57 511.27 L672.07 510.59 L672.5 513.58 L673 516.21 L673.5 518.54 L674 520.59 L674.5 522.4 L675 524 L675.5 525.41 L676 526.65 L676.5 527.75 L677 528.72 L677.5 529.58 L678 530.33 L678.5 531 L679 531.58 L679.5 532.1 L680 532.56 L680.5 532.97" fill="none" stroke="#c4c4c4" stroke-width="0.8" stroke-linejoin="round"/>
<path d="M501.5 536 L502 532.47 L502.5 529.36 L503 526.62 L503.5 524.2 L504 522.06 L504.5 520.17 L505 518.51 L505.5 517.04 L506 515.74 L506.5 514.6 L506.7 502 L507.4 426.21 L507.7 428.21 L508.7 504 L509.1 509.5 L510.7 511 L509.3 502 L510 427.02 L510.3 429.02 L511.3 504 L511.7 509.5 L513.3 511 L511.9 502 L512.6 429.28 L512.9 431.28 L513.9 504 L514.3 509.5 L515.9 511 L512.92 502 L513.62 424.11 L513.92 426.11 L514.92 504 L515.32 509.5 L516.92 511 L517.42 510.27 L517.92 509.59 L518.42 508.95 L518.92 508.35 L519.42 507.78 L519.92 507.25 L520.42 506.75 L520.92 506.28 L521.42 505.84 L521.92 505.42 L522.42 505.03 L522.92 504.67 L523.42 504.32 L523.92 504 L524.42 503.7 L524.92 503.41 L525.42 503.15 L525.92 502.9 L526.42 502.66 L526.92 502.44 L527.42 502.23 L527.92 502.03 L528.42 501.85 L528.92 501.68 L529.42 501.52 L529.92 501.36 L530.42 501.22 L530.92 501.09 L531.42 500.96 L531.92 500.84 L532.42 500.73 L532.92 500.62 L533.42 500.53 L533.92 500.43 L534.42 500.35 L534.92 500.26 L535.42 500.19 L535.92 500.12 L536.42 500.05 L536.92 499.99 L537.42 499.93 L537.92 499.87 L538.42 499.82 L538.92 499.77 L539.42 499.72 L539.92 499.68 L540.42 499.64 L540.92 499.6 L541.42 499.56 L541.92 499.53 L542.42 499.5 L542.86 499.5 L543.56 427.63 L543.86 429.63 L544.86 504 L545.26 509.5 L546.86 511 L547.36 510.27 L547.86 509.59 L548.36 508.95 L548.86 508.35 L549.36 507.78 L549.86 507.25 L550.36 506.75 L550.86 506.28 L551.36 505.84 L551.86 505.42 L552.36 505.03 L552.86 504.67 L553.36 504.32 L553.86 504 L554.36 503.7 L554.86 503.41 L555.36 503.15 L555.86 502.9 L556.36 502.66 L556.86 502.44 L557.36 502.23 L557.86 502.03 L558.36 501.85 L558.86 501.68 L559.36 501.52 L559.86 501.36 L560.36 501.22 L560.86 501.09 L561.36 500.96 L561.86 500.84 L562.36 500.73 L562.86 500.62 L563.36 500.53 L563.86 500.43 L564.36 500.35 L564.86 500.26 L565.36 500.19 L565.86 500.12 L566.36 500.05 L566.86 499.99 L567.36 499.93 L567.86 499.87 L568.36 499.82 L568.86 499.77 L569.36 499.72 L569.86 499.68 L570.36 499.64 L570.86 499.6 L571.36 499.56 L571.86 499.53 L572.36 499.5 L572.86 499.47 L573.36 499.44 L573.86 499.41 L574.36 499.39 L574.86 499.36 L575.36 499.34 L575.86 499.32 L576.36 499.3 L576.86 499.28 L577.36 499.27 L577.86 499.25 L578.36 499.23 L578.86 499.22 L579.36 499.21 L579.86 499.19 L580.36 499.18 L580.86 499.17 L581.36 499.16 L581.86 499.15 L582.36 499.14 L582.86 499.13 L583.36 499.13 L583.86 499.12 L584.36 499.11 L584.86 499.1 L585.36 499.1 L585.86 499.09 L586.26 499.09 L586.96 425.28 L587.26 427.28 L588.26 504 L588.66 509.5 L590.26 511 L590.76 510.27 L591.26 509.59 L591.76 508.95 L592.26 508.35 L592.76 507.78 L593.26 507.25 L593.76 506.75 L594.26 506.28 L594.76 505.84 L595.26 505.42 L595.76 505.03 L596.26 504.67 L596.76 504.32 L597.26 504 L597.76 503.7 L598.26 503.41 L598.76 503.15 L599.26 502.9 L599.76 502.66 L600.26 502.44 L600.76 502.23 L601.26 502.03 L601.76 501.85 L602.26 501.68 L602.76 501.52 L603.26 501.36 L603.76 501.22 L604.26 501.09 L604.76 500.96 L605.26 500.84 L605.76 500.73 L606.26 500.62 L606.76 500.53 L607.26 500.43 L607.76 500.35 L608.26 500.26 L608.76 500.19 L609.26 500.12 L609.76 500.05 L610.26 499.99 L610.76 499.93 L611.26 499.87 L611.76 499.82 L612.26 499.77 L612.76 499.72 L613.26 499.68 L613.76 499.64 L614.26 499.6 L614.76 499.56 L615.26 499.53 L615.76 499.5 L616.26 499.47 L616.76 499.44 L617.26 499.41 L617.76 499.39 L618.26 499.36 L618.76 499.34 L619.26 499.32 L619.76 499.3 L620.26 499.28 L620.76 499.27 L621.26 499.25 L621.76 499.23 L622.26 499.22 L622.76 499.21 L623.26 499.19 L623.76 499.18 L624.26 499.17 L624.76 499.16 L625.26 499.15 L625.76 499.14 L626.26 499.13 L626.66 499.13 L627.36 424.87 L627.66 426.87 L628.66 504 L629.06 509.5 L630.66 511 L631.16 510.27 L631.66 509.59 L632.16 508.95 L632.66 508.35 L633.16 507.78 L633.66 507.25 L634.16 506.75 L634.66 506.28 L635.16 505.84 L635.66 505.42 L636.16 505.03 L636.66 504.67 L637.16 504.32 L637.66 504 L638.16 503.7 L638.66 503.41 L639.16 503.15 L639.66 502.9 L640.16 502.66 L640.66 502.44 L641.16 502.23 L641.66 502.03 L642.16 501.85 L642.66 501.68 L643.16 501.52 L643.66 501.36 L644.16 501.22 L644.66 501.09 L645.16 500.96 L645.66 500.84 L646.16 500.73 L646.66 500.62 L647.16 500.53 L647.66 500.43 L648.16 500.35 L648.66 500.26 L649.16 500.19 L649.66 500.12 L650.16 500.05 L650.66 499.99 L651.16 499.93 L651.66 499.87 L652.16 499.82 L652.66 499.77 L653.16 499.72 L653.66 499.68 L654.16 499.64 L654.66 499.6 L655.16 499.56 L655.66 499.53 L656.16 499.5 L656.66 499.47 L657.16 499.44 L657.66 499.41 L658.16 499.39 L658.66 499.36 L659.16 499.34 L659.66 499.32 L660.16 499.3 L660.66 499.28 L661.16 499.27 L661.66 499.25 L662.16 499.23 L662.66 499.22 L663.16 499.21 L663.66 499.19 L664.16 499.18 L664.66 499.17 L664.97 499.17 L665.67 424.4 L665.97 426.4 L666.97 504 L667.37 509.5 L668.97 511 L669.47 510.27 L669.97 509.59 L670.47 508.95 L670.97 508.35 L671.47 507.78 L671.97 507.25 L672.47 506.75 L672.5 510.19 L673 513.22 L673.5 515.9 L674 518.26 L674.5 520.34 L675 522.18 L675.5 523.81 L676 525.24 L676.5 526.5 L677 527.62 L677.5 528.6 L678 529.47 L678.5 530.24 L679 530.92 L679.5 531.51 L680 532.04 L680.5 532.51" fill="none" stroke="#c4c4c4" stroke-width="0.8" stroke-linejoin="round"/>
<path d="M501.5 536 L502.9 534.75 L504.3 533.76 L505.7 532.98 L507.1 532.68 L508.5 531.42 L509.9 531.18 L511.3 531.04 L512.7 531.37 L514.1 530.23 L515.5 530.52 L516.9 530.52 L518.3 530.82 L519.7 530.67 L521.1 530.67 L522.5 529.92 L523.9 530.04 L525.3 529.94 L526.7 530.55 L528.1 530.62 L529.5 529.64 L530.9 529.66 L532.3 529.71 L533.7 529.71 L535.1 530 L536.5 530.12 L537.9 529.73 L539.3 529.42 L540.7 529.91 L542.1 529.85 L543.5 530.09 L544.9 530.55 L546.3 530.23 L547.7 530.02 L549.1 530.14 L550.5 530.21 L551.9 529.47 L553.3 530.48 L554.7 530.34 L556.1 530.45 L557.5 530.36 L558.9 529.87 L560.3 529.88 L561.7 529.52 L563.1 530.16 L564.5 529.47 L565.9 529.48 L567.3 529.65 L568.7 529.59 L570.1 529.81 L571.5 529.46 L572.9 529.4 L574.3 529.58 L575.7 529.52 L577.1 529.84 L578.5 529.43 L579.9 530.45 L581.3 530.14 L582.7 529.58 L584.1 529.7 L585.5 529.82 L586.9 529.84 L588.3 529.55 L589.7 530.42 L591.1 530.59 L592.5 529.96 L593.9 529.98 L595.3 529.5 L596.7 529.52 L598.1 529.81 L599.5 529.72 L600.9 530.39 L602.3 529.59 L603.7 529.43 L605.1 530.54 L606.5 530.03 L607.9 529.58 L609.3 530.05 L610.7 529.43 L612.1 530.03 L613.5 530.57 L614.9 530.44 L616.3 530.24 L617.7 529.71 L619.1 529.84 L620.5 529.6 L621.9 530.33 L623.3 530.04 L624.7 530.33 L626.1 529.8 L627.5 529.67 L628.9 530.37 L630.3 530.58 L631.7 530.42 L633.1 530.37 L634.5 530.38 L635.9 530.29 L637.3 529.67 L638.7 530.02 L640.1 529.83 L641.5 529.43 L642.9 529.43 L644.3 529.74 L645.7 529.71 L647.1 530.23 L648.5 530.55 L649.9 529.94 L651.3 530.52 L652.7 530.59 L654.1 530.55 L655.5 529.84 L656.9 529.66 L658.3 529.67 L659.7 529.64 L661.1 529.65 L662.5 530.15 L663.9 530.48 L665.3 530.41 L666.7 529.98 L668.1 530.18 L669.5 530.36 L670.9 529.5 L672.3 530 L673.4 531.77 L674.8 533.02 L676.2 533.9 L677.6 534.52 L679 534.96 L680.4 535.27" fill="none" stroke="#c4c4c4" stroke-width="0.8" stroke-linejoin="round"/>
<path d="M501.5 536 L502.9 534.13 L504.3 532.64 L505.7 531.47 L507.1 530.73 L508.5 530.29 L509.9 529.56 L511.3 529.06 L512.7 528.37 L514.1 527.72 L515.5 528.22 L516.9 527.49 L518.3 527.91 L519.7 528 L521.1 527.22 L522.5 527.15 L523.9 527.75 L525.3 527.44 L526.7 526.74 L528.1 526.66 L529.5 526.67 L530.9 527.55 L532.3 527.42 L533.7 526.62 L535.1 527.43 L536.5 527.6 L537.9 527.21 L539.3 526.84 L540.7 527.07 L542.1 526.57 L543.5 526.43 L544.9 527.57 L546.3 527.18 L547.7 527.04 L549.1 527.52 L550.5 526.92 L551.9 527.45 L553.3 527.39 L554.7 526.65 L556.1 526.7 L557.5 526.75 L558.9 526.69 L560.3 527.1 L561.7 526.71 L563.1 526.9 L564.5 526.56 L565.9 527.49 L567.3 526.82 L568.7 526.95 L570.1 527.1 L571.5 527.49 L572.9 526.9 L574.3 527.5 L575.7 527 L577.1 527.04 L578.5 527.03 L579.9 526.42 L581.3 526.93 L582.7 526.62 L584.1 526.4 L585.5 527.36 L586.9 526.61 L588.3 526.97 L589.7 527.27 L591.1 527.07 L592.5 526.79 L593.9 527.02 L595.3 527.07 L596.7 527.34 L598.1 526.53 L599.5 527.07 L600.9 526.7 L602.3 526.73 L603.7 527.33 L605.1 527.01 L606.5 527.07 L607.9 527.31 L609.3 527.49 L610.7 526.93 L612.1 527.14 L613.5 527.01 L614.9 527.01 L616.3 527.23 L617.7 526.94 L619.1 527.04 L620.5 526.97 L621.9 527.53 L623.3 527.24 L624.7 527.45 L626.1 527.53 L627.5 526.71 L628.9 527.07 L630.3 527.53 L631.7 527.41 L633.1 526.56 L634.5 526.55 L635.9 526.93 L637.3 526.49 L638.7 526.69 L640.1 526.49 L641.5 527.2 L642.9 527.34 L644.3 527.48 L645.7 526.59 L647.1 527.26 L648.5 527.19 L649.9 526.57 L651.3 527.46 L652.7 527.56 L654.1 526.66 L655.5 527.54 L656.9 526.88 L658.3 526.98 L659.7 527.59 L661.1 527.4 L662.5 526.59 L663.9 526.92 L665.3 527.02 L666.7 526.81 L668.1 526.63 L669.5 526.78 L670.9 527.27 L672.3 527 L673.4 529.66 L674.8 531.53 L676.2 532.85 L677.6 533.78 L679 534.44 L680.4 534.9" fill="none" stroke="#c4c4c4" stroke-width="0.8" stroke-linejoin="round"/>
<path d="M501.5 536 L502.9 533.5 L504.3 531.53 L505.7 529.96 L507.1 528.14 L508.5 527.8 L509.9 526.89 L511.3 525.77 L512.7 525.65 L514.1 525.62 L515.5 525.18 L516.9 524.4 L518.3 525.31 L519.7 524.92 L521.1 525.02 L522.5 523.89 L523.9 524.01 L525.3 523.67 L526.7 524.51 L528.1 523.87 L529.5 523.67 L530.9 524 L532.3 524.56 L533.7 524.44 L535.1 523.75 L536.5 523.61 L537.9 524.53 L539.3 524.11 L540.7 524.26 L542.1 523.52 L543.5 523.48 L544.9 524.23 L546.3 523.92 L547.7 523.49 L549.1 524.53 L550.5 524.16 L551.9 524.36 L553.3 523.5 L554.7 524.43 L556.1 523.48 L557.5 524.44 L558.9 523.95 L560.3 523.81 L561.7 524.06 L563.1 524.51 L564.5 523.72 L565.9 523.56 L567.3 524.03 L568.7 523.69 L570.1 523.53 L571.5 523.59 L572.9 523.46 L574.3 523.64 L575.7 523.77 L577.1 523.77 L578.5 524.31 L579.9 523.75 L581.3 524 L582.7 523.61 L584.1 523.82 L585.5 523.42 L586.9 523.7 L588.3 523.42 L589.7 524.28 L591.1 524.06 L592.5 523.63 L593.9 523.97 L595.3 524.52 L596.7 523.53 L598.1 524.38 L599.5 523.92 L600.9 523.99 L602.3 524.4 L603.7 523.87 L605.1 524.01 L606.5 524.23 L607.9 524.58 L609.3 523.81 L610.7 524.4 L612.1 524.25 L613.5 524.16 L614.9 523.89 L616.3 523.82 L617.7 523.47 L619.1 523.56 L620.5 523.48 L621.9 524.29 L623.3 523.71 L624.7 523.6 L626.1 523.5 L627.5 524.41 L628.9 524.44 L630.3 524.2 L631.7 523.74 L633.1 523.69 L634.5 523.75 L635.9 523.95 L637.3 523.59 L638.7 523.93 L640.1 523.72 L641.5 524.55 L642.9 524.57 L644.3 524.06 L645.7 523.69 L647.1 524.56 L648.5 523.77 L649.9 523.83 L651.3 523.4 L652.7 523.86 L654.1 523.97 L655.5 524 L656.9 523.64 L658.3 524.01 L659.7 523.41 L661.1 523.72 L662.5 523.51 L663.9 523.88 L665.3 523.45 L666.7 523.43 L668.1 523.77 L669.5 523.68 L670.9 524.1 L672.3 524 L673.4 527.54 L674.8 530.04 L676.2 531.8 L677.6 533.04 L679 533.91 L680.4 534.53" fill="none" stroke="#c4c4c4" stroke-width="0.8" stroke-linejoin="round"/>
<path d="M501.5 536 L502.9 532.88 L504.3 530.41 L505.7 528.45 L507.1 526.93 L508.5 525.97 L509.9 524.89 L511.3 524.19 L512.7 523.77 L514.1 522.7 L515.5 522.25 L516.9 522.73 L518.3 521.49 L519.7 521.99 L521.1 521.74 L522.5 520.91 L523.9 521.76 L525.3 521.75 L526.7 521.38 L528.1 521.46 L529.5 521.52 L530.9 520.68 L532.3 521.12 L533.7 521.08 L535.1 521.46 L536.5 521.41 L537.9 521.43 L539.3 521.13 L540.7 521.49 L542.1 521.24 L543.5 521.25 L544.9 520.69 L546.3 520.45 L547.7 520.57 L549.1 520.84 L550.5 520.53 L551.9 521.41 L553.3 521.07 L554.7 521.16 L556.1 521.15 L557.5 521.22 L558.9 520.99 L560.3 520.4 L561.7 521.36 L563.1 521.3 L564.5 521 L565.9 521.04 L567.3 521.19 L568.7 520.48 L570.1 521.28 L571.5 520.7 L572.9 520.49 L574.3 520.72 L575.7 521.28 L577.1 520.65 L578.5 521.29 L579.9 521.57 L581.3 520.99 L582.7 520.86 L584.1 520.97 L585.5 521.22 L586.9 521.32 L588.3 521.14 L589.7 521.17 L591.1 520.49 L592.5 520.58 L593.9 520.7 L595.3 521.29 L596.7 520.77 L598.1 521.08 L599.5 520.41 L600.9 520.47 L602.3 520.72 L603.7 521.21 L605.1 521.23 L606.5 521.21 L607.9 520.75 L609.3 521.02 L610.7 520.96 L612.1 520.96 L613.5 520.54 L614.9 521.47 L616.3 520.64 L617.7 521.57 L619.1 521.52 L620.5 520.42 L621.9 520.95 L623.3 521.38 L624.7 521.56 L626.1 520.94 L627.5 520.72 L628.9 520.65 L630.3 521.53 L631.7 520.65 L633.1 521.1 L634.5 520.57 L635.9 521.03 L637.3 521.54 L638.7 520.56 L640.1 521.38 L641.5 521.01 L642.9 521.46 L644.3 521.24 L645.7 520.68 L647.1 521.48 L648.5 520.98 L649.9 520.43 L651.3 520.4 L652.7 520.99 L654.1 520.94 L655.5 520.76 L656.9 520.57 L658.3 520.81 L659.7 520.78 L661.1 521.41 L662.5 520.4 L663.9 521.3 L665.3 521.41 L666.7 520.54 L668.1 521.51 L669.5 521.26 L670.9 521.48 L672.3 521 L673.4 525.43 L674.8 528.55 L676.2 530.75 L677.6 532.3 L679 533.39 L680.4 534.16" fill="none" stroke="#c4c4c4" stroke-width="0.8" stroke-linejoin="round"/>
<path d="M501.5 536 L502.9 532.25 L504.3 529.29 L505.7 526.94 L507.1 524.83 L508.5 523.45 L509.9 522.31 L511.3 522.11 L512.7 520.89 L514.1 520.04 L515.5 519.66 L516.9 519.11 L518.3 518.55 L519.7 518.39 L521.1 519.09 L522.5 518.29 L523.9 518.95 L525.3 518.04 L526.7 517.99 L528.1 518.23 L529.5 517.8 L530.9 517.98 L532.3 518.65 L533.7 518.55 L535.1 518.44 L536.5 518.21 L537.9 518.54 L539.3 518.56 L540.7 518.09 L542.1 518.28 L543.5 517.48 L544.9 518.29 L546.3 517.95 L547.7 518.31 L549.1 518.18 L550.5 517.75 L551.9 517.46 L553.3 518.52 L554.7 517.56 L556.1 517.97 L557.5 517.81 L558.9 517.76 L560.3 518.29 L561.7 518.57 L563.1 517.71 L564.5 518.19 L565.9 517.76 L567.3 518.07 L568.7 517.87 L570.1 517.6 L571.5 517.59 L572.9 517.65 L574.3 518.49 L575.7 518 L577.1 517.66 L578.5 518.49 L579.9 518.6 L581.3 517.94 L582.7 517.57 L584.1 517.63 L585.5 517.51 L586.9 517.81 L588.3 517.51 L589.7 517.69 L591.1 517.71 L592.5 518.08 L593.9 518.46 L595.3 518.3 L596.7 517.9 L598.1 517.9 L599.5 518.03 L600.9 517.85 L602.3 517.81 L603.7 517.47 L605.1 517.73 L606.5 518.56 L607.9 517.55 L609.3 518 L610.7 518.16 L612.1 518.44 L613.5 517.66 L614.9 517.73 L616.3 517.7 L617.7 517.88 L619.1 517.94 L620.5 518.54 L621.9 518.42 L623.3 518.45 L624.7 517.43 L626.1 517.44 L627.5 518.25 L628.9 518.47 L630.3 517.97 L631.7 518.1 L633.1 517.4 L634.5 517.87 L635.9 518.51 L637.3 518.39 L638.7 518.43 L640.1 518.57 L641.5 517.7 L642.9 517.53 L644.3 517.59 L645.7 518.03 L647.1 518.22 L648.5 518.53 L649.9 518.27 L651.3 518.18 L652.7 518.32 L654.1 517.95 L655.5 518.06 L656.9 517.45 L658.3 518.34 L659.7 517.68 L661.1 518.5 L662.5 518.17 L663.9 517.76 L665.3 517.55 L666.7 517.7 L668.1 518.16 L669.5 518.24 L670.9 517.53 L672.3 518 L673.4 523.32 L674.8 527.06 L676.2 529.7 L677.6 531.56 L679 532.87 L680.4 533.8" fill="none" stroke="#c4c4c4" stroke-width="0.8" stroke-linejoin="round"/>
<path d="M501.5 536 L502.9 531.63 L504.3 528.17 L505.7 525.43 L507.1 522.74 L508.5 521.57 L509.9 520.28 L511.3 518.97 L512.7 517.92 L514.1 517.69 L515.5 516.45 L516.9 516.37 L518.3 516.23 L519.7 516.56 L521.1 515.97 L522.5 516.09 L523.9 515.47 L525.3 515.08 L526.7 515.01 L528.1 515.8 L529.5 515.44 L530.9 514.93 L532.3 514.55 L533.7 515.1 L535.1 515.29 L536.5 514.97 L537.9 514.76 L539.3 515.24 L540.7 515.54 L542.1 514.7 L543.5 514.46 L544.9 514.82 L546.3 514.92 L547.7 515.23 L549.1 514.65 L550.5 515.36 L551.9 515.29 L553.3 515.01 L554.7 514.65 L556.1 515.57 L557.5 514.78 L558.9 515.39 L560.3 514.68 L561.7 514.67 L563.1 515.31 L564.5 514.75 L565.9 515.54 L567.3 515 L568.7 514.63 L570.1 514.67 L571.5 514.9 L572.9 515.2 L574.3 515.54 L575.7 514.58 L577.1 514.87 L578.5 514.66 L579.9 515.57 L581.3 514.57 L582.7 514.46 L584.1 514.47 L585.5 514.87 L586.9 515.48 L588.3 515.46 L589.7 515.28 L591.1 515.6 L592.5 515.52 L593.9 514.8 L595.3 514.62 L596.7 515.52 L598.1 515.3 L599.5 514.44 L600.9 515.2 L602.3 514.85 L603.7 514.85 L605.1 514.8 L606.5 514.6 L607.9 514.4 L609.3 514.74 L610.7 514.82 L612.1 515.55 L613.5 514.55 L614.9 515.56 L616.3 514.65 L617.7 514.83 L619.1 515.39 L620.5 515.39 L621.9 514.92 L623.3 514.46 L624.7 514.97 L626.1 514.85 L627.5 515.5 L628.9 514.63 L630.3 514.84 L631.7 515.48 L633.1 514.44 L634.5 514.89 L635.9 515.37 L637.3 515.32 L638.7 514.45 L640.1 514.44 L641.5 514.48 L642.9 515.5 L644.3 514.71 L645.7 515.3 L647.1 515.48 L648.5 514.81 L649.9 514.73 L651.3 515.55 L652.7 515.14 L654.1 514.71 L655.5 515.26 L656.9 514.78 L658.3 514.73 L659.7 514.4 L661.1 515.31 L662.5 515.5 L663.9 515.16 L665.3 515.53 L666.7 514.43 L668.1 514.68 L669.5 514.97 L670.9 515.55 L672.3 515 L673.4 521.2 L674.8 525.57 L676.2 528.65 L677.6 530.82 L679 532.35 L680.4 533.43" fill="none" stroke="#c4c4c4" stroke-width="0.8" stroke-linejoin="round"/>
<path d="M501.5 536 L502.9 531.01 L504.3 527.05 L505.7 523.92 L507.1 521.98 L508.5 519.34 L509.9 517.62 L511.3 516.6 L512.7 515.7 L514.1 515.45 L515.5 513.95 L516.9 514.21 L518.3 513.75 L519.7 513.54 L521.1 513.24 L522.5 512.85 L523.9 512.37 L525.3 512.24 L526.7 512.19 L528.1 512.62 L529.5 511.72 L530.9 511.82 L532.3 512.44 L533.7 511.81 L535.1 511.57 L536.5 511.51 L537.9 512.12 L539.3 511.83 L540.7 512.61 L542.1 512.49 L543.5 512.61 L544.9 511.74 L546.3 511.51 L547.7 511.53 L549.1 512.01 L550.5 512.26 L551.9 511.94 L553.3 511.69 L554.7 511.9 L556.1 512.15 L557.5 512.21 L558.9 512.3 L560.3 512.42 L561.7 512.2 L563.1 511.55 L564.5 512.41 L565.9 511.75 L567.3 512.08 L568.7 511.85 L570.1 512.29 L571.5 511.64 L572.9 511.7 L574.3 511.69 L575.7 511.58 L577.1 512.46 L578.5 512.09 L579.9 511.79 L581.3 511.88 L582.7 512.59 L584.1 512.01 L585.5 511.68 L586.9 512.37 L588.3 512.18 L589.7 512.59 L591.1 511.52 L592.5 511.97 L593.9 512.38 L595.3 512.41 L596.7 512.5 L598.1 511.45 L599.5 511.75 L600.9 511.54 L602.3 511.63 L603.7 512.57 L605.1 512.1 L606.5 512.52 L607.9 511.85 L609.3 512.44 L610.7 511.94 L612.1 511.71 L613.5 512.33 L614.9 512.53 L616.3 511.53 L617.7 512.12 L619.1 512.14 L620.5 511.66 L621.9 511.84 L623.3 511.57 L624.7 511.64 L626.1 511.71 L627.5 512.12 L628.9 512.18 L630.3 511.64 L631.7 511.41 L633.1 511.79 L634.5 512.21 L635.9 511.62 L637.3 511.77 L638.7 511.64 L640.1 512.35 L641.5 512.06 L642.9 511.48 L644.3 511.52 L645.7 511.87 L647.1 512.06 L648.5 512.17 L649.9 511.51 L651.3 511.6 L652.7 512.23 L654.1 511.89 L655.5 511.74 L656.9 511.77 L658.3 512.54 L659.7 511.77 L661.1 512.08 L662.5 511.83 L663.9 511.9 L665.3 512.44 L666.7 512.6 L668.1 511.84 L669.5 511.64 L670.9 512.27 L672.3 512 L673.4 519.09 L674.8 524.08 L676.2 527.6 L677.6 530.08 L679 531.83 L680.4 533.06" fill="none" stroke="#c4c4c4" stroke-width="0.8" stroke-linejoin="round"/>
<path d="M501.5 536 L502.9 530.38 L504.3 525.93 L505.7 522.41 L507.1 519.26 L508.5 516.81 L509.9 516.14 L511.3 514.18 L512.7 513.56 L514.1 512.19 L515.5 512.08 L516.9 511.03 L518.3 510.24 L519.7 509.72 L521.1 510.09 L522.5 509.98 L523.9 510.14 L525.3 509.02 L526.7 509.55 L528.1 509.17 L529.5 509.26 L530.9 508.78 L532.3 508.9 L533.7 509.15 L535.1 509.61 L536.5 508.61 L537.9 509.05 L539.3 509.42 L540.7 509.6 L542.1 508.67 L543.5 508.58 L544.9 509.55 L546.3 509.59 L547.7 508.99 L549.1 508.47 L550.5 509.52 L551.9 508.87 L553.3 509.49 L554.7 509.15 L556.1 509.39 L557.5 508.59 L558.9 509.34 L560.3 508.67 L561.7 508.89 L563.1 509.42 L564.5 509.4 L565.9 508.62 L567.3 508.66 L568.7 508.88 L570.1 509.02 L571.5 508.86 L572.9 508.55 L574.3 508.7 L575.7 509.27 L577.1 509.48 L578.5 508.45 L579.9 509.07 L581.3 509.31 L582.7 508.45 L584.1 509.41 L585.5 508.54 L586.9 509.12 L588.3 509.06 L589.7 509.15 L591.1 508.77 L592.5 508.9 L593.9 509.1 L595.3 508.91 L596.7 509.19 L598.1 508.94 L599.5 508.93 L600.9 508.43 L602.3 509.14 L603.7 508.99 L605.1 508.68 L606.5 509.32 L607.9 509.34 L609.3 508.95 L610.7 508.62 L612.1 508.97 L613.5 508.53 L614.9 508.55 L616.3 508.92 L617.7 508.51 L619.1 508.93 L620.5 509.01 L621.9 508.45 L623.3 509.16 L624.7 508.5 L626.1 509.28 L627.5 509.33 L628.9 509.01 L630.3 508.47 L631.7 509 L633.1 508.85 L634.5 509.54 L635.9 508.56 L637.3 509.43 L638.7 509.6 L640.1 509.28 L641.5 509.38 L642.9 508.63 L644.3 509.58 L645.7 508.99 L647.1 509.55 L648.5 509.5 L649.9 508.6 L651.3 509.35 L652.7 509.52 L654.1 508.48 L655.5 508.82 L656.9 509.31 L658.3 508.59 L659.7 509.48 L661.1 508.73 L662.5 509.38 L663.9 508.57 L665.3 509 L666.7 509.5 L668.1 508.65 L669.5 508.72 L670.9 509.01 L672.3 509 L673.4 516.97 L674.8 522.59 L676.2 526.55 L677.6 529.34 L679 531.31 L680.4 532.69" fill="none" stroke="#c4c4c4" stroke-width="0.8" stroke-linejoin="round"/>
<path d="M501.5 536 L502.9 529.76 L504.3 524.81 L505.7 520.9 L507.1 517.58 L508.5 514.79 L509.9 513.02 L511.3 511.45 L512.7 511.16 L514.1 509.89 L515.5 509.38 L516.9 507.91 L518.3 508.17 L519.7 506.98 L521.1 507.18 L522.5 507.07 L523.9 506.55 L525.3 507.02 L526.7 506.52 L528.1 506.45 L529.5 506.74 L530.9 505.75 L532.3 506.77 L533.7 506.3 L535.1 505.98 L536.5 506.45 L537.9 505.79 L539.3 506.64 L540.7 506.14 L542.1 505.87 L543.5 506.34 L544.9 505.95 L546.3 505.63 L547.7 506.31 L549.1 505.47 L550.5 506.39 L551.9 505.71 L553.3 506.17 L554.7 506.59 L556.1 506.11 L557.5 506.2 L558.9 505.78 L560.3 505.4 L561.7 505.44 L563.1 505.58 L564.5 506.14 L565.9 505.92 L567.3 506.02 L568.7 506.48 L570.1 505.56 L571.5 505.67 L572.9 506.18 L574.3 505.43 L575.7 505.4 L577.1 505.83 L578.5 505.53 L579.9 505.83 L581.3 505.67 L582.7 506.1 L584.1 506.11 L585.5 505.65 L586.9 506.15 L588.3 505.97 L589.7 505.56 L591.1 506.52 L592.5 505.69 L593.9 505.58 L595.3 505.51 L596.7 506.17 L598.1 506.45 L599.5 506.34 L600.9 505.88 L602.3 505.72 L603.7 505.41 L605.1 506.17 L606.5 506.07 L607.9 505.82 L609.3 506.17 L610.7 505.93 L612.1 506.52 L613.5 506.28 L614.9 505.7 L616.3 506.48 L617.7 505.45 L619.1 506.04 L620.5 505.89 L621.9 505.69 L623.3 505.47 L624.7 506.33 L626.1 505.41 L627.5 506.06 L628.9 506.53 L630.3 505.57 L631.7 505.64 L633.1 506.13 L634.5 506.01 L635.9 506.17 L637.3 506.38 L638.7 505.61 L640.1 505.77 L641.5 505.76 L642.9 505.46 L644.3 506.47 L645.7 506.34 L647.1 506.26 L648.5 505.41 L649.9 506.41 L651.3 506.29 L652.7 505.96 L654.1 506.29 L655.5 505.94 L656.9 505.67 L658.3 505.53 L659.7 505.68 L661.1 505.45 L662.5 505.8 L663.9 506.3 L665.3 506.23 L666.7 506.41 L668.1 506.25 L669.5 505.72 L670.9 506.06 L672.3 506 L673.4 514.86 L674.8 521.1 L676.2 525.5 L677.6 528.6 L679 530.79 L680.4 532.33" fill="none" stroke="#c4c4c4" stroke-width="0.8" stroke-linejoin="round"/>
<path d="M487.5 533.3 L500.4 533.3 L503.9 529.7 L514 527 L524.9 525.2 L535 522.8 L544.4 520.1 L545.9 519 L546.3 419 L546.7 419 L547.2 528 L548.2 528.2 L551.8 525.2 L556 526.5 L560.8 528.2 L566 530.5 L572.8 532.7 L584.8 533.3 L600 531.5 L614.7 529.7 L635 527.5 L656.6 525.2 L658 524 L659.6 523.7 L668.6 524.3 L673.1 526.7 L677 529 L680.5 531.2" fill="none" stroke="#a01e55" stroke-width="1.5" stroke-linejoin="round"/>
<line x1="488" y1="520.4" x2="544" y2="520.4" stroke="#000" stroke-width="1.2" stroke-dasharray="3 2"/>
<text x="481.4" y="516.4" font-size="13.3" fill="#000" text-anchor="end">-39.5</text>
<text x="476.3" y="530.1" font-size="13.3" fill="#000" text-anchor="end">mV</text>
<text x="480.9" y="546" font-size="13.3" fill="#000" text-anchor="end">-49.5</text>
<text x="476.3" y="559.8" font-size="13.3" fill="#000" text-anchor="end">mV</text>
<line x1="501.5" y1="548.3" x2="524.9" y2="548.3" stroke="#000" stroke-width="1.5"/>
<text x="501.5" y="564.3" font-size="16" fill="#000" text-anchor="start">100 ms</text>
<line x1="45.2" y1="626.23" x2="195.4" y2="626.23" stroke="#8a8a8a" stroke-width="0.95"/>
<line x1="45.2" y1="623.26" x2="195.4" y2="623.26" stroke="#8a8a8a" stroke-width="0.95"/>
<line x1="45.2" y1="620.29" x2="195.4" y2="620.29" stroke="#8a8a8a" stroke-width="0.95"/>
<line x1="45.2" y1="617.32" x2="195.4" y2="617.32" stroke="#8a8a8a" stroke-width="0.95"/>
<line x1="45.2" y1="614.35" x2="195.4" y2="614.35" stroke="#8a8a8a" stroke-width="0.95"/>
<line x1="45.2" y1="611.38" x2="195.4" y2="611.38" stroke="#8a8a8a" stroke-width="0.95"/>
<line x1="45.2" y1="608.41" x2="195.4" y2="608.41" stroke="#8a8a8a" stroke-width="0.95"/>
<line x1="45.2" y1="605.44" x2="195.4" y2="605.44" stroke="#8a8a8a" stroke-width="0.95"/>
<line x1="45.2" y1="602.47" x2="195.4" y2="602.47" stroke="#8a8a8a" stroke-width="0.95"/>
<line x1="45.2" y1="599.5" x2="195.4" y2="599.5" stroke="#8a8a8a" stroke-width="0.95"/>
<line x1="45.2" y1="596.53" x2="195.4" y2="596.53" stroke="#8a8a8a" stroke-width="0.95"/>
<line x1="45.2" y1="593.56" x2="195.4" y2="593.56" stroke="#8a8a8a" stroke-width="0.95"/>
<line x1="45.2" y1="590.59" x2="195.4" y2="590.59" stroke="#8a8a8a" stroke-width="0.95"/>
<line x1="45.2" y1="587.62" x2="195.4" y2="587.62" stroke="#8a8a8a" stroke-width="0.95"/>
<line x1="45.2" y1="584.65" x2="195.4" y2="584.65" stroke="#8a8a8a" stroke-width="0.95"/>
<line x1="45.2" y1="581.68" x2="195.4" y2="581.68" stroke="#8a8a8a" stroke-width="0.95"/>
<line x1="45.2" y1="578.71" x2="195.4" y2="578.71" stroke="#8a8a8a" stroke-width="0.95"/>
<line x1="45.2" y1="575.74" x2="195.4" y2="575.74" stroke="#8a8a8a" stroke-width="0.95"/>
<line x1="45.2" y1="572.77" x2="195.4" y2="572.77" stroke="#8a8a8a" stroke-width="0.95"/>
<line x1="45.2" y1="572.77" x2="45.2" y2="629.2" stroke="#888" stroke-width="1"/>
<line x1="195.4" y1="572.77" x2="195.4" y2="629.2" stroke="#888" stroke-width="1"/>
<path d="M34.7 629.2 L45.2 629.2 L45.2 614.35 L195.4 614.35 L195.4 629.2 L205 629.2" fill="none" stroke="#333" stroke-width="1.2" stroke-linejoin="round"/>
<text x="152.5" y="569" font-size="13.3" fill="#000" text-anchor="start">190 pA</text>
<text x="40.3" y="618.3" font-size="13.3" fill="#000" text-anchor="end">50 pA</text>
<text x="17" y="642.3" font-size="13.3" fill="#000" text-anchor="start">0 pA</text>
<line x1="273" y1="625.52" x2="425" y2="625.52" stroke="#8a8a8a" stroke-width="0.95"/>
<line x1="273" y1="622.65" x2="425" y2="622.65" stroke="#8a8a8a" stroke-width="0.95"/>
<line x1="273" y1="619.77" x2="425" y2="619.77" stroke="#8a8a8a" stroke-width="0.95"/>
<line x1="273" y1="616.9" x2="425" y2="616.9" stroke="#8a8a8a" stroke-width="0.95"/>
<line x1="273" y1="614.02" x2="425" y2="614.02" stroke="#8a8a8a" stroke-width="0.95"/>
<line x1="273" y1="611.14" x2="425" y2="611.14" stroke="#8a8a8a" stroke-width="0.95"/>
<line x1="273" y1="608.27" x2="425" y2="608.27" stroke="#8a8a8a" stroke-width="0.95"/>
<line x1="273" y1="605.39" x2="425" y2="605.39" stroke="#8a8a8a" stroke-width="0.95"/>
<line x1="273" y1="602.52" x2="425" y2="602.52" stroke="#8a8a8a" stroke-width="0.95"/>
<line x1="273" y1="599.64" x2="425" y2="599.64" stroke="#8a8a8a" stroke-width="0.95"/>
<line x1="273" y1="596.76" x2="425" y2="596.76" stroke="#8a8a8a" stroke-width="0.95"/>
<line x1="273" y1="593.89" x2="425" y2="593.89" stroke="#8a8a8a" stroke-width="0.95"/>
<line x1="273" y1="591.01" x2="425" y2="591.01" stroke="#8a8a8a" stroke-width="0.95"/>
<line x1="273" y1="588.14" x2="425" y2="588.14" stroke="#8a8a8a" stroke-width="0.95"/>
<line x1="273" y1="585.26" x2="425" y2="585.26" stroke="#8a8a8a" stroke-width="0.95"/>
<line x1="273" y1="582.38" x2="425" y2="582.38" stroke="#8a8a8a" stroke-width="0.95"/>
<line x1="273" y1="579.51" x2="425" y2="579.51" stroke="#8a8a8a" stroke-width="0.95"/>
<line x1="273" y1="576.63" x2="425" y2="576.63" stroke="#8a8a8a" stroke-width="0.95"/>
<line x1="273" y1="573.76" x2="425" y2="573.76" stroke="#8a8a8a" stroke-width="0.95"/>
<line x1="273" y1="573.76" x2="273" y2="628.4" stroke="#888" stroke-width="1"/>
<line x1="425" y1="573.76" x2="425" y2="628.4" stroke="#888" stroke-width="1"/>
<path d="M264 628.4 L273 628.4 L273 599.64 L425 599.64 L425 628.4 L435 628.4" fill="none" stroke="#333" stroke-width="1.2" stroke-linejoin="round"/>
<text x="420.9" y="570.9" font-size="13.3" fill="#000" text-anchor="end">190 pA</text>
<text x="268.3" y="605" font-size="13.3" fill="#000" text-anchor="end">100 pA</text>
<text x="241.7" y="644" font-size="13.3" fill="#000" text-anchor="start">0 pA</text>
<line x1="501.9" y1="626.37" x2="672.7" y2="626.37" stroke="#8a8a8a" stroke-width="0.95"/>
<line x1="501.9" y1="623.45" x2="672.7" y2="623.45" stroke="#8a8a8a" stroke-width="0.95"/>
<line x1="501.9" y1="620.52" x2="672.7" y2="620.52" stroke="#8a8a8a" stroke-width="0.95"/>
<line x1="501.9" y1="617.6" x2="672.7" y2="617.6" stroke="#8a8a8a" stroke-width="0.95"/>
<line x1="501.9" y1="614.67" x2="672.7" y2="614.67" stroke="#8a8a8a" stroke-width="0.95"/>
<line x1="501.9" y1="611.74" x2="672.7" y2="611.74" stroke="#8a8a8a" stroke-width="0.95"/>
<line x1="501.9" y1="608.82" x2="672.7" y2="608.82" stroke="#8a8a8a" stroke-width="0.95"/>
<line x1="501.9" y1="605.89" x2="672.7" y2="605.89" stroke="#8a8a8a" stroke-width="0.95"/>
<line x1="501.9" y1="602.97" x2="672.7" y2="602.97" stroke="#8a8a8a" stroke-width="0.95"/>
<line x1="501.9" y1="600.04" x2="672.7" y2="600.04" stroke="#8a8a8a" stroke-width="0.95"/>
<line x1="501.9" y1="597.11" x2="672.7" y2="597.11" stroke="#8a8a8a" stroke-width="0.95"/>
<line x1="501.9" y1="594.19" x2="672.7" y2="594.19" stroke="#8a8a8a" stroke-width="0.95"/>
<line x1="501.9" y1="591.26" x2="672.7" y2="591.26" stroke="#8a8a8a" stroke-width="0.95"/>
<line x1="501.9" y1="588.34" x2="672.7" y2="588.34" stroke="#8a8a8a" stroke-width="0.95"/>
<line x1="501.9" y1="585.41" x2="672.7" y2="585.41" stroke="#8a8a8a" stroke-width="0.95"/>
<line x1="501.9" y1="582.48" x2="672.7" y2="582.48" stroke="#8a8a8a" stroke-width="0.95"/>
<line x1="501.9" y1="579.56" x2="672.7" y2="579.56" stroke="#8a8a8a" stroke-width="0.95"/>
<line x1="501.9" y1="576.63" x2="672.7" y2="576.63" stroke="#8a8a8a" stroke-width="0.95"/>
<line x1="501.9" y1="573.71" x2="672.7" y2="573.71" stroke="#8a8a8a" stroke-width="0.95"/>
<line x1="501.9" y1="573.71" x2="501.9" y2="629.3" stroke="#888" stroke-width="1"/>
<line x1="672.7" y1="573.71" x2="672.7" y2="629.3" stroke="#888" stroke-width="1"/>
<path d="M487.7 629.3 L501.9 629.3 L501.9 623.45 L672.7 623.45 L672.7 629.3 L681 629.3" fill="none" stroke="#a01e55" stroke-width="1.2" stroke-linejoin="round"/>
<text x="672" y="564.3" font-size="13.3" fill="#000" text-anchor="end">190 pA</text>
<text x="497.8" y="621" font-size="13.3" fill="#000" text-anchor="end">20 pA</text>
<text x="472.8" y="640.5" font-size="13.3" fill="#000" text-anchor="start">0 pA</text>
<text x="2.1" y="659.7" font-size="16" font-weight="bold" fill="#000" text-anchor="start">H</text>
<rect x="63.3" y="728.62" width="17.4" height="35.58" fill="#fff" stroke="#000" stroke-width="2"/>
<line x1="72" y1="728.62" x2="72" y2="723.75" stroke="#000" stroke-width="1.5"/>
<line x1="69" y1="723.75" x2="75" y2="723.75" stroke="#000" stroke-width="1.5"/>
<circle cx="72" cy="700.96" r="2.85" fill="#000" stroke="none" stroke-width="0"/>
<circle cx="72" cy="709.57" r="2.85" fill="#000" stroke="none" stroke-width="0"/>
<circle cx="72" cy="717.77" r="2.85" fill="#000" stroke="none" stroke-width="0"/>
<circle cx="79.2" cy="720.83" r="2.85" fill="#000" stroke="none" stroke-width="0"/>
<circle cx="64.9" cy="726.39" r="2.85" fill="#000" stroke="none" stroke-width="0"/>
<circle cx="72" cy="726.39" r="2.85" fill="#000" stroke="none" stroke-width="0"/>
<circle cx="68.9" cy="740.15" r="2.85" fill="#000" stroke="none" stroke-width="0"/>
<circle cx="75.6" cy="740.15" r="2.85" fill="#000" stroke="none" stroke-width="0"/>
<circle cx="68.9" cy="746.13" r="2.85" fill="#000" stroke="none" stroke-width="0"/>
<circle cx="75.6" cy="751" r="2.85" fill="#000" stroke="none" stroke-width="0"/>
<rect x="94.5" y="748.63" width="18.5" height="15.57" fill="#a0a1a5" stroke="#000" stroke-width="2"/>
<circle cx="104" cy="731.12" r="2.85" fill="#000" stroke="none" stroke-width="0"/>
<circle cx="102.8" cy="735.84" r="2.85" fill="#000" stroke="none" stroke-width="0"/>
<circle cx="104" cy="740.57" r="2.85" fill="#000" stroke="none" stroke-width="0"/>
<circle cx="99.3" cy="744.05" r="2.85" fill="#000" stroke="none" stroke-width="0"/>
<circle cx="106.3" cy="746.27" r="2.85" fill="#000" stroke="none" stroke-width="0"/>
<circle cx="95.8" cy="751" r="2.85" fill="#000" stroke="none" stroke-width="0"/>
<circle cx="101.6" cy="752.11" r="2.85" fill="#000" stroke="none" stroke-width="0"/>
<circle cx="108.6" cy="753.36" r="2.85" fill="#000" stroke="none" stroke-width="0"/>
<circle cx="112.1" cy="755.72" r="2.85" fill="#000" stroke="none" stroke-width="0"/>
<circle cx="98.1" cy="756.83" r="2.85" fill="#000" stroke="none" stroke-width="0"/>
<circle cx="104" cy="757.95" r="2.85" fill="#000" stroke="none" stroke-width="0"/>
<rect x="126.7" y="731.12" width="18.3" height="33.08" fill="#a01e55" stroke="#000" stroke-width="2"/>
<circle cx="135.5" cy="699.57" r="2.85" fill="#000" stroke="none" stroke-width="0"/>
<circle cx="132" cy="705.4" r="2.85" fill="#000" stroke="none" stroke-width="0"/>
<circle cx="139.5" cy="708.88" r="2.85" fill="#000" stroke="none" stroke-width="0"/>
<circle cx="133.2" cy="714.86" r="2.85" fill="#000" stroke="none" stroke-width="0"/>
<circle cx="140.2" cy="719.44" r="2.85" fill="#000" stroke="none" stroke-width="0"/>
<circle cx="129.7" cy="719.44" r="2.85" fill="#000" stroke="none" stroke-width="0"/>
<circle cx="136.2" cy="722.92" r="2.85" fill="#000" stroke="none" stroke-width="0"/>
<circle cx="129.7" cy="728.75" r="2.85" fill="#000" stroke="none" stroke-width="0"/>
<circle cx="140.2" cy="730.01" r="2.85" fill="#000" stroke="none" stroke-width="0"/>
<circle cx="134.3" cy="732.23" r="2.85" fill="#000" stroke="none" stroke-width="0"/>
<circle cx="130.8" cy="738.07" r="2.85" fill="#000" stroke="none" stroke-width="0"/>
<circle cx="140.2" cy="738.07" r="2.85" fill="#000" stroke="none" stroke-width="0"/>
<circle cx="127.3" cy="745.16" r="2.85" fill="#000" stroke="none" stroke-width="0"/>
<circle cx="134.3" cy="747.52" r="2.85" fill="#000" stroke="none" stroke-width="0"/>
<circle cx="130.8" cy="749.74" r="2.85" fill="#000" stroke="none" stroke-width="0"/>
<circle cx="137.9" cy="749.74" r="2.85" fill="#000" stroke="none" stroke-width="0"/>
<circle cx="141.4" cy="754.47" r="2.85" fill="#000" stroke="none" stroke-width="0"/>
<circle cx="134.3" cy="756.83" r="2.85" fill="#000" stroke="none" stroke-width="0"/>
<circle cx="129.7" cy="746.27" r="2.85" fill="#000" stroke="none" stroke-width="0"/>
<circle cx="137.9" cy="744.05" r="2.85" fill="#000" stroke="none" stroke-width="0"/>
<line x1="55.7" y1="694.7" x2="55.7" y2="764.2" stroke="#000" stroke-width="2.3"/>
<line x1="51.7" y1="757.25" x2="55.7" y2="757.25" stroke="#000" stroke-width="2"/>
<text x="49.5" y="762.95" font-size="16" fill="#000" text-anchor="end">5</text>
<line x1="51.7" y1="729.45" x2="55.7" y2="729.45" stroke="#000" stroke-width="2"/>
<text x="49.5" y="735.15" font-size="16" fill="#000" text-anchor="end">25</text>
<line x1="51.7" y1="701.65" x2="55.7" y2="701.65" stroke="#000" stroke-width="2"/>
<text x="49.5" y="707.35" font-size="16" fill="#000" text-anchor="end">45</text>
<line x1="54.7" y1="764.2" x2="153" y2="764.2" stroke="#000" stroke-width="2"/>
<line x1="72" y1="764.2" x2="72" y2="768.2" stroke="#000" stroke-width="2"/>
<line x1="103.75" y1="764.2" x2="103.75" y2="768.2" stroke="#000" stroke-width="2"/>
<line x1="135.85" y1="764.2" x2="135.85" y2="768.2" stroke="#000" stroke-width="2"/>
<text x="84" y="778.2" font-size="16.5" fill="#000" text-anchor="end" transform="rotate(-35 84 778.2)">UNINJURED</text>
<text x="115.75" y="778.2" font-size="16.5" fill="#000" text-anchor="end" transform="rotate(-35 115.75 778.2)">CONTROL</text>
<text x="145.55" y="779.7" font-size="16.5" fill="#000" text-anchor="end" transform="rotate(-35 145.55 779.7)">bPAC</text>
<text x="15.9" y="728.3" font-size="16" fill="#000" text-anchor="middle" transform="rotate(-90 15.9 728.3)">Firing rate (Hz)</text>
<path d="M74.3 680.9 L74.3 676.9 L136.7 676.9 L136.7 680.9" fill="none" stroke="#000" stroke-width="1.3"/>
<text x="105.5" y="672.7" font-size="13.5" fill="#000" text-anchor="middle">n.s</text>
<path d="M74.3 692.6 L74.3 688.6 L103.3 688.6 L103.3 692.6" fill="none" stroke="#000" stroke-width="1.3"/>
<text x="88.8" y="692.4" font-size="18.5" fill="#000" text-anchor="middle" stroke="#000" stroke-width="0.35">***</text>
<path d="M107 692.6 L107 688.6 L136.7 688.6 L136.7 692.6" fill="none" stroke="#000" stroke-width="1.3"/>
<text x="121.85" y="692.4" font-size="18.5" fill="#000" text-anchor="middle" stroke="#000" stroke-width="0.35">***</text>
<line x1="51.7" y1="694.3" x2="55.7" y2="694.3" stroke="#000" stroke-width="2"/>
<text x="182.3" y="659.9" font-size="16" font-weight="bold" fill="#000" text-anchor="start">I</text>
<rect x="242" y="694.2" width="18.7" height="48.38" fill="#fff" stroke="#000" stroke-width="2"/>
<circle cx="251.2" cy="730.31" r="2.85" fill="#000" stroke="none" stroke-width="0"/>
<circle cx="250.8" cy="738.1" r="2.85" fill="#000" stroke="none" stroke-width="0"/>
<circle cx="242.4" cy="742.58" r="2.85" fill="#000" stroke="none" stroke-width="0"/>
<circle cx="247.3" cy="744.94" r="2.85" fill="#000" stroke="none" stroke-width="0"/>
<circle cx="259.1" cy="742.58" r="2.85" fill="#000" stroke="none" stroke-width="0"/>
<circle cx="255.2" cy="741.4" r="2.85" fill="#000" stroke="none" stroke-width="0"/>
<circle cx="249.3" cy="748.01" r="2.85" fill="#000" stroke="none" stroke-width="0"/>
<circle cx="252.2" cy="750.96" r="2.85" fill="#000" stroke="none" stroke-width="0"/>
<circle cx="254.2" cy="752.85" r="2.85" fill="#000" stroke="none" stroke-width="0"/>
<circle cx="246.3" cy="743.17" r="2.85" fill="#000" stroke="none" stroke-width="0"/>
<circle cx="244.3" cy="744.35" r="2.85" fill="#000" stroke="none" stroke-width="0"/>
<rect x="274.3" y="694.2" width="16.9" height="42.95" fill="#a0a1a5" stroke="#000" stroke-width="2"/>
<circle cx="282.8" cy="727.24" r="2.85" fill="#000" stroke="none" stroke-width="0"/>
<circle cx="280.8" cy="732.2" r="2.85" fill="#000" stroke="none" stroke-width="0"/>
<circle cx="277.8" cy="736.21" r="2.85" fill="#000" stroke="none" stroke-width="0"/>
<circle cx="284.7" cy="737.15" r="2.85" fill="#000" stroke="none" stroke-width="0"/>
<circle cx="273.9" cy="742.11" r="2.85" fill="#000" stroke="none" stroke-width="0"/>
<circle cx="278.8" cy="743.05" r="2.85" fill="#000" stroke="none" stroke-width="0"/>
<circle cx="287.7" cy="741.16" r="2.85" fill="#000" stroke="none" stroke-width="0"/>
<circle cx="282.8" cy="740.1" r="2.85" fill="#000" stroke="none" stroke-width="0"/>
<circle cx="286.7" cy="744.94" r="2.85" fill="#000" stroke="none" stroke-width="0"/>
<circle cx="290.7" cy="746.95" r="2.85" fill="#000" stroke="none" stroke-width="0"/>
<circle cx="280.8" cy="738.45" r="2.85" fill="#000" stroke="none" stroke-width="0"/>
<rect x="305.5" y="694.2" width="17.3" height="48.85" fill="#a01e55" stroke="#000" stroke-width="2"/>
<circle cx="312.3" cy="738.33" r="2.85" fill="#000" stroke="none" stroke-width="0"/>
<circle cx="309.4" cy="741.16" r="2.85" fill="#000" stroke="none" stroke-width="0"/>
<circle cx="306.4" cy="745.65" r="2.85" fill="#000" stroke="none" stroke-width="0"/>
<circle cx="311.4" cy="744.94" r="2.85" fill="#000" stroke="none" stroke-width="0"/>
<circle cx="316.3" cy="743.05" r="2.85" fill="#000" stroke="none" stroke-width="0"/>
<circle cx="319.2" cy="745.65" r="2.85" fill="#000" stroke="none" stroke-width="0"/>
<circle cx="322.2" cy="748.01" r="2.85" fill="#000" stroke="none" stroke-width="0"/>
<circle cx="314.3" cy="744.94" r="2.85" fill="#000" stroke="none" stroke-width="0"/>
<line x1="235.1" y1="694.2" x2="235.1" y2="765" stroke="#000" stroke-width="2.3"/>
<line x1="231.1" y1="694.2" x2="235.1" y2="694.2" stroke="#000" stroke-width="2"/>
<text x="228.9" y="699.9" font-size="16" fill="#000" text-anchor="end">0</text>
<line x1="231.1" y1="717.8" x2="235.1" y2="717.8" stroke="#000" stroke-width="2"/>
<text x="228.9" y="723.5" font-size="16" fill="#000" text-anchor="end">-20</text>
<line x1="231.1" y1="741.4" x2="235.1" y2="741.4" stroke="#000" stroke-width="2"/>
<text x="228.9" y="747.1" font-size="16" fill="#000" text-anchor="end">-40</text>
<line x1="231.1" y1="765" x2="235.1" y2="765" stroke="#000" stroke-width="2"/>
<text x="228.9" y="770.7" font-size="16" fill="#000" text-anchor="end">-60</text>
<line x1="234.1" y1="694.2" x2="331.1" y2="694.2" stroke="#000" stroke-width="2"/>
<text x="266.85" y="776" font-size="16.5" fill="#000" text-anchor="end" transform="rotate(-35 266.85 776)">UNINJURED</text>
<text x="298.25" y="776" font-size="16.5" fill="#000" text-anchor="end" transform="rotate(-35 298.25 776)">CONTROL</text>
<text x="327.35" y="777.5" font-size="16.5" fill="#000" text-anchor="end" transform="rotate(-35 327.35 777.5)">bPAC</text>
<text x="192.2" y="728.8" font-size="16" fill="#000" text-anchor="middle" transform="rotate(-90 192.2 728.8)">F. Threshold (mV)</text>
<path d="M250.5 680.4 L250.5 675.5 L312.6 675.5 L312.6 680.4" fill="none" stroke="#000" stroke-width="1.3"/>
<text x="281.55" y="671.4" font-size="13.5" fill="#000" text-anchor="middle">n.s</text>
<path d="M249.9 690.6 L249.9 686.6 L279.7 686.6 L279.7 690.6" fill="none" stroke="#000" stroke-width="1.3"/>
<text x="264.8" y="690.4" font-size="18.5" fill="#000" text-anchor="middle" stroke="#000" stroke-width="0.35">*</text>
<path d="M283.2 690.6 L283.2 686.6 L312.6 686.6 L312.6 690.6" fill="none" stroke="#000" stroke-width="1.3"/>
<text x="297.9" y="690.4" font-size="18.5" fill="#000" text-anchor="middle" stroke="#000" stroke-width="0.35">**</text>
<text x="361.9" y="659.5" font-size="16" font-weight="bold" fill="#000" text-anchor="start">J</text>
<rect x="421.2" y="731.46" width="18.4" height="33.44" fill="#fff" stroke="#000" stroke-width="2"/>
<line x1="430.4" y1="731.46" x2="430.4" y2="727.06" stroke="#000" stroke-width="1.5"/>
<line x1="427.4" y1="727.06" x2="433.4" y2="727.06" stroke="#000" stroke-width="1.5"/>
<circle cx="427.8" cy="708.4" r="2.85" fill="#000" stroke="none" stroke-width="0"/>
<circle cx="433.3" cy="707.79" r="2.85" fill="#000" stroke="none" stroke-width="0"/>
<circle cx="430.6" cy="722" r="2.85" fill="#000" stroke="none" stroke-width="0"/>
<circle cx="430.6" cy="728.38" r="2.85" fill="#000" stroke="none" stroke-width="0"/>
<circle cx="422.4" cy="733.88" r="2.85" fill="#000" stroke="none" stroke-width="0"/>
<circle cx="438.8" cy="733" r="2.85" fill="#000" stroke="none" stroke-width="0"/>
<circle cx="427.8" cy="738.5" r="2.85" fill="#000" stroke="none" stroke-width="0"/>
<circle cx="433.3" cy="734.76" r="2.85" fill="#000" stroke="none" stroke-width="0"/>
<circle cx="425.1" cy="742.99" r="2.85" fill="#000" stroke="none" stroke-width="0"/>
<circle cx="430.6" cy="745.8" r="2.85" fill="#000" stroke="none" stroke-width="0"/>
<circle cx="436.1" cy="745.41" r="2.85" fill="#000" stroke="none" stroke-width="0"/>
<circle cx="426.9" cy="731.2" r="2.85" fill="#000" stroke="none" stroke-width="0"/>
<circle cx="432.4" cy="731.2" r="2.85" fill="#000" stroke="none" stroke-width="0"/>
<rect x="452.6" y="720.2" width="18.4" height="44.7" fill="#a0a1a5" stroke="#000" stroke-width="2"/>
<circle cx="458.9" cy="699.21" r="2.85" fill="#000" stroke="none" stroke-width="0"/>
<circle cx="464.9" cy="699.21" r="2.85" fill="#000" stroke="none" stroke-width="0"/>
<circle cx="454.3" cy="707.79" r="2.85" fill="#000" stroke="none" stroke-width="0"/>
<circle cx="462.5" cy="703.78" r="2.85" fill="#000" stroke="none" stroke-width="0"/>
<circle cx="469.8" cy="707.79" r="2.85" fill="#000" stroke="none" stroke-width="0"/>
<circle cx="458.9" cy="707.79" r="2.85" fill="#000" stroke="none" stroke-width="0"/>
<circle cx="467.1" cy="712.89" r="2.85" fill="#000" stroke="none" stroke-width="0"/>
<circle cx="460.7" cy="713.86" r="2.85" fill="#000" stroke="none" stroke-width="0"/>
<circle cx="457" cy="716.59" r="2.85" fill="#000" stroke="none" stroke-width="0"/>
<circle cx="464.3" cy="717.38" r="2.85" fill="#000" stroke="none" stroke-width="0"/>
<circle cx="467.1" cy="722" r="2.85" fill="#000" stroke="none" stroke-width="0"/>
<circle cx="458.9" cy="725.7" r="2.85" fill="#000" stroke="none" stroke-width="0"/>
<circle cx="462.5" cy="730.32" r="2.85" fill="#000" stroke="none" stroke-width="0"/>
<circle cx="460.7" cy="743.91" r="2.85" fill="#000" stroke="none" stroke-width="0"/>
<circle cx="463.4" cy="747.61" r="2.85" fill="#000" stroke="none" stroke-width="0"/>
<circle cx="461.6" cy="761.29" r="2.85" fill="#000" stroke="none" stroke-width="0"/>
<rect x="484.5" y="754.52" width="18.1" height="10.38" fill="#a01e55" stroke="#000" stroke-width="2"/>
<circle cx="493.5" cy="738.81" r="2.85" fill="#000" stroke="none" stroke-width="0"/>
<circle cx="491.7" cy="744.88" r="2.85" fill="#000" stroke="none" stroke-width="0"/>
<circle cx="496.3" cy="747.61" r="2.85" fill="#000" stroke="none" stroke-width="0"/>
<circle cx="487.2" cy="754.91" r="2.85" fill="#000" stroke="none" stroke-width="0"/>
<circle cx="493.5" cy="753.46" r="2.85" fill="#000" stroke="none" stroke-width="0"/>
<circle cx="498.1" cy="754.91" r="2.85" fill="#000" stroke="none" stroke-width="0"/>
<circle cx="489.9" cy="759.49" r="2.85" fill="#000" stroke="none" stroke-width="0"/>
<circle cx="500.8" cy="759.49" r="2.85" fill="#000" stroke="none" stroke-width="0"/>
<circle cx="496.3" cy="758.52" r="2.85" fill="#000" stroke="none" stroke-width="0"/>
<line x1="412.9" y1="695.4" x2="412.9" y2="764.9" stroke="#000" stroke-width="2.3"/>
<line x1="408.9" y1="764.9" x2="412.9" y2="764.9" stroke="#000" stroke-width="2"/>
<text x="406.7" y="770.6" font-size="16" fill="#000" text-anchor="end">0</text>
<line x1="408.9" y1="742.9" x2="412.9" y2="742.9" stroke="#000" stroke-width="2"/>
<text x="406.7" y="748.6" font-size="16" fill="#000" text-anchor="end">50</text>
<line x1="408.9" y1="720.9" x2="412.9" y2="720.9" stroke="#000" stroke-width="2"/>
<text x="406.7" y="726.6" font-size="16" fill="#000" text-anchor="end">100</text>
<line x1="408.9" y1="698.9" x2="412.9" y2="698.9" stroke="#000" stroke-width="2"/>
<text x="406.7" y="704.6" font-size="16" fill="#000" text-anchor="end">150</text>
<line x1="411.9" y1="764.9" x2="510.9" y2="764.9" stroke="#000" stroke-width="2"/>
<line x1="430.4" y1="764.9" x2="430.4" y2="768.9" stroke="#000" stroke-width="2"/>
<line x1="461.8" y1="764.9" x2="461.8" y2="768.9" stroke="#000" stroke-width="2"/>
<line x1="493.55" y1="764.9" x2="493.55" y2="768.9" stroke="#000" stroke-width="2"/>
<text x="442.4" y="777.9" font-size="16.5" fill="#000" text-anchor="end" transform="rotate(-35 442.4 777.9)">UNINJURED</text>
<text x="473.8" y="777.9" font-size="16.5" fill="#000" text-anchor="end" transform="rotate(-35 473.8 777.9)">CONTROL</text>
<text x="503.25" y="779.4" font-size="16.5" fill="#000" text-anchor="end" transform="rotate(-35 503.25 779.4)">bPAC</text>
<text x="371" y="737.2" font-size="16" fill="#000" text-anchor="middle" transform="rotate(-90 371 737.2)">T. current (pA)</text>
<path d="M429.7 681.5 L429.7 677.3 L492.6 677.3 L492.6 681.5" fill="none" stroke="#000" stroke-width="1.3"/>
<text x="461.15" y="677.9" font-size="18.5" fill="#000" text-anchor="middle" stroke="#000" stroke-width="0.35">***</text>
<path d="M429.7 692.8 L429.7 688.3 L459.2 688.3 L459.2 692.8" fill="none" stroke="#000" stroke-width="1.3"/>
<text x="444.45" y="692.1" font-size="18.5" fill="#000" text-anchor="middle" stroke="#000" stroke-width="0.35">*</text>
<path d="M462.9 692.8 L462.9 688.3 L492.6 688.3 L492.6 692.8" fill="none" stroke="#000" stroke-width="1.3"/>
<text x="477.75" y="692.1" font-size="18.5" fill="#000" text-anchor="middle" stroke="#000" stroke-width="0.35">****</text>
<text x="536.9" y="659.9" font-size="16" font-weight="bold" fill="#000" text-anchor="start">K</text>
<rect x="592.9" y="749.91" width="19" height="14.99" fill="#fff" stroke="#000" stroke-width="2"/>
<circle cx="602.3" cy="740.34" r="2.85" fill="#000" stroke="none" stroke-width="0"/>
<circle cx="599.2" cy="745.75" r="2.85" fill="#000" stroke="none" stroke-width="0"/>
<circle cx="605.6" cy="746.58" r="2.85" fill="#000" stroke="none" stroke-width="0"/>
<circle cx="593.8" cy="751.16" r="2.85" fill="#000" stroke="none" stroke-width="0"/>
<circle cx="601.1" cy="750.33" r="2.85" fill="#000" stroke="none" stroke-width="0"/>
<circle cx="609.3" cy="750.33" r="2.85" fill="#000" stroke="none" stroke-width="0"/>
<circle cx="597.4" cy="753.25" r="2.85" fill="#000" stroke="none" stroke-width="0"/>
<circle cx="604.7" cy="754.91" r="2.85" fill="#000" stroke="none" stroke-width="0"/>
<circle cx="611.1" cy="757.41" r="2.85" fill="#000" stroke="none" stroke-width="0"/>
<circle cx="608.4" cy="754.91" r="2.85" fill="#000" stroke="none" stroke-width="0"/>
<rect x="624.9" y="739.43" width="18.4" height="25.47" fill="#a0a1a5" stroke="#000" stroke-width="2"/>
<line x1="634.1" y1="739.43" x2="634.1" y2="733.02" stroke="#000" stroke-width="1.5"/>
<line x1="631.1" y1="733.02" x2="637.1" y2="733.02" stroke="#000" stroke-width="1.5"/>
<circle cx="633" cy="698.3" r="2.85" fill="#000" stroke="none" stroke-width="0"/>
<circle cx="635.7" cy="695.8" r="2.85" fill="#000" stroke="none" stroke-width="0"/>
<circle cx="634.5" cy="712.87" r="2.85" fill="#000" stroke="none" stroke-width="0"/>
<circle cx="633.9" cy="723.03" r="2.85" fill="#000" stroke="none" stroke-width="0"/>
<circle cx="633.9" cy="732.6" r="2.85" fill="#000" stroke="none" stroke-width="0"/>
<circle cx="627.5" cy="737.59" r="2.85" fill="#000" stroke="none" stroke-width="0"/>
<circle cx="631.2" cy="739.92" r="2.85" fill="#000" stroke="none" stroke-width="0"/>
<circle cx="638.5" cy="739.92" r="2.85" fill="#000" stroke="none" stroke-width="0"/>
<circle cx="630.3" cy="748.5" r="2.85" fill="#000" stroke="none" stroke-width="0"/>
<circle cx="633" cy="749.42" r="2.85" fill="#000" stroke="none" stroke-width="0"/>
<circle cx="634.8" cy="751.16" r="2.85" fill="#000" stroke="none" stroke-width="0"/>
<circle cx="624.8" cy="753.99" r="2.85" fill="#000" stroke="none" stroke-width="0"/>
<circle cx="628.4" cy="753.99" r="2.85" fill="#000" stroke="none" stroke-width="0"/>
<circle cx="640.3" cy="754.91" r="2.85" fill="#000" stroke="none" stroke-width="0"/>
<circle cx="642.1" cy="758.49" r="2.85" fill="#000" stroke="none" stroke-width="0"/>
<circle cx="636.6" cy="755.74" r="2.85" fill="#000" stroke="none" stroke-width="0"/>
<rect x="656.8" y="751.16" width="18.1" height="13.74" fill="#a01e55" stroke="#000" stroke-width="2"/>
<circle cx="665.8" cy="740.34" r="2.85" fill="#000" stroke="none" stroke-width="0"/>
<circle cx="659.5" cy="744.92" r="2.85" fill="#000" stroke="none" stroke-width="0"/>
<circle cx="669.5" cy="745.84" r="2.85" fill="#000" stroke="none" stroke-width="0"/>
<circle cx="663.1" cy="747.67" r="2.85" fill="#000" stroke="none" stroke-width="0"/>
<circle cx="658.5" cy="753.25" r="2.85" fill="#000" stroke="none" stroke-width="0"/>
<circle cx="666.8" cy="751.16" r="2.85" fill="#000" stroke="none" stroke-width="0"/>
<circle cx="671.3" cy="752.41" r="2.85" fill="#000" stroke="none" stroke-width="0"/>
<circle cx="662.2" cy="759.49" r="2.85" fill="#000" stroke="none" stroke-width="0"/>
<circle cx="665.8" cy="760.4" r="2.85" fill="#000" stroke="none" stroke-width="0"/>
<circle cx="673.1" cy="751.16" r="2.85" fill="#000" stroke="none" stroke-width="0"/>
<line x1="585.5" y1="694.14" x2="585.5" y2="764.9" stroke="#000" stroke-width="2.3"/>
<line x1="581.5" y1="764.9" x2="585.5" y2="764.9" stroke="#000" stroke-width="2"/>
<text x="579.3" y="770.6" font-size="16" fill="#000" text-anchor="end">0.0</text>
<line x1="581.5" y1="748.25" x2="585.5" y2="748.25" stroke="#000" stroke-width="2"/>
<text x="579.3" y="753.95" font-size="16" fill="#000" text-anchor="end">0.2</text>
<line x1="581.5" y1="731.6" x2="585.5" y2="731.6" stroke="#000" stroke-width="2"/>
<text x="579.3" y="737.3" font-size="16" fill="#000" text-anchor="end">0.4</text>
<line x1="581.5" y1="714.95" x2="585.5" y2="714.95" stroke="#000" stroke-width="2"/>
<text x="579.3" y="720.65" font-size="16" fill="#000" text-anchor="end">0.6</text>
<line x1="581.5" y1="698.3" x2="585.5" y2="698.3" stroke="#000" stroke-width="2"/>
<text x="579.3" y="704" font-size="16" fill="#000" text-anchor="end">0.8</text>
<line x1="584.5" y1="764.9" x2="681.4" y2="764.9" stroke="#000" stroke-width="2"/>
<line x1="602.4" y1="764.9" x2="602.4" y2="768.9" stroke="#000" stroke-width="2"/>
<line x1="634.1" y1="764.9" x2="634.1" y2="768.9" stroke="#000" stroke-width="2"/>
<line x1="665.85" y1="764.9" x2="665.85" y2="768.9" stroke="#000" stroke-width="2"/>
<text x="614.4" y="777.9" font-size="16.5" fill="#000" text-anchor="end" transform="rotate(-35 614.4 777.9)">UNINJURED</text>
<text x="646.1" y="777.9" font-size="16.5" fill="#000" text-anchor="end" transform="rotate(-35 646.1 777.9)">CONTROL</text>
<text x="675.55" y="779.4" font-size="16.5" fill="#000" text-anchor="end" transform="rotate(-35 675.55 779.4)">bPAC</text>
<text x="547.6" y="728" font-size="16" fill="#000" text-anchor="middle" transform="rotate(-90 547.6 728)">AP delay (sec)</text>
<path d="M602.3 680 L602.3 676.1 L664.9 676.1 L664.9 680" fill="none" stroke="#000" stroke-width="1.3"/>
<text x="633.6" y="671.3" font-size="13.5" fill="#000" text-anchor="middle">n.s</text>
<path d="M602.3 690.7 L602.3 687 L631.5 687 L631.5 690.7" fill="none" stroke="#000" stroke-width="1.3"/>
<text x="616.9" y="691.6" font-size="18.5" fill="#000" text-anchor="middle" stroke="#000" stroke-width="0.35">*</text>
<path d="M635.7 690.7 L635.7 687 L664.9 687 L664.9 690.7" fill="none" stroke="#000" stroke-width="1.3"/>
<text x="650.3" y="691.6" font-size="18.5" fill="#000" text-anchor="middle" stroke="#000" stroke-width="0.35">*</text>
<line x1="581.5" y1="694.3" x2="585.5" y2="694.3" stroke="#000" stroke-width="2"/>
<text x="4.9" y="851.8" font-size="16" font-weight="bold" fill="#000" text-anchor="start">L</text>
<line x1="54.8" y1="855.08" x2="54.8" y2="1012.1" stroke="#000" stroke-width="2.2"/>
<line x1="53.8" y1="1011.1" x2="287.2" y2="1011.1" stroke="#000" stroke-width="2.2"/>
<line x1="50.3" y1="1011.1" x2="54.8" y2="1011.1" stroke="#000" stroke-width="2"/>
<text x="48.3" y="1016.9" font-size="16" fill="#000" text-anchor="end">0</text>
<line x1="50.3" y1="972.22" x2="54.8" y2="972.22" stroke="#000" stroke-width="2"/>
<text x="48.3" y="978.02" font-size="16" fill="#000" text-anchor="end">10</text>
<line x1="50.3" y1="933.34" x2="54.8" y2="933.34" stroke="#000" stroke-width="2"/>
<text x="48.3" y="939.14" font-size="16" fill="#000" text-anchor="end">20</text>
<line x1="50.3" y1="894.46" x2="54.8" y2="894.46" stroke="#000" stroke-width="2"/>
<text x="48.3" y="900.26" font-size="16" fill="#000" text-anchor="end">30</text>
<line x1="50.3" y1="855.58" x2="54.8" y2="855.58" stroke="#000" stroke-width="2"/>
<text x="48.3" y="861.38" font-size="16" fill="#000" text-anchor="end">40</text>
<line x1="54.8" y1="1011.1" x2="54.8" y2="1015.6" stroke="#000" stroke-width="2"/>
<text x="54.8" y="1032.1" font-size="16" fill="#000" text-anchor="middle">0</text>
<line x1="112.65" y1="1011.1" x2="112.65" y2="1015.6" stroke="#000" stroke-width="2"/>
<text x="112.65" y="1032.1" font-size="16" fill="#000" text-anchor="middle">50</text>
<line x1="170.5" y1="1011.1" x2="170.5" y2="1015.6" stroke="#000" stroke-width="2"/>
<text x="170.5" y="1032.1" font-size="16" fill="#000" text-anchor="middle">100</text>
<line x1="228.35" y1="1011.1" x2="228.35" y2="1015.6" stroke="#000" stroke-width="2"/>
<text x="228.35" y="1032.1" font-size="16" fill="#000" text-anchor="middle">150</text>
<line x1="286.2" y1="1011.1" x2="286.2" y2="1015.6" stroke="#000" stroke-width="2"/>
<text x="286.2" y="1032.1" font-size="16" fill="#000" text-anchor="middle">200</text>
<text x="170.5" y="1056.4" font-size="16" fill="#000" text-anchor="middle">Current (pA)</text>
<text x="17.2" y="932.9" font-size="16" fill="#000" text-anchor="middle" transform="rotate(-90 17.2 932.9)">ΔVm (mV)</text>
<path d="M66.37 1001.12 L77.94 991.73 L89.51 982.92 L101.08 974.5 L112.65 965.69 L124.22 951.13 L135.79 945.39 L147.36 937.73 L158.93 923.94 L170.5 918.2 L182.07 913.22 L193.64 902.88 L205.21 896.37 L216.78 897.13 L228.35 896.37 L239.92 890.62 L251.49 884.49 L263.06 880.66 L274.63 880.28" fill="none" stroke="#9a9a9a" stroke-width="1.8" stroke-linejoin="round"/>
<line x1="66.37" y1="992.31" x2="66.37" y2="988.42" stroke="#a01e55" stroke-width="1.2"/>
<line x1="63.87" y1="988.42" x2="68.87" y2="988.42" stroke="#a01e55" stroke-width="1.2"/>
<line x1="66.37" y1="992.31" x2="66.37" y2="996.2" stroke="#a01e55" stroke-width="1.2"/>
<line x1="63.87" y1="996.2" x2="68.87" y2="996.2" stroke="#a01e55" stroke-width="1.2"/>
<line x1="77.94" y1="972.97" x2="77.94" y2="968.69" stroke="#a01e55" stroke-width="1.2"/>
<line x1="75.44" y1="968.69" x2="80.44" y2="968.69" stroke="#a01e55" stroke-width="1.2"/>
<line x1="77.94" y1="972.97" x2="77.94" y2="977.24" stroke="#a01e55" stroke-width="1.2"/>
<line x1="75.44" y1="977.24" x2="80.44" y2="977.24" stroke="#a01e55" stroke-width="1.2"/>
<line x1="89.51" y1="969.9" x2="89.51" y2="965.24" stroke="#a01e55" stroke-width="1.2"/>
<line x1="87.01" y1="965.24" x2="92.01" y2="965.24" stroke="#a01e55" stroke-width="1.2"/>
<line x1="89.51" y1="969.9" x2="89.51" y2="974.57" stroke="#a01e55" stroke-width="1.2"/>
<line x1="87.01" y1="974.57" x2="92.01" y2="974.57" stroke="#a01e55" stroke-width="1.2"/>
<line x1="101.08" y1="959.56" x2="101.08" y2="954.51" stroke="#a01e55" stroke-width="1.2"/>
<line x1="98.58" y1="954.51" x2="103.58" y2="954.51" stroke="#a01e55" stroke-width="1.2"/>
<line x1="101.08" y1="959.56" x2="101.08" y2="964.62" stroke="#a01e55" stroke-width="1.2"/>
<line x1="98.58" y1="964.62" x2="103.58" y2="964.62" stroke="#a01e55" stroke-width="1.2"/>
<line x1="112.65" y1="946.16" x2="112.65" y2="940.71" stroke="#a01e55" stroke-width="1.2"/>
<line x1="110.15" y1="940.71" x2="115.15" y2="940.71" stroke="#a01e55" stroke-width="1.2"/>
<line x1="112.65" y1="946.16" x2="112.65" y2="951.6" stroke="#a01e55" stroke-width="1.2"/>
<line x1="110.15" y1="951.6" x2="115.15" y2="951.6" stroke="#a01e55" stroke-width="1.2"/>
<line x1="124.22" y1="939.64" x2="124.22" y2="933.81" stroke="#a01e55" stroke-width="1.2"/>
<line x1="121.72" y1="933.81" x2="126.72" y2="933.81" stroke="#a01e55" stroke-width="1.2"/>
<line x1="124.22" y1="939.64" x2="124.22" y2="945.48" stroke="#a01e55" stroke-width="1.2"/>
<line x1="121.72" y1="945.48" x2="126.72" y2="945.48" stroke="#a01e55" stroke-width="1.2"/>
<line x1="135.79" y1="936.58" x2="135.79" y2="930.36" stroke="#a01e55" stroke-width="1.2"/>
<line x1="133.29" y1="930.36" x2="138.29" y2="930.36" stroke="#a01e55" stroke-width="1.2"/>
<line x1="135.79" y1="936.58" x2="135.79" y2="942.8" stroke="#a01e55" stroke-width="1.2"/>
<line x1="133.29" y1="942.8" x2="138.29" y2="942.8" stroke="#a01e55" stroke-width="1.2"/>
<line x1="147.36" y1="931.99" x2="147.36" y2="925.76" stroke="#a01e55" stroke-width="1.2"/>
<line x1="144.86" y1="925.76" x2="149.86" y2="925.76" stroke="#a01e55" stroke-width="1.2"/>
<line x1="147.36" y1="931.99" x2="147.36" y2="938.21" stroke="#a01e55" stroke-width="1.2"/>
<line x1="144.86" y1="938.21" x2="149.86" y2="938.21" stroke="#a01e55" stroke-width="1.2"/>
<line x1="158.93" y1="930.84" x2="158.93" y2="924.23" stroke="#a01e55" stroke-width="1.2"/>
<line x1="156.43" y1="924.23" x2="161.43" y2="924.23" stroke="#a01e55" stroke-width="1.2"/>
<line x1="158.93" y1="930.84" x2="158.93" y2="937.45" stroke="#a01e55" stroke-width="1.2"/>
<line x1="156.43" y1="937.45" x2="161.43" y2="937.45" stroke="#a01e55" stroke-width="1.2"/>
<line x1="170.5" y1="918.96" x2="170.5" y2="912.35" stroke="#a01e55" stroke-width="1.2"/>
<line x1="168" y1="912.35" x2="173" y2="912.35" stroke="#a01e55" stroke-width="1.2"/>
<line x1="170.5" y1="918.96" x2="170.5" y2="925.57" stroke="#a01e55" stroke-width="1.2"/>
<line x1="168" y1="925.57" x2="173" y2="925.57" stroke="#a01e55" stroke-width="1.2"/>
<line x1="182.07" y1="915.9" x2="182.07" y2="908.9" stroke="#a01e55" stroke-width="1.2"/>
<line x1="179.57" y1="908.9" x2="184.57" y2="908.9" stroke="#a01e55" stroke-width="1.2"/>
<line x1="182.07" y1="915.9" x2="182.07" y2="922.9" stroke="#a01e55" stroke-width="1.2"/>
<line x1="179.57" y1="922.9" x2="184.57" y2="922.9" stroke="#a01e55" stroke-width="1.2"/>
<line x1="193.64" y1="913.6" x2="193.64" y2="906.6" stroke="#a01e55" stroke-width="1.2"/>
<line x1="191.14" y1="906.6" x2="196.14" y2="906.6" stroke="#a01e55" stroke-width="1.2"/>
<line x1="193.64" y1="913.6" x2="193.64" y2="920.6" stroke="#a01e55" stroke-width="1.2"/>
<line x1="191.14" y1="920.6" x2="196.14" y2="920.6" stroke="#a01e55" stroke-width="1.2"/>
<line x1="205.21" y1="907.09" x2="205.21" y2="900.09" stroke="#a01e55" stroke-width="1.2"/>
<line x1="202.71" y1="900.09" x2="207.71" y2="900.09" stroke="#a01e55" stroke-width="1.2"/>
<line x1="205.21" y1="907.09" x2="205.21" y2="914.09" stroke="#a01e55" stroke-width="1.2"/>
<line x1="202.71" y1="914.09" x2="207.71" y2="914.09" stroke="#a01e55" stroke-width="1.2"/>
<line x1="216.78" y1="906.32" x2="216.78" y2="898.94" stroke="#a01e55" stroke-width="1.2"/>
<line x1="214.28" y1="898.94" x2="219.28" y2="898.94" stroke="#a01e55" stroke-width="1.2"/>
<line x1="216.78" y1="906.32" x2="216.78" y2="913.71" stroke="#a01e55" stroke-width="1.2"/>
<line x1="214.28" y1="913.71" x2="219.28" y2="913.71" stroke="#a01e55" stroke-width="1.2"/>
<line x1="228.35" y1="895.98" x2="228.35" y2="888.6" stroke="#a01e55" stroke-width="1.2"/>
<line x1="225.85" y1="888.6" x2="230.85" y2="888.6" stroke="#a01e55" stroke-width="1.2"/>
<line x1="228.35" y1="895.98" x2="228.35" y2="903.37" stroke="#a01e55" stroke-width="1.2"/>
<line x1="225.85" y1="903.37" x2="230.85" y2="903.37" stroke="#a01e55" stroke-width="1.2"/>
<line x1="239.92" y1="886.02" x2="239.92" y2="878.64" stroke="#a01e55" stroke-width="1.2"/>
<line x1="237.42" y1="878.64" x2="242.42" y2="878.64" stroke="#a01e55" stroke-width="1.2"/>
<line x1="239.92" y1="886.02" x2="239.92" y2="893.41" stroke="#a01e55" stroke-width="1.2"/>
<line x1="237.42" y1="893.41" x2="242.42" y2="893.41" stroke="#a01e55" stroke-width="1.2"/>
<line x1="251.49" y1="886.02" x2="251.49" y2="878.25" stroke="#a01e55" stroke-width="1.2"/>
<line x1="248.99" y1="878.25" x2="253.99" y2="878.25" stroke="#a01e55" stroke-width="1.2"/>
<line x1="251.49" y1="886.02" x2="251.49" y2="893.8" stroke="#a01e55" stroke-width="1.2"/>
<line x1="248.99" y1="893.8" x2="253.99" y2="893.8" stroke="#a01e55" stroke-width="1.2"/>
<line x1="263.06" y1="877.98" x2="263.06" y2="870.21" stroke="#a01e55" stroke-width="1.2"/>
<line x1="260.56" y1="870.21" x2="265.56" y2="870.21" stroke="#a01e55" stroke-width="1.2"/>
<line x1="263.06" y1="877.98" x2="263.06" y2="885.76" stroke="#a01e55" stroke-width="1.2"/>
<line x1="260.56" y1="885.76" x2="265.56" y2="885.76" stroke="#a01e55" stroke-width="1.2"/>
<line x1="274.63" y1="874.54" x2="274.63" y2="866.37" stroke="#a01e55" stroke-width="1.2"/>
<line x1="272.13" y1="866.37" x2="277.13" y2="866.37" stroke="#a01e55" stroke-width="1.2"/>
<line x1="274.63" y1="874.54" x2="274.63" y2="882.7" stroke="#a01e55" stroke-width="1.2"/>
<line x1="272.13" y1="882.7" x2="277.13" y2="882.7" stroke="#a01e55" stroke-width="1.2"/>
<path d="M66.37 992.31 L77.94 972.97 L89.51 969.9 L101.08 959.56 L112.65 946.16 L124.22 939.64 L135.79 936.58 L147.36 931.99 L158.93 930.84 L170.5 918.96 L182.07 915.9 L193.64 913.6 L205.21 907.09 L216.78 906.32 L228.35 895.98 L239.92 886.02 L251.49 886.02 L263.06 877.98 L274.63 874.54" fill="none" stroke="#a01e55" stroke-width="1.8" stroke-linejoin="round"/>
<line x1="66.37" y1="999.01" x2="66.37" y2="995.51" stroke="#000" stroke-width="1.2"/>
<line x1="63.87" y1="995.51" x2="68.87" y2="995.51" stroke="#000" stroke-width="1.2"/>
<line x1="77.94" y1="986.75" x2="77.94" y2="982.87" stroke="#000" stroke-width="1.2"/>
<line x1="75.44" y1="982.87" x2="80.44" y2="982.87" stroke="#000" stroke-width="1.2"/>
<line x1="89.51" y1="977.18" x2="89.51" y2="972.9" stroke="#000" stroke-width="1.2"/>
<line x1="87.01" y1="972.9" x2="92.01" y2="972.9" stroke="#000" stroke-width="1.2"/>
<line x1="101.08" y1="966.07" x2="101.08" y2="961.41" stroke="#000" stroke-width="1.2"/>
<line x1="98.58" y1="961.41" x2="103.58" y2="961.41" stroke="#000" stroke-width="1.2"/>
<line x1="112.65" y1="953.05" x2="112.65" y2="948" stroke="#000" stroke-width="1.2"/>
<line x1="110.15" y1="948" x2="115.15" y2="948" stroke="#000" stroke-width="1.2"/>
<line x1="124.22" y1="939.64" x2="124.22" y2="934.2" stroke="#000" stroke-width="1.2"/>
<line x1="121.72" y1="934.2" x2="126.72" y2="934.2" stroke="#000" stroke-width="1.2"/>
<line x1="135.79" y1="934.28" x2="135.79" y2="928.84" stroke="#000" stroke-width="1.2"/>
<line x1="133.29" y1="928.84" x2="138.29" y2="928.84" stroke="#000" stroke-width="1.2"/>
<line x1="147.36" y1="927.77" x2="147.36" y2="921.94" stroke="#000" stroke-width="1.2"/>
<line x1="144.86" y1="921.94" x2="149.86" y2="921.94" stroke="#000" stroke-width="1.2"/>
<line x1="158.93" y1="915.52" x2="158.93" y2="909.3" stroke="#000" stroke-width="1.2"/>
<line x1="156.43" y1="909.3" x2="161.43" y2="909.3" stroke="#000" stroke-width="1.2"/>
<line x1="170.5" y1="907.47" x2="170.5" y2="901.25" stroke="#000" stroke-width="1.2"/>
<line x1="168" y1="901.25" x2="173" y2="901.25" stroke="#000" stroke-width="1.2"/>
<line x1="182.07" y1="898.66" x2="182.07" y2="892.05" stroke="#000" stroke-width="1.2"/>
<line x1="179.57" y1="892.05" x2="184.57" y2="892.05" stroke="#000" stroke-width="1.2"/>
<line x1="193.64" y1="902.49" x2="193.64" y2="895.88" stroke="#000" stroke-width="1.2"/>
<line x1="191.14" y1="895.88" x2="196.14" y2="895.88" stroke="#000" stroke-width="1.2"/>
<line x1="205.21" y1="893.69" x2="205.21" y2="887.08" stroke="#000" stroke-width="1.2"/>
<line x1="202.71" y1="887.08" x2="207.71" y2="887.08" stroke="#000" stroke-width="1.2"/>
<line x1="216.78" y1="888.32" x2="216.78" y2="881.71" stroke="#000" stroke-width="1.2"/>
<line x1="214.28" y1="881.71" x2="219.28" y2="881.71" stroke="#000" stroke-width="1.2"/>
<line x1="228.35" y1="882.96" x2="228.35" y2="876.35" stroke="#000" stroke-width="1.2"/>
<line x1="225.85" y1="876.35" x2="230.85" y2="876.35" stroke="#000" stroke-width="1.2"/>
<line x1="239.92" y1="886.02" x2="239.92" y2="879.42" stroke="#000" stroke-width="1.2"/>
<line x1="237.42" y1="879.42" x2="242.42" y2="879.42" stroke="#000" stroke-width="1.2"/>
<line x1="251.49" y1="878.37" x2="251.49" y2="871.37" stroke="#000" stroke-width="1.2"/>
<line x1="248.99" y1="871.37" x2="253.99" y2="871.37" stroke="#000" stroke-width="1.2"/>
<line x1="263.06" y1="873.77" x2="263.06" y2="866.77" stroke="#000" stroke-width="1.2"/>
<line x1="260.56" y1="866.77" x2="265.56" y2="866.77" stroke="#000" stroke-width="1.2"/>
<line x1="274.63" y1="874.54" x2="274.63" y2="867.54" stroke="#000" stroke-width="1.2"/>
<line x1="272.13" y1="867.54" x2="277.13" y2="867.54" stroke="#000" stroke-width="1.2"/>
<path d="M66.37 999.01 L77.94 986.75 L89.51 977.18 L101.08 966.07 L112.65 953.05 L124.22 939.64 L135.79 934.28 L147.36 927.77 L158.93 915.52 L170.5 907.47 L182.07 898.66 L193.64 902.49 L205.21 893.69 L216.78 888.32 L228.35 882.96 L239.92 886.02 L251.49 878.37 L263.06 873.77 L274.63 874.54" fill="none" stroke="#000" stroke-width="1.2" stroke-linejoin="round"/>
<circle cx="66.37" cy="1001.12" r="4.1" fill="#a0a0a0" stroke="#000" stroke-width="1.2"/>
<circle cx="77.94" cy="991.73" r="4.1" fill="#a0a0a0" stroke="#000" stroke-width="1.2"/>
<circle cx="89.51" cy="982.92" r="4.1" fill="#a0a0a0" stroke="#000" stroke-width="1.2"/>
<circle cx="101.08" cy="974.5" r="4.1" fill="#a0a0a0" stroke="#000" stroke-width="1.2"/>
<circle cx="112.65" cy="965.69" r="4.1" fill="#a0a0a0" stroke="#000" stroke-width="1.2"/>
<circle cx="124.22" cy="951.13" r="4.1" fill="#a0a0a0" stroke="#000" stroke-width="1.2"/>
<circle cx="135.79" cy="945.39" r="4.1" fill="#a0a0a0" stroke="#000" stroke-width="1.2"/>
<circle cx="147.36" cy="937.73" r="4.1" fill="#a0a0a0" stroke="#000" stroke-width="1.2"/>
<circle cx="158.93" cy="923.94" r="4.1" fill="#a0a0a0" stroke="#000" stroke-width="1.2"/>
<circle cx="170.5" cy="918.2" r="4.1" fill="#a0a0a0" stroke="#000" stroke-width="1.2"/>
<circle cx="182.07" cy="913.22" r="4.1" fill="#a0a0a0" stroke="#000" stroke-width="1.2"/>
<circle cx="193.64" cy="902.88" r="4.1" fill="#a0a0a0" stroke="#000" stroke-width="1.2"/>
<circle cx="205.21" cy="896.37" r="4.1" fill="#a0a0a0" stroke="#000" stroke-width="1.2"/>
<circle cx="216.78" cy="897.13" r="4.1" fill="#a0a0a0" stroke="#000" stroke-width="1.2"/>
<circle cx="228.35" cy="896.37" r="4.1" fill="#a0a0a0" stroke="#000" stroke-width="1.2"/>
<circle cx="239.92" cy="890.62" r="4.1" fill="#a0a0a0" stroke="#000" stroke-width="1.2"/>
<circle cx="251.49" cy="884.49" r="4.1" fill="#a0a0a0" stroke="#000" stroke-width="1.2"/>
<circle cx="263.06" cy="880.66" r="4.1" fill="#a0a0a0" stroke="#000" stroke-width="1.2"/>
<circle cx="274.63" cy="880.28" r="4.1" fill="#a0a0a0" stroke="#000" stroke-width="1.2"/>
<rect x="62.47" y="988.41" width="7.8" height="7.8" fill="#a01e55" stroke="#000" stroke-width="1.3"/>
<rect x="74.04" y="969.07" width="7.8" height="7.8" fill="#a01e55" stroke="#000" stroke-width="1.3"/>
<rect x="85.61" y="966" width="7.8" height="7.8" fill="#a01e55" stroke="#000" stroke-width="1.3"/>
<rect x="97.18" y="955.66" width="7.8" height="7.8" fill="#a01e55" stroke="#000" stroke-width="1.3"/>
<rect x="108.75" y="942.26" width="7.8" height="7.8" fill="#a01e55" stroke="#000" stroke-width="1.3"/>
<rect x="120.32" y="935.75" width="7.8" height="7.8" fill="#a01e55" stroke="#000" stroke-width="1.3"/>
<rect x="131.89" y="932.68" width="7.8" height="7.8" fill="#a01e55" stroke="#000" stroke-width="1.3"/>
<rect x="143.46" y="928.09" width="7.8" height="7.8" fill="#a01e55" stroke="#000" stroke-width="1.3"/>
<rect x="155.03" y="926.94" width="7.8" height="7.8" fill="#a01e55" stroke="#000" stroke-width="1.3"/>
<rect x="166.6" y="915.06" width="7.8" height="7.8" fill="#a01e55" stroke="#000" stroke-width="1.3"/>
<rect x="178.17" y="912" width="7.8" height="7.8" fill="#a01e55" stroke="#000" stroke-width="1.3"/>
<rect x="189.74" y="909.7" width="7.8" height="7.8" fill="#a01e55" stroke="#000" stroke-width="1.3"/>
<rect x="201.31" y="903.19" width="7.8" height="7.8" fill="#a01e55" stroke="#000" stroke-width="1.3"/>
<rect x="212.88" y="902.42" width="7.8" height="7.8" fill="#a01e55" stroke="#000" stroke-width="1.3"/>
<rect x="224.45" y="892.08" width="7.8" height="7.8" fill="#a01e55" stroke="#000" stroke-width="1.3"/>
<rect x="236.02" y="882.12" width="7.8" height="7.8" fill="#a01e55" stroke="#000" stroke-width="1.3"/>
<rect x="247.59" y="882.12" width="7.8" height="7.8" fill="#a01e55" stroke="#000" stroke-width="1.3"/>
<rect x="259.16" y="874.08" width="7.8" height="7.8" fill="#a01e55" stroke="#000" stroke-width="1.3"/>
<rect x="270.73" y="870.64" width="7.8" height="7.8" fill="#a01e55" stroke="#000" stroke-width="1.3"/>
<rect x="62.47" y="995.11" width="7.8" height="7.8" fill="none" stroke="#000" stroke-width="1.3"/>
<rect x="74.04" y="982.85" width="7.8" height="7.8" fill="none" stroke="#000" stroke-width="1.3"/>
<rect x="85.61" y="973.28" width="7.8" height="7.8" fill="none" stroke="#000" stroke-width="1.3"/>
<rect x="97.18" y="962.17" width="7.8" height="7.8" fill="none" stroke="#000" stroke-width="1.3"/>
<rect x="108.75" y="949.15" width="7.8" height="7.8" fill="none" stroke="#000" stroke-width="1.3"/>
<rect x="120.32" y="935.75" width="7.8" height="7.8" fill="none" stroke="#000" stroke-width="1.3"/>
<rect x="131.89" y="930.38" width="7.8" height="7.8" fill="none" stroke="#000" stroke-width="1.3"/>
<rect x="143.46" y="923.87" width="7.8" height="7.8" fill="none" stroke="#000" stroke-width="1.3"/>
<rect x="155.03" y="911.62" width="7.8" height="7.8" fill="none" stroke="#000" stroke-width="1.3"/>
<rect x="166.6" y="903.57" width="7.8" height="7.8" fill="none" stroke="#000" stroke-width="1.3"/>
<rect x="178.17" y="894.76" width="7.8" height="7.8" fill="none" stroke="#000" stroke-width="1.3"/>
<rect x="189.74" y="898.59" width="7.8" height="7.8" fill="none" stroke="#000" stroke-width="1.3"/>
<rect x="201.31" y="889.79" width="7.8" height="7.8" fill="none" stroke="#000" stroke-width="1.3"/>
<rect x="212.88" y="884.42" width="7.8" height="7.8" fill="none" stroke="#000" stroke-width="1.3"/>
<rect x="224.45" y="879.06" width="7.8" height="7.8" fill="none" stroke="#000" stroke-width="1.3"/>
<rect x="236.02" y="882.12" width="7.8" height="7.8" fill="none" stroke="#000" stroke-width="1.3"/>
<rect x="247.59" y="874.47" width="7.8" height="7.8" fill="none" stroke="#000" stroke-width="1.3"/>
<rect x="259.16" y="869.87" width="7.8" height="7.8" fill="none" stroke="#000" stroke-width="1.3"/>
<rect x="270.73" y="870.64" width="7.8" height="7.8" fill="none" stroke="#000" stroke-width="1.3"/>
<line x1="178.6" y1="939.8" x2="198.3" y2="939.8" stroke="#000" stroke-width="1.4"/>
<rect x="184.6" y="935.9" width="7.8" height="7.8" fill="#fff" stroke="#000" stroke-width="1.3"/>
<text x="211.5" y="945.7" font-size="16" font-weight="bold" fill="#000" text-anchor="start">Uninjured</text>
<line x1="178.6" y1="968.2" x2="198.3" y2="968.2" stroke="#9a9a9a" stroke-width="1.4"/>
<circle cx="188.5" cy="968.2" r="4.1" fill="#a0a0a0" stroke="#000" stroke-width="1.2"/>
<text x="211.5" y="974.1" font-size="16" font-weight="bold" fill="#8c8c8c" text-anchor="start">Control</text>
<line x1="178.6" y1="994.5" x2="198.3" y2="994.5" stroke="#a01e55" stroke-width="1.4"/>
<rect x="184.6" y="990.6" width="7.8" height="7.8" fill="#a01e55" stroke="#000" stroke-width="1.3"/>
<text x="211.5" y="1000.4" font-size="16" font-weight="bold" fill="#a01e55" text-anchor="start">bPAC</text>
<text x="385.8" y="849.7" font-size="16" font-weight="bold" fill="#000" text-anchor="start">M</text>
<line x1="437.6" y1="854.9" x2="437.6" y2="1011.4" stroke="#000" stroke-width="2.2"/>
<line x1="436.6" y1="1010.4" x2="670.6" y2="1010.4" stroke="#000" stroke-width="2.2"/>
<line x1="433.1" y1="1010.4" x2="437.6" y2="1010.4" stroke="#000" stroke-width="2"/>
<text x="431.1" y="1016.2" font-size="16" fill="#000" text-anchor="end">0</text>
<line x1="433.1" y1="979.4" x2="437.6" y2="979.4" stroke="#000" stroke-width="2"/>
<text x="431.1" y="985.2" font-size="16" fill="#000" text-anchor="end">5</text>
<line x1="433.1" y1="948.4" x2="437.6" y2="948.4" stroke="#000" stroke-width="2"/>
<text x="431.1" y="954.2" font-size="16" fill="#000" text-anchor="end">10</text>
<line x1="433.1" y1="917.4" x2="437.6" y2="917.4" stroke="#000" stroke-width="2"/>
<text x="431.1" y="923.2" font-size="16" fill="#000" text-anchor="end">15</text>
<line x1="433.1" y1="886.4" x2="437.6" y2="886.4" stroke="#000" stroke-width="2"/>
<text x="431.1" y="892.2" font-size="16" fill="#000" text-anchor="end">20</text>
<line x1="433.1" y1="855.4" x2="437.6" y2="855.4" stroke="#000" stroke-width="2"/>
<text x="431.1" y="861.2" font-size="16" fill="#000" text-anchor="end">25</text>
<line x1="437.6" y1="1010.4" x2="437.6" y2="1014.9" stroke="#000" stroke-width="2"/>
<text x="437.6" y="1031.4" font-size="16" fill="#000" text-anchor="middle">0</text>
<line x1="495.6" y1="1010.4" x2="495.6" y2="1014.9" stroke="#000" stroke-width="2"/>
<text x="495.6" y="1031.4" font-size="16" fill="#000" text-anchor="middle">50</text>
<line x1="553.6" y1="1010.4" x2="553.6" y2="1014.9" stroke="#000" stroke-width="2"/>
<text x="553.6" y="1031.4" font-size="16" fill="#000" text-anchor="middle">100</text>
<line x1="611.6" y1="1010.4" x2="611.6" y2="1014.9" stroke="#000" stroke-width="2"/>
<text x="611.6" y="1031.4" font-size="16" fill="#000" text-anchor="middle">150</text>
<line x1="669.6" y1="1010.4" x2="669.6" y2="1014.9" stroke="#000" stroke-width="2"/>
<text x="669.6" y="1031.4" font-size="16" fill="#000" text-anchor="middle">200</text>
<text x="553.6" y="1055.7" font-size="16" fill="#000" text-anchor="middle">Current (pA)</text>
<text x="398" y="931.4" font-size="16" fill="#000" text-anchor="middle" transform="rotate(-90 398 931.4)">Firing rate (Hz)</text>
<path d="M449.2 1010.4 L460.8 1010.4 L472.4 1010.4 L484 1010.4 L495.6 1010.4 L507.2 1010.4 L518.8 1009.78 L530.4 1009.78 L542 1008.11 L553.6 1005.69 L565.2 1003.77 L576.8 998.99 L588.4 992.23 L600 986.41 L611.6 980.89 L623.2 976.11 L634.8 971.34 L646.4 966.38 L658 960.8" fill="none" stroke="#9a9a9a" stroke-width="1.8" stroke-linejoin="round"/>
<line x1="449.2" y1="1006.37" x2="449.2" y2="1004.51" stroke="#a01e55" stroke-width="1.2"/>
<line x1="446.7" y1="1004.51" x2="451.7" y2="1004.51" stroke="#a01e55" stroke-width="1.2"/>
<line x1="449.2" y1="1006.37" x2="449.2" y2="1008.23" stroke="#a01e55" stroke-width="1.2"/>
<line x1="446.7" y1="1008.23" x2="451.7" y2="1008.23" stroke="#a01e55" stroke-width="1.2"/>
<line x1="460.8" y1="997.69" x2="460.8" y2="993.97" stroke="#a01e55" stroke-width="1.2"/>
<line x1="458.3" y1="993.97" x2="463.3" y2="993.97" stroke="#a01e55" stroke-width="1.2"/>
<line x1="460.8" y1="997.69" x2="460.8" y2="1001.41" stroke="#a01e55" stroke-width="1.2"/>
<line x1="458.3" y1="1001.41" x2="463.3" y2="1001.41" stroke="#a01e55" stroke-width="1.2"/>
<line x1="472.4" y1="986.22" x2="472.4" y2="981.26" stroke="#a01e55" stroke-width="1.2"/>
<line x1="469.9" y1="981.26" x2="474.9" y2="981.26" stroke="#a01e55" stroke-width="1.2"/>
<line x1="472.4" y1="986.22" x2="472.4" y2="991.18" stroke="#a01e55" stroke-width="1.2"/>
<line x1="469.9" y1="991.18" x2="474.9" y2="991.18" stroke="#a01e55" stroke-width="1.2"/>
<line x1="484" y1="976.92" x2="484" y2="970.72" stroke="#a01e55" stroke-width="1.2"/>
<line x1="481.5" y1="970.72" x2="486.5" y2="970.72" stroke="#a01e55" stroke-width="1.2"/>
<line x1="484" y1="976.92" x2="484" y2="983.12" stroke="#a01e55" stroke-width="1.2"/>
<line x1="481.5" y1="983.12" x2="486.5" y2="983.12" stroke="#a01e55" stroke-width="1.2"/>
<line x1="495.6" y1="967.62" x2="495.6" y2="960.8" stroke="#a01e55" stroke-width="1.2"/>
<line x1="493.1" y1="960.8" x2="498.1" y2="960.8" stroke="#a01e55" stroke-width="1.2"/>
<line x1="495.6" y1="967.62" x2="495.6" y2="974.44" stroke="#a01e55" stroke-width="1.2"/>
<line x1="493.1" y1="974.44" x2="498.1" y2="974.44" stroke="#a01e55" stroke-width="1.2"/>
<line x1="507.2" y1="953.98" x2="507.2" y2="946.54" stroke="#a01e55" stroke-width="1.2"/>
<line x1="504.7" y1="946.54" x2="509.7" y2="946.54" stroke="#a01e55" stroke-width="1.2"/>
<line x1="507.2" y1="953.98" x2="507.2" y2="961.42" stroke="#a01e55" stroke-width="1.2"/>
<line x1="504.7" y1="961.42" x2="509.7" y2="961.42" stroke="#a01e55" stroke-width="1.2"/>
<line x1="518.8" y1="946.54" x2="518.8" y2="938.48" stroke="#a01e55" stroke-width="1.2"/>
<line x1="516.3" y1="938.48" x2="521.3" y2="938.48" stroke="#a01e55" stroke-width="1.2"/>
<line x1="518.8" y1="946.54" x2="518.8" y2="954.6" stroke="#a01e55" stroke-width="1.2"/>
<line x1="516.3" y1="954.6" x2="521.3" y2="954.6" stroke="#a01e55" stroke-width="1.2"/>
<line x1="530.4" y1="936" x2="530.4" y2="927.32" stroke="#a01e55" stroke-width="1.2"/>
<line x1="527.9" y1="927.32" x2="532.9" y2="927.32" stroke="#a01e55" stroke-width="1.2"/>
<line x1="530.4" y1="936" x2="530.4" y2="944.68" stroke="#a01e55" stroke-width="1.2"/>
<line x1="527.9" y1="944.68" x2="532.9" y2="944.68" stroke="#a01e55" stroke-width="1.2"/>
<line x1="542" y1="933.52" x2="542" y2="924.22" stroke="#a01e55" stroke-width="1.2"/>
<line x1="539.5" y1="924.22" x2="544.5" y2="924.22" stroke="#a01e55" stroke-width="1.2"/>
<line x1="542" y1="933.52" x2="542" y2="942.82" stroke="#a01e55" stroke-width="1.2"/>
<line x1="539.5" y1="942.82" x2="544.5" y2="942.82" stroke="#a01e55" stroke-width="1.2"/>
<line x1="553.6" y1="926.08" x2="553.6" y2="916.78" stroke="#a01e55" stroke-width="1.2"/>
<line x1="551.1" y1="916.78" x2="556.1" y2="916.78" stroke="#a01e55" stroke-width="1.2"/>
<line x1="553.6" y1="926.08" x2="553.6" y2="935.38" stroke="#a01e55" stroke-width="1.2"/>
<line x1="551.1" y1="935.38" x2="556.1" y2="935.38" stroke="#a01e55" stroke-width="1.2"/>
<line x1="565.2" y1="923.6" x2="565.2" y2="913.68" stroke="#a01e55" stroke-width="1.2"/>
<line x1="562.7" y1="913.68" x2="567.7" y2="913.68" stroke="#a01e55" stroke-width="1.2"/>
<line x1="565.2" y1="923.6" x2="565.2" y2="933.52" stroke="#a01e55" stroke-width="1.2"/>
<line x1="562.7" y1="933.52" x2="567.7" y2="933.52" stroke="#a01e55" stroke-width="1.2"/>
<line x1="576.8" y1="923.6" x2="576.8" y2="913.68" stroke="#a01e55" stroke-width="1.2"/>
<line x1="574.3" y1="913.68" x2="579.3" y2="913.68" stroke="#a01e55" stroke-width="1.2"/>
<line x1="576.8" y1="923.6" x2="576.8" y2="933.52" stroke="#a01e55" stroke-width="1.2"/>
<line x1="574.3" y1="933.52" x2="579.3" y2="933.52" stroke="#a01e55" stroke-width="1.2"/>
<line x1="588.4" y1="924.84" x2="588.4" y2="914.3" stroke="#a01e55" stroke-width="1.2"/>
<line x1="585.9" y1="914.3" x2="590.9" y2="914.3" stroke="#a01e55" stroke-width="1.2"/>
<line x1="588.4" y1="924.84" x2="588.4" y2="935.38" stroke="#a01e55" stroke-width="1.2"/>
<line x1="585.9" y1="935.38" x2="590.9" y2="935.38" stroke="#a01e55" stroke-width="1.2"/>
<line x1="600" y1="924.22" x2="600" y2="913.68" stroke="#a01e55" stroke-width="1.2"/>
<line x1="597.5" y1="913.68" x2="602.5" y2="913.68" stroke="#a01e55" stroke-width="1.2"/>
<line x1="600" y1="924.22" x2="600" y2="934.76" stroke="#a01e55" stroke-width="1.2"/>
<line x1="597.5" y1="934.76" x2="602.5" y2="934.76" stroke="#a01e55" stroke-width="1.2"/>
<line x1="611.6" y1="924.22" x2="611.6" y2="913.68" stroke="#a01e55" stroke-width="1.2"/>
<line x1="609.1" y1="913.68" x2="614.1" y2="913.68" stroke="#a01e55" stroke-width="1.2"/>
<line x1="611.6" y1="924.22" x2="611.6" y2="934.76" stroke="#a01e55" stroke-width="1.2"/>
<line x1="609.1" y1="934.76" x2="614.1" y2="934.76" stroke="#a01e55" stroke-width="1.2"/>
<line x1="623.2" y1="917.4" x2="623.2" y2="906.24" stroke="#a01e55" stroke-width="1.2"/>
<line x1="620.7" y1="906.24" x2="625.7" y2="906.24" stroke="#a01e55" stroke-width="1.2"/>
<line x1="623.2" y1="917.4" x2="623.2" y2="928.56" stroke="#a01e55" stroke-width="1.2"/>
<line x1="620.7" y1="928.56" x2="625.7" y2="928.56" stroke="#a01e55" stroke-width="1.2"/>
<line x1="634.8" y1="917.4" x2="634.8" y2="906.24" stroke="#a01e55" stroke-width="1.2"/>
<line x1="632.3" y1="906.24" x2="637.3" y2="906.24" stroke="#a01e55" stroke-width="1.2"/>
<line x1="634.8" y1="917.4" x2="634.8" y2="928.56" stroke="#a01e55" stroke-width="1.2"/>
<line x1="632.3" y1="928.56" x2="637.3" y2="928.56" stroke="#a01e55" stroke-width="1.2"/>
<line x1="646.4" y1="912.44" x2="646.4" y2="901.28" stroke="#a01e55" stroke-width="1.2"/>
<line x1="643.9" y1="901.28" x2="648.9" y2="901.28" stroke="#a01e55" stroke-width="1.2"/>
<line x1="646.4" y1="912.44" x2="646.4" y2="923.6" stroke="#a01e55" stroke-width="1.2"/>
<line x1="643.9" y1="923.6" x2="648.9" y2="923.6" stroke="#a01e55" stroke-width="1.2"/>
<line x1="658" y1="909.34" x2="658" y2="897.56" stroke="#a01e55" stroke-width="1.2"/>
<line x1="655.5" y1="897.56" x2="660.5" y2="897.56" stroke="#a01e55" stroke-width="1.2"/>
<line x1="658" y1="909.34" x2="658" y2="921.12" stroke="#a01e55" stroke-width="1.2"/>
<line x1="655.5" y1="921.12" x2="660.5" y2="921.12" stroke="#a01e55" stroke-width="1.2"/>
<path d="M449.2 1006.37 L460.8 997.69 L472.4 986.22 L484 976.92 L495.6 967.62 L507.2 953.98 L518.8 946.54 L530.4 936 L542 933.52 L553.6 926.08 L565.2 923.6 L576.8 923.6 L588.4 924.84 L600 924.22 L611.6 924.22 L623.2 917.4 L634.8 917.4 L646.4 912.44 L658 909.34" fill="none" stroke="#a01e55" stroke-width="1.8" stroke-linejoin="round"/>
<line x1="472.4" y1="1008.54" x2="472.4" y2="1007.3" stroke="#000" stroke-width="1.2"/>
<line x1="469.9" y1="1007.3" x2="474.9" y2="1007.3" stroke="#000" stroke-width="1.2"/>
<line x1="472.4" y1="1008.54" x2="472.4" y2="1009.78" stroke="#000" stroke-width="1.2"/>
<line x1="469.9" y1="1009.78" x2="474.9" y2="1009.78" stroke="#000" stroke-width="1.2"/>
<line x1="484" y1="1005.25" x2="484" y2="1003.39" stroke="#000" stroke-width="1.2"/>
<line x1="481.5" y1="1003.39" x2="486.5" y2="1003.39" stroke="#000" stroke-width="1.2"/>
<line x1="484" y1="1005.25" x2="484" y2="1007.11" stroke="#000" stroke-width="1.2"/>
<line x1="481.5" y1="1007.11" x2="486.5" y2="1007.11" stroke="#000" stroke-width="1.2"/>
<line x1="495.6" y1="999.86" x2="495.6" y2="996.76" stroke="#000" stroke-width="1.2"/>
<line x1="493.1" y1="996.76" x2="498.1" y2="996.76" stroke="#000" stroke-width="1.2"/>
<line x1="495.6" y1="999.86" x2="495.6" y2="1002.96" stroke="#000" stroke-width="1.2"/>
<line x1="493.1" y1="1002.96" x2="498.1" y2="1002.96" stroke="#000" stroke-width="1.2"/>
<line x1="507.2" y1="995.83" x2="507.2" y2="991.49" stroke="#000" stroke-width="1.2"/>
<line x1="504.7" y1="991.49" x2="509.7" y2="991.49" stroke="#000" stroke-width="1.2"/>
<line x1="507.2" y1="995.83" x2="507.2" y2="1000.17" stroke="#000" stroke-width="1.2"/>
<line x1="504.7" y1="1000.17" x2="509.7" y2="1000.17" stroke="#000" stroke-width="1.2"/>
<line x1="518.8" y1="986.84" x2="518.8" y2="981.26" stroke="#000" stroke-width="1.2"/>
<line x1="516.3" y1="981.26" x2="521.3" y2="981.26" stroke="#000" stroke-width="1.2"/>
<line x1="518.8" y1="986.84" x2="518.8" y2="992.42" stroke="#000" stroke-width="1.2"/>
<line x1="516.3" y1="992.42" x2="521.3" y2="992.42" stroke="#000" stroke-width="1.2"/>
<line x1="530.4" y1="980.02" x2="530.4" y2="973.2" stroke="#000" stroke-width="1.2"/>
<line x1="527.9" y1="973.2" x2="532.9" y2="973.2" stroke="#000" stroke-width="1.2"/>
<line x1="530.4" y1="980.02" x2="530.4" y2="986.84" stroke="#000" stroke-width="1.2"/>
<line x1="527.9" y1="986.84" x2="532.9" y2="986.84" stroke="#000" stroke-width="1.2"/>
<line x1="542" y1="972.58" x2="542" y2="964.52" stroke="#000" stroke-width="1.2"/>
<line x1="539.5" y1="964.52" x2="544.5" y2="964.52" stroke="#000" stroke-width="1.2"/>
<line x1="542" y1="972.58" x2="542" y2="980.64" stroke="#000" stroke-width="1.2"/>
<line x1="539.5" y1="980.64" x2="544.5" y2="980.64" stroke="#000" stroke-width="1.2"/>
<line x1="553.6" y1="964.83" x2="553.6" y2="955.53" stroke="#000" stroke-width="1.2"/>
<line x1="551.1" y1="955.53" x2="556.1" y2="955.53" stroke="#000" stroke-width="1.2"/>
<line x1="553.6" y1="964.83" x2="553.6" y2="974.13" stroke="#000" stroke-width="1.2"/>
<line x1="551.1" y1="974.13" x2="556.1" y2="974.13" stroke="#000" stroke-width="1.2"/>
<line x1="565.2" y1="956.77" x2="565.2" y2="946.85" stroke="#000" stroke-width="1.2"/>
<line x1="562.7" y1="946.85" x2="567.7" y2="946.85" stroke="#000" stroke-width="1.2"/>
<line x1="565.2" y1="956.77" x2="565.2" y2="966.69" stroke="#000" stroke-width="1.2"/>
<line x1="562.7" y1="966.69" x2="567.7" y2="966.69" stroke="#000" stroke-width="1.2"/>
<line x1="576.8" y1="949.02" x2="576.8" y2="938.48" stroke="#000" stroke-width="1.2"/>
<line x1="574.3" y1="938.48" x2="579.3" y2="938.48" stroke="#000" stroke-width="1.2"/>
<line x1="576.8" y1="949.02" x2="576.8" y2="959.56" stroke="#000" stroke-width="1.2"/>
<line x1="574.3" y1="959.56" x2="579.3" y2="959.56" stroke="#000" stroke-width="1.2"/>
<line x1="588.4" y1="940.96" x2="588.4" y2="929.8" stroke="#000" stroke-width="1.2"/>
<line x1="585.9" y1="929.8" x2="590.9" y2="929.8" stroke="#000" stroke-width="1.2"/>
<line x1="588.4" y1="940.96" x2="588.4" y2="952.12" stroke="#000" stroke-width="1.2"/>
<line x1="585.9" y1="952.12" x2="590.9" y2="952.12" stroke="#000" stroke-width="1.2"/>
<line x1="600" y1="932.28" x2="600" y2="920.5" stroke="#000" stroke-width="1.2"/>
<line x1="597.5" y1="920.5" x2="602.5" y2="920.5" stroke="#000" stroke-width="1.2"/>
<line x1="600" y1="932.28" x2="600" y2="944.06" stroke="#000" stroke-width="1.2"/>
<line x1="597.5" y1="944.06" x2="602.5" y2="944.06" stroke="#000" stroke-width="1.2"/>
<line x1="611.6" y1="924.22" x2="611.6" y2="911.82" stroke="#000" stroke-width="1.2"/>
<line x1="609.1" y1="911.82" x2="614.1" y2="911.82" stroke="#000" stroke-width="1.2"/>
<line x1="611.6" y1="924.22" x2="611.6" y2="936.62" stroke="#000" stroke-width="1.2"/>
<line x1="609.1" y1="936.62" x2="614.1" y2="936.62" stroke="#000" stroke-width="1.2"/>
<line x1="623.2" y1="916.16" x2="623.2" y2="903.76" stroke="#000" stroke-width="1.2"/>
<line x1="620.7" y1="903.76" x2="625.7" y2="903.76" stroke="#000" stroke-width="1.2"/>
<line x1="623.2" y1="916.16" x2="623.2" y2="928.56" stroke="#000" stroke-width="1.2"/>
<line x1="620.7" y1="928.56" x2="625.7" y2="928.56" stroke="#000" stroke-width="1.2"/>
<line x1="634.8" y1="906.86" x2="634.8" y2="893.84" stroke="#000" stroke-width="1.2"/>
<line x1="632.3" y1="893.84" x2="637.3" y2="893.84" stroke="#000" stroke-width="1.2"/>
<line x1="634.8" y1="906.86" x2="634.8" y2="919.88" stroke="#000" stroke-width="1.2"/>
<line x1="632.3" y1="919.88" x2="637.3" y2="919.88" stroke="#000" stroke-width="1.2"/>
<line x1="646.4" y1="902.52" x2="646.4" y2="889.5" stroke="#000" stroke-width="1.2"/>
<line x1="643.9" y1="889.5" x2="648.9" y2="889.5" stroke="#000" stroke-width="1.2"/>
<line x1="646.4" y1="902.52" x2="646.4" y2="915.54" stroke="#000" stroke-width="1.2"/>
<line x1="643.9" y1="915.54" x2="648.9" y2="915.54" stroke="#000" stroke-width="1.2"/>
<line x1="658" y1="897.56" x2="658" y2="884.54" stroke="#000" stroke-width="1.2"/>
<line x1="655.5" y1="884.54" x2="660.5" y2="884.54" stroke="#000" stroke-width="1.2"/>
<line x1="658" y1="897.56" x2="658" y2="910.58" stroke="#000" stroke-width="1.2"/>
<line x1="655.5" y1="910.58" x2="660.5" y2="910.58" stroke="#000" stroke-width="1.2"/>
<path d="M449.2 1010.4 L460.8 1010.4 L472.4 1008.54 L484 1005.25 L495.6 999.86 L507.2 995.83 L518.8 986.84 L530.4 980.02 L542 972.58 L553.6 964.83 L565.2 956.77 L576.8 949.02 L588.4 940.96 L600 932.28 L611.6 924.22 L623.2 916.16 L634.8 906.86 L646.4 902.52 L658 897.56" fill="none" stroke="#000" stroke-width="1.2" stroke-linejoin="round"/>
<circle cx="449.2" cy="1010.4" r="4.1" fill="#a0a0a0" stroke="#000" stroke-width="1.2"/>
<circle cx="460.8" cy="1010.4" r="4.1" fill="#a0a0a0" stroke="#000" stroke-width="1.2"/>
<circle cx="472.4" cy="1010.4" r="4.1" fill="#a0a0a0" stroke="#000" stroke-width="1.2"/>
<circle cx="484" cy="1010.4" r="4.1" fill="#a0a0a0" stroke="#000" stroke-width="1.2"/>
<circle cx="495.6" cy="1010.4" r="4.1" fill="#a0a0a0" stroke="#000" stroke-width="1.2"/>
<circle cx="507.2" cy="1010.4" r="4.1" fill="#a0a0a0" stroke="#000" stroke-width="1.2"/>
<circle cx="518.8" cy="1009.78" r="4.1" fill="#a0a0a0" stroke="#000" stroke-width="1.2"/>
<circle cx="530.4" cy="1009.78" r="4.1" fill="#a0a0a0" stroke="#000" stroke-width="1.2"/>
<circle cx="542" cy="1008.11" r="4.1" fill="#a0a0a0" stroke="#000" stroke-width="1.2"/>
<circle cx="553.6" cy="1005.69" r="4.1" fill="#a0a0a0" stroke="#000" stroke-width="1.2"/>
<circle cx="565.2" cy="1003.77" r="4.1" fill="#a0a0a0" stroke="#000" stroke-width="1.2"/>
<circle cx="576.8" cy="998.99" r="4.1" fill="#a0a0a0" stroke="#000" stroke-width="1.2"/>
<circle cx="588.4" cy="992.23" r="4.1" fill="#a0a0a0" stroke="#000" stroke-width="1.2"/>
<circle cx="600" cy="986.41" r="4.1" fill="#a0a0a0" stroke="#000" stroke-width="1.2"/>
<circle cx="611.6" cy="980.89" r="4.1" fill="#a0a0a0" stroke="#000" stroke-width="1.2"/>
<circle cx="623.2" cy="976.11" r="4.1" fill="#a0a0a0" stroke="#000" stroke-width="1.2"/>
<circle cx="634.8" cy="971.34" r="4.1" fill="#a0a0a0" stroke="#000" stroke-width="1.2"/>
<circle cx="646.4" cy="966.38" r="4.1" fill="#a0a0a0" stroke="#000" stroke-width="1.2"/>
<circle cx="658" cy="960.8" r="4.1" fill="#a0a0a0" stroke="#000" stroke-width="1.2"/>
<rect x="445.3" y="1002.47" width="7.8" height="7.8" fill="#a01e55" stroke="#000" stroke-width="1.3"/>
<rect x="456.9" y="993.79" width="7.8" height="7.8" fill="#a01e55" stroke="#000" stroke-width="1.3"/>
<rect x="468.5" y="982.32" width="7.8" height="7.8" fill="#a01e55" stroke="#000" stroke-width="1.3"/>
<rect x="480.1" y="973.02" width="7.8" height="7.8" fill="#a01e55" stroke="#000" stroke-width="1.3"/>
<rect x="491.7" y="963.72" width="7.8" height="7.8" fill="#a01e55" stroke="#000" stroke-width="1.3"/>
<rect x="503.3" y="950.08" width="7.8" height="7.8" fill="#a01e55" stroke="#000" stroke-width="1.3"/>
<rect x="514.9" y="942.64" width="7.8" height="7.8" fill="#a01e55" stroke="#000" stroke-width="1.3"/>
<rect x="526.5" y="932.1" width="7.8" height="7.8" fill="#a01e55" stroke="#000" stroke-width="1.3"/>
<rect x="538.1" y="929.62" width="7.8" height="7.8" fill="#a01e55" stroke="#000" stroke-width="1.3"/>
<rect x="549.7" y="922.18" width="7.8" height="7.8" fill="#a01e55" stroke="#000" stroke-width="1.3"/>
<rect x="561.3" y="919.7" width="7.8" height="7.8" fill="#a01e55" stroke="#000" stroke-width="1.3"/>
<rect x="572.9" y="919.7" width="7.8" height="7.8" fill="#a01e55" stroke="#000" stroke-width="1.3"/>
<rect x="584.5" y="920.94" width="7.8" height="7.8" fill="#a01e55" stroke="#000" stroke-width="1.3"/>
<rect x="596.1" y="920.32" width="7.8" height="7.8" fill="#a01e55" stroke="#000" stroke-width="1.3"/>
<rect x="607.7" y="920.32" width="7.8" height="7.8" fill="#a01e55" stroke="#000" stroke-width="1.3"/>
<rect x="619.3" y="913.5" width="7.8" height="7.8" fill="#a01e55" stroke="#000" stroke-width="1.3"/>
<rect x="630.9" y="913.5" width="7.8" height="7.8" fill="#a01e55" stroke="#000" stroke-width="1.3"/>
<rect x="642.5" y="908.54" width="7.8" height="7.8" fill="#a01e55" stroke="#000" stroke-width="1.3"/>
<rect x="654.1" y="905.44" width="7.8" height="7.8" fill="#a01e55" stroke="#000" stroke-width="1.3"/>
<rect x="445.3" y="1006.5" width="7.8" height="7.8" fill="none" stroke="#000" stroke-width="1.3"/>
<rect x="456.9" y="1006.5" width="7.8" height="7.8" fill="none" stroke="#000" stroke-width="1.3"/>
<rect x="468.5" y="1004.64" width="7.8" height="7.8" fill="none" stroke="#000" stroke-width="1.3"/>
<rect x="480.1" y="1001.35" width="7.8" height="7.8" fill="none" stroke="#000" stroke-width="1.3"/>
<rect x="491.7" y="995.96" width="7.8" height="7.8" fill="none" stroke="#000" stroke-width="1.3"/>
<rect x="503.3" y="991.93" width="7.8" height="7.8" fill="none" stroke="#000" stroke-width="1.3"/>
<rect x="514.9" y="982.94" width="7.8" height="7.8" fill="none" stroke="#000" stroke-width="1.3"/>
<rect x="526.5" y="976.12" width="7.8" height="7.8" fill="none" stroke="#000" stroke-width="1.3"/>
<rect x="538.1" y="968.68" width="7.8" height="7.8" fill="none" stroke="#000" stroke-width="1.3"/>
<rect x="549.7" y="960.93" width="7.8" height="7.8" fill="none" stroke="#000" stroke-width="1.3"/>
<rect x="561.3" y="952.87" width="7.8" height="7.8" fill="none" stroke="#000" stroke-width="1.3"/>
<rect x="572.9" y="945.12" width="7.8" height="7.8" fill="none" stroke="#000" stroke-width="1.3"/>
<rect x="584.5" y="937.06" width="7.8" height="7.8" fill="none" stroke="#000" stroke-width="1.3"/>
<rect x="596.1" y="928.38" width="7.8" height="7.8" fill="none" stroke="#000" stroke-width="1.3"/>
<rect x="607.7" y="920.32" width="7.8" height="7.8" fill="none" stroke="#000" stroke-width="1.3"/>
<rect x="619.3" y="912.26" width="7.8" height="7.8" fill="none" stroke="#000" stroke-width="1.3"/>
<rect x="630.9" y="902.96" width="7.8" height="7.8" fill="none" stroke="#000" stroke-width="1.3"/>
<rect x="642.5" y="898.62" width="7.8" height="7.8" fill="none" stroke="#000" stroke-width="1.3"/>
<rect x="654.1" y="893.66" width="7.8" height="7.8" fill="none" stroke="#000" stroke-width="1.3"/>
<line x1="453.4" y1="850.5" x2="474.2" y2="850.5" stroke="#000" stroke-width="1.4"/>
<rect x="459.3" y="846.6" width="7.8" height="7.8" fill="#fff" stroke="#000" stroke-width="1.3"/>
<text x="486.6" y="856.8" font-size="16" font-weight="bold" fill="#000" text-anchor="start">Uninjured</text>
<line x1="453.4" y1="877.7" x2="474.2" y2="877.7" stroke="#9a9a9a" stroke-width="1.4"/>
<circle cx="463.2" cy="877.7" r="4.1" fill="#a0a0a0" stroke="#000" stroke-width="1.2"/>
<text x="486.6" y="884" font-size="16" font-weight="bold" fill="#8c8c8c" text-anchor="start">Control</text>
<line x1="453.4" y1="902.4" x2="474.2" y2="902.4" stroke="#a01e55" stroke-width="1.4"/>
<rect x="459.3" y="898.5" width="7.8" height="7.8" fill="#a01e55" stroke="#000" stroke-width="1.3"/>
<text x="486.6" y="908.7" font-size="16" font-weight="bold" fill="#a01e55" text-anchor="start">bPAC</text>
<path d="M655.2 926.5 L661 926.5 L661 954.2 L655.2 954.2" fill="none" stroke="#000" stroke-width="1.3"/>
<path d="M666.5 890.4 L672.1 890.4 L672.1 955.4 L666.5 955.4" fill="none" stroke="#000" stroke-width="1.3"/>
<text x="656.9" y="940.1" font-size="17" fill="#000" text-anchor="middle" transform="rotate(90 656.9 940.1)">*</text>
<text x="667.5" y="923.5" font-size="17" fill="#000" text-anchor="middle" transform="rotate(90 667.5 923.5)">**</text>
<line x1="582.6" y1="123.6" x2="586.4" y2="123.6" stroke="#000" stroke-width="2"/>
<line x1="409" y1="695.3" x2="412.9" y2="695.3" stroke="#000" stroke-width="2"/>
</svg></body></html>
